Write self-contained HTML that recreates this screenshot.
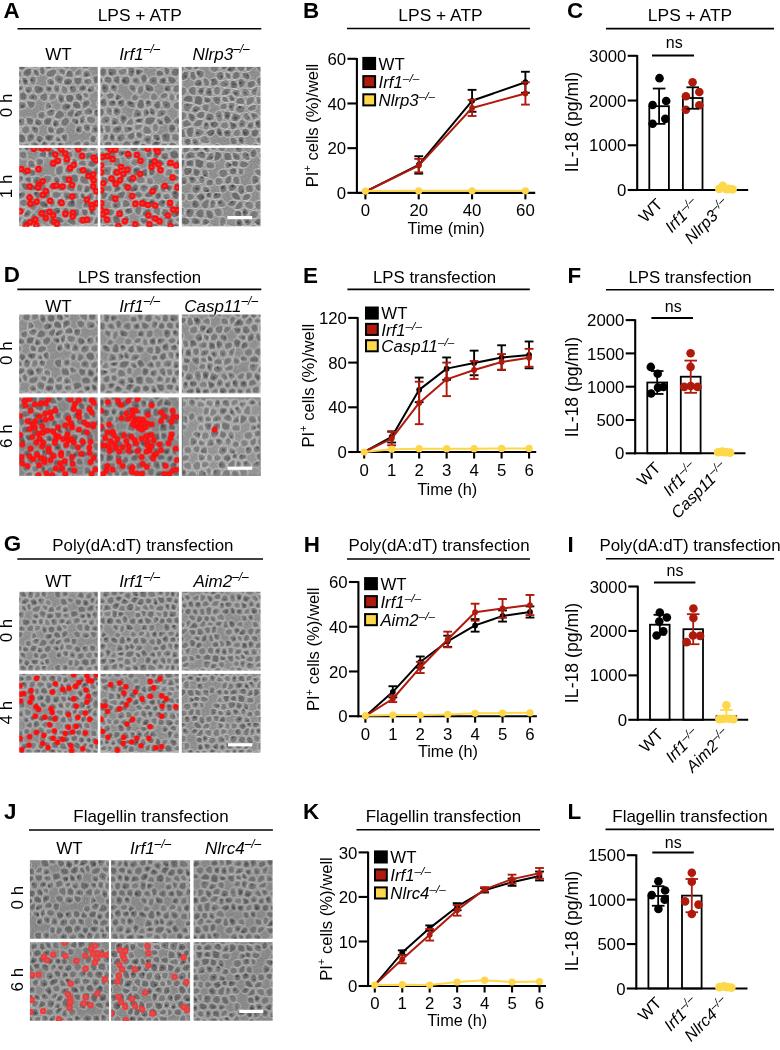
<!DOCTYPE html>
<html><head><meta charset="utf-8"><style>
html,body{margin:0;padding:0;background:#fff;width:780px;height:1050px;overflow:hidden}
svg{display:block;will-change:transform}
text{font-family:"Liberation Sans", sans-serif}
</style></head><body>
<svg width="780" height="1050" viewBox="0 0 780 1050" font-family='"Liberation Sans", sans-serif'>
<defs><pattern id="tx0" width="90" height="90" patternUnits="userSpaceOnUse"><rect width="90" height="90" fill="#929292"/><g stroke="#e4e4e4" stroke-width="0.9" stroke-linejoin="round"><path d="M-2.7 3.9Q-5.9 2.8 -5.7 -0.8Q-5.5 -4.4 -4.8 -5.2Q-4.0 -6.1 -0.2 -4.5Q3.6 -3.0 3.7 -2.8Q3.8 -2.7 3.5 0.2Q3.2 3.1 1.8 4.0Q0.5 4.9 -2.7 3.9Z" fill="rgb(104,104,104)"/><path d="M3.5 90.2Q3.2 93.1 1.8 94.0Q0.5 94.9 -2.7 93.9Q-5.9 92.8 -5.7 89.2Q-5.5 85.6 -4.8 84.8Q-4.0 83.9 -0.2 85.5Q3.6 87.0 3.7 87.2Q3.8 87.3 3.5 90.2Z" fill="rgb(104,104,104)"/><path d="M-5.9 12.1Q-3.2 13.6 -1.6 11.7Q-0.1 9.8 0.2 7.8Q0.5 5.8 -3.0 4.7Q-6.4 3.6 -6.5 3.7Q-6.6 3.7 -7.6 7.2Q-8.6 10.6 -5.9 12.1Z" fill="rgb(105,105,105)"/><path d="M-5.7 20.7Q-2.9 19.5 -0.8 20.6Q1.3 21.8 0.9 24.6Q0.6 27.4 -2.1 29.2Q-4.8 31.0 -7.1 29.2Q-9.3 27.5 -8.9 24.7Q-8.5 21.9 -5.7 20.7Z" fill="rgb(122,122,122)"/><circle cx="-3.5" cy="24.7" r="1.5" fill="#3e3e3e" stroke="none"/><path d="M-2.9 36.9Q-5.0 34.4 -7.2 36.2Q-9.4 38.0 -9.3 40.4Q-9.2 42.8 -7.1 44.0Q-5.0 45.2 -2.8 44.0Q-0.6 42.9 -0.7 41.2Q-0.8 39.4 -2.9 36.9Z" fill="rgb(107,107,107)"/><circle cx="-6.5" cy="40.1" r="1.0" fill="#3e3e3e" stroke="none"/><path d="M2.2 45.3Q4.1 46.4 4.0 49.5Q4.0 52.6 2.4 53.9Q0.9 55.2 -2.5 53.6Q-5.9 51.9 -5.1 49.3Q-4.4 46.6 -2.1 45.4Q0.2 44.3 2.2 45.3Z" fill="rgb(116,116,116)"/><path d="M-2.6 60.8Q0.5 60.2 0.6 58.0Q0.8 55.8 -2.8 54.1Q-6.3 52.4 -8.0 53.8Q-9.6 55.2 -9.4 56.9Q-9.3 58.7 -7.5 60.1Q-5.7 61.5 -2.6 60.8Z" fill="rgb(112,112,112)"/><circle cx="-4.1" cy="57.7" r="1.1" fill="#3e3e3e" stroke="none"/><path d="M2.8 69.1Q3.5 68.6 3.3 65.8Q3.1 63.1 1.8 61.9Q0.6 60.6 -2.5 61.3Q-5.6 62.0 -5.4 65.1Q-5.3 68.2 -1.6 68.9Q2.1 69.5 2.8 69.1Z" fill="rgb(108,108,108)"/><circle cx="-1.8" cy="64.1" r="0.9" fill="#3e3e3e" stroke="none"/><path d="M1.0 72.6Q1.6 70.3 -1.8 69.7Q-5.2 69.1 -7.1 70.6Q-8.9 72.1 -8.5 73.8Q-8.1 75.5 -6.4 77.2Q-4.6 78.8 -2.1 76.9Q0.3 75.0 1.0 72.6Z" fill="rgb(110,110,110)"/><circle cx="-3.4" cy="73.6" r="1.4" fill="#3e3e3e" stroke="none"/><path d="M84.3 -0.8Q84.1 2.8 87.3 3.9Q90.5 4.9 91.8 4.0Q93.2 3.1 93.5 0.2Q93.8 -2.7 93.7 -2.8Q93.6 -3.0 89.8 -4.5Q86.0 -6.1 85.2 -5.2Q84.5 -4.4 84.3 -0.8Z" fill="rgb(104,104,104)"/><path d="M31.6 -3.3Q31.1 -2.9 31.3 -0.0Q31.5 2.8 34.3 3.0Q37.0 3.2 37.2 3.0Q37.4 2.8 38.1 0.0Q38.9 -2.7 35.5 -3.2Q32.1 -3.8 31.6 -3.3Z" fill="rgb(105,105,105)"/><circle cx="32.7" cy="-0.1" r="1.0" fill="#3e3e3e" stroke="none"/><path d="M66.7 0.3Q67.8 3.5 69.7 4.2Q71.5 4.9 72.8 3.6Q74.2 2.4 74.4 -0.8Q74.7 -3.9 74.5 -4.3Q74.2 -4.6 70.4 -4.3Q66.6 -4.1 66.1 -3.5Q65.6 -2.9 66.7 0.3Z" fill="rgb(109,109,109)"/><circle cx="71.3" cy="-1.0" r="1.0" fill="#3e3e3e" stroke="none"/><path d="M75.1 -0.7Q74.8 2.5 78.9 2.8Q83.1 3.2 83.2 3.1Q83.2 3.1 83.5 -0.8Q83.7 -4.8 79.5 -4.4Q75.4 -3.9 75.1 -0.7Z" fill="rgb(109,109,109)"/><circle cx="79.1" cy="-0.7" r="1.0" fill="#3e3e3e" stroke="none"/><path d="M13.3 -7.5Q12.9 -2.9 9.0 -3.1Q5.1 -3.3 5.0 -3.5Q4.9 -3.6 6.1 -6.6Q7.3 -9.6 9.3 -10.8Q11.3 -12.1 12.4 -12.0Q13.6 -12.0 13.3 -7.5Z" fill="rgb(116,116,116)"/><circle cx="11.0" cy="-6.4" r="1.2" fill="#3e3e3e" stroke="none"/><path d="M14.0 -2.4Q13.3 -2.9 13.6 -7.4Q13.9 -12.0 15.3 -12.5Q16.7 -13.0 19.3 -11.8Q21.8 -10.5 21.8 -8.2Q21.8 -5.9 18.2 -3.9Q14.7 -1.8 14.0 -2.4Z" fill="rgb(104,104,104)"/><path d="M31.3 -3.7Q30.8 -3.3 27.6 -3.2Q24.4 -3.2 23.6 -4.5Q22.7 -5.9 22.7 -8.2Q22.7 -10.5 24.3 -11.3Q25.8 -12.1 28.3 -11.8Q30.7 -11.6 31.3 -7.9Q31.8 -4.1 31.3 -3.7Z" fill="rgb(109,109,109)"/><path d="M35.5 -3.7Q32.3 -4.2 31.8 -7.9Q31.3 -11.6 32.1 -12.0Q32.9 -12.4 36.4 -11.0Q39.9 -9.6 40.2 -7.2Q40.6 -4.8 39.7 -4.0Q38.8 -3.2 35.5 -3.7Z" fill="rgb(113,113,113)"/><circle cx="35.0" cy="-7.1" r="0.8" fill="#3e3e3e" stroke="none"/><path d="M58.1 -9.4Q57.6 -7.2 59.3 -5.7Q60.9 -4.1 62.9 -3.9Q64.9 -3.6 65.4 -4.2Q65.9 -4.8 66.1 -7.9Q66.2 -10.9 65.0 -11.8Q63.8 -12.7 61.2 -12.2Q58.6 -11.7 58.1 -9.4Z" fill="rgb(126,126,126)"/><circle cx="62.2" cy="-8.3" r="1.2" fill="#3e3e3e" stroke="none"/><path d="M72.3 -10.5Q70.8 -11.6 68.9 -11.4Q66.9 -11.1 66.7 -7.8Q66.5 -4.5 70.4 -4.8Q74.2 -5.0 74.1 -7.2Q73.9 -9.4 72.3 -10.5Z" fill="rgb(107,107,107)"/><path d="M89.8 85.5Q93.6 87.0 93.7 87.2Q93.8 87.3 93.5 90.2Q93.2 93.1 91.8 94.0Q90.5 94.9 87.3 93.9Q84.1 92.8 84.3 89.2Q84.5 85.6 85.2 84.8Q86.0 83.9 89.8 85.5Z" fill="rgb(104,104,104)"/><path d="M13.4 -1.7Q12.8 -2.2 9.0 -2.4Q5.3 -2.6 5.0 0.4Q4.7 3.3 6.7 4.4Q8.8 5.5 11.9 5.1Q15.0 4.6 14.5 1.7Q14.1 -1.2 13.4 -1.7Z" fill="rgb(119,119,119)"/><path d="M30.9 0.0Q30.7 -2.7 27.6 -2.6Q24.6 -2.6 24.4 0.5Q24.2 3.6 25.8 4.5Q27.4 5.4 29.2 4.0Q31.1 2.7 30.9 0.0Z" fill="rgb(123,123,123)"/><circle cx="29.5" cy="1.1" r="1.4" fill="#3e3e3e" stroke="none"/><path d="M37.2 93.0Q37.4 92.8 38.1 90.0Q38.9 87.3 35.5 86.8Q32.1 86.2 31.6 86.7Q31.1 87.1 31.3 90.0Q31.5 92.8 34.3 93.0Q37.0 93.2 37.2 93.0Z" fill="rgb(105,105,105)"/><circle cx="32.7" cy="89.9" r="1.0" fill="#3e3e3e" stroke="none"/><path d="M38.7 0.2Q39.4 -2.4 40.4 -3.2Q41.3 -4.0 44.9 -2.8Q48.4 -1.5 48.7 -0.1Q49.0 1.2 46.7 3.0Q44.4 4.8 41.2 3.8Q38.0 2.9 38.7 0.2Z" fill="rgb(117,117,117)"/><path d="M65.2 4.3Q66.8 3.6 65.8 0.6Q64.8 -2.4 62.8 -2.7Q60.8 -2.9 59.6 0.4Q58.3 3.7 60.9 4.4Q63.5 5.1 65.2 4.3Z" fill="rgb(127,127,127)"/><path d="M72.8 93.6Q71.5 94.9 69.7 94.2Q67.8 93.5 66.7 90.3Q65.6 87.1 66.1 86.5Q66.6 85.9 70.4 85.7Q74.2 85.4 74.5 85.7Q74.7 86.1 74.4 89.2Q74.2 92.4 72.8 93.6Z" fill="rgb(109,109,109)"/><circle cx="71.3" cy="89.0" r="1.0" fill="#3e3e3e" stroke="none"/><path d="M78.9 92.8Q83.1 93.2 83.2 93.1Q83.2 93.1 83.5 89.2Q83.7 85.2 79.5 85.6Q75.4 86.1 75.1 89.3Q74.8 92.5 78.9 92.8Z" fill="rgb(109,109,109)"/><circle cx="79.1" cy="89.3" r="1.0" fill="#3e3e3e" stroke="none"/><path d="M0.9 8.0Q1.3 6.1 2.7 5.2Q4.1 4.2 6.1 5.4Q8.2 6.5 8.2 10.1Q8.3 13.6 7.4 14.0Q6.6 14.4 3.6 12.2Q0.6 10.0 0.9 8.0Z" fill="rgb(120,120,120)"/><circle cx="4.4" cy="11.3" r="1.3" fill="#3e3e3e" stroke="none"/><path d="M20.5 13.4Q17.7 11.8 17.7 9.1Q17.6 6.4 20.6 5.4Q23.7 4.4 25.3 5.3Q26.9 6.3 27.7 8.4Q28.4 10.4 25.9 12.7Q23.3 15.0 20.5 13.4Z" fill="rgb(121,121,121)"/><path d="M34.2 3.6Q31.6 3.4 29.8 4.8Q28.0 6.1 28.6 8.0Q29.3 10.0 30.7 10.6Q32.1 11.3 34.5 10.9Q36.8 10.5 36.8 7.2Q36.7 3.8 34.2 3.6Z" fill="rgb(111,111,111)"/><circle cx="33.5" cy="6.4" r="0.8" fill="#3e3e3e" stroke="none"/><path d="M37.9 3.6Q38.1 3.4 41.1 4.3Q44.1 5.2 43.5 7.8Q42.9 10.4 41.3 11.1Q39.8 11.7 38.8 11.1Q37.9 10.5 37.8 7.2Q37.7 3.8 37.9 3.6Z" fill="rgb(115,115,115)"/><path d="M60.7 5.1Q63.5 5.8 62.7 9.2Q61.9 12.6 61.1 12.9Q60.3 13.1 57.0 11.3Q53.7 9.4 53.8 7.6Q54.0 5.8 55.9 5.1Q57.9 4.3 60.7 5.1Z" fill="rgb(120,120,120)"/><circle cx="60.8" cy="8.3" r="1.4" fill="#3e3e3e" stroke="none"/><path d="M65.7 5.4Q67.4 4.7 69.1 5.4Q70.9 6.1 71.5 8.5Q72.0 11.0 70.1 12.8Q68.1 14.6 65.3 13.5Q62.5 12.5 63.3 9.4Q64.0 6.2 65.7 5.4Z" fill="rgb(121,121,121)"/><path d="M74.9 11.5Q76.3 12.1 78.6 11.3Q80.9 10.4 82.0 7.0Q83.0 3.7 78.9 3.4Q74.8 3.0 73.5 4.3Q72.2 5.6 72.8 8.2Q73.4 10.8 74.9 11.5Z" fill="rgb(108,108,108)"/><circle cx="79.4" cy="7.4" r="0.8" fill="#3e3e3e" stroke="none"/><path d="M84.1 12.1Q81.4 10.6 82.4 7.2Q83.4 3.7 83.5 3.7Q83.6 3.6 87.0 4.7Q90.5 5.8 90.2 7.8Q89.9 9.8 88.4 11.7Q86.8 13.6 84.1 12.1Z" fill="rgb(105,105,105)"/><path d="M-2.2 16.1Q-2.3 13.9 -1.0 12.2Q0.4 10.5 3.3 12.6Q6.2 14.8 4.6 17.4Q3.1 20.0 2.5 20.2Q1.9 20.5 -0.1 19.3Q-2.1 18.2 -2.2 16.1Z" fill="rgb(126,126,126)"/><circle cx="1.7" cy="13.6" r="1.1" fill="#3e3e3e" stroke="none"/><path d="M7.9 14.9Q8.7 14.5 10.8 15.2Q13.0 15.9 13.3 18.1Q13.6 20.3 11.9 21.6Q10.2 22.9 7.1 21.7Q4.0 20.6 5.6 18.0Q7.1 15.3 7.9 14.9Z" fill="rgb(116,116,116)"/><circle cx="10.3" cy="17.8" r="0.8" fill="#3e3e3e" stroke="none"/><path d="M14.2 18.0Q14.5 20.4 16.3 21.2Q18.2 22.1 20.8 20.6Q23.5 19.1 23.3 17.3Q23.1 15.5 20.3 13.8Q17.5 12.2 15.7 13.9Q13.9 15.6 14.2 18.0Z" fill="rgb(125,125,125)"/><path d="M23.9 17.2Q24.1 19.0 25.5 20.1Q27.0 21.1 29.1 19.9Q31.3 18.7 31.6 15.5Q31.8 12.3 30.2 11.5Q28.7 10.8 26.2 13.1Q23.7 15.4 23.9 17.2Z" fill="rgb(111,111,111)"/><path d="M34.7 12.0Q37.1 11.7 38.1 12.3Q39.1 12.9 39.5 16.3Q39.9 19.7 38.7 20.6Q37.4 21.4 34.6 20.1Q31.8 18.7 32.0 15.6Q32.2 12.4 34.7 12.0Z" fill="rgb(119,119,119)"/><path d="M52.3 11.4Q51.0 12.9 51.0 16.1Q51.0 19.3 52.1 20.3Q53.2 21.2 55.9 19.8Q58.6 18.4 59.3 16.0Q59.9 13.6 56.7 11.8Q53.5 10.0 52.3 11.4Z" fill="rgb(115,115,115)"/><circle cx="55.7" cy="16.5" r="1.1" fill="#3e3e3e" stroke="none"/><path d="M67.8 17.7Q67.7 19.9 65.5 20.5Q63.3 21.2 61.3 19.8Q59.2 18.5 59.9 16.2Q60.6 13.8 61.3 13.6Q62.1 13.3 65.0 14.4Q67.9 15.5 67.8 17.7Z" fill="rgb(124,124,124)"/><circle cx="62.9" cy="17.2" r="0.8" fill="#3e3e3e" stroke="none"/><path d="M69.4 20.8Q68.7 19.9 68.8 17.8Q69.0 15.6 71.0 13.7Q73.0 11.8 74.5 12.5Q75.9 13.1 77.2 16.4Q78.4 19.7 74.3 20.7Q70.1 21.7 69.4 20.8Z" fill="rgb(121,121,121)"/><circle cx="73.7" cy="18.4" r="1.1" fill="#3e3e3e" stroke="none"/><path d="M78.1 16.1Q76.9 12.9 79.0 12.1Q81.2 11.3 83.7 12.6Q86.3 14.0 86.4 16.2Q86.5 18.4 83.8 19.5Q81.1 20.7 80.2 20.0Q79.3 19.2 78.1 16.1Z" fill="rgb(118,118,118)"/><circle cx="81.7" cy="15.1" r="1.3" fill="#3e3e3e" stroke="none"/><path d="M3.0 28.5Q4.3 29.5 7.2 28.2Q10.0 26.9 9.9 25.4Q9.8 23.9 6.7 22.8Q3.6 21.6 3.0 21.8Q2.4 22.1 2.1 24.8Q1.7 27.5 3.0 28.5Z" fill="rgb(116,116,116)"/><circle cx="7.1" cy="27.2" r="1.4" fill="#3e3e3e" stroke="none"/><path d="M21.1 21.2Q18.7 22.6 19.1 24.9Q19.5 27.3 20.7 28.6Q22.0 29.9 24.7 28.6Q27.3 27.3 26.8 24.5Q26.3 21.8 25.0 20.8Q23.6 19.8 21.1 21.2Z" fill="rgb(115,115,115)"/><circle cx="22.2" cy="23.5" r="1.4" fill="#3e3e3e" stroke="none"/><path d="M27.8 24.4Q27.2 21.5 29.4 20.4Q31.6 19.2 34.4 20.6Q37.3 22.0 36.4 24.2Q35.6 26.5 32.8 27.2Q29.9 28.0 29.1 27.6Q28.3 27.3 27.8 24.4Z" fill="rgb(112,112,112)"/><circle cx="32.3" cy="22.1" r="1.5" fill="#3e3e3e" stroke="none"/><path d="M38.6 29.6Q40.9 32.4 42.8 30.6Q44.6 28.7 44.3 25.1Q44.0 21.5 42.3 20.9Q40.5 20.3 39.2 21.2Q37.9 22.1 37.0 24.5Q36.2 26.8 38.6 29.6Z" fill="rgb(115,115,115)"/><circle cx="42.1" cy="27.1" r="1.0" fill="#3e3e3e" stroke="none"/><path d="M52.6 27.8Q53.8 26.6 53.2 24.3Q52.6 22.0 51.4 21.1Q50.3 20.2 47.4 20.9Q44.4 21.6 44.7 25.1Q45.0 28.6 48.2 28.8Q51.4 29.0 52.6 27.8Z" fill="rgb(118,118,118)"/><path d="M59.8 27.8Q59.2 28.1 57.1 27.2Q54.9 26.2 54.3 24.0Q53.7 21.8 56.4 20.4Q59.0 19.1 60.9 20.4Q62.9 21.7 61.7 24.6Q60.4 27.6 59.8 27.8Z" fill="rgb(113,113,113)"/><path d="M68.7 21.4Q68.0 20.5 65.7 21.1Q63.5 21.8 62.1 24.9Q60.8 28.0 64.6 28.5Q68.3 29.1 69.2 28.4Q70.1 27.6 69.8 24.9Q69.4 22.3 68.7 21.4Z" fill="rgb(105,105,105)"/><circle cx="64.4" cy="25.9" r="0.9" fill="#3e3e3e" stroke="none"/><path d="M84.3 20.7Q81.5 21.9 81.1 24.7Q80.7 27.5 82.9 29.2Q85.2 31.0 87.9 29.2Q90.6 27.4 90.9 24.6Q91.3 21.8 89.2 20.6Q87.1 19.5 84.3 20.7Z" fill="rgb(122,122,122)"/><circle cx="86.5" cy="24.7" r="1.5" fill="#3e3e3e" stroke="none"/><path d="M-4.3 32.7Q-4.4 31.8 -1.6 29.9Q1.1 28.1 2.4 29.2Q3.8 30.2 4.6 32.2Q5.3 34.1 2.8 36.5Q0.2 38.8 -2.0 36.2Q-4.2 33.5 -4.3 32.7Z" fill="rgb(104,104,104)"/><circle cx="2.2" cy="33.4" r="1.1" fill="#3e3e3e" stroke="none"/><path d="M5.3 31.9Q4.5 30.0 7.4 28.6Q10.3 27.3 11.0 28.4Q11.7 29.4 11.4 31.6Q11.2 33.9 10.5 34.2Q9.7 34.5 7.9 34.1Q6.0 33.7 5.3 31.9Z" fill="rgb(104,104,104)"/><circle cx="7.9" cy="30.6" r="1.1" fill="#3e3e3e" stroke="none"/><path d="M12.2 31.8Q11.9 34.1 13.9 35.1Q15.9 36.0 18.4 34.6Q20.9 33.2 21.2 31.9Q21.5 30.6 20.2 29.3Q18.8 27.9 15.6 28.7Q12.4 29.4 12.2 31.8Z" fill="rgb(108,108,108)"/><circle cx="15.3" cy="30.5" r="1.3" fill="#3e3e3e" stroke="none"/><path d="M39.1 36.3Q37.7 36.8 34.6 35.8Q31.4 34.8 30.7 31.7Q30.1 28.6 32.9 27.9Q35.8 27.1 38.1 29.9Q40.5 32.7 40.5 34.3Q40.5 35.8 39.1 36.3Z" fill="rgb(104,104,104)"/><path d="M41.6 34.2Q41.6 35.6 42.4 36.3Q43.3 37.0 46.8 36.4Q50.4 35.7 50.8 32.7Q51.2 29.6 48.2 29.4Q45.1 29.3 43.4 31.0Q41.6 32.7 41.6 34.2Z" fill="rgb(113,113,113)"/><path d="M60.2 28.8Q59.6 29.1 59.8 32.1Q60.1 35.1 61.4 36.1Q62.7 37.1 65.1 35.9Q67.5 34.7 67.8 32.2Q68.1 29.7 64.5 29.1Q60.8 28.6 60.2 28.8Z" fill="rgb(119,119,119)"/><circle cx="63.7" cy="33.4" r="0.9" fill="#3e3e3e" stroke="none"/><path d="M68.6 32.3Q68.3 34.8 70.2 36.5Q72.1 38.2 73.7 36.9Q75.3 35.7 75.5 32.7Q75.7 29.7 73.2 29.1Q70.7 28.4 69.8 29.1Q68.9 29.9 68.6 32.3Z" fill="rgb(127,127,127)"/><path d="M76.1 32.8Q75.9 35.8 78.0 36.6Q80.1 37.5 82.4 35.6Q84.7 33.7 84.6 32.8Q84.5 31.9 82.3 30.1Q80.0 28.3 78.2 29.0Q76.3 29.8 76.1 32.8Z" fill="rgb(122,122,122)"/><path d="M3.1 36.9Q0.4 39.4 0.5 41.3Q0.6 43.2 2.7 44.3Q4.8 45.5 6.4 45.1Q8.0 44.7 8.9 40.0Q9.8 35.2 7.8 34.8Q5.8 34.5 3.1 36.9Z" fill="rgb(118,118,118)"/><path d="M9.3 40.0Q8.4 44.6 10.1 44.9Q11.8 45.2 13.8 43.8Q15.9 42.4 15.7 39.6Q15.6 36.7 13.6 35.7Q11.6 34.8 10.9 35.1Q10.1 35.4 9.3 40.0Z" fill="rgb(124,124,124)"/><circle cx="12.0" cy="38.8" r="0.9" fill="#3e3e3e" stroke="none"/><path d="M25.9 40.5Q25.9 41.3 24.2 42.8Q22.5 44.4 19.6 43.4Q16.6 42.5 16.4 39.5Q16.2 36.6 18.7 35.2Q21.3 33.8 23.6 36.7Q25.9 39.7 25.9 40.5Z" fill="rgb(128,128,128)"/><circle cx="19.8" cy="38.5" r="1.3" fill="#3e3e3e" stroke="none"/><path d="M26.6 40.5Q26.7 41.3 29.7 42.8Q32.8 44.3 35.2 40.7Q37.6 37.2 34.4 36.2Q31.3 35.2 29.0 37.5Q26.6 39.7 26.6 40.5Z" fill="rgb(113,113,113)"/><circle cx="31.3" cy="38.3" r="1.1" fill="#3e3e3e" stroke="none"/><path d="M33.6 45.2Q33.2 44.5 35.6 41.0Q38.0 37.6 39.3 37.1Q40.7 36.6 41.5 37.4Q42.4 38.1 42.8 40.3Q43.2 42.5 41.9 43.9Q40.7 45.4 37.3 45.7Q34.0 46.0 33.6 45.2Z" fill="rgb(114,114,114)"/><path d="M51.8 37.6Q53.0 38.5 53.3 41.6Q53.6 44.6 51.5 45.4Q49.3 46.3 46.7 44.3Q44.1 42.3 43.7 40.2Q43.3 38.0 47.0 37.3Q50.6 36.6 51.8 37.6Z" fill="rgb(126,126,126)"/><path d="M60.9 45.3Q62.9 43.7 62.6 40.6Q62.4 37.6 61.0 36.6Q59.6 35.6 56.7 37.0Q53.7 38.4 54.0 41.5Q54.3 44.7 56.6 45.8Q58.8 46.9 60.9 45.3Z" fill="rgb(122,122,122)"/><path d="M64.8 43.8Q63.4 43.6 63.2 40.6Q62.9 37.6 65.4 36.4Q67.8 35.2 69.8 36.9Q71.8 38.7 71.7 40.1Q71.7 41.5 68.9 42.7Q66.1 44.0 64.8 43.8Z" fill="rgb(122,122,122)"/><path d="M87.2 44.0Q89.4 42.9 89.3 41.2Q89.2 39.4 87.1 36.9Q85.0 34.4 82.8 36.2Q80.6 38.0 80.7 40.4Q80.8 42.8 82.9 44.0Q85.0 45.2 87.2 44.0Z" fill="rgb(107,107,107)"/><circle cx="83.5" cy="40.1" r="1.0" fill="#3e3e3e" stroke="none"/><path d="M92.4 53.9Q90.9 55.2 87.5 53.6Q84.1 51.9 84.9 49.3Q85.6 46.6 87.9 45.4Q90.2 44.3 92.2 45.3Q94.1 46.4 94.0 49.5Q94.0 52.6 92.4 53.9Z" fill="rgb(116,116,116)"/><path d="M6.6 45.9Q5.0 46.3 5.0 49.5Q4.9 52.7 7.7 54.5Q10.4 56.3 12.5 54.6Q14.6 53.0 13.1 49.6Q11.6 46.2 9.9 45.9Q8.2 45.5 6.6 45.9Z" fill="rgb(109,109,109)"/><path d="M19.3 44.1Q22.2 45.1 22.3 48.2Q22.4 51.3 20.2 52.2Q18.0 53.1 16.6 52.9Q15.3 52.6 13.8 49.3Q12.3 46.0 14.3 44.6Q16.4 43.2 19.3 44.1Z" fill="rgb(127,127,127)"/><path d="M33.6 49.1Q33.9 46.4 37.3 46.1Q40.8 45.8 41.2 49.7Q41.7 53.7 41.7 53.7Q41.7 53.7 38.8 53.7Q36.0 53.8 34.7 52.8Q33.4 51.8 33.6 49.1Z" fill="rgb(110,110,110)"/><circle cx="39.4" cy="49.2" r="0.9" fill="#3e3e3e" stroke="none"/><path d="M44.6 52.8Q42.0 53.6 41.6 49.7Q41.1 45.7 42.4 44.3Q43.6 42.8 46.3 44.9Q49.0 46.9 48.1 49.4Q47.2 52.0 44.6 52.8Z" fill="rgb(114,114,114)"/><circle cx="44.2" cy="48.3" r="1.4" fill="#3e3e3e" stroke="none"/><path d="M50.3 54.1Q48.1 52.1 49.0 49.7Q49.8 47.4 51.9 46.6Q54.0 45.7 56.0 46.8Q58.1 47.8 58.4 50.0Q58.7 52.2 55.6 54.1Q52.5 56.1 50.3 54.1Z" fill="rgb(121,121,121)"/><path d="M65.6 53.7Q68.9 53.7 69.5 53.1Q70.2 52.5 68.1 48.7Q66.0 44.9 64.7 44.7Q63.4 44.5 61.5 46.0Q59.6 47.5 60.0 49.7Q60.3 52.0 61.3 52.8Q62.3 53.7 65.6 53.7Z" fill="rgb(122,122,122)"/><circle cx="66.5" cy="49.3" r="1.4" fill="#3e3e3e" stroke="none"/><path d="M74.0 48.1Q74.5 44.8 73.2 43.5Q71.8 42.3 69.3 43.5Q66.7 44.6 68.7 48.4Q70.8 52.1 72.1 51.7Q73.4 51.4 74.0 48.1Z" fill="rgb(126,126,126)"/><path d="M83.9 49.0Q83.1 51.8 81.5 53.2Q79.9 54.5 77.0 53.2Q74.2 51.8 74.8 48.3Q75.4 44.7 77.8 44.2Q80.3 43.7 82.5 44.9Q84.7 46.2 83.9 49.0Z" fill="rgb(117,117,117)"/><circle cx="78.1" cy="47.5" r="1.2" fill="#3e3e3e" stroke="none"/><path d="M2.5 61.2Q3.6 62.3 6.6 60.6Q9.6 59.0 9.7 57.9Q9.8 56.9 7.2 55.2Q4.6 53.5 3.1 54.7Q1.6 56.0 1.5 58.0Q1.4 60.0 2.5 61.2Z" fill="rgb(111,111,111)"/><circle cx="5.5" cy="58.7" r="0.9" fill="#3e3e3e" stroke="none"/><path d="M24.5 53.2Q22.8 52.2 20.6 53.1Q18.3 54.1 18.8 58.2Q19.3 62.3 20.3 62.9Q21.3 63.6 23.7 61.5Q26.0 59.4 26.1 56.8Q26.2 54.2 24.5 53.2Z" fill="rgb(124,124,124)"/><path d="M37.2 62.5Q34.8 61.7 35.4 58.1Q35.9 54.4 38.8 54.4Q41.7 54.4 42.4 57.7Q43.1 61.0 41.4 62.2Q39.7 63.3 37.2 62.5Z" fill="rgb(107,107,107)"/><circle cx="38.5" cy="59.2" r="1.4" fill="#3e3e3e" stroke="none"/><path d="M42.5 54.5Q42.5 54.5 43.2 57.6Q43.8 60.7 46.1 61.8Q48.3 62.9 50.0 60.7Q51.6 58.5 51.7 57.7Q51.7 57.0 49.5 55.0Q47.4 53.0 44.9 53.7Q42.5 54.5 42.5 54.5Z" fill="rgb(121,121,121)"/><circle cx="46.9" cy="57.8" r="1.3" fill="#3e3e3e" stroke="none"/><path d="M61.2 58.3Q61.4 54.8 60.4 54.0Q59.3 53.1 56.2 55.1Q53.1 57.1 53.0 57.8Q53.0 58.6 56.0 60.7Q59.0 62.7 60.0 62.2Q61.0 61.7 61.2 58.3Z" fill="rgb(104,104,104)"/><circle cx="57.3" cy="59.4" r="1.2" fill="#3e3e3e" stroke="none"/><path d="M65.6 54.7Q68.9 54.8 69.2 57.6Q69.4 60.3 68.1 62.2Q66.7 64.1 64.3 63.0Q61.8 61.9 62.0 58.3Q62.2 54.7 65.6 54.7Z" fill="rgb(122,122,122)"/><circle cx="65.5" cy="58.8" r="1.4" fill="#3e3e3e" stroke="none"/><path d="M79.5 57.0Q79.7 58.7 78.1 60.3Q76.5 61.8 73.4 61.0Q70.2 60.3 70.0 57.5Q69.7 54.7 70.4 54.1Q71.1 53.4 72.5 53.1Q73.8 52.7 76.6 54.0Q79.4 55.3 79.5 57.0Z" fill="rgb(106,106,106)"/><path d="M87.2 54.1Q90.8 55.8 90.6 58.0Q90.5 60.2 87.4 60.8Q84.3 61.5 82.5 60.1Q80.7 58.7 80.6 56.9Q80.4 55.2 82.0 53.8Q83.7 52.4 87.2 54.1Z" fill="rgb(112,112,112)"/><circle cx="85.9" cy="57.7" r="1.1" fill="#3e3e3e" stroke="none"/><path d="M91.8 61.9Q90.6 60.6 87.5 61.3Q84.4 62.0 84.6 65.1Q84.7 68.2 88.4 68.9Q92.1 69.5 92.8 69.1Q93.5 68.6 93.3 65.8Q93.1 63.1 91.8 61.9Z" fill="rgb(108,108,108)"/><circle cx="88.2" cy="64.1" r="0.9" fill="#3e3e3e" stroke="none"/><path d="M5.1 68.5Q4.4 68.3 4.1 65.7Q3.9 63.1 7.0 61.4Q10.1 59.7 11.5 61.5Q12.9 63.3 12.2 65.0Q11.5 66.8 8.7 67.7Q5.9 68.7 5.1 68.5Z" fill="rgb(121,121,121)"/><path d="M12.9 65.3Q12.2 67.1 14.4 69.7Q16.7 72.3 19.0 69.0Q21.2 65.7 21.1 65.0Q20.9 64.3 19.9 63.7Q18.8 63.0 16.2 63.3Q13.6 63.5 12.9 65.3Z" fill="rgb(126,126,126)"/><circle cx="15.4" cy="66.3" r="1.1" fill="#3e3e3e" stroke="none"/><path d="M24.2 66.9Q22.2 65.5 22.0 64.8Q21.8 64.1 24.2 62.0Q26.5 59.9 29.2 61.7Q31.9 63.5 31.6 65.1Q31.3 66.8 28.7 67.6Q26.2 68.4 24.2 66.9Z" fill="rgb(127,127,127)"/><circle cx="27.0" cy="64.5" r="1.5" fill="#3e3e3e" stroke="none"/><path d="M33.7 62.9Q32.7 63.7 32.4 65.3Q32.1 66.9 33.5 68.6Q34.8 70.3 37.2 69.8Q39.7 69.3 39.6 66.6Q39.5 63.8 37.1 63.0Q34.7 62.2 33.7 62.9Z" fill="rgb(110,110,110)"/><circle cx="36.9" cy="66.0" r="1.3" fill="#3e3e3e" stroke="none"/><path d="M40.2 66.5Q40.3 69.3 41.5 70.0Q42.7 70.7 45.8 69.1Q48.8 67.5 48.4 65.7Q48.0 63.8 45.7 62.6Q43.3 61.5 41.7 62.6Q40.1 63.7 40.2 66.5Z" fill="rgb(126,126,126)"/><circle cx="42.5" cy="66.0" r="0.9" fill="#3e3e3e" stroke="none"/><path d="M57.5 65.7Q56.4 68.0 55.1 69.0Q53.9 69.9 51.9 68.6Q49.9 67.2 49.6 65.4Q49.2 63.6 50.9 61.4Q52.5 59.2 55.6 61.2Q58.7 63.3 57.5 65.7Z" fill="rgb(119,119,119)"/><circle cx="53.5" cy="63.8" r="1.2" fill="#3e3e3e" stroke="none"/><path d="M64.0 63.6Q66.6 64.8 67.0 66.4Q67.5 68.0 66.5 69.1Q65.4 70.2 61.2 69.3Q56.9 68.5 58.2 66.0Q59.4 63.5 60.4 63.0Q61.5 62.5 64.0 63.6Z" fill="rgb(126,126,126)"/><circle cx="61.2" cy="68.2" r="0.8" fill="#3e3e3e" stroke="none"/><path d="M68.8 62.7Q70.1 60.8 73.2 61.6Q76.3 62.4 75.9 65.7Q75.4 69.0 74.3 69.2Q73.2 69.4 70.8 68.5Q68.4 67.7 67.9 66.1Q67.4 64.6 68.8 62.7Z" fill="rgb(122,122,122)"/><path d="M83.8 65.1Q83.7 62.3 82.0 61.0Q80.3 59.7 78.8 61.1Q77.3 62.6 76.8 65.8Q76.4 69.0 78.3 70.0Q80.2 71.0 82.1 69.5Q83.9 68.0 83.8 65.1Z" fill="rgb(124,124,124)"/><circle cx="80.3" cy="64.8" r="1.4" fill="#3e3e3e" stroke="none"/><path d="M4.7 69.5Q4.0 69.3 3.3 69.8Q2.6 70.3 1.9 72.8Q1.3 75.3 4.1 77.6Q7.0 79.8 8.9 78.6Q10.9 77.3 8.2 73.5Q5.5 69.7 4.7 69.5Z" fill="rgb(122,122,122)"/><circle cx="5.3" cy="74.5" r="1.5" fill="#3e3e3e" stroke="none"/><path d="M8.7 73.2Q6.1 69.5 8.9 68.5Q11.8 67.5 14.0 70.1Q16.2 72.6 16.2 74.3Q16.3 76.0 14.9 76.5Q13.5 77.0 12.4 76.9Q11.3 76.9 8.7 73.2Z" fill="rgb(127,127,127)"/><circle cx="11.0" cy="70.7" r="1.3" fill="#3e3e3e" stroke="none"/><path d="M17.2 74.3Q17.2 72.6 19.5 69.3Q21.7 66.1 23.7 67.5Q25.7 69.0 25.5 73.0Q25.3 76.9 23.8 77.7Q22.2 78.5 19.7 77.2Q17.2 76.0 17.2 74.3Z" fill="rgb(121,121,121)"/><path d="M37.4 70.6Q39.8 70.2 41.0 70.9Q42.2 71.5 42.3 74.2Q42.4 76.8 41.3 78.1Q40.1 79.5 36.7 78.2Q33.3 76.8 34.2 74.0Q35.0 71.1 37.4 70.6Z" fill="rgb(113,113,113)"/><circle cx="37.6" cy="73.8" r="1.2" fill="#3e3e3e" stroke="none"/><path d="M68.8 78.1Q66.9 78.3 65.6 77.4Q64.3 76.4 65.1 73.5Q65.9 70.6 66.9 69.5Q68.0 68.5 70.5 69.4Q73.0 70.3 71.9 74.0Q70.7 77.8 68.8 78.1Z" fill="rgb(115,115,115)"/><path d="M72.7 79.0Q71.2 77.9 72.3 74.2Q73.4 70.5 74.5 70.3Q75.6 70.1 77.7 71.2Q79.7 72.3 80.1 74.1Q80.6 75.9 77.4 78.0Q74.2 80.1 72.7 79.0Z" fill="rgb(116,116,116)"/><path d="M88.2 69.7Q91.6 70.3 91.0 72.6Q90.3 75.0 87.9 76.9Q85.4 78.8 83.6 77.2Q81.9 75.5 81.5 73.8Q81.1 72.1 82.9 70.6Q84.8 69.1 88.2 69.7Z" fill="rgb(110,110,110)"/><circle cx="86.6" cy="73.6" r="1.4" fill="#3e3e3e" stroke="none"/><path d="M3.9 77.9Q6.7 80.2 5.5 83.1Q4.3 86.1 0.2 84.5Q-3.9 82.8 -4.1 81.3Q-4.3 79.8 -1.7 77.7Q1.0 75.6 3.9 77.9Z" fill="rgb(114,114,114)"/><circle cx="1.6" cy="79.0" r="1.1" fill="#3e3e3e" stroke="none"/><path d="M9.0 86.9Q12.9 87.1 13.3 82.5Q13.6 78.0 12.4 78.0Q11.3 77.9 9.3 79.2Q7.3 80.4 6.1 83.4Q4.9 86.4 5.0 86.5Q5.1 86.7 9.0 86.9Z" fill="rgb(116,116,116)"/><circle cx="11.0" cy="83.6" r="1.2" fill="#3e3e3e" stroke="none"/><path d="M14.0 87.6Q13.3 87.1 13.6 82.6Q13.9 78.0 15.3 77.5Q16.7 77.0 19.3 78.2Q21.8 79.5 21.8 81.8Q21.8 84.1 18.2 86.1Q14.7 88.2 14.0 87.6Z" fill="rgb(104,104,104)"/><path d="M24.3 78.7Q22.7 79.5 22.7 81.8Q22.7 84.1 23.6 85.5Q24.4 86.8 27.6 86.8Q30.8 86.7 31.3 86.3Q31.8 85.9 31.3 82.1Q30.7 78.4 28.3 78.2Q25.8 77.9 24.3 78.7Z" fill="rgb(109,109,109)"/><path d="M40.2 82.8Q40.6 85.2 39.7 86.0Q38.8 86.8 35.5 86.3Q32.3 85.8 31.8 82.1Q31.3 78.4 32.1 78.0Q32.9 77.6 36.4 79.0Q39.9 80.4 40.2 82.8Z" fill="rgb(113,113,113)"/><circle cx="35.0" cy="82.9" r="0.8" fill="#3e3e3e" stroke="none"/><path d="M49.2 81.7Q50.4 85.4 49.6 86.4Q48.7 87.4 45.2 86.2Q41.8 85.0 41.4 82.6Q41.0 80.2 42.1 78.9Q43.3 77.5 45.6 77.7Q48.0 78.0 49.2 81.7Z" fill="rgb(122,122,122)"/><circle cx="47.0" cy="80.9" r="1.2" fill="#3e3e3e" stroke="none"/><path d="M53.6 83.9Q56.2 82.5 56.7 80.2Q57.3 77.9 55.6 75.8Q53.9 73.7 51.2 75.8Q48.5 77.8 49.7 81.5Q50.9 85.2 53.6 83.9Z" fill="rgb(108,108,108)"/><path d="M66.1 82.1Q66.2 79.1 65.0 78.2Q63.8 77.3 61.2 77.8Q58.6 78.3 58.1 80.6Q57.6 82.8 59.3 84.3Q60.9 85.9 62.9 86.1Q64.9 86.4 65.4 85.8Q65.9 85.2 66.1 82.1Z" fill="rgb(126,126,126)"/><circle cx="62.2" cy="81.7" r="1.2" fill="#3e3e3e" stroke="none"/><path d="M68.9 78.6Q66.9 78.9 66.7 82.2Q66.5 85.5 70.4 85.2Q74.2 85.0 74.1 82.8Q73.9 80.6 72.3 79.5Q70.8 78.4 68.9 78.6Z" fill="rgb(107,107,107)"/><path d="M84.9 81.4Q85.1 82.9 84.3 83.8Q83.5 84.7 79.5 85.1Q75.4 85.5 75.1 85.2Q74.9 84.9 74.7 82.7Q74.5 80.5 77.7 78.4Q80.9 76.3 82.8 78.1Q84.7 79.9 84.9 81.4Z" fill="rgb(117,117,117)"/><circle cx="79.1" cy="82.0" r="1.0" fill="#3e3e3e" stroke="none"/><path d="M13.4 88.3Q12.8 87.8 9.0 87.6Q5.3 87.4 5.0 90.4Q4.7 93.3 6.7 94.4Q8.8 95.5 11.9 95.1Q15.0 94.6 14.5 91.7Q14.1 88.8 13.4 88.3Z" fill="rgb(119,119,119)"/><path d="M27.6 87.4Q24.6 87.4 24.4 90.5Q24.2 93.6 25.8 94.5Q27.4 95.4 29.2 94.0Q31.1 92.7 30.9 90.0Q30.7 87.3 27.6 87.4Z" fill="rgb(123,123,123)"/><circle cx="29.5" cy="91.1" r="1.4" fill="#3e3e3e" stroke="none"/><path d="M48.7 89.9Q49.0 91.2 46.7 93.0Q44.4 94.8 41.2 93.8Q38.0 92.9 38.7 90.2Q39.4 87.6 40.4 86.8Q41.3 86.0 44.9 87.2Q48.4 88.5 48.7 89.9Z" fill="rgb(117,117,117)"/><path d="M59.6 90.4Q58.3 93.7 60.9 94.4Q63.5 95.1 65.2 94.3Q66.8 93.6 65.8 90.6Q64.8 87.6 62.8 87.3Q60.8 87.1 59.6 90.4Z" fill="rgb(127,127,127)"/><path d="M34.5 100.9Q36.8 100.5 36.8 97.2Q36.7 93.8 34.2 93.6Q31.6 93.4 29.8 94.8Q28.0 96.1 28.6 98.0Q29.3 100.0 30.7 100.6Q32.1 101.3 34.5 100.9Z" fill="rgb(111,111,111)"/><circle cx="33.5" cy="96.4" r="0.8" fill="#3e3e3e" stroke="none"/><path d="M43.5 97.8Q44.1 95.2 41.1 94.3Q38.1 93.4 37.9 93.6Q37.7 93.8 37.8 97.2Q37.9 100.5 38.8 101.1Q39.8 101.7 41.3 101.1Q42.9 100.4 43.5 97.8Z" fill="rgb(115,115,115)"/><path d="M74.9 101.5Q73.4 100.8 72.8 98.2Q72.2 95.6 73.5 94.3Q74.8 93.0 78.9 93.4Q83.0 93.7 82.0 97.0Q80.9 100.4 78.6 101.3Q76.3 102.1 74.9 101.5Z" fill="rgb(108,108,108)"/><circle cx="79.4" cy="97.4" r="0.8" fill="#3e3e3e" stroke="none"/><path d="M90.9 8.0Q91.3 6.1 92.7 5.2Q94.1 4.2 96.1 5.4Q98.2 6.5 98.2 10.1Q98.3 13.6 97.4 14.0Q96.6 14.4 93.6 12.2Q90.6 10.0 90.9 8.0Z" fill="rgb(120,120,120)"/><circle cx="94.4" cy="11.3" r="1.3" fill="#3e3e3e" stroke="none"/><path d="M87.8 16.1Q87.7 13.9 89.0 12.2Q90.4 10.5 93.3 12.6Q96.2 14.8 94.6 17.4Q93.1 20.0 92.5 20.2Q91.9 20.5 89.9 19.3Q87.9 18.2 87.8 16.1Z" fill="rgb(126,126,126)"/><circle cx="91.7" cy="13.6" r="1.1" fill="#3e3e3e" stroke="none"/><path d="M99.9 25.4Q100.0 26.9 97.2 28.2Q94.3 29.5 93.0 28.5Q91.7 27.5 92.1 24.8Q92.4 22.1 93.0 21.8Q93.6 21.6 96.7 22.8Q99.8 23.9 99.9 25.4Z" fill="rgb(116,116,116)"/><circle cx="97.1" cy="27.2" r="1.4" fill="#3e3e3e" stroke="none"/><path d="M94.6 32.2Q95.3 34.1 92.8 36.5Q90.2 38.8 88.0 36.2Q85.8 33.5 85.7 32.7Q85.6 31.8 88.4 29.9Q91.1 28.1 92.4 29.2Q93.8 30.2 94.6 32.2Z" fill="rgb(104,104,104)"/><circle cx="92.2" cy="33.4" r="1.1" fill="#3e3e3e" stroke="none"/><path d="M92.7 44.3Q90.6 43.2 90.5 41.3Q90.4 39.4 93.1 36.9Q95.8 34.5 97.8 34.8Q99.8 35.2 98.9 40.0Q98.0 44.7 96.4 45.1Q94.8 45.5 92.7 44.3Z" fill="rgb(118,118,118)"/><path d="M93.1 54.7Q91.6 56.0 91.5 58.0Q91.4 60.0 92.5 61.2Q93.6 62.3 96.6 60.6Q99.6 59.0 99.7 57.9Q99.8 56.9 97.2 55.2Q94.6 53.5 93.1 54.7Z" fill="rgb(111,111,111)"/><circle cx="95.5" cy="58.7" r="0.9" fill="#3e3e3e" stroke="none"/><path d="M93.3 69.8Q94.0 69.3 94.7 69.5Q95.5 69.7 98.2 73.5Q100.9 77.3 98.9 78.6Q97.0 79.8 94.1 77.6Q91.3 75.3 91.9 72.8Q92.6 70.3 93.3 69.8Z" fill="rgb(122,122,122)"/><circle cx="95.3" cy="74.5" r="1.5" fill="#3e3e3e" stroke="none"/><path d="M95.5 83.1Q96.7 80.2 93.9 77.9Q91.0 75.6 88.3 77.7Q85.7 79.8 85.9 81.3Q86.1 82.8 90.2 84.5Q94.3 86.1 95.5 83.1Z" fill="rgb(114,114,114)"/><circle cx="91.6" cy="79.0" r="1.1" fill="#3e3e3e" stroke="none"/></g></pattern><pattern id="tx1" width="90" height="90" patternUnits="userSpaceOnUse"><rect width="90" height="90" fill="#929292"/><g stroke="#e4e4e4" stroke-width="0.9" stroke-linejoin="round"><path d="M-8.6 11.9Q-6.8 13.5 -4.3 12.0Q-1.7 10.5 -2.3 7.8Q-2.9 5.1 -3.6 4.6Q-4.3 4.1 -6.7 4.9Q-9.0 5.7 -9.7 8.0Q-10.4 10.3 -8.6 11.9Z" fill="rgb(128,128,128)"/><circle cx="-7.9" cy="9.4" r="1.4" fill="#3e3e3e" stroke="none"/><path d="M-3.8 31.9Q-3.9 34.5 -1.9 35.9Q0.1 37.3 1.4 36.6Q2.8 35.9 3.8 32.6Q4.8 29.2 3.2 28.5Q1.5 27.8 -1.1 28.5Q-3.7 29.2 -3.8 31.9Z" fill="rgb(112,112,112)"/><circle cx="-0.8" cy="30.2" r="1.0" fill="#3e3e3e" stroke="none"/><path d="M-4.1 31.9Q-4.3 34.5 -7.8 34.5Q-11.3 34.5 -12.1 33.7Q-12.8 32.9 -13.2 31.3Q-13.7 29.6 -10.3 27.6Q-7.0 25.6 -5.5 27.4Q-4.0 29.3 -4.1 31.9Z" fill="rgb(117,117,117)"/><circle cx="-6.5" cy="30.8" r="0.9" fill="#3e3e3e" stroke="none"/><path d="M-2.5 36.5Q-4.4 35.2 -7.7 35.2Q-11.1 35.2 -10.9 38.4Q-10.8 41.5 -8.2 42.7Q-5.6 43.8 -3.7 42.7Q-1.7 41.7 -1.1 39.8Q-0.6 37.8 -2.5 36.5Z" fill="rgb(122,122,122)"/><path d="M-3.1 43.8Q-1.2 42.8 0.6 45.2Q2.5 47.6 2.4 50.0Q2.3 52.4 1.1 52.8Q-0.1 53.2 -3.1 52.9Q-6.0 52.6 -6.2 52.4Q-6.4 52.1 -5.7 48.4Q-5.0 44.8 -3.1 43.8Z" fill="rgb(127,127,127)"/><circle cx="-1.7" cy="48.6" r="1.2" fill="#3e3e3e" stroke="none"/><path d="M-3.2 54.1Q-6.2 53.8 -7.1 56.3Q-8.0 58.8 -6.8 60.7Q-5.6 62.6 -3.4 62.4Q-1.2 62.2 -0.7 58.3Q-0.2 54.5 -3.2 54.1Z" fill="rgb(113,113,113)"/><circle cx="-3.9" cy="60.0" r="0.8" fill="#3e3e3e" stroke="none"/><path d="M0.3 72.7Q-0.0 74.4 -3.3 75.4Q-6.6 76.5 -7.8 72.8Q-9.0 69.2 -8.1 68.5Q-7.1 67.8 -3.2 69.4Q0.7 71.0 0.3 72.7Z" fill="rgb(119,119,119)"/><circle cx="-5.1" cy="71.2" r="0.8" fill="#3e3e3e" stroke="none"/><path d="M-4.0 -0.3Q-3.4 2.8 -2.7 3.3Q-1.9 3.8 1.5 2.3Q5.0 0.8 5.4 -0.5Q5.8 -1.7 4.4 -4.0Q2.9 -6.4 -0.6 -5.4Q-4.1 -4.4 -4.4 -3.8Q-4.6 -3.3 -4.0 -0.3Z" fill="rgb(105,105,105)"/><path d="M22.4 0.4Q21.5 -2.7 23.4 -4.2Q25.4 -5.6 27.8 -4.3Q30.2 -2.9 29.4 0.1Q28.7 3.0 27.4 3.9Q26.1 4.8 24.7 4.1Q23.2 3.5 22.4 0.4Z" fill="rgb(122,122,122)"/><circle cx="24.6" cy="-0.7" r="1.1" fill="#3e3e3e" stroke="none"/><path d="M47.6 -0.2Q48.8 2.4 51.3 3.1Q53.8 3.9 54.3 3.6Q54.9 3.3 55.9 0.1Q56.9 -3.1 56.8 -3.2Q56.8 -3.3 53.6 -5.4Q50.4 -7.4 48.4 -5.0Q46.5 -2.7 47.6 -0.2Z" fill="rgb(121,121,121)"/><circle cx="52.0" cy="-1.4" r="0.9" fill="#3e3e3e" stroke="none"/><path d="M66.7 -3.0Q67.2 -3.7 70.8 -3.6Q74.3 -3.6 74.9 -2.9Q75.4 -2.2 75.2 0.1Q75.0 2.3 72.9 3.8Q70.7 5.4 68.8 3.8Q66.8 2.3 66.5 0.0Q66.2 -2.2 66.7 -3.0Z" fill="rgb(111,111,111)"/><path d="M14.0 -4.3Q14.7 -5.0 14.6 -6.8Q14.5 -8.6 12.0 -10.2Q9.6 -11.8 7.1 -10.7Q4.7 -9.7 4.3 -8.4Q4.0 -7.1 5.4 -4.7Q6.9 -2.3 10.1 -2.9Q13.3 -3.6 14.0 -4.3Z" fill="rgb(108,108,108)"/><path d="M18.2 -4.1Q15.6 -5.0 15.5 -6.8Q15.4 -8.7 17.7 -10.8Q20.1 -13.0 22.2 -12.7Q24.3 -12.4 24.4 -12.3Q24.4 -12.3 24.8 -9.3Q25.1 -6.4 23.0 -4.8Q20.9 -3.2 18.2 -4.1Z" fill="rgb(108,108,108)"/><circle cx="20.3" cy="-8.7" r="0.9" fill="#3e3e3e" stroke="none"/><path d="M61.5 -10.9Q62.7 -11.3 64.4 -10.2Q66.1 -9.0 66.3 -6.6Q66.5 -4.2 65.9 -3.5Q65.4 -2.7 61.4 -3.1Q57.4 -3.5 57.4 -3.5Q57.3 -3.6 58.8 -7.0Q60.2 -10.4 61.5 -10.9Z" fill="rgb(110,110,110)"/><circle cx="60.9" cy="-7.5" r="0.8" fill="#3e3e3e" stroke="none"/><path d="M67.2 -6.8Q67.4 -4.6 70.8 -4.6Q74.2 -4.5 74.8 -7.6Q75.4 -10.6 74.0 -11.9Q72.6 -13.1 69.8 -11.0Q67.0 -8.9 67.2 -6.8Z" fill="rgb(122,122,122)"/><path d="M83.3 -8.0Q81.9 -11.0 79.1 -10.8Q76.3 -10.7 75.6 -7.4Q75.0 -4.2 75.6 -3.5Q76.2 -2.7 80.2 -3.3Q84.1 -3.8 84.4 -4.4Q84.6 -5.0 83.3 -8.0Z" fill="rgb(126,126,126)"/><circle cx="79.3" cy="-5.6" r="1.3" fill="#3e3e3e" stroke="none"/><path d="M4.4 86.0Q2.9 83.6 -0.6 84.6Q-4.1 85.6 -4.4 86.2Q-4.6 86.7 -4.0 89.7Q-3.4 92.8 -2.7 93.3Q-1.9 93.8 1.5 92.3Q5.0 90.8 5.4 89.5Q5.8 88.3 4.4 86.0Z" fill="rgb(105,105,105)"/><path d="M14.2 0.4Q13.6 -2.8 10.3 -2.1Q7.0 -1.4 6.6 -0.1Q6.2 1.2 7.5 3.4Q8.8 5.5 11.8 4.6Q14.9 3.6 14.2 0.4Z" fill="rgb(109,109,109)"/><circle cx="11.4" cy="1.5" r="1.4" fill="#3e3e3e" stroke="none"/><path d="M14.9 -3.4Q15.6 -4.1 18.0 -3.2Q20.5 -2.4 21.4 0.7Q22.3 3.8 20.0 4.4Q17.8 5.0 16.6 4.2Q15.5 3.4 14.9 0.4Q14.3 -2.7 14.9 -3.4Z" fill="rgb(108,108,108)"/><circle cx="18.3" cy="0.6" r="1.3" fill="#3e3e3e" stroke="none"/><path d="M23.4 85.8Q21.5 87.3 22.4 90.4Q23.2 93.5 24.7 94.1Q26.1 94.8 27.4 93.9Q28.7 93.0 29.4 90.1Q30.2 87.1 27.8 85.7Q25.4 84.4 23.4 85.8Z" fill="rgb(122,122,122)"/><circle cx="24.6" cy="89.3" r="1.1" fill="#3e3e3e" stroke="none"/><path d="M47.0 4.0Q48.3 2.6 47.1 0.1Q46.0 -2.5 43.0 -2.6Q40.1 -2.7 39.5 0.7Q39.0 4.2 42.3 4.7Q45.6 5.3 47.0 4.0Z" fill="rgb(119,119,119)"/><circle cx="44.1" cy="2.3" r="1.0" fill="#3e3e3e" stroke="none"/><path d="M53.6 84.6Q56.8 86.7 56.8 86.8Q56.9 86.9 55.9 90.1Q54.9 93.3 54.3 93.6Q53.8 93.9 51.3 93.1Q48.8 92.4 47.6 89.8Q46.5 87.3 48.4 85.0Q50.4 82.6 53.6 84.6Z" fill="rgb(121,121,121)"/><circle cx="52.0" cy="88.6" r="0.9" fill="#3e3e3e" stroke="none"/><path d="M61.4 -2.6Q65.3 -2.2 65.6 0.1Q66.0 2.5 63.5 4.0Q61.0 5.5 58.2 4.5Q55.4 3.5 56.4 0.2Q57.4 -3.0 61.4 -2.6Z" fill="rgb(104,104,104)"/><circle cx="60.5" cy="1.5" r="0.9" fill="#3e3e3e" stroke="none"/><path d="M74.9 87.1Q74.3 86.4 70.8 86.4Q67.2 86.3 66.7 87.0Q66.2 87.8 66.5 90.0Q66.8 92.3 68.8 93.8Q70.7 95.4 72.9 93.8Q75.0 92.3 75.2 90.1Q75.4 87.8 74.9 87.1Z" fill="rgb(111,111,111)"/><path d="M83.1 4.0Q85.5 3.2 84.9 -0.0Q84.2 -3.2 80.2 -2.7Q76.3 -2.1 76.1 0.1Q75.9 2.4 78.2 3.6Q80.6 4.8 83.1 4.0Z" fill="rgb(127,127,127)"/><circle cx="79.2" cy="0.6" r="0.9" fill="#3e3e3e" stroke="none"/><path d="M8.1 7.4Q8.1 9.0 4.8 10.4Q1.6 11.7 0.5 11.0Q-0.6 10.3 -1.2 7.5Q-1.8 4.7 1.9 3.2Q5.6 1.6 6.9 3.7Q8.2 5.9 8.1 7.4Z" fill="rgb(119,119,119)"/><path d="M16.1 5.0Q17.2 5.9 16.5 7.8Q15.9 9.7 13.9 10.6Q11.9 11.5 10.4 10.2Q9.0 8.9 9.1 7.5Q9.1 6.0 12.0 5.1Q14.9 4.2 16.1 5.0Z" fill="rgb(128,128,128)"/><circle cx="13.2" cy="7.6" r="1.0" fill="#3e3e3e" stroke="none"/><path d="M20.3 5.5Q18.1 6.2 17.4 8.1Q16.7 10.0 18.9 12.0Q21.0 14.0 23.4 12.5Q25.8 11.0 25.7 8.6Q25.5 6.2 24.1 5.5Q22.6 4.9 20.3 5.5Z" fill="rgb(124,124,124)"/><circle cx="21.0" cy="10.3" r="1.0" fill="#3e3e3e" stroke="none"/><path d="M33.2 5.1Q29.4 3.9 28.0 4.9Q26.6 5.9 26.7 8.4Q26.9 11.0 29.0 12.9Q31.1 14.7 34.3 12.5Q37.5 10.2 37.2 8.2Q36.9 6.2 33.2 5.1Z" fill="rgb(110,110,110)"/><circle cx="32.9" cy="8.4" r="1.0" fill="#3e3e3e" stroke="none"/><path d="M42.3 5.1Q45.5 5.7 45.4 8.4Q45.3 11.1 43.6 11.7Q41.8 12.4 40.0 11.2Q38.2 10.0 38.0 8.1Q37.7 6.2 38.4 5.4Q39.1 4.6 42.3 5.1Z" fill="rgb(117,117,117)"/><circle cx="42.3" cy="8.1" r="1.1" fill="#3e3e3e" stroke="none"/><path d="M47.4 4.5Q48.6 3.3 51.0 4.0Q53.3 4.7 52.9 8.2Q52.4 11.7 51.5 12.2Q50.6 12.6 48.3 11.8Q46.0 11.0 46.1 8.3Q46.1 5.7 47.4 4.5Z" fill="rgb(120,120,120)"/><circle cx="49.8" cy="8.8" r="0.8" fill="#3e3e3e" stroke="none"/><path d="M58.0 5.1Q55.4 4.1 54.9 4.4Q54.4 4.7 53.9 8.3Q53.4 12.0 55.7 12.9Q58.0 13.9 59.8 13.1Q61.6 12.3 61.2 9.2Q60.7 6.1 58.0 5.1Z" fill="rgb(128,128,128)"/><path d="M70.0 8.4Q70.1 10.5 68.5 11.9Q66.9 13.3 64.6 12.7Q62.4 12.1 62.0 9.1Q61.5 6.1 63.8 4.7Q66.1 3.3 68.0 4.8Q69.9 6.3 70.0 8.4Z" fill="rgb(118,118,118)"/><circle cx="64.2" cy="7.1" r="1.2" fill="#3e3e3e" stroke="none"/><path d="M79.5 7.8Q80.2 5.5 77.9 4.3Q75.6 3.2 73.5 4.7Q71.4 6.2 71.5 8.3Q71.6 10.5 72.7 10.9Q73.9 11.3 76.4 10.7Q78.9 10.1 79.5 7.8Z" fill="rgb(112,112,112)"/><circle cx="76.0" cy="7.7" r="1.1" fill="#3e3e3e" stroke="none"/><path d="M85.7 12.0Q83.2 13.5 81.4 11.9Q79.6 10.3 80.3 8.0Q81.0 5.7 83.3 4.9Q85.7 4.1 86.4 4.6Q87.1 5.1 87.7 7.8Q88.3 10.5 85.7 12.0Z" fill="rgb(128,128,128)"/><circle cx="82.1" cy="9.4" r="1.4" fill="#3e3e3e" stroke="none"/><path d="M6.3 19.4Q9.4 21.0 10.3 20.3Q11.2 19.7 11.3 15.9Q11.4 12.2 9.8 10.9Q8.3 9.6 5.1 11.0Q1.9 12.4 2.6 15.1Q3.3 17.8 6.3 19.4Z" fill="rgb(122,122,122)"/><path d="M18.5 12.4Q20.8 14.5 20.1 16.7Q19.3 18.9 18.7 19.5Q18.2 20.0 15.0 19.9Q11.9 19.8 11.9 16.0Q12.0 12.2 14.1 11.2Q16.2 10.3 18.5 12.4Z" fill="rgb(108,108,108)"/><path d="M23.9 13.1Q26.5 11.6 28.5 13.4Q30.6 15.2 30.8 17.2Q31.1 19.1 30.3 19.8Q29.5 20.5 24.7 19.8Q19.9 19.1 20.6 16.9Q21.4 14.7 23.9 13.1Z" fill="rgb(122,122,122)"/><circle cx="25.6" cy="16.6" r="1.1" fill="#3e3e3e" stroke="none"/><path d="M34.8 13.1Q37.7 11.0 39.4 12.1Q41.1 13.3 40.9 16.4Q40.7 19.5 39.1 20.3Q37.4 21.1 34.9 19.9Q32.3 18.8 32.1 17.0Q31.9 15.2 34.8 13.1Z" fill="rgb(115,115,115)"/><path d="M42.3 20.0Q43.0 20.3 46.1 19.5Q49.2 18.7 49.8 16.1Q50.4 13.5 48.0 12.7Q45.6 11.8 43.8 12.5Q42.1 13.2 41.8 16.5Q41.6 19.8 42.3 20.0Z" fill="rgb(124,124,124)"/><path d="M55.7 22.5Q57.7 21.0 57.7 17.9Q57.7 14.8 55.3 13.7Q53.0 12.7 52.0 13.2Q51.1 13.7 50.5 16.2Q49.9 18.8 51.8 21.5Q53.8 24.1 55.7 22.5Z" fill="rgb(118,118,118)"/><circle cx="53.9" cy="18.4" r="1.2" fill="#3e3e3e" stroke="none"/><path d="M65.9 20.8Q64.4 22.6 61.3 21.8Q58.2 21.0 58.2 17.8Q58.2 14.7 60.1 13.8Q62.0 13.0 64.5 13.7Q66.9 14.4 67.1 16.6Q67.3 18.9 65.9 20.8Z" fill="rgb(104,104,104)"/><path d="M71.0 20.1Q68.2 18.8 68.0 16.6Q67.8 14.5 69.5 13.0Q71.1 11.6 72.3 12.0Q73.4 12.4 75.1 15.4Q76.8 18.4 75.3 20.0Q73.8 21.5 71.0 20.1Z" fill="rgb(108,108,108)"/><circle cx="73.5" cy="16.5" r="1.1" fill="#3e3e3e" stroke="none"/><path d="M82.1 16.0Q81.6 17.9 79.5 17.9Q77.4 18.0 75.8 15.1Q74.2 12.2 76.6 11.6Q79.1 11.0 80.8 12.6Q82.5 14.1 82.1 16.0Z" fill="rgb(124,124,124)"/><path d="M3.2 27.9Q1.7 27.3 -0.1 24.5Q-2.0 21.8 0.5 20.2Q2.9 18.6 5.9 20.2Q8.9 21.8 8.4 24.0Q8.0 26.2 6.4 27.4Q4.8 28.6 3.2 27.9Z" fill="rgb(115,115,115)"/><path d="M9.6 24.2Q9.2 26.5 10.9 28.0Q12.6 29.6 16.7 28.3Q20.9 27.0 19.5 23.9Q18.1 20.8 15.0 20.7Q11.9 20.6 10.9 21.3Q10.0 21.9 9.6 24.2Z" fill="rgb(126,126,126)"/><circle cx="15.3" cy="25.7" r="1.4" fill="#3e3e3e" stroke="none"/><path d="M25.0 28.0Q26.7 27.8 28.0 24.3Q29.4 20.9 24.6 20.2Q19.9 19.5 19.4 20.0Q18.8 20.6 20.1 23.6Q21.5 26.7 22.4 27.4Q23.2 28.2 25.0 28.0Z" fill="rgb(111,111,111)"/><path d="M42.0 21.1Q42.6 21.3 44.3 24.4Q46.0 27.4 42.1 28.5Q38.2 29.6 38.1 29.5Q38.0 29.3 38.0 25.9Q38.0 22.4 39.7 21.6Q41.4 20.8 42.0 21.1Z" fill="rgb(123,123,123)"/><circle cx="43.1" cy="25.7" r="1.0" fill="#3e3e3e" stroke="none"/><path d="M64.3 24.9Q64.1 23.1 61.1 22.4Q58.2 21.6 56.3 23.2Q54.4 24.7 54.1 26.2Q53.8 27.6 56.1 29.7Q58.5 31.7 61.5 29.2Q64.6 26.6 64.3 24.9Z" fill="rgb(114,114,114)"/><circle cx="60.7" cy="26.2" r="1.4" fill="#3e3e3e" stroke="none"/><path d="M71.8 28.6Q68.9 28.6 67.1 27.6Q65.4 26.6 65.1 24.7Q64.8 22.9 66.3 21.1Q67.7 19.3 70.7 20.7Q73.6 22.1 74.1 25.3Q74.7 28.5 71.8 28.6Z" fill="rgb(104,104,104)"/><path d="M82.8 20.3Q83.9 21.9 83.2 23.4Q82.6 25.0 79.4 27.0Q76.1 28.9 75.7 28.5Q75.3 28.2 74.8 25.1Q74.3 22.1 75.8 20.5Q77.4 19.0 79.6 18.9Q81.8 18.8 82.8 20.3Z" fill="rgb(114,114,114)"/><circle cx="78.2" cy="23.0" r="1.1" fill="#3e3e3e" stroke="none"/><path d="M93.2 28.5Q94.8 29.2 93.8 32.6Q92.8 35.9 91.4 36.6Q90.1 37.3 88.1 35.9Q86.1 34.5 86.2 31.9Q86.3 29.2 88.9 28.5Q91.5 27.8 93.2 28.5Z" fill="rgb(112,112,112)"/><circle cx="89.2" cy="30.2" r="1.0" fill="#3e3e3e" stroke="none"/><path d="M30.3 34.0Q30.5 31.3 33.7 30.9Q36.9 30.4 37.1 30.6Q37.2 30.7 38.0 33.0Q38.9 35.3 37.1 37.4Q35.3 39.4 32.7 38.1Q30.1 36.8 30.3 34.0Z" fill="rgb(115,115,115)"/><path d="M42.2 29.0Q46.4 27.8 47.9 28.5Q49.3 29.2 47.5 33.0Q45.8 36.9 42.8 36.0Q39.8 35.1 38.9 32.7Q38.0 30.2 42.2 29.0Z" fill="rgb(119,119,119)"/><circle cx="44.0" cy="30.3" r="1.1" fill="#3e3e3e" stroke="none"/><path d="M46.6 37.0Q46.6 37.0 48.3 33.4Q50.0 29.8 51.4 29.2Q52.9 28.7 55.2 30.7Q57.5 32.7 57.8 33.8Q58.1 35.0 55.3 37.2Q52.6 39.5 49.6 38.2Q46.6 37.0 46.6 37.0Z" fill="rgb(112,112,112)"/><path d="M67.1 32.7Q65.9 36.2 64.7 36.9Q63.4 37.5 61.6 36.0Q59.7 34.6 59.4 33.4Q59.1 32.3 62.1 29.8Q65.1 27.4 66.7 28.3Q68.4 29.3 67.1 32.7Z" fill="rgb(112,112,112)"/><path d="M68.8 36.5Q71.1 36.6 73.5 34.9Q76.0 33.2 75.6 31.6Q75.2 30.0 74.8 29.6Q74.4 29.3 71.7 29.4Q68.9 29.4 67.7 32.9Q66.4 36.5 68.8 36.5Z" fill="rgb(111,111,111)"/><circle cx="68.9" cy="34.2" r="1.4" fill="#3e3e3e" stroke="none"/><path d="M76.8 31.3Q77.2 32.9 77.9 33.7Q78.7 34.5 82.2 34.5Q85.7 34.5 85.9 31.9Q86.0 29.3 84.5 27.4Q83.0 25.6 79.7 27.6Q76.3 29.6 76.8 31.3Z" fill="rgb(117,117,117)"/><circle cx="83.5" cy="30.8" r="0.9" fill="#3e3e3e" stroke="none"/><path d="M1.9 37.6Q0.7 38.2 0.1 40.1Q-0.4 42.1 1.5 44.5Q3.4 47.0 6.3 45.6Q9.2 44.1 8.7 41.7Q8.3 39.2 5.8 38.1Q3.2 36.9 1.9 37.6Z" fill="rgb(108,108,108)"/><circle cx="6.2" cy="41.9" r="1.0" fill="#3e3e3e" stroke="none"/><path d="M9.7 41.5Q9.3 39.1 11.9 37.7Q14.5 36.4 16.0 36.9Q17.6 37.5 18.0 40.4Q18.5 43.3 16.1 44.8Q13.8 46.3 11.9 45.1Q10.1 43.9 9.7 41.5Z" fill="rgb(125,125,125)"/><circle cx="12.4" cy="40.3" r="1.3" fill="#3e3e3e" stroke="none"/><path d="M24.4 44.5Q26.0 43.8 26.9 40.9Q27.9 38.1 24.1 36.9Q20.4 35.7 19.5 36.4Q18.5 37.1 19.0 40.3Q19.5 43.4 21.2 44.3Q22.9 45.1 24.4 44.5Z" fill="rgb(107,107,107)"/><path d="M27.3 41.0Q26.3 43.9 29.4 45.0Q32.6 46.0 34.0 44.8Q35.4 43.6 35.3 41.9Q35.2 40.1 32.4 38.7Q29.7 37.3 29.0 37.7Q28.2 38.2 27.3 41.0Z" fill="rgb(113,113,113)"/><circle cx="30.2" cy="42.3" r="0.9" fill="#3e3e3e" stroke="none"/><path d="M36.1 41.8Q36.0 40.1 37.8 38.1Q39.7 36.0 42.5 36.8Q45.4 37.6 45.4 37.6Q45.4 37.7 44.6 41.0Q43.7 44.3 41.9 44.8Q40.0 45.3 38.1 44.4Q36.2 43.4 36.1 41.8Z" fill="rgb(105,105,105)"/><path d="M50.5 46.2Q52.8 44.7 52.5 42.5Q52.2 40.4 49.2 39.1Q46.2 37.9 45.4 41.2Q44.6 44.4 46.4 46.1Q48.1 47.7 50.5 46.2Z" fill="rgb(117,117,117)"/><circle cx="47.9" cy="43.6" r="1.3" fill="#3e3e3e" stroke="none"/><path d="M60.7 44.4Q63.0 41.7 62.8 40.1Q62.7 38.6 60.7 37.1Q58.8 35.6 55.9 37.9Q53.1 40.2 53.4 42.4Q53.7 44.6 56.0 45.8Q58.3 47.1 60.7 44.4Z" fill="rgb(114,114,114)"/><path d="M66.4 43.1Q68.5 44.6 70.4 44.2Q72.3 43.7 71.7 40.6Q71.1 37.4 68.8 37.3Q66.4 37.3 65.2 37.9Q63.9 38.6 64.1 40.0Q64.2 41.5 66.4 43.1Z" fill="rgb(116,116,116)"/><circle cx="69.7" cy="41.0" r="1.5" fill="#3e3e3e" stroke="none"/><path d="M74.0 35.5Q71.5 37.2 72.2 40.5Q72.8 43.7 73.9 44.0Q74.9 44.3 76.6 43.0Q78.3 41.6 78.2 38.4Q78.1 35.2 77.3 34.5Q76.5 33.7 74.0 35.5Z" fill="rgb(121,121,121)"/><circle cx="74.9" cy="40.1" r="0.9" fill="#3e3e3e" stroke="none"/><path d="M86.3 42.7Q88.3 41.7 88.9 39.8Q89.4 37.8 87.5 36.5Q85.6 35.2 82.3 35.2Q78.9 35.2 79.1 38.4Q79.2 41.5 81.8 42.7Q84.4 43.8 86.3 42.7Z" fill="rgb(122,122,122)"/><path d="M86.9 43.8Q88.8 42.8 90.6 45.2Q92.5 47.6 92.4 50.0Q92.3 52.4 91.1 52.8Q89.9 53.2 86.9 52.9Q84.0 52.6 83.8 52.4Q83.6 52.1 84.3 48.4Q85.0 44.8 86.9 43.8Z" fill="rgb(127,127,127)"/><circle cx="88.3" cy="48.6" r="1.2" fill="#3e3e3e" stroke="none"/><path d="M3.5 50.1Q3.3 52.6 5.6 53.9Q7.9 55.3 10.4 53.2Q13.0 51.2 13.2 49.2Q13.4 47.2 11.5 45.9Q9.5 44.7 6.6 46.2Q3.6 47.6 3.5 50.1Z" fill="rgb(119,119,119)"/><circle cx="7.5" cy="49.0" r="1.0" fill="#3e3e3e" stroke="none"/><path d="M20.9 44.9Q22.6 45.7 23.0 48.4Q23.5 51.1 21.2 52.7Q18.9 54.4 16.3 52.9Q13.7 51.4 13.9 49.3Q14.1 47.2 16.7 45.6Q19.2 44.0 20.9 44.9Z" fill="rgb(126,126,126)"/><path d="M24.9 45.2Q26.3 44.6 29.2 45.6Q32.1 46.5 31.8 49.6Q31.5 52.6 30.3 53.1Q29.1 53.6 26.7 52.2Q24.3 50.8 23.9 48.3Q23.5 45.8 24.9 45.2Z" fill="rgb(116,116,116)"/><circle cx="27.4" cy="48.0" r="1.0" fill="#3e3e3e" stroke="none"/><path d="M47.5 50.9Q47.7 48.3 45.8 46.7Q44.0 45.0 42.1 45.5Q40.2 46.0 40.2 49.3Q40.2 52.6 43.8 53.0Q47.3 53.5 47.5 50.9Z" fill="rgb(108,108,108)"/><path d="M58.4 49.5Q58.0 47.7 55.7 46.5Q53.3 45.2 50.9 46.8Q48.4 48.4 48.3 51.0Q48.1 53.6 48.2 53.8Q48.3 53.9 50.1 54.1Q52.0 54.3 55.3 52.8Q58.7 51.3 58.4 49.5Z" fill="rgb(114,114,114)"/><path d="M70.0 52.4Q72.0 53.6 74.0 52.0Q76.0 50.4 75.4 47.8Q74.7 45.1 73.7 44.9Q72.6 44.6 70.6 45.0Q68.7 45.5 68.3 48.3Q67.9 51.1 70.0 52.4Z" fill="rgb(116,116,116)"/><circle cx="70.9" cy="49.3" r="1.4" fill="#3e3e3e" stroke="none"/><path d="M83.5 48.4Q84.3 44.4 81.5 43.3Q78.8 42.1 77.0 43.5Q75.3 44.9 76.0 47.6Q76.6 50.3 79.7 51.3Q82.8 52.3 83.5 48.4Z" fill="rgb(121,121,121)"/><circle cx="80.7" cy="47.0" r="1.1" fill="#3e3e3e" stroke="none"/><path d="M1.6 54.2Q2.8 53.8 5.0 55.0Q7.2 56.3 7.6 57.9Q7.9 59.6 5.2 61.9Q2.6 64.3 1.0 63.2Q-0.6 62.2 -0.1 58.4Q0.4 54.6 1.6 54.2Z" fill="rgb(117,117,117)"/><path d="M16.6 62.0Q14.0 63.1 11.6 61.2Q9.2 59.4 8.8 57.6Q8.4 55.9 11.0 53.9Q13.5 51.9 16.0 53.4Q18.6 54.9 18.9 57.9Q19.2 61.0 16.6 62.0Z" fill="rgb(104,104,104)"/><path d="M19.6 57.8Q19.9 60.9 21.3 61.4Q22.7 61.9 24.8 60.6Q27.0 59.2 27.9 56.9Q28.7 54.6 26.2 53.1Q23.7 51.6 21.5 53.2Q19.3 54.8 19.6 57.8Z" fill="rgb(114,114,114)"/><circle cx="23.7" cy="55.8" r="0.9" fill="#3e3e3e" stroke="none"/><path d="M30.5 61.4Q32.9 63.3 34.9 61.1Q36.8 58.9 36.4 57.3Q36.0 55.7 34.0 54.9Q32.1 54.0 30.9 54.5Q29.7 55.0 28.9 57.3Q28.0 59.5 30.5 61.4Z" fill="rgb(107,107,107)"/><circle cx="32.4" cy="60.3" r="1.0" fill="#3e3e3e" stroke="none"/><path d="M44.2 60.6Q46.3 59.4 46.8 57.0Q47.4 54.5 47.3 54.3Q47.2 54.2 43.7 53.7Q40.1 53.3 38.6 54.3Q37.0 55.3 37.4 57.0Q37.9 58.7 39.9 60.2Q42.0 61.7 44.2 60.6Z" fill="rgb(107,107,107)"/><circle cx="41.6" cy="57.2" r="1.2" fill="#3e3e3e" stroke="none"/><path d="M48.5 60.7Q49.5 61.8 52.5 61.4Q55.6 61.0 53.8 58.1Q51.9 55.2 50.2 55.1Q48.5 54.9 48.0 57.3Q47.4 59.6 48.5 60.7Z" fill="rgb(126,126,126)"/><circle cx="51.5" cy="59.0" r="0.9" fill="#3e3e3e" stroke="none"/><path d="M61.0 56.9Q61.2 59.8 59.5 60.7Q57.9 61.6 57.0 61.1Q56.1 60.7 54.3 57.8Q52.4 54.9 55.6 53.4Q58.7 52.0 59.8 53.0Q60.8 53.9 61.0 56.9Z" fill="rgb(116,116,116)"/><circle cx="56.7" cy="56.8" r="1.0" fill="#3e3e3e" stroke="none"/><path d="M86.8 54.1Q83.8 53.8 82.9 56.3Q82.0 58.8 83.2 60.7Q84.4 62.6 86.6 62.4Q88.8 62.2 89.3 58.3Q89.8 54.5 86.8 54.1Z" fill="rgb(113,113,113)"/><circle cx="86.1" cy="60.0" r="0.8" fill="#3e3e3e" stroke="none"/><path d="M11.4 69.9Q10.4 70.6 6.8 69.7Q3.3 68.8 3.2 66.9Q3.2 65.0 5.9 62.6Q8.6 60.2 10.9 62.0Q13.3 63.8 12.9 66.5Q12.5 69.2 11.4 69.9Z" fill="rgb(120,120,120)"/><circle cx="8.1" cy="65.8" r="1.1" fill="#3e3e3e" stroke="none"/><path d="M15.6 70.6Q17.7 71.9 20.7 69.3Q23.6 66.7 22.9 64.8Q22.3 62.9 20.9 62.4Q19.5 61.8 16.9 62.9Q14.3 63.9 13.9 66.6Q13.5 69.4 15.6 70.6Z" fill="rgb(124,124,124)"/><circle cx="18.6" cy="67.6" r="0.8" fill="#3e3e3e" stroke="none"/><path d="M32.9 66.1Q32.6 63.9 30.0 61.9Q27.5 59.9 25.2 61.2Q23.0 62.6 23.6 64.6Q24.2 66.5 25.6 67.9Q27.1 69.2 30.1 68.8Q33.1 68.4 32.9 66.1Z" fill="rgb(117,117,117)"/><circle cx="28.5" cy="64.6" r="1.0" fill="#3e3e3e" stroke="none"/><path d="M41.2 65.5Q41.7 62.2 39.6 60.7Q37.4 59.2 35.3 61.5Q33.2 63.8 33.4 66.1Q33.6 68.3 35.0 69.4Q36.4 70.4 38.6 69.6Q40.8 68.8 41.2 65.5Z" fill="rgb(119,119,119)"/><circle cx="36.6" cy="62.8" r="1.2" fill="#3e3e3e" stroke="none"/><path d="M46.9 68.8Q44.2 70.1 42.8 69.5Q41.3 68.9 41.8 65.6Q42.3 62.3 44.5 61.2Q46.7 60.0 47.8 61.2Q48.9 62.4 49.3 65.0Q49.6 67.6 46.9 68.8Z" fill="rgb(126,126,126)"/><path d="M52.8 68.6Q50.0 67.5 49.7 64.9Q49.3 62.3 52.6 61.9Q55.9 61.5 56.9 61.9Q57.8 62.3 56.7 66.0Q55.5 69.7 52.8 68.6Z" fill="rgb(116,116,116)"/><circle cx="52.6" cy="63.2" r="1.3" fill="#3e3e3e" stroke="none"/><path d="M68.5 60.7Q72.1 59.6 73.0 60.3Q73.9 61.1 74.0 64.6Q74.1 68.0 73.0 69.1Q71.8 70.1 69.6 69.5Q67.4 68.9 66.2 65.4Q65.0 61.9 68.5 60.7Z" fill="rgb(111,111,111)"/><path d="M81.5 67.8Q82.4 67.2 83.0 65.1Q83.6 63.1 82.4 61.2Q81.2 59.3 78.1 60.1Q75.0 61.0 75.1 64.6Q75.2 68.1 77.9 68.3Q80.6 68.5 81.5 67.8Z" fill="rgb(127,127,127)"/><circle cx="79.5" cy="64.3" r="1.2" fill="#3e3e3e" stroke="none"/><path d="M6.7 78.2Q4.3 79.3 2.6 76.9Q0.9 74.5 1.3 72.9Q1.6 71.3 2.4 70.5Q3.1 69.7 6.6 70.6Q10.1 71.5 9.6 74.3Q9.1 77.2 6.7 78.2Z" fill="rgb(106,106,106)"/><path d="M12.5 79.2Q9.9 77.5 10.4 74.5Q11.0 71.4 12.0 70.7Q13.1 69.9 15.3 71.2Q17.4 72.5 18.5 74.5Q19.6 76.6 17.3 78.7Q15.0 80.9 12.5 79.2Z" fill="rgb(109,109,109)"/><circle cx="14.5" cy="75.6" r="1.4" fill="#3e3e3e" stroke="none"/><path d="M22.3 76.4Q24.3 76.6 25.4 73.2Q26.5 69.7 25.1 68.4Q23.8 67.1 20.9 69.6Q18.1 72.2 19.2 74.1Q20.3 76.1 22.3 76.4Z" fill="rgb(113,113,113)"/><circle cx="22.0" cy="70.9" r="1.3" fill="#3e3e3e" stroke="none"/><path d="M25.0 77.1Q25.0 77.2 27.8 77.2Q30.6 77.3 33.1 75.6Q35.5 73.9 35.7 72.5Q35.9 71.0 34.6 70.0Q33.2 69.0 30.2 69.4Q27.2 69.8 26.0 73.4Q24.9 77.0 25.0 77.1Z" fill="rgb(113,113,113)"/><circle cx="29.5" cy="74.6" r="1.2" fill="#3e3e3e" stroke="none"/><path d="M45.2 74.0Q46.6 77.2 43.0 78.5Q39.3 79.7 37.9 76.9Q36.4 74.0 36.6 72.7Q36.8 71.3 38.9 70.5Q41.0 69.7 42.5 70.3Q43.9 70.9 45.2 74.0Z" fill="rgb(107,107,107)"/><circle cx="42.4" cy="74.9" r="1.5" fill="#3e3e3e" stroke="none"/><path d="M48.7 77.5Q50.0 78.3 51.5 77.0Q53.0 75.8 54.0 73.1Q55.0 70.3 55.0 70.3Q55.0 70.3 52.4 69.3Q49.8 68.3 47.3 69.5Q44.7 70.7 46.0 73.7Q47.3 76.7 48.7 77.5Z" fill="rgb(126,126,126)"/><circle cx="48.6" cy="71.9" r="1.2" fill="#3e3e3e" stroke="none"/><path d="M54.9 73.4Q53.9 76.2 57.0 77.7Q60.1 79.1 61.3 78.7Q62.5 78.2 62.5 75.3Q62.5 72.3 59.2 71.4Q56.0 70.5 54.9 73.4Z" fill="rgb(124,124,124)"/><path d="M82.4 77.4Q82.9 76.5 81.7 73.0Q80.6 69.5 77.8 69.3Q75.1 69.1 73.9 70.2Q72.7 71.3 73.0 73.6Q73.3 75.9 74.8 77.2Q76.2 78.5 79.0 78.3Q81.9 78.2 82.4 77.4Z" fill="rgb(110,110,110)"/><path d="M90.3 72.7Q90.0 74.4 86.7 75.4Q83.4 76.5 82.2 72.8Q81.0 69.2 81.9 68.5Q82.9 67.8 86.8 69.4Q90.7 71.0 90.3 72.7Z" fill="rgb(119,119,119)"/><circle cx="84.9" cy="71.2" r="0.8" fill="#3e3e3e" stroke="none"/><path d="M4.3 81.6Q4.7 80.3 7.1 79.3Q9.6 78.2 12.0 79.8Q14.5 81.4 14.6 83.2Q14.7 85.0 14.0 85.7Q13.3 86.4 10.1 87.1Q6.9 87.7 5.4 85.3Q4.0 82.9 4.3 81.6Z" fill="rgb(108,108,108)"/><path d="M15.5 83.2Q15.4 81.3 17.7 79.2Q20.1 77.0 22.2 77.3Q24.3 77.6 24.4 77.7Q24.4 77.7 24.8 80.7Q25.1 83.6 23.0 85.2Q20.9 86.8 18.2 85.9Q15.6 85.0 15.5 83.2Z" fill="rgb(108,108,108)"/><circle cx="20.3" cy="81.3" r="0.9" fill="#3e3e3e" stroke="none"/><path d="M28.3 84.8Q26.0 83.4 25.7 80.7Q25.4 78.0 28.0 78.0Q30.6 78.1 31.9 81.4Q33.2 84.8 31.9 85.5Q30.7 86.1 28.3 84.8Z" fill="rgb(106,106,106)"/><path d="M32.4 81.3Q33.8 84.7 35.6 84.6Q37.5 84.5 38.0 82.3Q38.6 80.1 37.1 77.3Q35.7 74.5 33.4 76.1Q31.1 77.8 32.4 81.3Z" fill="rgb(112,112,112)"/><path d="M48.2 78.5Q49.6 79.3 49.7 80.7Q49.9 82.2 47.9 84.5Q45.9 86.9 43.1 86.8Q40.2 86.6 39.3 85.7Q38.4 84.8 38.9 82.5Q39.4 80.2 43.1 78.9Q46.8 77.6 48.2 78.5Z" fill="rgb(117,117,117)"/><path d="M52.4 78.1Q50.9 79.3 51.1 80.7Q51.2 82.0 54.1 83.9Q57.0 85.8 58.4 82.7Q59.7 79.6 56.8 78.2Q53.9 76.9 52.4 78.1Z" fill="rgb(116,116,116)"/><path d="M58.8 83.0Q60.2 79.6 61.5 79.1Q62.7 78.7 64.4 79.8Q66.1 81.0 66.3 83.4Q66.5 85.8 65.9 86.5Q65.4 87.3 61.4 86.9Q57.4 86.5 57.4 86.5Q57.3 86.4 58.8 83.0Z" fill="rgb(110,110,110)"/><circle cx="60.9" cy="82.5" r="0.8" fill="#3e3e3e" stroke="none"/><path d="M69.8 79.0Q67.0 81.1 67.2 83.2Q67.4 85.4 70.8 85.4Q74.2 85.5 74.8 82.4Q75.4 79.4 74.0 78.1Q72.6 76.9 69.8 79.0Z" fill="rgb(122,122,122)"/><path d="M83.3 82.0Q81.9 79.0 79.1 79.2Q76.3 79.3 75.6 82.6Q75.0 85.8 75.6 86.5Q76.2 87.3 80.2 86.7Q84.1 86.2 84.4 85.6Q84.6 85.0 83.3 82.0Z" fill="rgb(126,126,126)"/><circle cx="79.3" cy="84.4" r="1.3" fill="#3e3e3e" stroke="none"/><path d="M10.3 87.9Q7.0 88.6 6.6 89.9Q6.2 91.2 7.5 93.4Q8.8 95.5 11.8 94.6Q14.9 93.6 14.2 90.4Q13.6 87.2 10.3 87.9Z" fill="rgb(109,109,109)"/><circle cx="11.4" cy="91.5" r="1.4" fill="#3e3e3e" stroke="none"/><path d="M14.9 86.6Q14.3 87.3 14.9 90.4Q15.5 93.4 16.6 94.2Q17.8 95.0 20.0 94.4Q22.3 93.8 21.4 90.7Q20.5 87.6 18.0 86.8Q15.6 85.9 14.9 86.6Z" fill="rgb(108,108,108)"/><circle cx="18.3" cy="90.6" r="1.3" fill="#3e3e3e" stroke="none"/><path d="M47.0 94.0Q45.6 95.3 42.3 94.7Q39.0 94.2 39.5 90.7Q40.1 87.3 43.0 87.4Q46.0 87.5 47.1 90.1Q48.3 92.6 47.0 94.0Z" fill="rgb(119,119,119)"/><circle cx="44.1" cy="92.3" r="1.0" fill="#3e3e3e" stroke="none"/><path d="M56.4 90.2Q57.4 87.0 61.4 87.4Q65.3 87.8 65.6 90.1Q66.0 92.5 63.5 94.0Q61.0 95.5 58.2 94.5Q55.4 93.5 56.4 90.2Z" fill="rgb(104,104,104)"/><circle cx="60.5" cy="91.5" r="0.9" fill="#3e3e3e" stroke="none"/><path d="M80.2 87.3Q84.2 86.8 84.9 90.0Q85.5 93.2 83.1 94.0Q80.6 94.8 78.2 93.6Q75.9 92.4 76.1 90.1Q76.3 87.9 80.2 87.3Z" fill="rgb(127,127,127)"/><circle cx="79.2" cy="90.6" r="0.9" fill="#3e3e3e" stroke="none"/><path d="M6.9 93.7Q8.2 95.9 8.1 97.4Q8.1 99.0 4.8 100.4Q1.6 101.7 0.5 101.0Q-0.6 100.3 -1.2 97.5Q-1.8 94.7 1.9 93.2Q5.6 91.6 6.9 93.7Z" fill="rgb(119,119,119)"/><path d="M12.0 95.1Q9.1 96.0 9.1 97.5Q9.0 98.9 10.4 100.2Q11.9 101.5 13.9 100.6Q15.9 99.7 16.5 97.8Q17.2 95.9 16.1 95.0Q14.9 94.2 12.0 95.1Z" fill="rgb(128,128,128)"/><circle cx="13.2" cy="97.6" r="1.0" fill="#3e3e3e" stroke="none"/><path d="M40.0 101.2Q38.2 100.0 38.0 98.1Q37.7 96.2 38.4 95.4Q39.1 94.6 42.3 95.1Q45.5 95.7 45.4 98.4Q45.3 101.1 43.6 101.7Q41.8 102.4 40.0 101.2Z" fill="rgb(117,117,117)"/><circle cx="42.3" cy="98.1" r="1.1" fill="#3e3e3e" stroke="none"/><path d="M47.4 94.5Q46.1 95.7 46.1 98.3Q46.0 101.0 48.3 101.8Q50.6 102.6 51.5 102.2Q52.4 101.7 52.9 98.2Q53.3 94.7 51.0 94.0Q48.6 93.3 47.4 94.5Z" fill="rgb(120,120,120)"/><circle cx="49.8" cy="98.8" r="0.8" fill="#3e3e3e" stroke="none"/><path d="M77.9 94.3Q80.2 95.5 79.5 97.8Q78.9 100.1 76.4 100.7Q73.9 101.3 72.7 100.9Q71.6 100.5 71.5 98.3Q71.4 96.2 73.5 94.7Q75.6 93.2 77.9 94.3Z" fill="rgb(112,112,112)"/><circle cx="76.0" cy="97.7" r="1.1" fill="#3e3e3e" stroke="none"/><path d="M95.4 -0.5Q95.0 0.8 91.5 2.3Q88.1 3.8 87.3 3.3Q86.6 2.8 86.0 -0.3Q85.4 -3.3 85.6 -3.8Q85.9 -4.4 89.4 -5.4Q92.9 -6.4 94.4 -4.0Q95.8 -1.7 95.4 -0.5Z" fill="rgb(105,105,105)"/><path d="M94.4 86.0Q95.8 88.3 95.4 89.5Q95.0 90.8 91.5 92.3Q88.1 93.8 87.3 93.3Q86.6 92.8 86.0 89.7Q85.4 86.7 85.6 86.2Q85.9 85.6 89.4 84.6Q92.9 83.6 94.4 86.0Z" fill="rgb(105,105,105)"/><path d="M94.8 10.4Q98.1 9.0 98.1 7.4Q98.2 5.9 96.9 3.7Q95.6 1.6 91.9 3.2Q88.2 4.7 88.8 7.5Q89.4 10.3 90.5 11.0Q91.6 11.7 94.8 10.4Z" fill="rgb(119,119,119)"/><path d="M100.3 20.3Q99.4 21.0 96.3 19.4Q93.3 17.8 92.6 15.1Q91.9 12.4 95.1 11.0Q98.3 9.6 99.8 10.9Q101.4 12.2 101.3 15.9Q101.2 19.7 100.3 20.3Z" fill="rgb(122,122,122)"/><path d="M95.9 20.2Q98.9 21.8 98.4 24.0Q98.0 26.2 96.4 27.4Q94.8 28.6 93.2 27.9Q91.7 27.3 89.9 24.5Q88.0 21.8 90.5 20.2Q92.9 18.6 95.9 20.2Z" fill="rgb(115,115,115)"/><path d="M91.5 44.5Q89.6 42.1 90.1 40.1Q90.7 38.2 91.9 37.6Q93.2 36.9 95.8 38.1Q98.3 39.2 98.7 41.7Q99.2 44.1 96.3 45.6Q93.4 47.0 91.5 44.5Z" fill="rgb(108,108,108)"/><circle cx="96.2" cy="41.9" r="1.0" fill="#3e3e3e" stroke="none"/><path d="M91.6 54.2Q92.8 53.8 95.0 55.0Q97.2 56.3 97.6 57.9Q97.9 59.6 95.2 61.9Q92.6 64.3 91.0 63.2Q89.4 62.2 89.9 58.4Q90.4 54.6 91.6 54.2Z" fill="rgb(117,117,117)"/><path d="M96.8 69.7Q100.4 70.6 101.4 69.9Q102.5 69.2 102.9 66.5Q103.3 63.8 100.9 62.0Q98.6 60.2 95.9 62.6Q93.2 65.0 93.2 66.9Q93.3 68.8 96.8 69.7Z" fill="rgb(120,120,120)"/><circle cx="98.1" cy="65.8" r="1.1" fill="#3e3e3e" stroke="none"/><path d="M96.7 78.2Q99.1 77.2 99.6 74.3Q100.1 71.5 96.6 70.6Q93.1 69.7 92.4 70.5Q91.6 71.3 91.3 72.9Q90.9 74.5 92.6 76.9Q94.3 79.3 96.7 78.2Z" fill="rgb(106,106,106)"/><path d="M90.5 101.0Q91.6 101.7 94.8 100.4Q98.1 99.0 98.1 97.4Q98.2 95.9 96.9 93.7Q95.6 91.6 91.9 93.2Q88.2 94.7 88.8 97.5Q89.4 100.3 90.5 101.0Z" fill="rgb(119,119,119)"/></g></pattern><pattern id="tx2" width="90" height="90" patternUnits="userSpaceOnUse"><rect width="90" height="90" fill="#929292"/><g stroke="#e4e4e4" stroke-width="0.9" stroke-linejoin="round"><path d="M-3.8 -4.0Q-5.1 -3.0 -9.4 -3.6Q-13.6 -4.1 -13.7 -4.2Q-13.7 -4.2 -13.2 -5.9Q-12.7 -7.5 -10.6 -9.2Q-8.5 -11.0 -6.2 -10.9Q-3.9 -10.9 -3.2 -7.9Q-2.4 -5.0 -3.8 -4.0Z" fill="rgb(114,114,114)"/><path d="M2.4 0.2Q2.6 -2.7 0.3 -3.6Q-1.9 -4.5 -3.3 -3.5Q-4.7 -2.4 -4.8 0.7Q-4.8 3.9 -2.9 4.8Q-1.1 5.8 0.6 4.4Q2.3 3.1 2.4 0.2Z" fill="rgb(111,111,111)"/><path d="M-9.4 -2.8Q-5.3 -2.2 -5.3 0.7Q-5.3 3.6 -6.5 3.9Q-7.6 4.2 -10.4 2.6Q-13.2 1.1 -13.4 -1.1Q-13.6 -3.3 -9.4 -2.8Z" fill="rgb(126,126,126)"/><path d="M-3.3 5.4Q-5.1 4.5 -6.2 4.8Q-7.4 5.0 -8.7 8.2Q-9.9 11.4 -7.0 12.2Q-4.2 13.1 -2.7 11.8Q-1.3 10.5 -1.4 8.4Q-1.5 6.3 -3.3 5.4Z" fill="rgb(104,104,104)"/><path d="M-2.2 21.6Q-3.9 20.1 -7.0 20.9Q-10.1 21.6 -10.3 24.9Q-10.4 28.1 -8.5 28.6Q-6.7 29.2 -3.5 26.7Q-0.4 24.2 -0.4 23.7Q-0.4 23.1 -2.2 21.6Z" fill="rgb(125,125,125)"/><circle cx="-7.3" cy="24.0" r="1.3" fill="#3e3e3e" stroke="none"/><path d="M-3.0 27.3Q0.1 24.8 1.6 26.9Q3.0 28.9 2.9 31.3Q2.9 33.7 1.5 34.7Q0.1 35.8 -1.8 35.3Q-3.7 34.9 -4.9 32.4Q-6.1 29.8 -3.0 27.3Z" fill="rgb(112,112,112)"/><circle cx="-1.9" cy="30.4" r="1.2" fill="#3e3e3e" stroke="none"/><path d="M-5.7 44.7Q-7.3 43.2 -7.8 41.4Q-8.2 39.7 -6.1 37.8Q-3.9 36.0 -2.0 36.4Q-0.2 36.8 0.2 39.7Q0.6 42.6 -1.8 44.4Q-4.2 46.3 -5.7 44.7Z" fill="rgb(109,109,109)"/><circle cx="-4.4" cy="41.7" r="0.8" fill="#3e3e3e" stroke="none"/><path d="M-2.7 52.6Q-4.3 51.9 -6.4 53.4Q-8.4 54.9 -8.3 56.6Q-8.1 58.4 -4.9 60.6Q-1.8 62.7 -0.9 62.1Q0.0 61.6 -0.6 57.4Q-1.1 53.3 -2.7 52.6Z" fill="rgb(118,118,118)"/><circle cx="-2.8" cy="58.2" r="0.9" fill="#3e3e3e" stroke="none"/><path d="M-5.3 61.1Q-8.4 59.0 -10.0 61.8Q-11.7 64.5 -11.6 66.3Q-11.5 68.1 -7.3 68.3Q-3.1 68.5 -2.7 65.9Q-2.2 63.2 -5.3 61.1Z" fill="rgb(128,128,128)"/><circle cx="-7.1" cy="64.3" r="1.0" fill="#3e3e3e" stroke="none"/><path d="M-6.2 77.9Q-8.5 77.9 -10.1 73.7Q-11.7 69.5 -11.6 69.3Q-11.5 69.2 -7.3 69.4Q-3.2 69.6 -2.7 70.2Q-2.2 70.8 -1.9 73.1Q-1.7 75.3 -2.8 76.6Q-4.0 78.0 -6.2 77.9Z" fill="rgb(104,104,104)"/><path d="M-13.7 85.8Q-13.7 85.8 -13.2 84.1Q-12.7 82.5 -10.6 80.8Q-8.5 79.0 -6.2 79.1Q-3.9 79.1 -3.2 82.1Q-2.4 85.0 -3.8 86.0Q-5.1 87.0 -9.4 86.4Q-13.6 85.9 -13.7 85.8Z" fill="rgb(114,114,114)"/><path d="M-2.9 94.8Q-4.8 93.9 -4.8 90.7Q-4.7 87.6 -3.3 86.5Q-1.9 85.5 0.3 86.4Q2.6 87.3 2.4 90.2Q2.3 93.1 0.6 94.4Q-1.1 95.8 -2.9 94.8Z" fill="rgb(111,111,111)"/><path d="M-6.5 93.9Q-7.6 94.2 -10.4 92.6Q-13.2 91.1 -13.4 88.9Q-13.6 86.7 -9.4 87.2Q-5.3 87.8 -5.3 90.7Q-5.3 93.6 -6.5 93.9Z" fill="rgb(126,126,126)"/><path d="M22.8 -0.7Q23.1 -4.4 18.1 -3.4Q13.0 -2.3 13.3 -0.1Q13.7 2.1 15.2 3.2Q16.7 4.3 19.5 3.7Q22.4 3.1 22.8 -0.7Z" fill="rgb(128,128,128)"/><path d="M63.4 3.2Q64.7 2.4 65.7 -0.1Q66.7 -2.7 63.5 -4.0Q60.3 -5.3 59.5 -4.0Q58.6 -2.7 59.8 0.4Q61.1 3.5 61.6 3.7Q62.1 3.9 63.4 3.2Z" fill="rgb(109,109,109)"/><path d="M18.0 -4.0Q22.9 -5.0 23.1 -5.3Q23.3 -5.6 22.8 -7.6Q22.4 -9.6 19.6 -10.8Q16.9 -12.0 15.5 -11.1Q14.1 -10.1 13.4 -6.8Q12.7 -3.5 12.9 -3.2Q13.1 -3.0 18.0 -4.0Z" fill="rgb(112,112,112)"/><circle cx="17.1" cy="-7.6" r="1.0" fill="#3e3e3e" stroke="none"/><path d="M35.0 -3.4Q30.8 -4.3 30.8 -4.4Q30.7 -4.5 32.5 -7.9Q34.3 -11.4 37.3 -10.4Q40.2 -9.4 40.2 -6.7Q40.2 -4.0 39.7 -3.3Q39.2 -2.5 35.0 -3.4Z" fill="rgb(122,122,122)"/><path d="M50.5 -7.3Q50.7 -11.6 48.3 -12.8Q45.8 -14.0 43.4 -11.7Q41.0 -9.5 41.0 -6.7Q41.0 -3.9 45.6 -3.5Q50.2 -3.0 50.5 -7.3Z" fill="rgb(106,106,106)"/><circle cx="46.6" cy="-5.7" r="1.1" fill="#3e3e3e" stroke="none"/><path d="M55.6 -9.9Q59.0 -8.4 59.2 -7.2Q59.4 -5.9 58.5 -4.6Q57.7 -3.3 54.6 -2.9Q51.6 -2.4 51.3 -2.8Q51.0 -3.3 51.3 -7.2Q51.5 -11.1 51.9 -11.2Q52.2 -11.3 55.6 -9.9Z" fill="rgb(125,125,125)"/><path d="M62.0 -10.6Q63.9 -12.6 65.3 -11.6Q66.8 -10.6 68.1 -7.6Q69.5 -4.6 68.3 -4.0Q67.1 -3.3 63.8 -4.6Q60.4 -6.0 60.2 -7.3Q60.0 -8.7 62.0 -10.6Z" fill="rgb(118,118,118)"/><path d="M79.4 -9.2Q81.5 -11.0 83.8 -10.9Q86.1 -10.9 86.8 -7.9Q87.6 -5.0 86.2 -4.0Q84.9 -3.0 80.6 -3.6Q76.4 -4.1 76.3 -4.2Q76.3 -4.2 76.8 -5.9Q77.3 -7.5 79.4 -9.2Z" fill="rgb(114,114,114)"/><path d="M86.7 -3.5Q85.3 -2.4 85.2 0.7Q85.2 3.9 87.1 4.8Q88.9 5.8 90.6 4.4Q92.3 3.1 92.4 0.2Q92.6 -2.7 90.3 -3.6Q88.1 -4.5 86.7 -3.5Z" fill="rgb(111,111,111)"/><path d="M12.5 -0.0Q12.9 2.3 10.5 3.8Q8.1 5.4 5.4 4.3Q2.8 3.1 3.0 0.2Q3.1 -2.7 4.2 -3.3Q5.2 -3.8 8.5 -3.3Q11.8 -2.8 12.0 -2.6Q12.2 -2.3 12.5 -0.0Z" fill="rgb(115,115,115)"/><circle cx="6.3" cy="1.9" r="1.3" fill="#3e3e3e" stroke="none"/><path d="M13.3 89.9Q13.0 87.7 18.1 86.6Q23.1 85.6 22.8 89.3Q22.4 93.1 19.5 93.7Q16.7 94.3 15.2 93.2Q13.7 92.1 13.3 89.9Z" fill="rgb(128,128,128)"/><path d="M23.4 -0.6Q23.8 -4.5 24.0 -4.8Q24.2 -5.2 27.2 -4.6Q30.2 -4.0 30.3 -4.0Q30.3 -3.9 30.4 0.1Q30.5 4.1 28.5 5.1Q26.5 6.2 24.8 4.7Q23.0 3.3 23.4 -0.6Z" fill="rgb(116,116,116)"/><circle cx="28.1" cy="-0.2" r="1.1" fill="#3e3e3e" stroke="none"/><path d="M32.7 4.3Q34.5 4.5 36.8 2.3Q39.2 0.1 39.2 -0.9Q39.2 -2.0 34.9 -2.9Q30.6 -3.9 30.8 0.1Q30.9 4.0 32.7 4.3Z" fill="rgb(111,111,111)"/><circle cx="33.6" cy="0.4" r="1.3" fill="#3e3e3e" stroke="none"/><path d="M54.8 -1.9Q51.7 -1.5 51.5 0.9Q51.3 3.2 52.6 4.4Q54.0 5.7 57.1 4.7Q60.3 3.8 59.0 0.7Q57.8 -2.3 54.8 -1.9Z" fill="rgb(108,108,108)"/><path d="M59.5 86.0Q60.3 84.7 63.5 86.0Q66.7 87.3 65.7 89.9Q64.7 92.4 63.4 93.2Q62.1 93.9 61.6 93.7Q61.1 93.5 59.8 90.4Q58.6 87.3 59.5 86.0Z" fill="rgb(109,109,109)"/><path d="M69.1 4.5Q65.5 2.9 66.5 0.2Q67.5 -2.6 68.7 -3.2Q69.9 -3.9 72.5 -3.7Q75.1 -3.5 75.1 -3.5Q75.2 -3.4 75.3 -1.1Q75.5 1.2 74.1 3.7Q72.6 6.2 69.1 4.5Z" fill="rgb(111,111,111)"/><path d="M79.6 2.6Q82.4 4.2 83.5 3.9Q84.7 3.6 84.7 0.7Q84.7 -2.2 80.6 -2.8Q76.4 -3.3 76.6 -1.1Q76.8 1.1 79.6 2.6Z" fill="rgb(126,126,126)"/><path d="M5.3 4.7Q2.6 3.6 1.0 4.9Q-0.7 6.3 -0.6 8.4Q-0.5 10.5 2.2 11.7Q5.0 12.9 6.4 12.0Q7.8 11.1 7.8 8.5Q7.9 5.8 5.3 4.7Z" fill="rgb(112,112,112)"/><path d="M14.6 4.0Q16.0 5.1 15.9 8.8Q15.7 12.4 15.1 12.8Q14.6 13.1 11.5 12.1Q8.4 11.0 8.5 8.5Q8.5 5.9 10.8 4.4Q13.1 2.9 14.6 4.0Z" fill="rgb(113,113,113)"/><circle cx="12.2" cy="9.0" r="0.8" fill="#3e3e3e" stroke="none"/><path d="M19.7 4.4Q22.6 3.8 24.3 5.2Q26.1 6.6 26.0 8.9Q26.0 11.1 24.6 12.5Q23.2 13.8 19.8 13.2Q16.4 12.6 16.6 8.8Q16.8 5.0 19.7 4.4Z" fill="rgb(109,109,109)"/><circle cx="19.7" cy="9.2" r="1.5" fill="#3e3e3e" stroke="none"/><path d="M32.6 5.1Q34.2 5.4 35.6 8.7Q37.0 12.0 35.0 12.7Q33.0 13.5 30.0 12.2Q27.1 11.0 27.1 8.9Q27.2 6.8 29.0 5.8Q30.9 4.9 32.6 5.1Z" fill="rgb(124,124,124)"/><circle cx="31.5" cy="8.8" r="0.9" fill="#3e3e3e" stroke="none"/><path d="M37.3 3.0Q35.1 5.0 36.5 8.3Q37.8 11.6 38.6 11.8Q39.4 12.0 40.8 11.2Q42.3 10.5 43.1 8.0Q43.8 5.5 41.7 3.2Q39.5 0.9 37.3 3.0Z" fill="rgb(110,110,110)"/><path d="M51.7 13.2Q50.3 14.5 46.7 12.8Q43.1 11.0 44.0 8.3Q44.8 5.7 47.6 4.7Q50.4 3.8 51.9 5.2Q53.3 6.6 53.3 9.2Q53.2 11.9 51.7 13.2Z" fill="rgb(122,122,122)"/><circle cx="48.7" cy="9.0" r="1.0" fill="#3e3e3e" stroke="none"/><path d="M62.3 8.4Q61.7 5.1 61.2 4.9Q60.6 4.7 57.4 5.7Q54.2 6.7 54.1 9.3Q54.0 11.8 56.7 12.7Q59.3 13.5 61.1 12.6Q63.0 11.8 62.3 8.4Z" fill="rgb(118,118,118)"/><circle cx="58.8" cy="8.9" r="1.4" fill="#3e3e3e" stroke="none"/><path d="M64.0 4.3Q65.3 3.6 68.7 5.2Q72.1 6.7 72.3 8.8Q72.5 10.8 70.1 12.0Q67.7 13.3 65.9 12.4Q64.0 11.5 63.3 8.2Q62.7 5.0 64.0 4.3Z" fill="rgb(108,108,108)"/><path d="M73.7 8.7Q73.9 10.7 75.2 11.4Q76.4 12.0 78.0 11.6Q79.6 11.1 80.8 8.0Q82.0 4.9 79.2 3.3Q76.3 1.7 74.9 4.2Q73.5 6.6 73.7 8.7Z" fill="rgb(124,124,124)"/><circle cx="78.6" cy="6.5" r="1.1" fill="#3e3e3e" stroke="none"/><path d="M87.3 11.8Q85.8 13.1 83.0 12.2Q80.1 11.4 81.3 8.2Q82.6 5.0 83.8 4.8Q84.9 4.5 86.7 5.4Q88.5 6.3 88.6 8.4Q88.7 10.5 87.3 11.8Z" fill="rgb(104,104,104)"/><path d="M4.8 16.4Q4.8 13.4 2.0 12.2Q-0.8 11.0 -2.2 12.3Q-3.7 13.6 -3.5 16.5Q-3.4 19.4 -1.5 21.0Q0.4 22.6 2.6 20.9Q4.7 19.3 4.8 16.4Z" fill="rgb(115,115,115)"/><circle cx="0.0" cy="16.2" r="1.2" fill="#3e3e3e" stroke="none"/><path d="M6.9 12.8Q5.6 13.6 5.6 16.4Q5.6 19.1 8.4 19.8Q11.2 20.6 12.0 20.3Q12.8 20.0 13.5 17.0Q14.2 14.0 11.2 13.0Q8.2 11.9 6.9 12.8Z" fill="rgb(126,126,126)"/><circle cx="9.1" cy="15.2" r="1.5" fill="#3e3e3e" stroke="none"/><path d="M26.8 19.6Q24.3 18.0 24.1 16.2Q23.9 14.4 25.2 13.1Q26.5 11.7 29.6 13.1Q32.7 14.4 32.0 17.8Q31.3 21.2 30.3 21.2Q29.3 21.3 26.8 19.6Z" fill="rgb(120,120,120)"/><circle cx="28.3" cy="16.7" r="0.8" fill="#3e3e3e" stroke="none"/><path d="M37.9 21.9Q35.9 24.5 34.0 22.8Q32.1 21.2 32.7 17.9Q33.4 14.7 35.4 14.0Q37.4 13.2 38.2 13.4Q38.9 13.6 39.5 16.5Q40.0 19.4 37.9 21.9Z" fill="rgb(123,123,123)"/><path d="M49.9 17.2Q50.0 15.0 46.5 13.3Q42.9 11.6 41.4 12.4Q39.8 13.2 40.4 16.3Q40.9 19.4 43.5 20.2Q46.2 21.0 48.0 20.2Q49.9 19.4 49.9 17.2Z" fill="rgb(108,108,108)"/><circle cx="43.7" cy="17.4" r="1.2" fill="#3e3e3e" stroke="none"/><path d="M65.3 13.6Q63.4 12.7 61.6 13.6Q59.7 14.4 59.6 16.9Q59.5 19.4 62.1 20.1Q64.8 20.8 65.7 20.2Q66.7 19.6 66.9 17.1Q67.2 14.5 65.3 13.6Z" fill="rgb(108,108,108)"/><circle cx="61.8" cy="17.7" r="1.4" fill="#3e3e3e" stroke="none"/><path d="M70.8 13.4Q68.4 14.6 68.2 17.2Q68.0 19.7 69.5 20.9Q71.0 22.0 74.0 20.8Q76.9 19.5 76.3 16.5Q75.7 13.5 74.5 12.8Q73.2 12.2 70.8 13.4Z" fill="rgb(120,120,120)"/><path d="M8.1 20.9Q5.3 20.2 3.2 21.7Q1.2 23.2 1.2 23.7Q1.2 24.2 2.6 26.2Q4.0 28.2 6.5 27.7Q9.1 27.1 10.0 24.4Q11.0 21.7 8.1 20.9Z" fill="rgb(119,119,119)"/><path d="M12.5 21.6Q13.3 21.4 15.7 23.1Q18.1 24.8 18.3 25.3Q18.4 25.7 15.3 27.8Q12.3 30.0 11.0 28.7Q9.8 27.4 10.8 24.7Q11.7 21.9 12.5 21.6Z" fill="rgb(111,111,111)"/><circle cx="12.8" cy="26.5" r="1.1" fill="#3e3e3e" stroke="none"/><path d="M27.3 24.8Q29.3 22.2 30.3 22.2Q31.2 22.1 33.2 23.8Q35.1 25.5 35.1 25.6Q35.2 25.7 33.4 28.1Q31.6 30.5 28.4 28.9Q25.3 27.4 27.3 24.8Z" fill="rgb(121,121,121)"/><path d="M51.9 22.0Q53.8 23.8 54.1 25.4Q54.4 27.0 51.6 28.6Q48.8 30.1 46.9 28.6Q45.0 27.2 45.7 24.4Q46.5 21.7 48.3 21.0Q50.1 20.2 51.9 22.0Z" fill="rgb(128,128,128)"/><path d="M61.9 20.8Q64.5 21.5 63.6 24.3Q62.6 27.2 59.7 27.3Q56.9 27.5 56.4 27.1Q55.8 26.6 55.5 25.1Q55.2 23.5 57.3 21.8Q59.3 20.1 61.9 20.8Z" fill="rgb(116,116,116)"/><path d="M70.7 25.7Q71.1 28.4 69.4 29.6Q67.7 30.9 65.6 29.1Q63.4 27.4 64.4 24.6Q65.4 21.9 66.3 21.3Q67.3 20.7 68.8 21.8Q70.3 22.9 70.7 25.7Z" fill="rgb(127,127,127)"/><path d="M78.0 28.8Q78.9 28.3 79.0 24.9Q79.1 21.4 78.3 20.7Q77.4 19.9 74.2 21.3Q71.0 22.6 71.5 25.6Q71.9 28.6 74.5 29.0Q77.1 29.3 78.0 28.8Z" fill="rgb(108,108,108)"/><circle cx="75.7" cy="24.7" r="1.2" fill="#3e3e3e" stroke="none"/><path d="M87.8 21.6Q89.6 23.1 89.6 23.7Q89.6 24.2 86.5 26.7Q83.3 29.2 81.5 28.6Q79.6 28.1 79.7 24.9Q79.9 21.6 83.0 20.9Q86.1 20.1 87.8 21.6Z" fill="rgb(125,125,125)"/><circle cx="82.7" cy="24.0" r="1.3" fill="#3e3e3e" stroke="none"/><path d="M91.5 34.7Q90.1 35.8 88.2 35.3Q86.3 34.9 85.1 32.4Q83.9 29.8 87.0 27.3Q90.1 24.8 91.6 26.9Q93.0 28.9 92.9 31.3Q92.9 33.7 91.5 34.7Z" fill="rgb(112,112,112)"/><circle cx="88.1" cy="30.4" r="1.2" fill="#3e3e3e" stroke="none"/><path d="M10.6 29.1Q11.9 30.5 11.9 32.3Q11.9 34.1 10.0 34.7Q8.1 35.4 5.9 34.6Q3.8 33.8 3.8 31.3Q3.9 28.9 6.6 28.3Q9.3 27.8 10.6 29.1Z" fill="rgb(109,109,109)"/><circle cx="8.9" cy="30.2" r="1.3" fill="#3e3e3e" stroke="none"/><path d="M15.7 28.4Q18.8 26.3 19.8 27.4Q20.8 28.5 20.6 31.4Q20.4 34.4 19.0 35.5Q17.6 36.7 15.1 35.3Q12.6 33.9 12.6 32.2Q12.6 30.5 15.7 28.4Z" fill="rgb(117,117,117)"/><circle cx="15.6" cy="30.4" r="1.5" fill="#3e3e3e" stroke="none"/><path d="M23.5 28.3Q22.0 28.6 21.8 31.5Q21.6 34.5 25.6 35.7Q29.6 36.9 30.4 36.4Q31.1 36.0 31.2 33.5Q31.4 31.1 28.1 29.6Q24.9 28.0 23.5 28.3Z" fill="rgb(109,109,109)"/><circle cx="26.1" cy="31.2" r="1.3" fill="#3e3e3e" stroke="none"/><path d="M37.8 27.2Q36.0 26.1 34.2 28.6Q32.3 31.1 32.2 33.6Q32.1 36.2 34.6 37.1Q37.1 38.0 39.0 36.8Q40.9 35.6 40.2 32.0Q39.6 28.3 37.8 27.2Z" fill="rgb(108,108,108)"/><path d="M42.3 27.9Q40.0 28.2 40.6 31.9Q41.3 35.6 42.5 35.7Q43.8 35.8 45.6 35.1Q47.5 34.4 48.0 32.5Q48.6 30.7 46.6 29.1Q44.6 27.6 42.3 27.9Z" fill="rgb(125,125,125)"/><circle cx="43.8" cy="30.8" r="1.5" fill="#3e3e3e" stroke="none"/><path d="M56.4 32.5Q57.0 36.0 54.6 37.3Q52.3 38.5 50.3 36.5Q48.4 34.5 48.9 32.8Q49.4 31.1 52.1 29.6Q54.8 28.1 55.3 28.5Q55.9 28.9 56.4 32.5Z" fill="rgb(107,107,107)"/><path d="M64.7 37.1Q63.0 38.3 60.5 37.1Q58.1 35.9 57.5 32.3Q56.9 28.6 59.8 28.4Q62.7 28.3 64.9 30.1Q67.1 31.8 66.8 33.9Q66.5 35.9 64.7 37.1Z" fill="rgb(119,119,119)"/><circle cx="62.0" cy="33.3" r="1.0" fill="#3e3e3e" stroke="none"/><path d="M70.6 37.6Q68.0 36.0 68.3 34.1Q68.5 32.1 70.3 30.9Q72.0 29.6 74.4 29.9Q76.8 30.2 76.8 33.9Q76.7 37.6 75.0 38.4Q73.2 39.1 70.6 37.6Z" fill="rgb(120,120,120)"/><path d="M84.4 32.7Q85.7 35.4 83.5 37.3Q81.2 39.2 79.3 38.5Q77.4 37.8 77.5 33.9Q77.5 29.9 78.4 29.4Q79.2 29.0 81.2 29.5Q83.2 30.1 84.4 32.7Z" fill="rgb(106,106,106)"/><path d="M5.7 35.4Q3.6 34.6 2.2 35.7Q0.8 36.7 1.2 39.6Q1.6 42.4 4.3 43.5Q6.9 44.6 7.6 44.3Q8.2 44.0 8.0 40.1Q7.8 36.2 5.7 35.4Z" fill="rgb(126,126,126)"/><circle cx="6.2" cy="38.9" r="0.8" fill="#3e3e3e" stroke="none"/><path d="M15.5 42.7Q13.8 44.5 11.3 44.4Q8.7 44.2 8.5 40.1Q8.4 36.0 10.2 35.4Q12.1 34.7 14.7 36.2Q17.4 37.7 17.2 39.2Q17.1 40.8 15.5 42.7Z" fill="rgb(125,125,125)"/><circle cx="12.1" cy="39.2" r="1.5" fill="#3e3e3e" stroke="none"/><path d="M28.4 45.9Q27.9 45.4 29.0 41.6Q30.2 37.8 31.0 37.3Q31.8 36.8 34.4 37.7Q36.9 38.7 37.8 41.9Q38.6 45.2 33.8 45.9Q29.0 46.5 28.4 45.9Z" fill="rgb(123,123,123)"/><circle cx="33.7" cy="42.5" r="1.2" fill="#3e3e3e" stroke="none"/><path d="M44.6 40.2Q43.7 36.5 42.5 36.4Q41.3 36.3 39.5 37.5Q37.7 38.7 38.5 41.8Q39.3 44.9 39.7 45.3Q40.1 45.8 42.8 44.9Q45.4 44.0 44.6 40.2Z" fill="rgb(127,127,127)"/><circle cx="43.3" cy="40.8" r="1.5" fill="#3e3e3e" stroke="none"/><path d="M45.8 35.7Q47.6 35.0 49.7 37.1Q51.8 39.3 51.3 42.0Q50.8 44.7 48.3 44.3Q45.8 44.0 44.9 40.2Q44.1 36.3 45.8 35.7Z" fill="rgb(115,115,115)"/><circle cx="47.3" cy="40.6" r="1.2" fill="#3e3e3e" stroke="none"/><path d="M62.4 40.4Q62.5 39.3 60.1 38.1Q57.6 36.9 55.1 38.2Q52.7 39.5 52.2 42.1Q51.7 44.8 52.0 45.2Q52.2 45.6 54.7 45.8Q57.2 46.1 59.8 43.8Q62.3 41.5 62.4 40.4Z" fill="rgb(125,125,125)"/><circle cx="57.6" cy="42.1" r="1.1" fill="#3e3e3e" stroke="none"/><path d="M75.1 45.1Q76.6 46.0 79.2 44.7Q81.8 43.4 81.3 41.7Q80.8 40.0 79.0 39.3Q77.2 38.6 75.5 39.4Q73.7 40.2 73.6 42.2Q73.6 44.2 75.1 45.1Z" fill="rgb(108,108,108)"/><path d="M84.3 44.7Q82.7 43.2 82.2 41.4Q81.8 39.7 83.9 37.8Q86.1 36.0 88.0 36.4Q89.8 36.8 90.2 39.7Q90.6 42.6 88.2 44.4Q85.8 46.3 84.3 44.7Z" fill="rgb(109,109,109)"/><circle cx="85.6" cy="41.7" r="0.8" fill="#3e3e3e" stroke="none"/><path d="M-2.5 51.9Q-4.1 51.2 -4.0 49.1Q-3.9 47.0 -1.4 45.0Q1.1 43.1 4.0 44.2Q6.8 45.4 5.9 49.0Q5.0 52.5 2.1 52.5Q-0.8 52.6 -2.5 51.9Z" fill="rgb(128,128,128)"/><circle cx="2.0" cy="48.9" r="1.1" fill="#3e3e3e" stroke="none"/><path d="M14.7 49.0Q15.9 52.3 11.7 53.3Q7.5 54.4 6.7 53.4Q5.9 52.5 6.7 49.2Q7.6 45.9 8.2 45.6Q8.8 45.3 11.2 45.5Q13.6 45.6 14.7 49.0Z" fill="rgb(125,125,125)"/><circle cx="10.1" cy="51.1" r="1.4" fill="#3e3e3e" stroke="none"/><path d="M21.9 49.4Q24.8 45.9 21.3 43.7Q17.8 41.5 16.2 43.3Q14.6 45.2 15.8 48.6Q17.0 52.0 17.8 52.6Q18.6 53.2 18.8 53.1Q19.0 53.0 21.9 49.4Z" fill="rgb(116,116,116)"/><circle cx="19.1" cy="46.7" r="1.2" fill="#3e3e3e" stroke="none"/><path d="M26.4 46.0Q25.4 46.1 22.4 49.8Q19.4 53.5 24.1 53.9Q28.8 54.4 29.3 53.1Q29.9 51.9 29.2 49.4Q28.5 47.0 27.9 46.5Q27.4 45.9 26.4 46.0Z" fill="rgb(127,127,127)"/><path d="M30.1 49.2Q29.4 47.0 33.9 46.4Q38.3 45.8 38.7 46.2Q39.1 46.7 39.0 49.2Q39.0 51.7 34.9 51.6Q30.7 51.5 30.1 49.2Z" fill="rgb(108,108,108)"/><circle cx="34.5" cy="48.6" r="1.4" fill="#3e3e3e" stroke="none"/><path d="M40.1 52.0Q40.2 52.1 43.2 53.3Q46.2 54.4 48.4 52.0Q50.6 49.6 51.0 47.9Q51.4 46.2 51.1 45.7Q50.8 45.3 48.3 45.0Q45.7 44.6 42.9 45.5Q40.1 46.5 40.1 49.2Q40.1 51.9 40.1 52.0Z" fill="rgb(109,109,109)"/><path d="M59.1 49.8Q61.0 52.7 58.4 53.7Q55.7 54.8 53.5 52.3Q51.3 49.8 51.6 48.1Q52.0 46.4 54.6 46.6Q57.2 46.9 59.1 49.8Z" fill="rgb(120,120,120)"/><circle cx="56.0" cy="51.0" r="1.1" fill="#3e3e3e" stroke="none"/><path d="M67.7 49.7Q67.7 49.1 65.3 45.4Q62.8 41.7 60.2 44.2Q57.5 46.6 59.5 49.6Q61.4 52.5 62.2 52.8Q63.1 53.1 65.3 51.7Q67.6 50.4 67.7 49.7Z" fill="rgb(107,107,107)"/><circle cx="62.1" cy="47.7" r="0.9" fill="#3e3e3e" stroke="none"/><path d="M74.7 45.5Q76.3 46.5 77.3 49.9Q78.3 53.4 75.6 53.6Q72.9 53.9 70.6 52.2Q68.3 50.4 68.4 49.8Q68.4 49.1 70.8 46.9Q73.1 44.6 74.7 45.5Z" fill="rgb(122,122,122)"/><circle cx="74.2" cy="49.5" r="1.2" fill="#3e3e3e" stroke="none"/><path d="M77.8 49.6Q76.9 46.5 79.4 45.2Q82.0 44.0 83.4 45.5Q84.9 47.0 84.8 48.9Q84.7 50.8 82.8 52.2Q80.9 53.6 79.8 53.2Q78.7 52.8 77.8 49.6Z" fill="rgb(122,122,122)"/><path d="M-0.2 57.4Q-0.8 53.1 2.1 53.1Q5.0 53.1 5.9 54.1Q6.7 55.1 6.8 57.7Q6.8 60.3 6.0 60.7Q5.1 61.2 2.7 61.4Q0.3 61.6 -0.2 57.4Z" fill="rgb(122,122,122)"/><path d="M16.9 53.8Q17.7 54.3 17.8 57.2Q17.9 60.0 14.7 61.3Q11.5 62.5 9.6 61.3Q7.7 60.1 7.7 57.7Q7.7 55.3 11.9 54.2Q16.1 53.2 16.9 53.8Z" fill="rgb(113,113,113)"/><circle cx="13.2" cy="57.4" r="1.1" fill="#3e3e3e" stroke="none"/><path d="M24.0 54.4Q28.6 54.8 29.1 56.8Q29.5 58.8 25.6 60.6Q21.6 62.3 20.4 61.2Q19.2 60.1 19.1 57.1Q19.1 54.2 19.3 54.1Q19.5 54.0 24.0 54.4Z" fill="rgb(125,125,125)"/><circle cx="25.1" cy="57.0" r="1.5" fill="#3e3e3e" stroke="none"/><path d="M30.1 53.5Q29.6 54.7 30.0 56.6Q30.4 58.5 30.7 58.7Q30.9 58.8 33.7 58.8Q36.6 58.7 37.9 55.7Q39.2 52.6 39.1 52.5Q39.1 52.5 34.9 52.4Q30.6 52.3 30.1 53.5Z" fill="rgb(128,128,128)"/><path d="M38.7 56.0Q40.0 52.9 42.9 54.0Q45.8 55.1 46.9 58.1Q47.9 61.1 47.5 61.6Q47.1 62.1 43.5 62.6Q39.9 63.1 38.6 61.1Q37.4 59.1 38.7 56.0Z" fill="rgb(119,119,119)"/><path d="M48.9 52.5Q51.0 50.2 53.2 52.6Q55.3 55.1 54.3 57.8Q53.2 60.5 51.1 60.6Q48.9 60.6 47.9 57.7Q46.8 54.7 48.9 52.5Z" fill="rgb(127,127,127)"/><path d="M70.1 53.0Q67.9 51.3 65.8 52.6Q63.7 53.8 63.8 56.7Q63.9 59.5 65.3 60.8Q66.6 62.0 68.6 61.0Q70.7 60.0 71.5 57.3Q72.2 54.6 70.1 53.0Z" fill="rgb(105,105,105)"/><circle cx="68.0" cy="56.6" r="0.9" fill="#3e3e3e" stroke="none"/><path d="M75.6 54.4Q78.2 54.2 79.4 54.6Q80.6 55.0 80.7 56.7Q80.8 58.5 79.2 61.3Q77.5 64.1 74.4 62.2Q71.4 60.3 72.2 57.5Q73.0 54.7 75.6 54.4Z" fill="rgb(124,124,124)"/><circle cx="75.4" cy="58.8" r="1.2" fill="#3e3e3e" stroke="none"/><path d="M83.6 53.4Q85.7 51.9 87.3 52.6Q88.9 53.3 89.4 57.4Q90.0 61.6 89.1 62.1Q88.2 62.7 85.1 60.6Q81.9 58.4 81.7 56.6Q81.6 54.9 83.6 53.4Z" fill="rgb(118,118,118)"/><circle cx="87.2" cy="58.2" r="0.9" fill="#3e3e3e" stroke="none"/><path d="M-0.4 62.8Q0.4 62.2 2.8 62.0Q5.1 61.8 4.6 65.1Q4.0 68.5 1.4 69.2Q-1.2 70.0 -1.7 69.4Q-2.2 68.7 -1.8 66.0Q-1.3 63.4 -0.4 62.8Z" fill="rgb(118,118,118)"/><path d="M4.9 65.2Q4.4 68.5 6.5 69.4Q8.7 70.3 9.8 69.6Q10.8 69.0 10.9 66.2Q11.0 63.4 9.0 62.2Q7.1 61.0 6.3 61.4Q5.5 61.9 4.9 65.2Z" fill="rgb(106,106,106)"/><circle cx="7.4" cy="65.7" r="1.1" fill="#3e3e3e" stroke="none"/><path d="M19.4 62.3Q18.3 61.2 15.1 62.4Q12.0 63.6 11.9 66.3Q11.8 68.9 14.0 70.2Q16.3 71.4 18.8 69.3Q21.4 67.1 21.0 65.2Q20.5 63.3 19.4 62.3Z" fill="rgb(120,120,120)"/><circle cx="15.4" cy="66.6" r="1.1" fill="#3e3e3e" stroke="none"/><path d="M30.0 59.6Q29.8 59.5 25.9 61.2Q21.9 62.9 22.4 64.9Q22.8 66.9 24.8 68.1Q26.7 69.4 28.9 68.1Q31.0 66.8 30.6 63.3Q30.2 59.8 30.0 59.6Z" fill="rgb(111,111,111)"/><path d="M33.8 59.8Q31.0 59.9 31.4 63.2Q31.7 66.6 34.3 67.1Q36.9 67.6 37.9 65.6Q38.9 63.6 37.7 61.7Q36.5 59.8 33.8 59.8Z" fill="rgb(108,108,108)"/><path d="M41.7 71.6Q37.9 68.7 37.9 68.5Q37.8 68.2 38.8 66.0Q39.9 63.9 43.6 63.3Q47.4 62.8 47.5 65.8Q47.7 68.8 46.6 71.7Q45.5 74.5 41.7 71.6Z" fill="rgb(128,128,128)"/><circle cx="43.2" cy="67.8" r="1.3" fill="#3e3e3e" stroke="none"/><path d="M52.9 69.1Q57.2 69.5 56.2 66.3Q55.3 63.2 54.2 62.6Q53.2 62.0 51.2 62.1Q49.1 62.2 48.7 62.6Q48.3 63.1 48.5 65.9Q48.6 68.7 52.9 69.1Z" fill="rgb(110,110,110)"/><circle cx="53.2" cy="67.4" r="1.4" fill="#3e3e3e" stroke="none"/><path d="M66.1 66.0Q66.2 62.8 64.7 61.4Q63.3 60.1 59.6 61.4Q56.0 62.7 57.1 66.1Q58.1 69.6 58.2 69.6Q58.3 69.7 60.9 70.4Q63.6 71.0 64.9 70.1Q66.1 69.2 66.1 66.0Z" fill="rgb(112,112,112)"/><circle cx="61.1" cy="64.3" r="1.0" fill="#3e3e3e" stroke="none"/><path d="M68.9 61.8Q71.1 60.7 74.2 62.6Q77.3 64.6 77.4 66.5Q77.5 68.3 77.4 68.5Q77.3 68.6 75.1 69.6Q72.8 70.5 69.8 69.8Q66.8 69.1 66.8 66.0Q66.8 62.8 68.9 61.8Z" fill="rgb(124,124,124)"/><path d="M78.4 66.3Q78.5 68.1 82.7 68.3Q86.9 68.5 87.3 65.9Q87.8 63.2 84.7 61.1Q81.6 59.0 80.0 61.8Q78.3 64.5 78.4 66.3Z" fill="rgb(128,128,128)"/><circle cx="82.9" cy="64.3" r="1.0" fill="#3e3e3e" stroke="none"/><path d="M1.6 69.8Q-1.0 70.6 -0.7 72.9Q-0.5 75.3 2.4 76.1Q5.4 76.9 5.9 76.7Q6.5 76.4 7.5 73.6Q8.5 70.7 6.3 69.9Q4.2 69.0 1.6 69.8Z" fill="rgb(105,105,105)"/><path d="M10.3 77.7Q7.3 76.5 8.2 73.8Q9.1 71.1 10.2 70.4Q11.2 69.8 13.5 71.1Q15.8 72.4 16.0 74.7Q16.2 77.0 14.8 78.0Q13.4 78.9 10.3 77.7Z" fill="rgb(128,128,128)"/><circle cx="11.8" cy="75.2" r="1.2" fill="#3e3e3e" stroke="none"/><path d="M24.9 77.1Q26.9 74.7 26.5 72.6Q26.1 70.4 24.2 69.1Q22.2 67.8 19.5 70.1Q16.8 72.3 17.1 74.6Q17.3 76.9 20.1 78.2Q22.9 79.4 24.9 77.1Z" fill="rgb(116,116,116)"/><path d="M35.1 72.7Q33.2 76.1 30.7 75.3Q28.2 74.4 27.8 72.3Q27.4 70.2 29.5 69.0Q31.5 67.7 34.1 68.2Q36.7 68.7 36.8 69.0Q36.9 69.2 35.1 72.7Z" fill="rgb(109,109,109)"/><circle cx="31.8" cy="70.8" r="1.3" fill="#3e3e3e" stroke="none"/><path d="M34.4 77.1Q34.7 77.7 37.5 78.6Q40.4 79.6 42.6 77.6Q44.8 75.5 44.7 75.2Q44.6 74.9 41.1 72.2Q37.6 69.6 35.8 73.0Q34.0 76.5 34.4 77.1Z" fill="rgb(113,113,113)"/><circle cx="39.0" cy="73.9" r="1.3" fill="#3e3e3e" stroke="none"/><path d="M46.3 74.9Q46.4 75.2 48.7 76.4Q51.1 77.5 51.5 77.4Q51.9 77.3 54.7 73.7Q57.5 70.1 57.5 70.0Q57.4 70.0 52.9 69.5Q48.4 69.1 47.3 71.9Q46.2 74.6 46.3 74.9Z" fill="rgb(107,107,107)"/><circle cx="51.7" cy="71.1" r="1.3" fill="#3e3e3e" stroke="none"/><path d="M55.2 74.1Q52.2 77.8 55.9 79.4Q59.6 80.9 61.5 78.9Q63.4 76.9 63.4 74.3Q63.4 71.6 60.8 71.0Q58.1 70.3 55.2 74.1Z" fill="rgb(111,111,111)"/><circle cx="57.5" cy="77.0" r="0.9" fill="#3e3e3e" stroke="none"/><path d="M69.6 70.9Q66.7 70.2 65.6 71.1Q64.4 71.9 64.4 74.4Q64.4 76.9 65.8 77.8Q67.2 78.8 69.9 77.7Q72.5 76.6 72.5 74.1Q72.5 71.5 69.6 70.9Z" fill="rgb(104,104,104)"/><path d="M75.4 70.4Q73.2 71.3 73.2 74.0Q73.3 76.7 75.0 79.2Q76.7 81.8 78.8 80.1Q81.0 78.3 79.3 73.9Q77.6 69.4 75.4 70.4Z" fill="rgb(122,122,122)"/><circle cx="77.2" cy="76.6" r="1.5" fill="#3e3e3e" stroke="none"/><path d="M87.2 76.6Q88.3 75.3 88.1 73.1Q87.8 70.8 87.3 70.2Q86.8 69.6 82.7 69.4Q78.5 69.2 78.4 69.3Q78.3 69.5 79.9 73.7Q81.5 77.9 83.8 77.9Q86.0 78.0 87.2 76.6Z" fill="rgb(104,104,104)"/><path d="M-2.1 81.8Q-1.4 84.6 0.7 85.5Q2.7 86.3 3.7 85.8Q4.6 85.2 4.8 81.6Q5.0 77.9 2.2 77.2Q-0.5 76.4 -1.7 77.7Q-2.8 79.0 -2.1 81.8Z" fill="rgb(128,128,128)"/><circle cx="1.4" cy="80.7" r="1.4" fill="#3e3e3e" stroke="none"/><path d="M8.6 86.0Q5.4 85.5 5.5 81.6Q5.7 77.7 6.3 77.4Q6.9 77.2 10.1 78.4Q13.3 79.6 12.5 83.1Q11.8 86.5 8.6 86.0Z" fill="rgb(105,105,105)"/><circle cx="8.2" cy="82.6" r="1.4" fill="#3e3e3e" stroke="none"/><path d="M12.9 86.8Q13.1 87.0 18.0 86.0Q22.9 85.0 23.1 84.7Q23.3 84.4 22.8 82.4Q22.4 80.4 19.6 79.2Q16.9 78.0 15.5 78.9Q14.1 79.9 13.4 83.2Q12.7 86.5 12.9 86.8Z" fill="rgb(112,112,112)"/><circle cx="17.1" cy="82.4" r="1.0" fill="#3e3e3e" stroke="none"/><path d="M33.5 77.7Q34.0 78.3 32.1 81.9Q30.3 85.4 27.3 84.9Q24.4 84.3 23.9 82.2Q23.4 80.0 25.5 77.6Q27.6 75.2 30.4 76.1Q33.1 77.0 33.5 77.7Z" fill="rgb(108,108,108)"/><circle cx="29.5" cy="79.9" r="1.3" fill="#3e3e3e" stroke="none"/><path d="M37.3 79.6Q34.3 78.6 32.5 82.1Q30.7 85.5 30.8 85.6Q30.8 85.7 35.0 86.6Q39.2 87.5 39.7 86.7Q40.2 86.0 40.2 83.3Q40.2 80.6 37.3 79.6Z" fill="rgb(122,122,122)"/><path d="M43.4 78.3Q45.8 76.0 48.3 77.2Q50.7 78.4 50.5 82.7Q50.2 87.0 45.6 86.5Q41.0 86.1 41.0 83.3Q41.0 80.5 43.4 78.3Z" fill="rgb(106,106,106)"/><circle cx="46.6" cy="84.3" r="1.1" fill="#3e3e3e" stroke="none"/><path d="M51.9 78.8Q51.5 78.9 51.3 82.8Q51.0 86.7 51.3 87.2Q51.6 87.6 54.6 87.1Q57.7 86.7 58.5 85.4Q59.4 84.1 59.2 82.8Q59.0 81.6 55.6 80.1Q52.2 78.7 51.9 78.8Z" fill="rgb(125,125,125)"/><path d="M60.2 82.7Q60.4 84.0 63.8 85.4Q67.1 86.7 68.3 86.0Q69.5 85.4 68.1 82.4Q66.8 79.4 65.3 78.4Q63.9 77.4 62.0 79.4Q60.0 81.3 60.2 82.7Z" fill="rgb(118,118,118)"/><path d="M74.6 79.5Q76.4 82.2 75.8 83.9Q75.3 85.7 72.6 85.5Q69.9 85.3 68.5 82.3Q67.2 79.2 70.0 78.0Q72.9 76.9 74.6 79.5Z" fill="rgb(125,125,125)"/><path d="M86.8 82.1Q86.1 79.1 83.8 79.1Q81.5 79.0 79.4 80.8Q77.3 82.5 76.8 84.1Q76.3 85.8 76.3 85.8Q76.4 85.9 80.6 86.4Q84.9 87.0 86.2 86.0Q87.6 85.0 86.8 82.1Z" fill="rgb(114,114,114)"/><path d="M90.3 86.4Q92.6 87.3 92.4 90.2Q92.3 93.1 90.6 94.4Q88.9 95.8 87.1 94.8Q85.2 93.9 85.2 90.7Q85.3 87.6 86.7 86.5Q88.1 85.5 90.3 86.4Z" fill="rgb(111,111,111)"/><path d="M4.2 86.7Q5.2 86.2 8.5 86.7Q11.8 87.2 12.0 87.4Q12.2 87.7 12.5 90.0Q12.9 92.3 10.5 93.8Q8.1 95.4 5.4 94.3Q2.8 93.1 3.0 90.2Q3.1 87.3 4.2 86.7Z" fill="rgb(115,115,115)"/><circle cx="6.3" cy="91.9" r="1.3" fill="#3e3e3e" stroke="none"/><path d="M30.3 86.0Q30.2 86.0 27.2 85.4Q24.2 84.8 24.0 85.2Q23.8 85.5 23.4 89.4Q23.0 93.3 24.8 94.7Q26.5 96.2 28.5 95.1Q30.5 94.1 30.4 90.1Q30.3 86.1 30.3 86.0Z" fill="rgb(116,116,116)"/><circle cx="28.1" cy="89.8" r="1.1" fill="#3e3e3e" stroke="none"/><path d="M34.9 87.1Q39.2 88.0 39.2 89.1Q39.2 90.1 36.8 92.3Q34.5 94.5 32.7 94.3Q30.9 94.0 30.8 90.1Q30.6 86.1 34.9 87.1Z" fill="rgb(111,111,111)"/><circle cx="33.6" cy="90.4" r="1.3" fill="#3e3e3e" stroke="none"/><path d="M54.8 88.1Q51.7 88.5 51.5 90.9Q51.3 93.2 52.6 94.4Q54.0 95.7 57.1 94.7Q60.3 93.8 59.0 90.7Q57.8 87.7 54.8 88.1Z" fill="rgb(108,108,108)"/><path d="M66.5 90.2Q65.5 92.9 69.1 94.5Q72.6 96.2 74.1 93.7Q75.5 91.2 75.3 88.9Q75.2 86.6 75.1 86.5Q75.1 86.5 72.5 86.3Q69.9 86.1 68.7 86.8Q67.5 87.4 66.5 90.2Z" fill="rgb(111,111,111)"/><path d="M84.7 90.7Q84.7 87.8 80.6 87.2Q76.4 86.7 76.6 88.9Q76.8 91.1 79.6 92.6Q82.4 94.2 83.5 93.9Q84.7 93.6 84.7 90.7Z" fill="rgb(126,126,126)"/><path d="M41.7 93.2Q43.8 95.5 43.1 98.0Q42.3 100.5 40.8 101.2Q39.4 102.0 38.6 101.8Q37.8 101.6 36.5 98.3Q35.1 95.0 37.3 93.0Q39.5 90.9 41.7 93.2Z" fill="rgb(110,110,110)"/><path d="M65.9 102.4Q67.7 103.3 70.1 102.0Q72.5 100.8 72.3 98.8Q72.1 96.7 68.7 95.2Q65.3 93.6 64.0 94.3Q62.7 95.0 63.3 98.2Q64.0 101.5 65.9 102.4Z" fill="rgb(108,108,108)"/><path d="M78.0 101.6Q79.6 101.1 80.8 98.0Q82.0 94.9 79.2 93.3Q76.3 91.7 74.9 94.2Q73.5 96.6 73.7 98.7Q73.9 100.7 75.2 101.4Q76.4 102.0 78.0 101.6Z" fill="rgb(124,124,124)"/><circle cx="78.6" cy="96.5" r="1.1" fill="#3e3e3e" stroke="none"/><path d="M98.5 -3.3Q101.8 -2.8 102.0 -2.6Q102.2 -2.3 102.5 -0.0Q102.9 2.3 100.5 3.8Q98.1 5.4 95.4 4.3Q92.8 3.1 93.0 0.2Q93.1 -2.7 94.2 -3.3Q95.2 -3.8 98.5 -3.3Z" fill="rgb(115,115,115)"/><circle cx="96.3" cy="1.9" r="1.3" fill="#3e3e3e" stroke="none"/><path d="M92.2 11.7Q89.5 10.5 89.4 8.4Q89.3 6.3 91.0 4.9Q92.6 3.6 95.3 4.7Q97.9 5.8 97.8 8.5Q97.8 11.1 96.4 12.0Q95.0 12.9 92.2 11.7Z" fill="rgb(112,112,112)"/><path d="M87.8 12.3Q86.3 13.6 86.5 16.5Q86.6 19.4 88.5 21.0Q90.4 22.6 92.6 20.9Q94.7 19.3 94.8 16.4Q94.8 13.4 92.0 12.2Q89.2 11.0 87.8 12.3Z" fill="rgb(115,115,115)"/><circle cx="90.0" cy="16.2" r="1.2" fill="#3e3e3e" stroke="none"/><path d="M93.2 21.7Q95.3 20.2 98.1 20.9Q101.0 21.7 100.0 24.4Q99.1 27.1 96.5 27.7Q94.0 28.2 92.6 26.2Q91.2 24.2 91.2 23.7Q91.2 23.2 93.2 21.7Z" fill="rgb(119,119,119)"/><path d="M92.2 35.7Q90.8 36.7 91.2 39.6Q91.6 42.4 94.3 43.5Q96.9 44.6 97.6 44.3Q98.2 44.0 98.0 40.1Q97.8 36.2 95.7 35.4Q93.6 34.6 92.2 35.7Z" fill="rgb(126,126,126)"/><circle cx="96.2" cy="38.9" r="0.8" fill="#3e3e3e" stroke="none"/><path d="M86.0 49.1Q86.1 47.0 88.6 45.0Q91.1 43.1 94.0 44.2Q96.8 45.4 95.9 49.0Q95.0 52.5 92.1 52.5Q89.2 52.6 87.5 51.9Q85.9 51.2 86.0 49.1Z" fill="rgb(128,128,128)"/><circle cx="92.0" cy="48.9" r="1.1" fill="#3e3e3e" stroke="none"/><path d="M96.0 60.7Q96.8 60.3 96.8 57.7Q96.7 55.1 95.9 54.1Q95.0 53.1 92.1 53.1Q89.2 53.1 89.8 57.4Q90.3 61.6 92.7 61.4Q95.1 61.2 96.0 60.7Z" fill="rgb(122,122,122)"/><path d="M91.4 69.2Q88.8 70.0 88.3 69.4Q87.8 68.7 88.2 66.0Q88.7 63.4 89.6 62.8Q90.4 62.2 92.8 62.0Q95.1 61.8 94.6 65.1Q94.0 68.5 91.4 69.2Z" fill="rgb(118,118,118)"/><path d="M96.5 69.4Q98.7 70.3 99.8 69.6Q100.8 69.0 100.9 66.2Q101.0 63.4 99.0 62.2Q97.1 61.0 96.3 61.4Q95.5 61.9 94.9 65.2Q94.4 68.5 96.5 69.4Z" fill="rgb(106,106,106)"/><circle cx="97.4" cy="65.7" r="1.1" fill="#3e3e3e" stroke="none"/><path d="M92.4 76.1Q89.5 75.3 89.3 72.9Q89.0 70.6 91.6 69.8Q94.2 69.0 96.3 69.9Q98.5 70.7 97.5 73.6Q96.5 76.4 95.9 76.7Q95.4 76.9 92.4 76.1Z" fill="rgb(105,105,105)"/><path d="M93.7 85.8Q94.6 85.2 94.8 81.6Q95.0 77.9 92.2 77.2Q89.5 76.4 88.3 77.7Q87.2 79.0 87.9 81.8Q88.6 84.6 90.7 85.5Q92.7 86.3 93.7 85.8Z" fill="rgb(128,128,128)"/><circle cx="91.4" cy="80.7" r="1.4" fill="#3e3e3e" stroke="none"/><path d="M94.2 86.7Q95.2 86.2 98.5 86.7Q101.8 87.2 102.0 87.4Q102.2 87.7 102.5 90.0Q102.9 92.3 100.5 93.8Q98.1 95.4 95.4 94.3Q92.8 93.1 93.0 90.2Q93.1 87.3 94.2 86.7Z" fill="rgb(115,115,115)"/><circle cx="96.3" cy="91.9" r="1.3" fill="#3e3e3e" stroke="none"/></g></pattern><pattern id="tx3" width="90" height="90" patternUnits="userSpaceOnUse"><rect width="90" height="90" fill="#929292"/><g stroke="#e4e4e4" stroke-width="0.9" stroke-linejoin="round"><path d="M-0.4 8.5Q1.4 12.4 -1.0 13.2Q-3.3 14.0 -5.6 11.5Q-8.0 9.1 -8.0 8.2Q-8.0 7.4 -6.0 5.6Q-3.9 3.8 -3.0 4.3Q-2.2 4.7 -0.4 8.5Z" fill="rgb(123,123,123)"/><circle cx="-1.6" cy="9.8" r="0.9" fill="#3e3e3e" stroke="none"/><path d="M-10.7 12.3Q-8.7 9.3 -6.2 11.9Q-3.6 14.6 -4.2 16.8Q-4.8 19.1 -7.1 19.8Q-9.4 20.5 -10.6 19.9Q-11.8 19.2 -12.3 17.3Q-12.8 15.3 -10.7 12.3Z" fill="rgb(127,127,127)"/><circle cx="-8.6" cy="16.3" r="1.1" fill="#3e3e3e" stroke="none"/><path d="M-2.5 21.2Q-0.4 22.8 -0.5 25.0Q-0.6 27.2 -2.8 28.3Q-5.0 29.4 -6.8 28.3Q-8.6 27.1 -8.9 24.1Q-9.3 21.0 -7.0 20.3Q-4.6 19.6 -2.5 21.2Z" fill="rgb(104,104,104)"/><circle cx="-5.5" cy="25.3" r="1.5" fill="#3e3e3e" stroke="none"/><path d="M-2.6 37.1Q0.2 37.8 0.9 41.1Q1.6 44.4 -1.1 44.7Q-3.7 44.9 -5.6 44.0Q-7.4 43.0 -7.3 40.4Q-7.2 37.8 -6.3 37.1Q-5.4 36.4 -2.6 37.1Z" fill="rgb(116,116,116)"/><path d="M4.0 46.6Q4.0 46.5 3.0 45.9Q2.1 45.3 -0.8 45.6Q-3.8 45.9 -4.5 49.5Q-5.2 53.1 -3.3 53.6Q-1.4 54.1 1.4 51.4Q4.2 48.8 4.2 47.8Q4.1 46.7 4.0 46.6Z" fill="rgb(116,116,116)"/><path d="M-13.6 49.4Q-13.9 47.5 -11.0 45.7Q-8.0 44.0 -6.1 45.0Q-4.2 46.0 -4.9 49.4Q-5.6 52.9 -7.5 53.8Q-9.4 54.7 -11.3 53.0Q-13.3 51.3 -13.6 49.4Z" fill="rgb(116,116,116)"/><path d="M-8.7 57.1Q-8.8 55.5 -7.0 54.6Q-5.2 53.8 -3.4 54.2Q-1.6 54.6 -0.5 57.8Q0.7 60.9 -1.5 61.9Q-3.7 62.9 -6.1 60.8Q-8.6 58.7 -8.7 57.1Z" fill="rgb(113,113,113)"/><circle cx="-2.7" cy="57.6" r="1.1" fill="#3e3e3e" stroke="none"/><path d="M-9.0 74.6Q-8.5 77.5 -6.8 78.6Q-5.1 79.6 -2.6 78.3Q-0.0 77.0 -0.6 74.6Q-1.3 72.3 -3.1 70.7Q-4.9 69.1 -7.1 70.4Q-9.4 71.6 -9.0 74.6Z" fill="rgb(127,127,127)"/><circle cx="-5.3" cy="75.0" r="1.0" fill="#3e3e3e" stroke="none"/><path d="M1.9 3.2Q-1.5 3.3 -2.4 2.9Q-3.2 2.5 -3.3 0.7Q-3.3 -1.1 0.8 -2.7Q4.9 -4.3 5.7 -3.5Q6.4 -2.7 5.9 0.2Q5.4 3.2 1.9 3.2Z" fill="rgb(115,115,115)"/><path d="M28.3 4.2Q27.1 4.6 24.6 3.4Q22.2 2.3 22.3 -1.7Q22.4 -5.7 27.6 -5.1Q32.8 -4.5 33.0 -4.2Q33.1 -3.9 31.3 -0.1Q29.4 3.7 28.3 4.2Z" fill="rgb(125,125,125)"/><circle cx="26.9" cy="-2.7" r="1.0" fill="#3e3e3e" stroke="none"/><path d="M43.9 3.0Q45.7 4.5 47.2 4.1Q48.6 3.8 49.1 -0.3Q49.5 -4.4 46.1 -4.2Q42.8 -4.0 42.0 -2.8Q41.1 -1.6 41.6 -0.1Q42.1 1.5 43.9 3.0Z" fill="rgb(119,119,119)"/><path d="M60.4 -3.3Q61.7 -5.4 64.6 -5.1Q67.5 -4.8 67.2 -1.6Q67.0 1.6 64.7 1.9Q62.4 2.2 60.8 1.4Q59.3 0.6 59.2 -0.3Q59.1 -1.2 60.4 -3.3Z" fill="rgb(121,121,121)"/><path d="M68.6 -5.4Q68.0 -5.0 67.8 -1.6Q67.5 1.9 69.9 3.0Q72.2 4.1 72.8 3.9Q73.4 3.7 74.2 0.1Q75.1 -3.4 74.5 -4.5Q74.0 -5.7 71.5 -5.7Q69.1 -5.8 68.6 -5.4Z" fill="rgb(123,123,123)"/><circle cx="70.3" cy="-1.2" r="1.2" fill="#3e3e3e" stroke="none"/><path d="M0.5 -3.5Q4.8 -5.1 4.5 -8.0Q4.3 -10.8 2.5 -11.4Q0.7 -12.0 -2.0 -10.6Q-4.7 -9.2 -4.6 -6.1Q-4.4 -2.9 -4.1 -2.3Q-3.8 -1.8 0.5 -3.5Z" fill="rgb(121,121,121)"/><path d="M6.4 -4.3Q5.6 -5.1 5.4 -8.1Q5.1 -11.1 5.8 -11.5Q6.6 -11.9 9.0 -11.6Q11.4 -11.2 12.6 -8.5Q13.8 -5.9 12.8 -4.7Q11.8 -3.5 9.5 -3.5Q7.2 -3.4 6.4 -4.3Z" fill="rgb(125,125,125)"/><circle cx="9.6" cy="-7.3" r="0.8" fill="#3e3e3e" stroke="none"/><path d="M35.2 -11.9Q34.1 -11.2 33.7 -8.0Q33.4 -4.8 33.5 -4.5Q33.7 -4.2 37.1 -3.0Q40.6 -1.9 41.4 -3.1Q42.2 -4.4 42.5 -8.0Q42.7 -11.5 39.6 -12.1Q36.4 -12.6 35.2 -11.9Z" fill="rgb(104,104,104)"/><path d="M51.0 -8.2Q51.0 -10.1 47.4 -10.8Q43.9 -11.6 43.6 -11.4Q43.4 -11.2 43.2 -7.9Q42.9 -4.5 46.2 -4.7Q49.4 -4.8 50.2 -5.6Q51.1 -6.4 51.0 -8.2Z" fill="rgb(107,107,107)"/><circle cx="47.4" cy="-7.2" r="0.9" fill="#3e3e3e" stroke="none"/><path d="M52.6 -11.0Q53.4 -11.7 56.7 -11.8Q60.0 -11.8 60.1 -11.8Q60.1 -11.7 60.5 -8.8Q60.9 -5.9 59.5 -3.7Q58.2 -1.6 55.1 -4.0Q52.0 -6.4 51.9 -8.3Q51.9 -10.2 52.6 -11.0Z" fill="rgb(116,116,116)"/><circle cx="56.3" cy="-8.0" r="0.8" fill="#3e3e3e" stroke="none"/><path d="M78.4 -10.1Q80.7 -11.4 82.5 -10.3Q84.3 -9.2 84.4 -6.0Q84.5 -2.8 80.2 -3.3Q75.8 -3.7 75.3 -4.8Q74.7 -5.9 75.4 -7.4Q76.0 -8.8 78.4 -10.1Z" fill="rgb(116,116,116)"/><path d="M0.8 87.3Q4.9 85.7 5.7 86.5Q6.4 87.3 5.9 90.2Q5.4 93.2 1.9 93.2Q-1.5 93.3 -2.4 92.9Q-3.2 92.5 -3.3 90.7Q-3.3 88.9 0.8 87.3Z" fill="rgb(115,115,115)"/><path d="M22.3 88.3Q22.2 92.3 24.6 93.4Q27.1 94.6 28.3 94.2Q29.4 93.7 31.3 89.9Q33.1 86.1 33.0 85.8Q32.8 85.5 27.6 84.9Q22.4 84.3 22.3 88.3Z" fill="rgb(125,125,125)"/><circle cx="26.9" cy="87.3" r="1.0" fill="#3e3e3e" stroke="none"/><path d="M32.5 4.9Q30.1 3.8 31.8 0.2Q33.6 -3.5 36.9 -2.3Q40.2 -1.2 40.7 0.3Q41.1 1.7 38.0 3.8Q34.9 6.0 32.5 4.9Z" fill="rgb(118,118,118)"/><circle cx="35.1" cy="2.3" r="1.1" fill="#3e3e3e" stroke="none"/><path d="M47.2 94.1Q45.7 94.5 43.9 93.0Q42.1 91.5 41.6 89.9Q41.1 88.4 42.0 87.2Q42.8 86.0 46.1 85.8Q49.5 85.6 49.1 89.7Q48.6 93.8 47.2 94.1Z" fill="rgb(119,119,119)"/><path d="M64.7 91.9Q67.0 91.6 67.2 88.4Q67.5 85.2 64.6 84.9Q61.7 84.6 60.4 86.7Q59.1 88.8 59.2 89.7Q59.3 90.6 60.8 91.4Q62.4 92.2 64.7 91.9Z" fill="rgb(121,121,121)"/><path d="M72.8 93.9Q72.2 94.1 69.9 93.0Q67.5 91.9 67.8 88.4Q68.0 85.0 68.6 84.6Q69.1 84.2 71.5 84.3Q74.0 84.3 74.5 85.5Q75.1 86.6 74.2 90.1Q73.4 93.7 72.8 93.9Z" fill="rgb(123,123,123)"/><circle cx="70.3" cy="88.8" r="1.2" fill="#3e3e3e" stroke="none"/><path d="M85.1 0.8Q85.2 2.6 83.0 4.4Q80.9 6.3 77.5 4.9Q74.1 3.6 74.9 0.3Q75.7 -3.1 80.1 -2.7Q84.4 -2.2 84.7 -1.7Q85.1 -1.1 85.1 0.8Z" fill="rgb(122,122,122)"/><circle cx="79.4" cy="-0.8" r="1.3" fill="#3e3e3e" stroke="none"/><path d="M2.7 12.4Q3.4 12.6 5.7 11.2Q8.0 9.9 8.2 8.6Q8.4 7.3 7.0 5.7Q5.5 4.1 1.9 4.1Q-1.7 4.2 0.2 8.2Q2.0 12.2 2.7 12.4Z" fill="rgb(125,125,125)"/><circle cx="3.4" cy="7.5" r="1.0" fill="#3e3e3e" stroke="none"/><path d="M9.5 8.7Q9.3 10.0 10.8 11.4Q12.2 12.8 15.0 12.3Q17.9 11.7 18.0 8.2Q18.2 4.7 16.7 4.5Q15.3 4.3 12.5 5.9Q9.6 7.5 9.5 8.7Z" fill="rgb(120,120,120)"/><path d="M26.6 7.5Q26.6 5.4 24.3 4.2Q21.9 3.1 20.4 3.8Q18.9 4.5 18.8 8.2Q18.6 11.8 19.7 12.9Q20.8 13.9 23.7 11.8Q26.5 9.6 26.6 7.5Z" fill="rgb(120,120,120)"/><path d="M33.9 13.2Q35.8 10.6 35.2 8.6Q34.6 6.7 32.1 5.6Q29.7 4.5 28.6 4.9Q27.5 5.4 27.4 7.5Q27.4 9.7 29.7 12.7Q32.0 15.8 33.9 13.2Z" fill="rgb(108,108,108)"/><circle cx="31.5" cy="9.6" r="0.9" fill="#3e3e3e" stroke="none"/><path d="M35.7 8.5Q36.3 10.5 39.9 10.9Q43.6 11.4 44.4 8.2Q45.3 5.1 43.4 3.5Q41.6 2.0 38.3 4.2Q35.0 6.4 35.7 8.5Z" fill="rgb(114,114,114)"/><path d="M45.2 8.5Q46.0 5.5 47.4 5.1Q48.9 4.8 51.0 5.1Q53.1 5.4 53.9 8.6Q54.7 11.8 51.8 12.7Q48.8 13.7 46.6 12.7Q44.5 11.7 44.5 11.6Q44.4 11.5 45.2 8.5Z" fill="rgb(115,115,115)"/><circle cx="48.9" cy="10.6" r="1.2" fill="#3e3e3e" stroke="none"/><path d="M62.4 7.9Q61.8 3.3 60.1 2.5Q58.5 1.6 56.2 3.4Q54.0 5.2 54.8 8.4Q55.6 11.6 57.3 13.2Q59.1 14.8 61.0 13.6Q63.0 12.4 62.4 7.9Z" fill="rgb(128,128,128)"/><circle cx="58.8" cy="7.9" r="0.9" fill="#3e3e3e" stroke="none"/><path d="M64.9 3.0Q67.2 2.7 69.4 3.7Q71.5 4.8 70.2 8.3Q68.8 11.8 68.4 12.1Q67.9 12.3 65.8 12.2Q63.7 12.2 63.1 7.8Q62.5 3.4 64.9 3.0Z" fill="rgb(110,110,110)"/><circle cx="67.1" cy="8.0" r="1.5" fill="#3e3e3e" stroke="none"/><path d="M71.0 8.6Q72.5 4.9 73.1 4.7Q73.7 4.5 77.2 5.8Q80.7 7.2 80.8 8.1Q80.8 9.0 78.8 12.0Q76.8 15.0 73.2 13.7Q69.5 12.3 71.0 8.6Z" fill="rgb(115,115,115)"/><circle cx="75.1" cy="10.2" r="1.4" fill="#3e3e3e" stroke="none"/><path d="M87.0 4.3Q86.1 3.8 84.0 5.6Q82.0 7.4 82.0 8.2Q82.0 9.1 84.4 11.5Q86.7 14.0 89.0 13.2Q91.4 12.4 89.6 8.5Q87.8 4.7 87.0 4.3Z" fill="rgb(123,123,123)"/><circle cx="88.4" cy="9.8" r="0.9" fill="#3e3e3e" stroke="none"/><path d="M2.5 13.3Q3.2 13.5 3.6 16.6Q4.1 19.7 2.0 21.0Q-0.0 22.2 -2.1 20.7Q-4.2 19.1 -3.6 17.0Q-3.1 14.8 -0.7 14.0Q1.7 13.1 2.5 13.3Z" fill="rgb(121,121,121)"/><circle cx="-0.5" cy="17.8" r="1.0" fill="#3e3e3e" stroke="none"/><path d="M6.2 12.1Q4.0 13.5 4.4 16.5Q4.8 19.6 7.0 20.4Q9.2 21.1 10.5 20.5Q11.7 19.9 11.6 16.8Q11.5 13.6 10.0 12.2Q8.5 10.7 6.2 12.1Z" fill="rgb(113,113,113)"/><circle cx="7.0" cy="15.3" r="1.4" fill="#3e3e3e" stroke="none"/><path d="M12.3 16.8Q12.4 20.0 14.9 20.8Q17.3 21.6 19.3 20.4Q21.2 19.2 20.8 16.8Q20.4 14.4 19.3 13.4Q18.2 12.3 15.2 12.9Q12.2 13.5 12.3 16.8Z" fill="rgb(111,111,111)"/><circle cx="16.7" cy="16.0" r="1.4" fill="#3e3e3e" stroke="none"/><path d="M29.2 13.1Q31.5 16.2 31.5 16.9Q31.5 17.5 28.1 18.7Q24.7 19.9 23.3 19.4Q21.9 19.0 21.5 16.7Q21.1 14.3 24.0 12.2Q26.9 10.0 29.2 13.1Z" fill="rgb(117,117,117)"/><path d="M34.5 13.6Q36.3 11.0 39.8 11.5Q43.3 11.9 43.3 12.0Q43.3 12.1 42.0 15.7Q40.8 19.3 37.7 19.2Q34.6 19.2 33.6 18.3Q32.6 17.4 32.6 16.8Q32.6 16.2 34.5 13.6Z" fill="rgb(118,118,118)"/><path d="M46.3 13.3Q48.5 14.3 49.1 17.3Q49.7 20.2 47.3 21.8Q44.9 23.3 43.2 21.5Q41.5 19.7 42.8 16.0Q44.1 12.3 46.3 13.3Z" fill="rgb(127,127,127)"/><circle cx="45.9" cy="16.6" r="1.4" fill="#3e3e3e" stroke="none"/><path d="M49.5 17.2Q48.9 14.2 51.9 13.2Q55.0 12.3 56.8 13.9Q58.6 15.5 58.4 16.7Q58.2 18.0 56.7 19.2Q55.2 20.4 52.6 20.3Q50.1 20.2 49.5 17.2Z" fill="rgb(106,106,106)"/><circle cx="51.8" cy="16.0" r="1.1" fill="#3e3e3e" stroke="none"/><path d="M65.8 13.6Q63.6 13.5 61.7 14.7Q59.9 15.8 59.7 17.0Q59.4 18.2 60.9 19.7Q62.4 21.3 65.7 21.1Q69.0 20.9 68.5 17.3Q67.9 13.7 65.8 13.6Z" fill="rgb(127,127,127)"/><path d="M69.0 13.2Q68.5 13.4 69.1 17.1Q69.7 20.8 70.7 21.8Q71.7 22.8 74.6 21.1Q77.5 19.3 77.0 17.4Q76.6 15.5 73.0 14.2Q69.4 12.9 69.0 13.2Z" fill="rgb(106,106,106)"/><circle cx="73.3" cy="17.4" r="1.1" fill="#3e3e3e" stroke="none"/><path d="M83.8 11.9Q86.4 14.6 85.8 16.8Q85.2 19.1 82.9 19.8Q80.6 20.5 79.4 19.9Q78.2 19.2 77.7 17.3Q77.2 15.3 79.3 12.3Q81.3 9.3 83.8 11.9Z" fill="rgb(127,127,127)"/><circle cx="81.4" cy="16.3" r="1.1" fill="#3e3e3e" stroke="none"/><path d="M2.4 21.7Q4.5 20.5 6.7 21.3Q8.9 22.0 8.6 24.7Q8.2 27.3 6.3 28.7Q4.4 30.2 2.3 28.7Q0.1 27.2 0.3 25.1Q0.4 23.0 2.4 21.7Z" fill="rgb(104,104,104)"/><path d="M11.0 21.7Q12.2 21.1 14.5 21.8Q16.8 22.5 16.9 25.6Q17.1 28.6 15.9 29.5Q14.8 30.3 12.0 28.8Q9.2 27.3 9.5 24.8Q9.8 22.3 11.0 21.7Z" fill="rgb(112,112,112)"/><circle cx="13.3" cy="25.1" r="1.0" fill="#3e3e3e" stroke="none"/><path d="M20.8 29.5Q23.2 30.4 24.6 29.7Q26.0 28.9 25.2 25.0Q24.3 21.0 23.0 20.6Q21.6 20.2 19.9 21.3Q18.1 22.5 18.2 25.5Q18.3 28.6 20.8 29.5Z" fill="rgb(114,114,114)"/><path d="M28.8 29.5Q26.8 29.1 25.8 24.8Q24.9 20.5 28.4 19.3Q31.8 18.1 32.8 19.1Q33.9 20.0 33.4 24.3Q32.9 28.7 31.8 29.2Q30.8 29.8 28.8 29.5Z" fill="rgb(113,113,113)"/><path d="M42.4 22.3Q40.7 20.5 37.7 20.4Q34.6 20.3 34.1 24.4Q33.7 28.5 35.9 29.3Q38.2 30.0 41.1 27.7Q44.1 25.4 44.0 24.7Q44.0 24.0 42.4 22.3Z" fill="rgb(127,127,127)"/><circle cx="37.1" cy="25.3" r="1.2" fill="#3e3e3e" stroke="none"/><path d="M52.2 28.2Q54.7 26.3 54.9 23.7Q55.0 21.1 52.6 21.0Q50.1 20.9 47.8 22.4Q45.4 24.0 45.4 24.7Q45.5 25.4 47.5 27.8Q49.6 30.1 52.2 28.2Z" fill="rgb(106,106,106)"/><circle cx="52.0" cy="25.4" r="1.1" fill="#3e3e3e" stroke="none"/><path d="M61.7 29.0Q60.7 29.5 58.1 27.9Q55.5 26.4 55.6 23.7Q55.8 21.1 57.2 20.0Q58.7 18.8 60.2 20.4Q61.6 22.0 62.2 25.2Q62.7 28.5 61.7 29.0Z" fill="rgb(106,106,106)"/><circle cx="59.2" cy="25.0" r="1.4" fill="#3e3e3e" stroke="none"/><path d="M65.9 29.1Q63.4 28.5 62.8 25.2Q62.3 21.8 65.7 21.6Q69.2 21.3 70.2 22.3Q71.2 23.3 71.0 25.5Q70.7 27.7 69.6 28.7Q68.5 29.7 65.9 29.1Z" fill="rgb(112,112,112)"/><circle cx="66.5" cy="24.9" r="1.3" fill="#3e3e3e" stroke="none"/><path d="M78.5 28.0Q80.6 27.0 80.3 24.2Q80.0 21.4 78.9 20.8Q77.8 20.3 75.1 21.9Q72.4 23.6 72.1 25.6Q71.9 27.7 74.2 28.4Q76.4 29.1 78.5 28.0Z" fill="rgb(124,124,124)"/><path d="M87.2 28.3Q85.0 29.4 83.2 28.3Q81.4 27.1 81.1 24.1Q80.7 21.0 83.0 20.3Q85.4 19.6 87.5 21.2Q89.6 22.8 89.5 25.0Q89.4 27.2 87.2 28.3Z" fill="rgb(104,104,104)"/><circle cx="84.5" cy="25.3" r="1.5" fill="#3e3e3e" stroke="none"/><path d="M5.0 32.0Q5.1 33.2 7.8 35.0Q10.4 36.8 11.8 36.7Q13.1 36.6 13.9 33.8Q14.7 31.0 11.7 29.4Q8.7 27.9 6.8 29.4Q4.8 30.8 5.0 32.0Z" fill="rgb(115,115,115)"/><path d="M22.9 33.2Q23.0 31.4 20.4 30.4Q17.8 29.5 16.6 30.3Q15.4 31.2 14.6 34.0Q13.8 36.8 15.5 38.4Q17.1 40.0 19.9 37.5Q22.7 35.1 22.9 33.2Z" fill="rgb(109,109,109)"/><circle cx="19.5" cy="35.3" r="0.8" fill="#3e3e3e" stroke="none"/><path d="M23.5 33.3Q23.6 31.4 25.1 30.6Q26.7 29.8 28.7 30.1Q30.7 30.5 30.8 33.2Q30.9 35.8 29.0 37.3Q27.2 38.8 25.3 37.0Q23.3 35.1 23.5 33.3Z" fill="rgb(107,107,107)"/><path d="M31.4 33.2Q31.3 30.6 32.3 30.0Q33.3 29.5 35.6 30.2Q37.9 31.0 38.6 33.3Q39.4 35.6 38.0 37.6Q36.6 39.7 34.1 37.7Q31.5 35.8 31.4 33.2Z" fill="rgb(123,123,123)"/><circle cx="34.6" cy="34.5" r="1.1" fill="#3e3e3e" stroke="none"/><path d="M48.6 35.5Q49.6 34.7 49.3 32.7Q49.1 30.8 46.9 28.3Q44.7 25.9 41.6 28.3Q38.5 30.7 39.3 33.0Q40.1 35.4 43.8 35.8Q47.6 36.2 48.6 35.5Z" fill="rgb(128,128,128)"/><path d="M71.1 36.4Q69.7 35.0 69.5 32.7Q69.3 30.5 70.4 29.6Q71.4 28.6 73.8 29.4Q76.1 30.1 77.0 32.8Q77.8 35.6 75.1 36.7Q72.5 37.8 71.1 36.4Z" fill="rgb(113,113,113)"/><path d="M84.2 32.7Q83.9 35.4 83.0 36.2Q82.0 36.9 80.2 36.2Q78.4 35.5 77.5 32.7Q76.7 29.8 78.9 28.8Q81.1 27.7 82.8 28.8Q84.6 29.9 84.2 32.7Z" fill="rgb(113,113,113)"/><circle cx="80.7" cy="32.2" r="1.2" fill="#3e3e3e" stroke="none"/><path d="M2.9 35.8Q4.7 33.9 7.3 35.7Q9.9 37.5 7.1 41.4Q4.4 45.4 3.5 44.8Q2.6 44.3 1.9 40.9Q1.2 37.6 2.9 35.8Z" fill="rgb(118,118,118)"/><path d="M14.8 39.1Q16.4 40.7 16.9 42.2Q17.4 43.8 16.1 44.9Q14.9 46.0 9.9 46.1Q5.0 46.3 4.9 46.1Q4.8 46.0 7.7 41.9Q10.5 37.8 11.9 37.6Q13.2 37.5 14.8 39.1Z" fill="rgb(104,104,104)"/><circle cx="11.0" cy="42.1" r="1.2" fill="#3e3e3e" stroke="none"/><path d="M20.2 37.9Q23.1 35.4 25.0 37.3Q26.9 39.1 26.8 40.6Q26.7 42.2 24.7 43.8Q22.7 45.4 20.5 44.5Q18.3 43.6 17.8 42.0Q17.4 40.4 20.2 37.9Z" fill="rgb(128,128,128)"/><circle cx="23.7" cy="38.3" r="1.2" fill="#3e3e3e" stroke="none"/><path d="M29.4 37.7Q27.6 39.2 27.5 40.7Q27.3 42.2 29.9 42.8Q32.5 43.5 34.4 42.2Q36.2 40.9 36.2 40.5Q36.2 40.2 33.7 38.2Q31.1 36.3 29.4 37.7Z" fill="rgb(120,120,120)"/><path d="M46.4 39.9Q45.6 42.9 43.1 43.4Q40.6 44.0 39.0 42.4Q37.4 40.9 37.4 40.5Q37.4 40.1 38.8 38.1Q40.1 36.1 43.7 36.4Q47.3 36.8 46.4 39.9Z" fill="rgb(107,107,107)"/><path d="M53.6 40.5Q55.1 44.5 52.3 45.6Q49.4 46.7 47.9 45.0Q46.4 43.2 47.2 40.1Q48.1 36.9 49.1 36.2Q50.0 35.5 51.1 36.0Q52.2 36.4 53.6 40.5Z" fill="rgb(116,116,116)"/><path d="M57.2 45.0Q55.6 44.4 54.1 40.3Q52.7 36.1 55.6 35.6Q58.5 35.0 60.4 37.3Q62.3 39.5 62.2 41.1Q62.1 42.6 60.4 44.1Q58.7 45.6 57.2 45.0Z" fill="rgb(107,107,107)"/><circle cx="57.6" cy="39.7" r="1.4" fill="#3e3e3e" stroke="none"/><path d="M63.2 41.1Q63.3 39.6 66.1 37.7Q68.9 35.8 70.3 37.2Q71.6 38.5 71.8 41.6Q71.9 44.7 71.0 44.8Q70.1 45.0 66.6 43.7Q63.1 42.5 63.2 41.1Z" fill="rgb(124,124,124)"/><path d="M87.4 37.1Q84.6 36.4 83.7 37.1Q82.8 37.8 82.7 40.4Q82.6 43.0 84.4 44.0Q86.3 44.9 88.9 44.7Q91.6 44.4 90.9 41.1Q90.2 37.8 87.4 37.1Z" fill="rgb(116,116,116)"/><path d="M93.0 45.9Q92.1 45.3 89.2 45.6Q86.2 45.9 85.5 49.5Q84.8 53.1 86.7 53.6Q88.6 54.1 91.4 51.4Q94.2 48.8 94.2 47.8Q94.1 46.7 94.0 46.6Q94.0 46.5 93.0 45.9Z" fill="rgb(116,116,116)"/><path d="M10.0 46.7Q14.9 46.6 14.4 49.7Q14.0 52.9 11.7 54.4Q9.3 55.9 7.2 52.3Q5.2 48.8 5.1 47.8Q5.1 46.9 10.0 46.7Z" fill="rgb(113,113,113)"/><circle cx="11.5" cy="50.1" r="0.9" fill="#3e3e3e" stroke="none"/><path d="M16.7 45.5Q17.9 44.4 20.1 45.4Q22.4 46.3 23.4 49.1Q24.5 51.8 22.4 53.5Q20.3 55.1 17.5 54.0Q14.6 53.0 15.1 49.8Q15.5 46.6 16.7 45.5Z" fill="rgb(113,113,113)"/><circle cx="18.7" cy="51.8" r="0.9" fill="#3e3e3e" stroke="none"/><path d="M25.3 44.4Q27.2 42.8 29.7 43.5Q32.3 44.2 32.3 48.0Q32.3 51.7 30.5 52.3Q28.8 52.8 27.1 52.1Q25.4 51.4 24.4 48.7Q23.3 46.0 25.3 44.4Z" fill="rgb(115,115,115)"/><path d="M39.7 47.5Q40.1 44.6 38.4 42.9Q36.8 41.3 34.8 42.7Q32.8 44.1 32.8 48.0Q32.8 52.0 33.4 52.1Q34.1 52.3 36.7 51.4Q39.4 50.5 39.7 47.5Z" fill="rgb(107,107,107)"/><path d="M57.0 53.6Q54.5 55.4 51.6 53.8Q48.7 52.3 49.2 49.8Q49.7 47.4 52.5 46.3Q55.3 45.2 56.9 45.8Q58.4 46.3 58.9 49.1Q59.4 51.9 57.0 53.6Z" fill="rgb(124,124,124)"/><path d="M62.1 52.1Q60.6 51.5 60.1 48.9Q59.7 46.2 61.2 44.9Q62.7 43.5 66.2 44.7Q69.7 46.0 67.1 49.2Q64.4 52.5 63.9 52.6Q63.5 52.8 62.1 52.1Z" fill="rgb(111,111,111)"/><circle cx="64.9" cy="48.7" r="1.1" fill="#3e3e3e" stroke="none"/><path d="M71.3 45.9Q72.3 45.8 73.6 46.7Q75.0 47.6 75.3 49.5Q75.6 51.5 73.6 53.2Q71.6 54.9 68.1 54.0Q64.6 53.1 67.5 49.6Q70.4 46.1 71.3 45.9Z" fill="rgb(106,106,106)"/><circle cx="69.2" cy="51.5" r="1.3" fill="#3e3e3e" stroke="none"/><path d="M79.0 45.7Q76.1 47.5 76.4 49.4Q76.7 51.3 78.7 53.0Q80.6 54.7 82.5 53.8Q84.4 52.9 85.1 49.4Q85.8 46.0 83.9 45.0Q82.0 44.0 79.0 45.7Z" fill="rgb(116,116,116)"/><path d="M9.6 56.8Q9.6 56.6 12.0 55.0Q14.5 53.5 17.3 54.6Q20.1 55.6 19.8 58.3Q19.4 61.0 17.4 61.2Q15.5 61.5 12.5 59.3Q9.5 57.1 9.6 56.8Z" fill="rgb(128,128,128)"/><circle cx="16.5" cy="58.1" r="1.2" fill="#3e3e3e" stroke="none"/><path d="M20.5 58.4Q20.1 61.1 21.3 62.3Q22.5 63.6 25.4 61.7Q28.3 59.9 28.3 56.9Q28.4 53.9 26.6 53.2Q24.9 52.5 22.9 54.1Q20.9 55.7 20.5 58.4Z" fill="rgb(107,107,107)"/><circle cx="25.1" cy="58.6" r="1.1" fill="#3e3e3e" stroke="none"/><path d="M29.1 56.9Q29.1 59.9 31.1 61.7Q33.2 63.5 35.1 61.9Q36.9 60.3 35.4 56.8Q33.8 53.3 33.2 53.1Q32.6 52.9 30.9 53.4Q29.1 54.0 29.1 56.9Z" fill="rgb(112,112,112)"/><path d="M44.0 56.3Q44.6 54.1 42.1 52.6Q39.5 51.1 36.9 52.0Q34.3 52.9 35.9 56.5Q37.5 60.2 39.4 60.4Q41.4 60.6 42.4 59.5Q43.5 58.4 44.0 56.3Z" fill="rgb(119,119,119)"/><circle cx="38.2" cy="55.5" r="1.2" fill="#3e3e3e" stroke="none"/><path d="M55.1 57.1Q55.1 58.0 56.9 60.9Q58.8 63.9 61.5 62.2Q64.1 60.5 63.6 57.2Q63.0 54.0 61.5 53.3Q60.0 52.6 57.5 54.4Q55.1 56.2 55.1 57.1Z" fill="rgb(118,118,118)"/><circle cx="61.1" cy="58.8" r="1.3" fill="#3e3e3e" stroke="none"/><path d="M64.4 57.1Q63.8 54.0 64.3 53.9Q64.7 53.7 68.0 54.5Q71.3 55.4 70.9 58.3Q70.5 61.3 70.0 61.7Q69.4 62.0 67.2 61.1Q64.9 60.2 64.4 57.1Z" fill="rgb(120,120,120)"/><circle cx="68.3" cy="58.0" r="0.8" fill="#3e3e3e" stroke="none"/><path d="M71.6 58.5Q71.2 61.5 73.8 61.6Q76.4 61.8 78.3 60.3Q80.1 58.8 80.0 57.2Q79.9 55.5 78.0 53.8Q76.0 52.1 74.0 53.7Q72.0 55.4 71.6 58.5Z" fill="rgb(115,115,115)"/><path d="M81.3 57.1Q81.4 58.7 83.9 60.8Q86.3 62.9 88.5 61.9Q90.7 60.9 89.5 57.8Q88.4 54.6 86.6 54.2Q84.8 53.8 83.0 54.6Q81.2 55.5 81.3 57.1Z" fill="rgb(113,113,113)"/><circle cx="87.3" cy="57.6" r="1.1" fill="#3e3e3e" stroke="none"/><path d="M-0.9 63.1Q1.3 62.1 2.8 62.2Q4.3 62.4 5.3 64.9Q6.4 67.4 2.9 69.4Q-0.5 71.5 -2.4 69.9Q-4.2 68.2 -3.7 66.2Q-3.1 64.2 -0.9 63.1Z" fill="rgb(114,114,114)"/><path d="M7.1 59.6Q9.1 57.5 12.2 59.7Q15.2 61.9 13.7 65.3Q12.2 68.6 10.6 68.6Q9.0 68.6 8.1 67.9Q7.2 67.1 6.1 64.4Q5.0 61.8 7.1 59.6Z" fill="rgb(109,109,109)"/><circle cx="10.6" cy="64.2" r="0.9" fill="#3e3e3e" stroke="none"/><path d="M17.5 62.0Q19.4 61.8 20.6 63.0Q21.7 64.2 22.0 65.8Q22.2 67.3 19.2 69.2Q16.3 71.0 14.5 69.8Q12.7 68.7 14.1 65.4Q15.6 62.2 17.5 62.0Z" fill="rgb(104,104,104)"/><circle cx="16.9" cy="66.3" r="0.9" fill="#3e3e3e" stroke="none"/><path d="M33.6 65.5Q33.4 66.8 35.0 68.1Q36.6 69.3 39.8 68.6Q42.9 67.8 42.1 64.5Q41.3 61.3 39.4 61.1Q37.4 60.9 35.6 62.5Q33.7 64.1 33.6 65.5Z" fill="rgb(108,108,108)"/><circle cx="39.2" cy="65.6" r="1.0" fill="#3e3e3e" stroke="none"/><path d="M49.5 65.1Q49.6 68.1 47.4 68.5Q45.3 68.9 44.4 68.3Q43.5 67.7 42.7 64.4Q41.8 61.0 42.9 60.0Q44.0 58.9 46.7 60.5Q49.4 62.0 49.5 65.1Z" fill="rgb(120,120,120)"/><path d="M56.4 61.3Q54.5 58.3 52.2 60.2Q49.8 62.1 49.9 65.0Q50.0 68.0 50.9 68.4Q51.7 68.7 54.8 67.6Q57.8 66.6 58.0 65.4Q58.2 64.3 56.4 61.3Z" fill="rgb(105,105,105)"/><circle cx="52.1" cy="62.2" r="1.1" fill="#3e3e3e" stroke="none"/><path d="M61.9 62.8Q59.2 64.5 59.0 65.6Q58.8 66.7 60.2 68.3Q61.7 69.9 65.3 69.6Q68.9 69.2 69.0 66.1Q69.2 63.0 66.8 62.0Q64.5 61.1 61.9 62.8Z" fill="rgb(128,128,128)"/><circle cx="65.1" cy="66.3" r="0.9" fill="#3e3e3e" stroke="none"/><path d="M69.8 66.2Q69.7 69.4 70.5 70.2Q71.2 70.9 74.7 70.6Q78.1 70.3 77.3 66.3Q76.4 62.4 73.7 62.3Q71.1 62.1 70.5 62.5Q70.0 62.9 69.8 66.2Z" fill="rgb(105,105,105)"/><circle cx="73.5" cy="66.0" r="1.1" fill="#3e3e3e" stroke="none"/><path d="M77.7 66.2Q76.8 62.4 78.7 60.9Q80.6 59.4 83.2 61.6Q85.8 63.8 85.2 65.9Q84.7 68.0 82.3 69.3Q79.8 70.7 79.2 70.4Q78.5 70.1 77.7 66.2Z" fill="rgb(113,113,113)"/><circle cx="80.0" cy="65.0" r="1.2" fill="#3e3e3e" stroke="none"/><path d="M2.8 77.6Q4.7 78.2 5.4 77.7Q6.1 77.3 7.3 73.2Q8.5 69.2 7.6 68.4Q6.8 67.7 3.2 69.8Q-0.4 72.0 0.3 74.5Q1.0 77.0 2.8 77.6Z" fill="rgb(124,124,124)"/><circle cx="4.1" cy="73.0" r="0.8" fill="#3e3e3e" stroke="none"/><path d="M19.4 77.1Q16.9 74.9 16.8 73.3Q16.6 71.7 19.6 69.8Q22.7 67.9 24.6 69.3Q26.4 70.7 26.6 72.9Q26.8 75.2 24.4 77.3Q22.0 79.4 19.4 77.1Z" fill="rgb(123,123,123)"/><path d="M30.2 69.0Q27.4 70.6 27.6 72.9Q27.7 75.1 30.7 76.6Q33.7 78.0 34.8 77.4Q35.9 76.7 36.0 73.3Q36.2 69.9 34.6 68.7Q33.0 67.4 30.2 69.0Z" fill="rgb(117,117,117)"/><path d="M42.8 77.3Q43.0 77.2 43.8 73.5Q44.5 69.8 43.7 69.2Q42.9 68.7 39.9 69.4Q37.0 70.1 36.9 73.3Q36.8 76.5 39.7 77.0Q42.6 77.5 42.8 77.3Z" fill="rgb(112,112,112)"/><circle cx="41.0" cy="73.1" r="1.2" fill="#3e3e3e" stroke="none"/><path d="M50.5 69.4Q51.3 69.7 52.0 73.6Q52.6 77.5 51.9 78.3Q51.2 79.0 47.6 78.2Q44.1 77.5 44.8 73.7Q45.6 69.9 47.6 69.5Q49.6 69.1 50.5 69.4Z" fill="rgb(116,116,116)"/><circle cx="48.9" cy="74.1" r="1.3" fill="#3e3e3e" stroke="none"/><path d="M59.4 69.2Q57.9 67.6 55.1 68.6Q52.2 69.6 52.9 73.5Q53.5 77.4 56.7 77.3Q59.8 77.2 60.3 74.0Q60.8 70.7 59.4 69.2Z" fill="rgb(120,120,120)"/><path d="M65.4 70.2Q61.6 70.6 61.1 74.1Q60.5 77.6 60.6 77.7Q60.7 77.8 63.9 77.8Q67.2 77.8 68.7 76.3Q70.2 74.8 70.4 73.2Q70.7 71.5 69.9 70.7Q69.1 69.9 65.4 70.2Z" fill="rgb(121,121,121)"/><circle cx="65.8" cy="74.3" r="1.0" fill="#3e3e3e" stroke="none"/><path d="M71.3 73.5Q71.1 75.0 73.3 77.6Q75.6 80.2 77.9 79.0Q80.1 77.8 79.7 74.8Q79.2 71.8 78.6 71.6Q78.0 71.3 74.8 71.6Q71.5 71.9 71.3 73.5Z" fill="rgb(127,127,127)"/><circle cx="75.3" cy="75.3" r="1.3" fill="#3e3e3e" stroke="none"/><path d="M81.0 74.6Q80.6 71.6 82.9 70.4Q85.1 69.1 86.9 70.7Q88.7 72.3 89.4 74.6Q90.0 77.0 87.4 78.3Q84.9 79.6 83.2 78.6Q81.5 77.5 81.0 74.6Z" fill="rgb(127,127,127)"/><circle cx="84.7" cy="75.0" r="1.0" fill="#3e3e3e" stroke="none"/><path d="M2.5 78.6Q4.3 79.2 4.5 82.0Q4.8 84.9 0.5 86.5Q-3.8 88.2 -4.1 87.7Q-4.4 87.1 -4.6 83.9Q-4.7 80.8 -2.0 79.4Q0.7 78.0 2.5 78.6Z" fill="rgb(121,121,121)"/><path d="M12.6 81.5Q11.4 78.8 9.0 78.4Q6.6 78.1 5.8 78.5Q5.1 78.9 5.4 81.9Q5.6 84.9 6.4 85.7Q7.2 86.6 9.5 86.5Q11.8 86.5 12.8 85.3Q13.8 84.1 12.6 81.5Z" fill="rgb(125,125,125)"/><circle cx="9.6" cy="82.7" r="0.8" fill="#3e3e3e" stroke="none"/><path d="M14.2 77.2Q12.1 78.8 13.2 81.2Q14.3 83.7 17.6 83.3Q20.8 82.9 21.0 81.4Q21.1 79.9 18.8 77.8Q16.4 75.7 14.2 77.2Z" fill="rgb(110,110,110)"/><path d="M27.7 84.4Q22.7 83.8 22.5 83.5Q22.3 83.1 22.5 81.6Q22.6 80.1 25.0 78.0Q27.4 76.0 30.3 77.4Q33.3 78.8 33.0 81.9Q32.6 85.0 27.7 84.4Z" fill="rgb(105,105,105)"/><path d="M33.5 85.5Q33.4 85.2 33.7 82.0Q34.1 78.8 35.2 78.1Q36.4 77.4 39.6 77.9Q42.7 78.5 42.5 82.0Q42.2 85.6 41.4 86.9Q40.6 88.1 37.1 87.0Q33.7 85.8 33.5 85.5Z" fill="rgb(104,104,104)"/><path d="M50.2 84.4Q49.4 85.2 46.2 85.3Q42.9 85.5 43.2 82.1Q43.4 78.8 43.6 78.6Q43.9 78.4 47.4 79.2Q51.0 79.9 51.0 81.8Q51.1 83.6 50.2 84.4Z" fill="rgb(107,107,107)"/><circle cx="47.4" cy="82.8" r="0.9" fill="#3e3e3e" stroke="none"/><path d="M60.1 78.2Q60.0 78.2 56.7 78.2Q53.4 78.3 52.6 79.0Q51.9 79.8 51.9 81.7Q52.0 83.6 55.1 86.0Q58.2 88.4 59.5 86.3Q60.9 84.1 60.5 81.2Q60.1 78.3 60.1 78.2Z" fill="rgb(116,116,116)"/><circle cx="56.3" cy="82.0" r="0.8" fill="#3e3e3e" stroke="none"/><path d="M63.9 78.2Q60.8 78.2 61.1 81.1Q61.5 84.0 64.6 84.3Q67.7 84.6 68.2 84.2Q68.7 83.8 67.9 81.0Q67.1 78.2 63.9 78.2Z" fill="rgb(113,113,113)"/><path d="M69.0 76.7Q67.5 78.1 68.3 80.9Q69.1 83.6 71.5 83.7Q74.0 83.8 74.6 82.3Q75.2 80.8 72.9 78.0Q70.5 75.2 69.0 76.7Z" fill="rgb(109,109,109)"/><circle cx="71.6" cy="80.7" r="0.8" fill="#3e3e3e" stroke="none"/><path d="M80.2 86.7Q84.5 87.2 84.4 84.0Q84.3 80.8 82.5 79.7Q80.7 78.6 78.4 79.9Q76.0 81.2 75.4 82.6Q74.7 84.1 75.3 85.2Q75.8 86.3 80.2 86.7Z" fill="rgb(116,116,116)"/><path d="M31.8 90.2Q33.6 86.5 36.9 87.7Q40.2 88.8 40.7 90.3Q41.1 91.7 38.0 93.8Q34.9 96.0 32.5 94.9Q30.1 93.8 31.8 90.2Z" fill="rgb(118,118,118)"/><circle cx="35.1" cy="92.3" r="1.1" fill="#3e3e3e" stroke="none"/><path d="M77.5 94.9Q74.1 93.6 74.9 90.3Q75.7 86.9 80.1 87.3Q84.4 87.8 84.7 88.3Q85.1 88.9 85.1 90.8Q85.2 92.6 83.0 94.4Q80.9 96.3 77.5 94.9Z" fill="rgb(122,122,122)"/><circle cx="79.4" cy="89.2" r="1.3" fill="#3e3e3e" stroke="none"/><path d="M8.2 98.6Q8.4 97.3 7.0 95.7Q5.5 94.1 1.9 94.1Q-1.7 94.2 0.2 98.2Q2.0 102.2 2.7 102.4Q3.4 102.6 5.7 101.2Q8.0 99.9 8.2 98.6Z" fill="rgb(125,125,125)"/><circle cx="3.4" cy="97.5" r="1.0" fill="#3e3e3e" stroke="none"/><path d="M35.7 98.5Q35.0 96.4 38.3 94.2Q41.6 92.0 43.4 93.5Q45.3 95.1 44.4 98.2Q43.6 101.4 39.9 100.9Q36.3 100.5 35.7 98.5Z" fill="rgb(114,114,114)"/><path d="M68.4 102.1Q68.8 101.8 70.2 98.3Q71.5 94.8 69.4 93.7Q67.2 92.7 64.9 93.0Q62.5 93.4 63.1 97.8Q63.7 102.2 65.8 102.2Q67.9 102.3 68.4 102.1Z" fill="rgb(110,110,110)"/><circle cx="67.1" cy="98.0" r="1.5" fill="#3e3e3e" stroke="none"/><path d="M87.6 2.9Q86.8 2.5 86.7 0.7Q86.7 -1.1 90.8 -2.7Q94.9 -4.3 95.7 -3.5Q96.4 -2.7 95.9 0.2Q95.4 3.2 91.9 3.2Q88.5 3.3 87.6 2.9Z" fill="rgb(115,115,115)"/><path d="M90.5 -3.5Q94.8 -5.1 94.5 -8.0Q94.3 -10.8 92.5 -11.4Q90.7 -12.0 88.0 -10.6Q85.3 -9.2 85.4 -6.1Q85.6 -2.9 85.9 -2.3Q86.2 -1.8 90.5 -3.5Z" fill="rgb(121,121,121)"/><path d="M91.9 93.2Q88.5 93.3 87.6 92.9Q86.8 92.5 86.7 90.7Q86.7 88.9 90.8 87.3Q94.9 85.7 95.7 86.5Q96.4 87.3 95.9 90.2Q95.4 93.2 91.9 93.2Z" fill="rgb(115,115,115)"/><path d="M91.9 4.1Q88.3 4.2 90.2 8.2Q92.0 12.2 92.7 12.4Q93.4 12.6 95.7 11.2Q98.0 9.9 98.2 8.6Q98.4 7.3 97.0 5.7Q95.5 4.1 91.9 4.1Z" fill="rgb(125,125,125)"/><circle cx="93.4" cy="7.5" r="1.0" fill="#3e3e3e" stroke="none"/><path d="M86.4 17.0Q86.9 14.8 89.3 14.0Q91.7 13.1 92.5 13.3Q93.2 13.5 93.6 16.6Q94.1 19.7 92.0 21.0Q90.0 22.2 87.9 20.7Q85.8 19.1 86.4 17.0Z" fill="rgb(121,121,121)"/><circle cx="89.5" cy="17.8" r="1.0" fill="#3e3e3e" stroke="none"/><path d="M100.0 12.2Q98.5 10.7 96.2 12.1Q94.0 13.5 94.4 16.5Q94.8 19.6 97.0 20.4Q99.2 21.1 100.5 20.5Q101.7 19.9 101.6 16.8Q101.5 13.6 100.0 12.2Z" fill="rgb(113,113,113)"/><circle cx="97.0" cy="15.3" r="1.4" fill="#3e3e3e" stroke="none"/><path d="M96.3 28.7Q94.4 30.2 92.3 28.7Q90.1 27.2 90.3 25.1Q90.4 23.0 92.4 21.7Q94.5 20.5 96.7 21.3Q98.9 22.0 98.6 24.7Q98.2 27.3 96.3 28.7Z" fill="rgb(104,104,104)"/><path d="M97.3 35.7Q99.9 37.5 97.1 41.4Q94.4 45.4 93.5 44.8Q92.6 44.3 91.9 40.9Q91.2 37.6 92.9 35.8Q94.7 33.9 97.3 35.7Z" fill="rgb(118,118,118)"/><path d="M89.1 63.1Q86.9 64.2 86.3 66.2Q85.8 68.2 87.6 69.9Q89.5 71.5 92.9 69.4Q96.4 67.4 95.3 64.9Q94.3 62.4 92.8 62.2Q91.3 62.1 89.1 63.1Z" fill="rgb(114,114,114)"/><path d="M97.3 73.2Q98.5 69.2 97.6 68.4Q96.8 67.7 93.2 69.8Q89.6 72.0 90.3 74.5Q91.0 77.0 92.8 77.6Q94.7 78.2 95.4 77.7Q96.1 77.3 97.3 73.2Z" fill="rgb(124,124,124)"/><circle cx="94.1" cy="73.0" r="0.8" fill="#3e3e3e" stroke="none"/><path d="M85.9 87.7Q86.2 88.2 90.5 86.5Q94.8 84.9 94.5 82.0Q94.3 79.2 92.5 78.6Q90.7 78.0 88.0 79.4Q85.3 80.8 85.4 83.9Q85.6 87.1 85.9 87.7Z" fill="rgb(121,121,121)"/><path d="M95.7 101.2Q98.0 99.9 98.2 98.6Q98.4 97.3 97.0 95.7Q95.5 94.1 91.9 94.1Q88.3 94.2 90.2 98.2Q92.0 102.2 92.7 102.4Q93.4 102.6 95.7 101.2Z" fill="rgb(125,125,125)"/><circle cx="93.4" cy="97.5" r="1.0" fill="#3e3e3e" stroke="none"/></g></pattern><pattern id="tx4" width="90" height="90" patternUnits="userSpaceOnUse"><rect width="90" height="90" fill="#929292"/><g stroke="#e4e4e4" stroke-width="0.9" stroke-linejoin="round"><path d="M-7.6 8.5Q-6.3 5.8 -4.8 5.0Q-3.2 4.2 -2.0 5.2Q-0.7 6.1 -0.1 9.0Q0.5 11.8 -1.6 13.0Q-3.8 14.1 -6.3 12.6Q-8.8 11.2 -7.6 8.5Z" fill="rgb(113,113,113)"/><path d="M-6.8 21.2Q-9.6 21.6 -9.9 24.4Q-10.1 27.2 -6.1 27.7Q-2.0 28.2 -1.7 28.0Q-1.3 27.7 -1.4 25.4Q-1.4 23.1 -2.7 21.9Q-4.0 20.8 -6.8 21.2Z" fill="rgb(123,123,123)"/><path d="M-11.5 29.1Q-12.8 30.4 -12.7 32.0Q-12.6 33.6 -10.6 35.2Q-8.6 36.8 -6.9 36.1Q-5.3 35.5 -3.8 32.1Q-2.2 28.7 -6.2 28.2Q-10.1 27.7 -11.5 29.1Z" fill="rgb(125,125,125)"/><circle cx="-7.3" cy="31.2" r="1.3" fill="#3e3e3e" stroke="none"/><path d="M-1.3 45.8Q-3.9 46.3 -6.4 44.9Q-8.9 43.4 -8.7 40.5Q-8.4 37.7 -6.7 37.0Q-4.9 36.3 -3.1 37.2Q-1.2 38.2 0.3 41.4Q1.8 44.6 1.6 45.0Q1.3 45.3 -1.3 45.8Z" fill="rgb(117,117,117)"/><path d="M0.7 53.6Q-2.1 55.1 -3.5 54.1Q-4.9 53.1 -4.3 50.0Q-3.8 46.8 -1.2 46.3Q1.4 45.8 2.4 49.0Q3.5 52.2 0.7 53.6Z" fill="rgb(106,106,106)"/><circle cx="-1.4" cy="51.9" r="0.9" fill="#3e3e3e" stroke="none"/><path d="M-2.4 58.0Q-2.6 55.6 -3.9 54.7Q-5.2 53.8 -6.7 54.2Q-8.3 54.6 -8.2 57.1Q-8.1 59.5 -5.9 60.3Q-3.7 61.1 -3.0 60.7Q-2.2 60.3 -2.4 58.0Z" fill="rgb(108,108,108)"/><circle cx="-5.5" cy="58.4" r="0.8" fill="#3e3e3e" stroke="none"/><path d="M0.5 62.2Q-1.8 61.3 -2.5 61.7Q-3.3 62.0 -5.0 65.6Q-6.7 69.2 -3.0 69.3Q0.6 69.4 1.2 69.1Q1.7 68.7 2.2 66.0Q2.7 63.2 0.5 62.2Z" fill="rgb(116,116,116)"/><circle cx="-2.1" cy="65.2" r="1.0" fill="#3e3e3e" stroke="none"/><path d="M-1.2 77.4Q0.1 76.4 0.4 73.4Q0.6 70.3 -3.1 70.2Q-6.7 70.1 -7.0 70.3Q-7.3 70.4 -6.9 73.0Q-6.6 75.5 -4.6 77.0Q-2.6 78.4 -1.2 77.4Z" fill="rgb(107,107,107)"/><path d="M-6.7 85.4Q-3.1 85.7 -2.8 85.5Q-2.5 85.2 -2.9 82.3Q-3.3 79.3 -5.3 77.9Q-7.2 76.5 -9.4 78.4Q-11.5 80.3 -11.0 82.7Q-10.4 85.1 -6.7 85.4Z" fill="rgb(119,119,119)"/><circle cx="-6.8" cy="82.2" r="1.3" fill="#3e3e3e" stroke="none"/><path d="M10.6 2.7Q12.4 2.0 13.5 -1.2Q14.6 -4.3 14.4 -4.6Q14.3 -4.8 10.0 -4.0Q5.6 -3.1 6.9 -0.0Q8.2 3.1 8.5 3.3Q8.8 3.5 10.6 2.7Z" fill="rgb(109,109,109)"/><path d="M23.9 -0.0Q23.4 -1.8 27.5 -3.9Q31.6 -6.0 32.7 -5.0Q33.8 -4.0 31.3 -0.8Q28.8 2.4 27.2 2.5Q25.6 2.6 25.0 2.2Q24.5 1.7 23.9 -0.0Z" fill="rgb(109,109,109)"/><circle cx="28.3" cy="-2.6" r="1.2" fill="#3e3e3e" stroke="none"/><path d="M5.0 -4.2Q4.6 -4.5 6.1 -8.1Q7.6 -11.7 8.2 -12.1Q8.8 -12.5 11.2 -11.9Q13.6 -11.3 13.9 -8.5Q14.1 -5.6 9.8 -4.8Q5.5 -3.9 5.0 -4.2Z" fill="rgb(104,104,104)"/><path d="M27.2 -4.4Q23.1 -2.3 22.8 -2.7Q22.6 -3.0 23.8 -6.9Q25.1 -10.8 27.5 -10.2Q29.9 -9.7 30.6 -8.1Q31.3 -6.5 27.2 -4.4Z" fill="rgb(119,119,119)"/><circle cx="27.6" cy="-5.7" r="1.3" fill="#3e3e3e" stroke="none"/><path d="M50.3 -7.7Q49.5 -4.5 54.0 -3.4Q58.5 -2.3 58.9 -2.8Q59.3 -3.4 57.4 -7.7Q55.6 -12.0 54.5 -12.4Q53.5 -12.8 52.3 -11.9Q51.2 -11.0 50.3 -7.7Z" fill="rgb(106,106,106)"/><circle cx="54.8" cy="-5.7" r="1.0" fill="#3e3e3e" stroke="none"/><path d="M77.6 -3.5Q78.7 -4.6 78.0 -7.1Q77.4 -9.6 74.9 -10.6Q72.3 -11.6 70.2 -9.8Q68.1 -8.1 68.0 -7.3Q67.8 -6.5 72.2 -4.4Q76.5 -2.4 77.6 -3.5Z" fill="rgb(108,108,108)"/><path d="M-1.8 -3.4Q-1.4 -3.7 1.2 -3.7Q3.8 -3.7 4.3 -3.4Q4.7 -3.0 6.1 0.3Q7.4 3.7 3.6 4.6Q-0.2 5.5 -1.5 4.6Q-2.8 3.6 -2.4 0.2Q-2.1 -3.2 -1.8 -3.4Z" fill="rgb(115,115,115)"/><circle cx="2.0" cy="1.4" r="1.5" fill="#3e3e3e" stroke="none"/><path d="M14.4 85.4Q14.3 85.2 10.0 86.0Q5.6 86.9 6.9 90.0Q8.2 93.1 8.5 93.3Q8.8 93.5 10.6 92.7Q12.4 92.0 13.5 88.8Q14.6 85.7 14.4 85.4Z" fill="rgb(109,109,109)"/><path d="M22.9 0.4Q22.3 -1.6 22.0 -1.9Q21.7 -2.3 18.5 -3.4Q15.4 -4.5 14.2 -1.0Q13.0 2.4 15.3 3.8Q17.7 5.1 20.6 3.7Q23.4 2.3 22.9 0.4Z" fill="rgb(123,123,123)"/><path d="M27.5 86.1Q23.4 88.2 23.9 90.0Q24.5 91.7 25.0 92.2Q25.6 92.6 27.2 92.5Q28.8 92.4 31.3 89.2Q33.8 86.0 32.7 85.0Q31.6 84.0 27.5 86.1Z" fill="rgb(109,109,109)"/><circle cx="28.3" cy="87.4" r="1.2" fill="#3e3e3e" stroke="none"/><path d="M31.9 -0.3Q29.3 3.0 32.5 5.3Q35.7 7.6 37.1 6.1Q38.6 4.7 38.0 0.7Q37.5 -3.2 36.0 -3.4Q34.5 -3.6 31.9 -0.3Z" fill="rgb(126,126,126)"/><circle cx="34.4" cy="2.3" r="1.0" fill="#3e3e3e" stroke="none"/><path d="M43.8 -3.9Q40.0 -4.6 39.1 -4.0Q38.3 -3.5 38.8 0.6Q39.4 4.6 41.6 4.8Q43.9 5.0 45.8 3.7Q47.6 2.3 47.6 -0.5Q47.6 -3.2 43.8 -3.9Z" fill="rgb(123,123,123)"/><path d="M78.2 -2.8Q79.3 -4.0 83.3 -3.6Q87.2 -3.3 86.8 0.1Q86.4 3.5 84.9 4.3Q83.3 5.1 80.0 3.1Q76.7 1.0 76.9 -0.4Q77.1 -1.7 78.2 -2.8Z" fill="rgb(126,126,126)"/><path d="M8.3 8.2Q8.7 11.7 7.4 12.6Q6.1 13.5 3.7 12.5Q1.3 11.5 0.7 8.8Q0.1 6.1 3.7 5.2Q7.4 4.3 7.7 4.5Q8.0 4.7 8.3 8.2Z" fill="rgb(123,123,123)"/><path d="M10.8 11.8Q9.9 11.6 9.5 8.1Q9.1 4.6 11.0 3.8Q12.9 3.0 15.1 4.3Q17.3 5.6 16.7 8.2Q16.1 10.8 13.9 11.4Q11.7 12.0 10.8 11.8Z" fill="rgb(119,119,119)"/><circle cx="13.6" cy="6.3" r="0.8" fill="#3e3e3e" stroke="none"/><path d="M24.2 3.3Q23.6 2.8 20.8 4.2Q17.9 5.6 17.3 8.4Q16.7 11.2 18.5 12.1Q20.2 13.1 22.5 11.9Q24.7 10.8 24.8 7.2Q24.9 3.7 24.2 3.3Z" fill="rgb(122,122,122)"/><circle cx="20.1" cy="8.9" r="1.3" fill="#3e3e3e" stroke="none"/><path d="M27.2 3.7Q25.5 3.8 25.5 7.3Q25.4 10.7 27.3 12.0Q29.1 13.3 32.2 10.9Q35.2 8.5 35.2 8.4Q35.3 8.3 32.1 6.0Q28.9 3.6 27.2 3.7Z" fill="rgb(111,111,111)"/><circle cx="28.7" cy="9.2" r="1.2" fill="#3e3e3e" stroke="none"/><path d="M36.6 8.5Q36.6 8.4 38.0 7.0Q39.5 5.6 41.6 5.8Q43.8 6.0 44.5 8.2Q45.3 10.5 42.7 12.5Q40.2 14.5 38.4 11.6Q36.6 8.6 36.6 8.5Z" fill="rgb(115,115,115)"/><circle cx="41.7" cy="10.3" r="1.0" fill="#3e3e3e" stroke="none"/><path d="M51.0 4.9Q53.9 7.0 53.9 7.5Q53.9 8.1 51.3 9.7Q48.7 11.4 47.3 10.9Q46.0 10.4 45.2 8.0Q44.4 5.6 46.2 4.3Q48.0 2.9 51.0 4.9Z" fill="rgb(119,119,119)"/><circle cx="48.6" cy="7.0" r="1.2" fill="#3e3e3e" stroke="none"/><path d="M57.1 4.5Q59.2 2.1 62.1 3.8Q65.0 5.5 65.1 7.6Q65.3 9.6 62.0 11.3Q58.7 13.0 56.8 10.5Q55.0 8.0 55.0 7.5Q54.9 7.0 57.1 4.5Z" fill="rgb(114,114,114)"/><circle cx="60.0" cy="8.2" r="1.1" fill="#3e3e3e" stroke="none"/><path d="M71.2 3.3Q68.9 3.0 67.3 4.2Q65.8 5.5 65.9 7.5Q66.1 9.5 67.5 10.4Q68.9 11.3 71.6 11.4Q74.4 11.6 74.0 7.7Q73.6 3.7 71.2 3.3Z" fill="rgb(110,110,110)"/><circle cx="71.1" cy="7.7" r="1.0" fill="#3e3e3e" stroke="none"/><path d="M74.7 7.6Q74.3 3.6 75.4 2.5Q76.5 1.4 79.8 3.4Q83.1 5.5 81.8 8.2Q80.6 10.9 78.3 11.7Q76.1 12.4 75.6 12.0Q75.1 11.6 74.7 7.6Z" fill="rgb(119,119,119)"/><circle cx="77.4" cy="5.7" r="1.1" fill="#3e3e3e" stroke="none"/><path d="M89.9 9.0Q90.5 11.8 88.4 13.0Q86.2 14.1 83.7 12.6Q81.2 11.2 82.4 8.5Q83.7 5.8 85.2 5.0Q86.8 4.2 88.0 5.2Q89.3 6.1 89.9 9.0Z" fill="rgb(113,113,113)"/><path d="M-3.3 17.4Q-3.3 14.8 -1.2 13.7Q0.8 12.6 3.2 13.6Q5.6 14.6 5.2 16.7Q4.9 18.8 2.0 20.5Q-0.8 22.2 -2.1 21.1Q-3.3 20.0 -3.3 17.4Z" fill="rgb(120,120,120)"/><circle cx="0.2" cy="17.6" r="0.8" fill="#3e3e3e" stroke="none"/><path d="M10.5 13.2Q9.6 13.0 8.2 13.9Q6.9 14.8 6.6 16.9Q6.2 19.1 8.0 21.0Q9.8 23.0 12.1 21.4Q14.4 19.8 12.9 16.6Q11.4 13.4 10.5 13.2Z" fill="rgb(104,104,104)"/><path d="M14.2 12.5Q12.0 13.1 13.5 16.3Q14.9 19.5 17.4 20.1Q19.8 20.6 20.0 20.4Q20.3 20.1 20.0 16.9Q19.8 13.7 18.1 12.8Q16.4 11.9 14.2 12.5Z" fill="rgb(107,107,107)"/><path d="M26.8 12.6Q25.0 11.4 22.8 12.5Q20.6 13.7 20.9 16.9Q21.1 20.1 25.1 20.2Q29.0 20.2 29.2 20.1Q29.4 19.9 29.0 16.9Q28.7 13.9 26.8 12.6Z" fill="rgb(119,119,119)"/><path d="M47.1 11.5Q48.5 12.0 48.7 15.5Q48.9 19.0 47.7 19.4Q46.6 19.7 43.6 18.8Q40.6 17.8 40.5 16.5Q40.5 15.1 43.1 13.0Q45.8 11.0 47.1 11.5Z" fill="rgb(108,108,108)"/><path d="M49.2 15.5Q49.0 11.9 51.7 10.2Q54.3 8.4 56.2 11.0Q58.1 13.5 58.0 14.6Q57.9 15.7 55.4 17.8Q52.8 19.9 51.1 19.5Q49.4 19.1 49.2 15.5Z" fill="rgb(113,113,113)"/><circle cx="52.4" cy="14.8" r="1.1" fill="#3e3e3e" stroke="none"/><path d="M66.9 11.3Q65.6 10.4 62.4 12.0Q59.2 13.6 59.1 14.7Q59.0 15.7 61.8 18.0Q64.5 20.2 65.0 19.8Q65.6 19.5 66.9 15.8Q68.3 12.2 66.9 11.3Z" fill="rgb(121,121,121)"/><path d="M71.5 12.6Q74.1 12.7 74.6 13.1Q75.1 13.5 75.1 15.7Q75.1 17.9 74.2 18.7Q73.2 19.6 69.7 19.6Q66.2 19.6 67.6 16.1Q68.9 12.5 71.5 12.6Z" fill="rgb(119,119,119)"/><path d="M2.5 21.4Q5.5 19.6 7.3 21.7Q9.2 23.7 9.3 24.9Q9.5 26.2 6.9 27.9Q4.3 29.7 2.0 28.7Q-0.4 27.6 -0.4 25.3Q-0.5 23.1 2.5 21.4Z" fill="rgb(105,105,105)"/><path d="M16.8 28.6Q18.3 28.1 19.0 24.7Q19.7 21.3 17.2 20.8Q14.8 20.3 12.5 21.9Q10.1 23.6 10.3 24.8Q10.4 26.1 12.8 27.6Q15.3 29.1 16.8 28.6Z" fill="rgb(114,114,114)"/><circle cx="14.3" cy="24.4" r="1.1" fill="#3e3e3e" stroke="none"/><path d="M33.9 29.6Q30.4 29.6 29.8 29.2Q29.1 28.7 29.5 25.0Q29.9 21.4 30.1 21.2Q30.3 21.1 33.4 21.2Q36.5 21.4 37.2 24.9Q37.9 28.4 37.6 29.0Q37.3 29.7 33.9 29.6Z" fill="rgb(121,121,121)"/><circle cx="34.0" cy="26.2" r="0.8" fill="#3e3e3e" stroke="none"/><path d="M43.2 19.8Q40.2 18.8 38.8 19.9Q37.4 21.1 38.1 24.7Q38.9 28.2 42.1 27.7Q45.3 27.1 45.8 23.9Q46.3 20.7 43.2 19.8Z" fill="rgb(116,116,116)"/><path d="M60.4 26.2Q63.6 25.5 63.8 23.3Q63.9 21.0 61.1 18.7Q58.4 16.5 55.9 18.5Q53.5 20.5 54.5 23.1Q55.4 25.7 56.3 26.3Q57.2 26.8 60.4 26.2Z" fill="rgb(121,121,121)"/><path d="M65.3 26.5Q66.0 27.4 69.1 27.1Q72.3 26.8 72.9 23.5Q73.5 20.2 69.7 20.2Q66.0 20.3 65.4 20.6Q64.9 21.0 64.7 23.3Q64.5 25.7 65.3 26.5Z" fill="rgb(128,128,128)"/><path d="M78.0 19.9Q79.9 21.5 79.7 24.4Q79.4 27.2 78.0 28.6Q76.5 30.1 74.6 28.5Q72.7 26.9 73.3 23.6Q73.9 20.2 74.9 19.3Q76.0 18.4 78.0 19.9Z" fill="rgb(122,122,122)"/><circle cx="76.9" cy="23.7" r="1.1" fill="#3e3e3e" stroke="none"/><path d="M88.6 25.4Q88.7 27.7 88.3 28.0Q88.0 28.2 83.9 27.7Q79.9 27.2 80.1 24.4Q80.4 21.6 83.2 21.2Q86.0 20.8 87.3 21.9Q88.6 23.1 88.6 25.4Z" fill="rgb(123,123,123)"/><path d="M-3.1 32.4Q-4.7 35.9 -2.8 36.8Q-1.0 37.7 2.1 36.1Q5.1 34.5 4.6 32.5Q4.0 30.5 1.6 29.4Q-0.8 28.3 -1.1 28.6Q-1.5 28.9 -3.1 32.4Z" fill="rgb(109,109,109)"/><circle cx="-0.4" cy="33.6" r="1.4" fill="#3e3e3e" stroke="none"/><path d="M14.0 32.2Q14.8 29.9 12.4 28.3Q9.9 26.8 7.3 28.6Q4.8 30.4 5.3 32.3Q5.8 34.2 7.1 35.5Q8.5 36.8 10.8 35.6Q13.1 34.4 14.0 32.2Z" fill="rgb(108,108,108)"/><path d="M22.6 33.2Q22.7 34.9 20.4 37.1Q18.1 39.2 16.0 37.0Q13.8 34.7 14.7 32.4Q15.5 30.0 17.1 29.5Q18.7 29.0 20.6 30.2Q22.5 31.4 22.6 33.2Z" fill="rgb(113,113,113)"/><circle cx="19.1" cy="34.3" r="1.1" fill="#3e3e3e" stroke="none"/><path d="M23.5 33.2Q23.6 34.9 25.2 36.4Q26.7 37.9 28.6 37.3Q30.6 36.6 30.1 33.6Q29.7 30.6 29.1 30.1Q28.5 29.6 25.9 30.6Q23.4 31.6 23.5 33.2Z" fill="rgb(106,106,106)"/><circle cx="28.5" cy="33.9" r="1.4" fill="#3e3e3e" stroke="none"/><path d="M32.9 37.4Q34.6 38.2 36.7 37.1Q38.8 36.0 38.0 33.3Q37.3 30.5 33.9 30.5Q30.4 30.4 30.8 33.5Q31.2 36.6 32.9 37.4Z" fill="rgb(108,108,108)"/><path d="M63.5 35.9Q61.7 37.2 59.4 36.8Q57.0 36.4 57.1 32.0Q57.2 27.6 60.6 26.9Q63.9 26.2 64.7 27.1Q65.4 27.9 65.4 31.2Q65.3 34.6 63.5 35.9Z" fill="rgb(119,119,119)"/><path d="M68.7 35.2Q71.1 36.0 73.5 34.8Q75.9 33.6 75.8 32.1Q75.7 30.5 74.0 29.1Q72.2 27.7 69.3 27.9Q66.4 28.2 66.3 31.3Q66.2 34.3 68.7 35.2Z" fill="rgb(125,125,125)"/><circle cx="70.7" cy="32.2" r="0.9" fill="#3e3e3e" stroke="none"/><path d="M86.2 32.1Q87.8 28.7 83.8 28.2Q79.9 27.7 78.5 29.1Q77.2 30.4 77.3 32.0Q77.4 33.6 79.4 35.2Q81.4 36.8 83.1 36.1Q84.7 35.5 86.2 32.1Z" fill="rgb(125,125,125)"/><circle cx="82.7" cy="31.2" r="1.3" fill="#3e3e3e" stroke="none"/><path d="M4.8 43.0Q7.4 41.9 7.5 39.7Q7.7 37.5 6.4 36.2Q5.1 35.0 2.3 36.5Q-0.6 38.1 0.8 41.1Q2.2 44.1 4.8 43.0Z" fill="rgb(106,106,106)"/><circle cx="2.1" cy="38.6" r="1.4" fill="#3e3e3e" stroke="none"/><path d="M15.8 45.1Q13.9 46.0 11.2 44.0Q8.5 42.0 8.6 39.8Q8.8 37.5 11.2 36.3Q13.5 35.2 15.6 37.3Q17.7 39.5 17.7 41.8Q17.7 44.1 15.8 45.1Z" fill="rgb(113,113,113)"/><circle cx="14.0" cy="39.4" r="0.8" fill="#3e3e3e" stroke="none"/><path d="M19.9 44.3Q18.6 44.0 18.6 41.8Q18.6 39.6 20.8 37.5Q23.0 35.5 24.6 37.0Q26.1 38.5 25.8 40.3Q25.5 42.2 23.3 43.4Q21.2 44.7 19.9 44.3Z" fill="rgb(128,128,128)"/><circle cx="23.2" cy="39.3" r="0.9" fill="#3e3e3e" stroke="none"/><path d="M32.3 44.5Q32.9 44.0 33.5 41.6Q34.1 39.1 32.4 38.3Q30.8 37.5 28.9 38.1Q27.0 38.7 26.7 40.5Q26.4 42.3 29.1 43.6Q31.7 45.0 32.3 44.5Z" fill="rgb(106,106,106)"/><path d="M36.5 45.3Q33.8 44.4 34.4 41.8Q35.0 39.1 37.2 38.0Q39.3 36.8 41.1 37.6Q42.9 38.4 43.3 40.5Q43.7 42.6 41.5 44.3Q39.2 46.1 36.5 45.3Z" fill="rgb(113,113,113)"/><circle cx="38.5" cy="42.3" r="1.0" fill="#3e3e3e" stroke="none"/><path d="M47.1 44.3Q49.3 46.3 51.4 44.3Q53.5 42.2 54.2 40.0Q54.9 37.7 51.7 36.5Q48.4 35.4 46.3 36.9Q44.1 38.3 44.5 40.3Q44.9 42.3 47.1 44.3Z" fill="rgb(126,126,126)"/><path d="M62.2 40.7Q63.0 43.2 60.9 44.4Q58.8 45.6 56.7 44.1Q54.6 42.6 55.3 40.3Q56.0 38.0 56.5 37.7Q57.0 37.5 59.2 37.9Q61.4 38.2 62.2 40.7Z" fill="rgb(110,110,110)"/><circle cx="59.5" cy="43.1" r="1.1" fill="#3e3e3e" stroke="none"/><path d="M69.1 44.6Q67.5 45.9 65.8 44.4Q64.0 42.9 63.3 40.4Q62.5 37.9 64.2 36.7Q65.8 35.4 68.3 36.3Q70.7 37.1 70.8 40.2Q70.8 43.3 69.1 44.6Z" fill="rgb(110,110,110)"/><path d="M71.4 40.2Q71.5 43.5 75.0 44.1Q78.5 44.7 79.4 44.0Q80.4 43.3 80.7 40.5Q81.0 37.6 78.8 35.9Q76.7 34.2 74.0 35.6Q71.4 36.9 71.4 40.2Z" fill="rgb(113,113,113)"/><path d="M90.3 41.4Q88.8 38.2 86.9 37.2Q85.1 36.3 83.3 37.0Q81.6 37.7 81.3 40.5Q81.1 43.4 83.6 44.9Q86.1 46.3 88.7 45.8Q91.3 45.3 91.6 45.0Q91.8 44.6 90.3 41.4Z" fill="rgb(117,117,117)"/><path d="M86.5 54.1Q85.1 53.1 85.7 50.0Q86.2 46.8 88.8 46.3Q91.4 45.8 92.4 49.0Q93.5 52.2 90.7 53.6Q87.9 55.1 86.5 54.1Z" fill="rgb(106,106,106)"/><circle cx="88.6" cy="51.9" r="0.9" fill="#3e3e3e" stroke="none"/><path d="M15.1 53.9Q16.9 55.8 20.7 53.7Q24.4 51.7 22.6 48.8Q20.8 45.8 19.5 45.5Q18.2 45.1 16.3 46.1Q14.4 47.1 13.9 49.5Q13.3 52.0 15.1 53.9Z" fill="rgb(128,128,128)"/><circle cx="18.9" cy="51.1" r="1.3" fill="#3e3e3e" stroke="none"/><path d="M23.5 48.3Q21.8 45.5 23.9 44.3Q26.0 43.1 28.6 44.5Q31.3 45.8 30.6 48.8Q30.0 51.7 29.2 52.1Q28.4 52.5 26.8 51.8Q25.1 51.1 23.5 48.3Z" fill="rgb(105,105,105)"/><path d="M32.3 52.4Q33.3 52.7 36.3 51.9Q39.2 51.1 39.1 48.9Q38.9 46.7 36.3 45.9Q33.7 45.0 33.1 45.5Q32.5 46.1 31.8 49.1Q31.2 52.0 32.3 52.4Z" fill="rgb(104,104,104)"/><circle cx="36.7" cy="49.4" r="1.0" fill="#3e3e3e" stroke="none"/><path d="M39.7 48.8Q39.8 51.1 41.6 52.2Q43.5 53.4 46.2 51.3Q48.9 49.3 48.8 48.3Q48.6 47.3 46.4 45.2Q44.1 43.1 41.8 44.8Q39.5 46.6 39.7 48.8Z" fill="rgb(119,119,119)"/><path d="M49.8 48.2Q49.9 49.2 51.8 50.7Q53.8 52.2 55.9 51.8Q58.0 51.3 58.3 48.7Q58.6 46.0 56.4 44.4Q54.2 42.8 51.9 45.0Q49.7 47.2 49.8 48.2Z" fill="rgb(127,127,127)"/><circle cx="56.7" cy="47.3" r="1.3" fill="#3e3e3e" stroke="none"/><path d="M61.3 52.3Q58.4 51.3 58.7 48.7Q59.0 46.1 61.2 44.8Q63.4 43.6 65.2 45.2Q67.0 46.7 66.9 48.9Q66.7 51.2 65.5 52.2Q64.2 53.2 61.3 52.3Z" fill="rgb(116,116,116)"/><path d="M69.7 45.4Q68.0 46.8 67.9 49.0Q67.7 51.2 71.0 52.4Q74.3 53.6 75.6 52.9Q76.8 52.2 77.5 48.7Q78.3 45.3 74.9 44.7Q71.4 44.1 69.7 45.4Z" fill="rgb(113,113,113)"/><circle cx="73.3" cy="47.3" r="1.2" fill="#3e3e3e" stroke="none"/><path d="M83.0 53.3Q81.4 53.7 79.5 53.0Q77.6 52.3 78.3 48.9Q79.1 45.6 80.0 44.9Q80.9 44.3 83.2 45.6Q85.5 47.0 85.1 49.9Q84.6 52.9 83.0 53.3Z" fill="rgb(121,121,121)"/><path d="M-1.7 57.9Q-1.9 55.5 0.9 54.1Q3.6 52.6 5.2 53.6Q6.8 54.6 6.2 57.9Q5.6 61.1 4.4 61.7Q3.2 62.3 0.9 61.3Q-1.5 60.4 -1.7 57.9Z" fill="rgb(125,125,125)"/><circle cx="2.1" cy="57.5" r="0.9" fill="#3e3e3e" stroke="none"/><path d="M6.9 58.0Q7.5 54.6 10.1 53.5Q12.7 52.4 14.5 54.4Q16.4 56.3 16.8 58.6Q17.2 60.8 14.6 62.5Q11.9 64.2 9.1 62.8Q6.3 61.4 6.9 58.0Z" fill="rgb(128,128,128)"/><circle cx="12.3" cy="59.2" r="1.4" fill="#3e3e3e" stroke="none"/><path d="M20.9 54.1Q17.0 56.2 17.4 58.4Q17.8 60.7 18.9 61.2Q19.9 61.7 23.6 60.2Q27.3 58.7 27.8 56.2Q28.3 53.6 26.5 52.8Q24.7 52.1 20.9 54.1Z" fill="rgb(111,111,111)"/><circle cx="21.9" cy="56.0" r="1.5" fill="#3e3e3e" stroke="none"/><path d="M31.9 53.6Q33.0 53.9 35.7 57.8Q38.5 61.6 34.7 62.3Q31.0 62.9 29.7 60.9Q28.3 58.8 28.8 56.5Q29.3 54.1 30.1 53.7Q30.9 53.3 31.9 53.6Z" fill="rgb(118,118,118)"/><path d="M36.5 52.6Q33.5 53.5 36.3 57.4Q39.1 61.3 39.7 61.4Q40.3 61.6 41.3 60.8Q42.3 60.1 42.6 57.0Q43.0 54.0 41.2 52.9Q39.4 51.8 36.5 52.6Z" fill="rgb(113,113,113)"/><circle cx="37.7" cy="55.0" r="1.4" fill="#3e3e3e" stroke="none"/><path d="M46.8 52.2Q49.3 50.3 51.1 51.7Q52.9 53.1 52.8 55.7Q52.6 58.3 50.9 59.7Q49.2 61.1 46.4 60.6Q43.6 60.1 43.9 57.1Q44.2 54.2 46.8 52.2Z" fill="rgb(125,125,125)"/><circle cx="48.1" cy="57.0" r="0.9" fill="#3e3e3e" stroke="none"/><path d="M53.8 55.7Q53.7 58.5 55.8 59.6Q57.9 60.8 60.7 59.2Q63.6 57.7 63.8 55.8Q63.9 54.0 61.0 53.1Q58.1 52.1 56.1 52.6Q54.0 53.0 53.8 55.7Z" fill="rgb(120,120,120)"/><path d="M64.9 56.0Q65.1 54.2 66.3 53.2Q67.5 52.2 70.7 53.4Q73.9 54.5 74.0 56.7Q74.1 58.9 71.1 61.2Q68.2 63.5 66.5 60.6Q64.7 57.8 64.9 56.0Z" fill="rgb(124,124,124)"/><circle cx="69.2" cy="58.1" r="1.2" fill="#3e3e3e" stroke="none"/><path d="M81.3 57.1Q81.4 59.6 79.8 60.6Q78.2 61.6 76.5 60.3Q74.9 59.0 74.8 56.6Q74.7 54.3 76.0 53.6Q77.2 53.0 79.2 53.7Q81.2 54.5 81.3 57.1Z" fill="rgb(120,120,120)"/><path d="M87.0 60.7Q87.8 60.3 87.6 58.0Q87.4 55.6 86.1 54.7Q84.8 53.8 83.3 54.2Q81.7 54.6 81.8 57.1Q81.9 59.5 84.1 60.3Q86.3 61.1 87.0 60.7Z" fill="rgb(108,108,108)"/><circle cx="84.5" cy="58.4" r="0.8" fill="#3e3e3e" stroke="none"/><path d="M87.5 61.7Q88.2 61.3 90.5 62.2Q92.7 63.2 92.2 66.0Q91.7 68.7 91.2 69.1Q90.6 69.4 87.0 69.3Q83.3 69.2 85.0 65.6Q86.7 62.0 87.5 61.7Z" fill="rgb(116,116,116)"/><circle cx="87.9" cy="65.2" r="1.0" fill="#3e3e3e" stroke="none"/><path d="M19.8 70.7Q17.9 73.4 15.2 70.0Q12.4 66.6 12.4 65.7Q12.4 64.8 15.0 63.1Q17.5 61.5 18.5 62.0Q19.5 62.6 20.6 65.3Q21.6 68.0 19.8 70.7Z" fill="rgb(113,113,113)"/><circle cx="17.8" cy="67.4" r="1.3" fill="#3e3e3e" stroke="none"/><path d="M25.6 68.1Q22.3 67.8 21.2 65.0Q20.1 62.2 23.8 60.6Q27.5 59.1 29.0 61.3Q30.4 63.5 29.6 66.0Q28.8 68.4 25.6 68.1Z" fill="rgb(120,120,120)"/><path d="M29.8 68.5Q29.8 68.6 32.4 70.6Q35.0 72.5 35.7 72.5Q36.4 72.4 38.2 70.2Q40.0 68.0 39.9 65.5Q39.8 63.0 39.2 62.8Q38.6 62.7 34.9 63.3Q31.2 64.0 30.5 66.2Q29.7 68.5 29.8 68.5Z" fill="rgb(122,122,122)"/><circle cx="34.7" cy="66.3" r="1.1" fill="#3e3e3e" stroke="none"/><path d="M41.5 65.5Q41.4 63.0 42.4 62.3Q43.4 61.5 46.2 62.0Q48.9 62.5 50.3 65.9Q51.6 69.3 48.2 69.4Q44.8 69.6 43.2 68.7Q41.6 67.9 41.5 65.5Z" fill="rgb(105,105,105)"/><circle cx="47.3" cy="65.7" r="1.3" fill="#3e3e3e" stroke="none"/><path d="M51.2 65.5Q49.9 62.0 51.6 60.6Q53.4 59.2 55.4 60.3Q57.4 61.5 57.6 64.1Q57.8 66.8 55.4 68.1Q53.0 69.4 52.8 69.2Q52.6 69.1 51.2 65.5Z" fill="rgb(116,116,116)"/><path d="M65.9 67.8Q64.3 68.6 61.4 67.8Q58.5 67.0 58.3 64.1Q58.0 61.3 61.0 59.7Q63.9 58.1 65.8 61.1Q67.6 64.1 67.5 65.6Q67.5 67.1 65.9 67.8Z" fill="rgb(107,107,107)"/><circle cx="60.7" cy="64.1" r="0.9" fill="#3e3e3e" stroke="none"/><path d="M70.6 68.3Q68.6 66.9 68.6 65.5Q68.7 64.1 71.6 61.8Q74.5 59.6 76.1 60.8Q77.7 62.1 77.9 65.1Q78.2 68.1 75.4 68.8Q72.6 69.6 70.6 68.3Z" fill="rgb(104,104,104)"/><circle cx="74.2" cy="63.4" r="1.5" fill="#3e3e3e" stroke="none"/><path d="M7.8 77.0Q7.2 77.4 3.9 77.0Q0.6 76.6 0.8 73.3Q1.1 70.1 1.6 69.8Q2.2 69.4 4.7 70.8Q7.1 72.2 7.8 74.4Q8.5 76.6 7.8 77.0Z" fill="rgb(117,117,117)"/><circle cx="3.6" cy="73.5" r="1.4" fill="#3e3e3e" stroke="none"/><path d="M15.6 75.9Q17.2 74.5 17.2 74.1Q17.2 73.7 14.6 70.4Q12.0 67.1 9.9 69.6Q7.9 72.0 8.5 74.0Q9.1 76.0 11.6 76.6Q14.0 77.2 15.6 75.9Z" fill="rgb(118,118,118)"/><circle cx="11.9" cy="72.3" r="1.0" fill="#3e3e3e" stroke="none"/><path d="M21.7 76.0Q24.6 77.3 26.5 73.3Q28.5 69.3 28.4 69.3Q28.4 69.2 25.4 68.9Q22.5 68.6 20.7 71.2Q19.0 73.8 18.9 74.3Q18.9 74.7 21.7 76.0Z" fill="rgb(126,126,126)"/><circle cx="24.0" cy="72.3" r="0.9" fill="#3e3e3e" stroke="none"/><path d="M24.9 78.1Q25.1 78.3 27.7 78.9Q30.3 79.6 32.5 76.5Q34.7 73.4 31.9 71.3Q29.1 69.1 26.9 73.5Q24.8 77.9 24.9 78.1Z" fill="rgb(111,111,111)"/><circle cx="28.2" cy="75.1" r="1.0" fill="#3e3e3e" stroke="none"/><path d="M48.1 77.3Q50.5 78.0 51.6 77.1Q52.8 76.2 52.6 73.3Q52.4 70.4 52.2 70.2Q51.9 70.0 48.3 70.1Q44.7 70.3 45.2 73.4Q45.7 76.6 48.1 77.3Z" fill="rgb(107,107,107)"/><circle cx="46.4" cy="72.2" r="0.9" fill="#3e3e3e" stroke="none"/><path d="M55.1 76.3Q56.1 76.7 59.0 76.2Q61.9 75.7 62.8 72.5Q63.8 69.3 61.1 68.6Q58.4 67.9 56.0 69.2Q53.6 70.4 53.8 73.2Q54.0 75.9 55.1 76.3Z" fill="rgb(111,111,111)"/><circle cx="60.0" cy="72.7" r="1.5" fill="#3e3e3e" stroke="none"/><path d="M66.3 68.8Q64.8 69.5 63.8 72.8Q62.7 76.1 65.1 78.6Q67.4 81.0 69.5 79.3Q71.6 77.5 71.7 74.2Q71.9 70.8 69.8 69.4Q67.7 68.1 66.3 68.8Z" fill="rgb(107,107,107)"/><path d="M72.8 74.2Q73.0 70.9 75.7 70.2Q78.5 69.5 80.0 70.0Q81.5 70.6 81.8 73.2Q82.2 75.7 80.0 77.6Q77.8 79.5 75.2 78.5Q72.7 77.5 72.8 74.2Z" fill="rgb(106,106,106)"/><circle cx="77.1" cy="75.5" r="1.3" fill="#3e3e3e" stroke="none"/><path d="M83.1 73.0Q82.7 70.4 83.0 70.3Q83.3 70.1 86.9 70.2Q90.6 70.3 90.4 73.4Q90.1 76.4 88.8 77.4Q87.4 78.4 85.4 77.0Q83.4 75.5 83.1 73.0Z" fill="rgb(107,107,107)"/><path d="M5.5 81.6Q7.1 77.7 3.8 77.3Q0.5 76.9 -0.9 78.0Q-2.3 79.1 -1.9 82.3Q-1.5 85.5 1.2 85.5Q3.8 85.5 5.5 81.6Z" fill="rgb(124,124,124)"/><path d="M13.9 81.5Q14.1 84.4 9.8 85.2Q5.5 86.1 5.0 85.8Q4.6 85.5 6.1 81.9Q7.6 78.3 8.2 77.9Q8.8 77.5 11.2 78.1Q13.6 78.7 13.9 81.5Z" fill="rgb(104,104,104)"/><path d="M15.7 84.6Q15.5 84.3 15.2 81.4Q15.0 78.4 16.6 77.1Q18.2 75.7 21.2 77.1Q24.1 78.5 24.2 78.7Q24.4 78.8 23.1 82.8Q21.8 86.8 18.8 85.8Q15.8 84.8 15.7 84.6Z" fill="rgb(118,118,118)"/><circle cx="20.9" cy="81.4" r="1.1" fill="#3e3e3e" stroke="none"/><path d="M23.8 83.1Q25.1 79.2 27.5 79.8Q29.9 80.3 30.6 81.9Q31.3 83.5 27.2 85.6Q23.1 87.7 22.8 87.3Q22.6 87.0 23.8 83.1Z" fill="rgb(119,119,119)"/><circle cx="27.6" cy="84.3" r="1.3" fill="#3e3e3e" stroke="none"/><path d="M31.7 81.4Q31.0 79.8 33.0 76.9Q35.1 74.0 35.9 73.9Q36.6 73.9 38.3 76.1Q40.1 78.2 39.7 81.3Q39.3 84.4 38.5 85.0Q37.7 85.5 36.2 85.3Q34.7 85.1 33.6 84.1Q32.4 83.0 31.7 81.4Z" fill="rgb(112,112,112)"/><path d="M50.3 82.3Q49.5 85.5 54.0 86.6Q58.5 87.7 58.9 87.2Q59.3 86.6 57.4 82.3Q55.6 78.0 54.5 77.6Q53.5 77.2 52.3 78.1Q51.2 79.0 50.3 82.3Z" fill="rgb(106,106,106)"/><circle cx="54.8" cy="84.3" r="1.0" fill="#3e3e3e" stroke="none"/><path d="M58.1 82.0Q56.3 77.8 59.2 77.4Q62.0 76.9 64.3 79.2Q66.5 81.6 66.4 82.4Q66.2 83.2 66.2 83.3Q66.1 83.3 63.0 84.8Q59.9 86.2 58.1 82.0Z" fill="rgb(106,106,106)"/><circle cx="60.8" cy="81.4" r="0.9" fill="#3e3e3e" stroke="none"/><path d="M70.2 80.2Q72.3 78.4 74.9 79.4Q77.4 80.4 78.0 82.9Q78.7 85.4 77.6 86.5Q76.5 87.6 72.2 85.6Q67.8 83.5 68.0 82.7Q68.1 81.9 70.2 80.2Z" fill="rgb(108,108,108)"/><path d="M83.3 85.4Q86.9 85.7 87.2 85.5Q87.5 85.2 87.1 82.3Q86.7 79.3 84.7 77.9Q82.8 76.5 80.6 78.4Q78.5 80.3 79.0 82.7Q79.6 85.1 83.3 85.4Z" fill="rgb(119,119,119)"/><circle cx="83.2" cy="82.2" r="1.3" fill="#3e3e3e" stroke="none"/><path d="M4.3 86.6Q3.8 86.3 1.2 86.3Q-1.4 86.3 -1.8 86.6Q-2.1 86.8 -2.4 90.2Q-2.8 93.6 -1.5 94.6Q-0.2 95.5 3.6 94.6Q7.4 93.7 6.1 90.3Q4.7 87.0 4.3 86.6Z" fill="rgb(115,115,115)"/><circle cx="2.0" cy="91.4" r="1.5" fill="#3e3e3e" stroke="none"/><path d="M18.5 86.6Q15.4 85.5 14.2 89.0Q13.0 92.4 15.3 93.8Q17.7 95.1 20.6 93.7Q23.4 92.3 22.9 90.4Q22.3 88.4 22.0 88.1Q21.7 87.7 18.5 86.6Z" fill="rgb(123,123,123)"/><path d="M37.1 96.1Q38.6 94.7 38.0 90.7Q37.5 86.8 36.0 86.6Q34.5 86.4 31.9 89.7Q29.3 93.0 32.5 95.3Q35.7 97.6 37.1 96.1Z" fill="rgb(126,126,126)"/><circle cx="34.4" cy="92.3" r="1.0" fill="#3e3e3e" stroke="none"/><path d="M38.8 90.6Q39.4 94.6 41.6 94.8Q43.9 95.0 45.8 93.7Q47.6 92.3 47.6 89.5Q47.6 86.8 43.8 86.1Q40.0 85.4 39.1 86.0Q38.3 86.5 38.8 90.6Z" fill="rgb(123,123,123)"/><path d="M84.9 94.3Q83.3 95.1 80.0 93.1Q76.7 91.0 76.9 89.6Q77.1 88.3 78.2 87.2Q79.3 86.0 83.3 86.4Q87.2 86.7 86.8 90.1Q86.4 93.5 84.9 94.3Z" fill="rgb(126,126,126)"/><path d="M10.8 101.8Q11.7 102.0 13.9 101.4Q16.1 100.8 16.7 98.2Q17.3 95.6 15.1 94.3Q12.9 93.0 11.0 93.8Q9.1 94.6 9.5 98.1Q9.9 101.6 10.8 101.8Z" fill="rgb(119,119,119)"/><circle cx="13.6" cy="96.3" r="0.8" fill="#3e3e3e" stroke="none"/><path d="M51.3 99.7Q48.7 101.4 47.3 100.9Q46.0 100.4 45.2 98.0Q44.4 95.6 46.2 94.3Q48.0 92.9 51.0 94.9Q53.9 97.0 53.9 97.5Q53.9 98.1 51.3 99.7Z" fill="rgb(119,119,119)"/><circle cx="48.6" cy="97.0" r="1.2" fill="#3e3e3e" stroke="none"/><path d="M56.8 100.5Q58.7 103.0 62.0 101.3Q65.3 99.6 65.1 97.6Q65.0 95.5 62.1 93.8Q59.2 92.1 57.1 94.5Q54.9 97.0 55.0 97.5Q55.0 98.0 56.8 100.5Z" fill="rgb(114,114,114)"/><circle cx="60.0" cy="98.2" r="1.1" fill="#3e3e3e" stroke="none"/><path d="M71.6 101.4Q74.4 101.6 74.0 97.7Q73.6 93.7 71.2 93.3Q68.9 93.0 67.3 94.2Q65.8 95.5 65.9 97.5Q66.1 99.5 67.5 100.4Q68.9 101.3 71.6 101.4Z" fill="rgb(110,110,110)"/><circle cx="71.1" cy="97.7" r="1.0" fill="#3e3e3e" stroke="none"/><path d="M74.7 97.6Q75.1 101.6 75.6 102.0Q76.1 102.4 78.3 101.7Q80.6 100.9 81.8 98.2Q83.1 95.5 79.8 93.4Q76.5 91.4 75.4 92.5Q74.3 93.6 74.7 97.6Z" fill="rgb(119,119,119)"/><circle cx="77.4" cy="95.7" r="1.1" fill="#3e3e3e" stroke="none"/><path d="M93.6 4.6Q97.4 3.7 96.1 0.3Q94.7 -3.0 94.3 -3.4Q93.8 -3.7 91.2 -3.7Q88.6 -3.7 88.2 -3.4Q87.9 -3.2 87.6 0.2Q87.2 3.6 88.5 4.6Q89.8 5.5 93.6 4.6Z" fill="rgb(115,115,115)"/><circle cx="92.0" cy="1.4" r="1.5" fill="#3e3e3e" stroke="none"/><path d="M98.3 8.2Q98.0 4.7 97.7 4.5Q97.4 4.3 93.7 5.2Q90.1 6.1 90.7 8.8Q91.3 11.5 93.7 12.5Q96.1 13.5 97.4 12.6Q98.7 11.7 98.3 8.2Z" fill="rgb(123,123,123)"/><path d="M95.2 16.7Q94.9 18.8 92.0 20.5Q89.2 22.2 87.9 21.1Q86.7 20.0 86.7 17.4Q86.7 14.8 88.8 13.7Q90.8 12.6 93.2 13.6Q95.6 14.6 95.2 16.7Z" fill="rgb(120,120,120)"/><circle cx="90.2" cy="17.6" r="0.8" fill="#3e3e3e" stroke="none"/><path d="M97.3 21.7Q99.2 23.7 99.3 24.9Q99.5 26.2 96.9 27.9Q94.3 29.7 92.0 28.7Q89.6 27.6 89.6 25.3Q89.5 23.1 92.5 21.4Q95.5 19.6 97.3 21.7Z" fill="rgb(105,105,105)"/><path d="M92.1 36.1Q95.1 34.5 94.6 32.5Q94.0 30.5 91.6 29.4Q89.2 28.3 88.9 28.6Q88.5 28.9 86.9 32.4Q85.3 35.9 87.2 36.8Q89.0 37.7 92.1 36.1Z" fill="rgb(109,109,109)"/><circle cx="89.6" cy="33.6" r="1.4" fill="#3e3e3e" stroke="none"/><path d="M97.5 39.7Q97.4 41.9 94.8 43.0Q92.2 44.1 90.8 41.1Q89.4 38.1 92.3 36.5Q95.1 35.0 96.4 36.2Q97.7 37.5 97.5 39.7Z" fill="rgb(106,106,106)"/><circle cx="92.1" cy="38.6" r="1.4" fill="#3e3e3e" stroke="none"/><path d="M88.3 57.9Q88.5 60.4 90.9 61.3Q93.2 62.3 94.4 61.7Q95.6 61.1 96.2 57.9Q96.8 54.6 95.2 53.6Q93.6 52.6 90.9 54.1Q88.1 55.5 88.3 57.9Z" fill="rgb(125,125,125)"/><circle cx="92.1" cy="57.5" r="0.9" fill="#3e3e3e" stroke="none"/><path d="M94.7 70.8Q92.2 69.4 91.6 69.8Q91.1 70.1 90.8 73.3Q90.6 76.6 93.9 77.0Q97.2 77.4 97.8 77.0Q98.5 76.6 97.8 74.4Q97.1 72.2 94.7 70.8Z" fill="rgb(117,117,117)"/><circle cx="93.6" cy="73.5" r="1.4" fill="#3e3e3e" stroke="none"/><path d="M89.1 78.0Q87.7 79.1 88.1 82.3Q88.5 85.5 91.2 85.5Q93.8 85.5 95.5 81.6Q97.1 77.7 93.8 77.3Q90.5 76.9 89.1 78.0Z" fill="rgb(124,124,124)"/><path d="M87.6 90.2Q87.2 93.6 88.5 94.6Q89.8 95.5 93.6 94.6Q97.4 93.7 96.1 90.3Q94.7 87.0 94.3 86.6Q93.8 86.3 91.2 86.3Q88.6 86.3 88.2 86.6Q87.9 86.8 87.6 90.2Z" fill="rgb(115,115,115)"/><circle cx="92.0" cy="91.4" r="1.5" fill="#3e3e3e" stroke="none"/></g></pattern><pattern id="tx5" width="90" height="90" patternUnits="userSpaceOnUse"><rect width="90" height="90" fill="#929292"/><g stroke="#e4e4e4" stroke-width="0.9" stroke-linejoin="round"><path d="M-8.7 7.2Q-8.4 5.1 -5.6 4.5Q-2.8 4.0 -1.1 5.1Q0.6 6.2 0.8 8.8Q1.0 11.5 -1.2 12.8Q-3.4 14.2 -6.2 11.7Q-8.9 9.2 -8.7 7.2Z" fill="rgb(112,112,112)"/><circle cx="-4.3" cy="9.0" r="1.2" fill="#3e3e3e" stroke="none"/><path d="M-1.0 28.9Q-3.5 30.5 -3.0 32.8Q-2.4 35.1 -1.7 35.6Q-1.0 36.0 1.9 34.4Q4.7 32.7 4.9 30.6Q5.0 28.5 3.3 27.9Q1.5 27.3 -1.0 28.9Z" fill="rgb(127,127,127)"/><path d="M-11.5 36.4Q-11.0 36.8 -7.1 36.1Q-3.1 35.4 -3.7 33.0Q-4.3 30.7 -6.7 29.1Q-9.1 27.4 -10.7 28.5Q-12.4 29.6 -12.1 32.8Q-11.9 36.1 -11.5 36.4Z" fill="rgb(114,114,114)"/><path d="M-9.9 40.3Q-10.8 37.5 -6.9 36.8Q-3.0 36.1 -2.3 36.6Q-1.6 37.0 -1.3 39.5Q-1.0 42.0 -3.0 42.8Q-5.0 43.7 -7.0 43.4Q-9.0 43.1 -9.9 40.3Z" fill="rgb(109,109,109)"/><circle cx="-6.3" cy="39.3" r="1.2" fill="#3e3e3e" stroke="none"/><path d="M-10.8 52.5Q-8.8 53.2 -6.9 52.4Q-4.9 51.6 -5.0 48.1Q-5.1 44.6 -7.1 44.2Q-9.2 43.9 -10.7 45.8Q-12.2 47.7 -12.5 49.8Q-12.8 51.9 -10.8 52.5Z" fill="rgb(119,119,119)"/><circle cx="-6.5" cy="48.3" r="1.0" fill="#3e3e3e" stroke="none"/><path d="M-5.3 62.0Q-5.6 61.8 -7.0 57.9Q-8.4 54.0 -6.5 53.3Q-4.6 52.5 -2.6 52.9Q-0.6 53.3 -0.3 56.5Q0.1 59.7 -2.5 60.9Q-5.1 62.2 -5.3 62.0Z" fill="rgb(120,120,120)"/><circle cx="-3.2" cy="56.2" r="1.1" fill="#3e3e3e" stroke="none"/><path d="M-5.7 69.3Q-5.5 69.2 -3.4 70.9Q-1.3 72.5 -1.2 74.0Q-1.2 75.6 -3.0 77.9Q-4.9 80.3 -8.1 78.2Q-11.3 76.1 -8.6 72.7Q-5.9 69.4 -5.7 69.3Z" fill="rgb(111,111,111)"/><path d="M5.9 -3.6Q7.1 -2.5 6.1 0.4Q5.1 3.3 3.1 4.3Q1.2 5.3 -0.5 4.2Q-2.3 3.1 -2.0 -0.4Q-1.8 -4.0 1.5 -4.3Q4.7 -4.7 5.9 -3.6Z" fill="rgb(111,111,111)"/><circle cx="1.8" cy="-0.8" r="1.5" fill="#3e3e3e" stroke="none"/><path d="M30.5 -3.6Q30.9 -3.0 29.8 0.4Q28.7 3.7 25.7 2.5Q22.7 1.3 21.9 -1.1Q21.2 -3.4 21.5 -3.9Q21.8 -4.4 26.0 -4.3Q30.1 -4.2 30.5 -3.6Z" fill="rgb(127,127,127)"/><path d="M48.6 0.1Q49.3 3.0 52.8 3.6Q56.3 4.2 56.6 4.0Q57.0 3.8 57.5 -0.6Q58.0 -4.9 57.5 -5.5Q57.0 -6.0 52.6 -4.8Q48.3 -3.6 48.1 -3.2Q47.9 -2.8 48.6 0.1Z" fill="rgb(125,125,125)"/><circle cx="52.4" cy="-0.9" r="1.0" fill="#3e3e3e" stroke="none"/><path d="M67.1 -0.0Q66.0 4.2 65.3 4.7Q64.7 5.2 61.1 4.6Q57.6 3.9 58.1 -0.5Q58.6 -4.9 63.1 -5.0Q67.7 -5.2 68.0 -4.7Q68.3 -4.3 67.1 -0.0Z" fill="rgb(127,127,127)"/><circle cx="62.1" cy="-0.7" r="1.0" fill="#3e3e3e" stroke="none"/><path d="M30.3 -7.1Q30.3 -9.4 27.8 -11.1Q25.2 -12.8 23.6 -12.0Q22.0 -11.1 21.8 -8.0Q21.6 -5.0 26.0 -4.9Q30.4 -4.8 30.3 -7.1Z" fill="rgb(104,104,104)"/><path d="M38.4 -7.2Q39.3 -10.5 37.3 -11.3Q35.4 -12.1 33.3 -10.7Q31.3 -9.3 31.3 -7.2Q31.3 -5.0 31.7 -4.4Q32.1 -3.8 34.8 -3.9Q37.5 -3.9 38.4 -7.2Z" fill="rgb(123,123,123)"/><path d="M43.2 -2.8Q47.2 -3.1 47.3 -3.5Q47.5 -3.9 46.3 -8.0Q45.1 -12.2 42.6 -11.3Q40.1 -10.5 39.2 -7.0Q38.2 -3.5 38.7 -3.0Q39.2 -2.4 43.2 -2.8Z" fill="rgb(111,111,111)"/><circle cx="42.2" cy="-5.1" r="1.0" fill="#3e3e3e" stroke="none"/><path d="M3.1 94.3Q1.2 95.3 -0.5 94.2Q-2.3 93.1 -2.0 89.6Q-1.8 86.0 1.5 85.7Q4.7 85.3 5.9 86.4Q7.1 87.5 6.1 90.4Q5.1 93.3 3.1 94.3Z" fill="rgb(111,111,111)"/><circle cx="1.8" cy="89.2" r="1.5" fill="#3e3e3e" stroke="none"/><path d="M13.4 1.0Q14.0 5.0 12.8 5.8Q11.7 6.7 8.7 5.1Q5.7 3.5 6.7 0.6Q7.7 -2.3 10.2 -2.7Q12.7 -3.1 12.8 -3.1Q12.9 -3.0 13.4 1.0Z" fill="rgb(107,107,107)"/><circle cx="11.0" cy="2.7" r="0.8" fill="#3e3e3e" stroke="none"/><path d="M16.3 5.1Q14.5 4.9 14.0 0.9Q13.4 -3.1 16.7 -3.2Q20.1 -3.3 20.9 -0.8Q21.7 1.7 19.9 3.5Q18.1 5.3 16.3 5.1Z" fill="rgb(104,104,104)"/><path d="M21.9 88.9Q22.7 91.3 25.7 92.5Q28.7 93.7 29.8 90.4Q30.9 87.0 30.5 86.4Q30.1 85.8 26.0 85.7Q21.8 85.6 21.5 86.1Q21.2 86.6 21.9 88.9Z" fill="rgb(127,127,127)"/><path d="M38.6 0.3Q38.5 -1.8 38.0 -2.2Q37.6 -2.7 34.8 -2.7Q32.0 -2.7 30.9 0.7Q29.9 4.2 30.0 4.4Q30.1 4.7 33.1 5.2Q36.0 5.6 37.4 4.0Q38.7 2.4 38.6 0.3Z" fill="rgb(128,128,128)"/><path d="M47.7 4.0Q46.7 4.9 43.1 3.6Q39.5 2.4 39.4 0.2Q39.3 -1.9 43.2 -2.3Q47.2 -2.6 47.9 0.3Q48.6 3.2 47.7 4.0Z" fill="rgb(122,122,122)"/><path d="M48.6 90.1Q49.3 93.0 52.8 93.6Q56.3 94.2 56.6 94.0Q57.0 93.8 57.5 89.4Q58.0 85.1 57.5 84.5Q57.0 84.0 52.6 85.2Q48.3 86.4 48.1 86.8Q47.9 87.2 48.6 90.1Z" fill="rgb(125,125,125)"/><circle cx="52.4" cy="89.1" r="1.0" fill="#3e3e3e" stroke="none"/><path d="M68.0 85.3Q67.7 84.8 63.1 85.0Q58.6 85.1 58.1 89.5Q57.6 93.9 61.1 94.6Q64.7 95.2 65.3 94.7Q66.0 94.2 67.1 90.0Q68.3 85.7 68.0 85.3Z" fill="rgb(127,127,127)"/><circle cx="62.1" cy="89.3" r="1.0" fill="#3e3e3e" stroke="none"/><path d="M69.5 5.0Q72.4 5.6 75.0 4.0Q77.6 2.3 77.0 0.2Q76.4 -2.0 72.6 -3.0Q68.8 -4.0 67.7 0.2Q66.6 4.3 69.5 5.0Z" fill="rgb(109,109,109)"/><circle cx="71.3" cy="1.1" r="1.1" fill="#3e3e3e" stroke="none"/><path d="M8.5 5.5Q11.6 7.1 11.3 9.5Q11.0 11.8 7.8 12.6Q4.5 13.4 3.2 12.5Q1.8 11.5 1.6 8.8Q1.4 6.0 3.4 4.9Q5.4 3.9 8.5 5.5Z" fill="rgb(127,127,127)"/><path d="M16.2 5.9Q14.4 5.7 13.3 6.5Q12.2 7.3 11.9 9.5Q11.7 11.8 13.4 13.4Q15.0 15.1 17.8 13.5Q20.5 12.0 19.2 9.1Q18.0 6.1 16.2 5.9Z" fill="rgb(128,128,128)"/><path d="M42.9 4.2Q46.3 5.4 45.7 7.4Q45.0 9.4 42.3 10.2Q39.6 11.0 38.2 8.6Q36.8 6.2 38.1 4.6Q39.5 3.0 42.9 4.2Z" fill="rgb(113,113,113)"/><path d="M56.5 8.2Q56.2 11.3 57.0 13.2Q57.9 15.0 61.6 13.8Q65.2 12.7 64.8 9.3Q64.4 6.0 61.0 5.4Q57.6 4.7 57.2 5.0Q56.8 5.2 56.5 8.2Z" fill="rgb(114,114,114)"/><path d="M71.1 13.8Q73.3 12.8 72.8 9.6Q72.2 6.3 69.4 5.7Q66.6 5.1 66.0 5.5Q65.4 6.0 65.8 9.2Q66.2 12.5 67.5 13.6Q68.8 14.7 71.1 13.8Z" fill="rgb(116,116,116)"/><circle cx="69.6" cy="9.4" r="1.4" fill="#3e3e3e" stroke="none"/><path d="M75.0 13.0Q76.1 13.2 78.1 11.1Q80.2 9.1 80.4 7.1Q80.7 5.1 79.3 4.0Q77.9 3.0 75.4 4.6Q72.9 6.2 73.4 9.5Q74.0 12.8 75.0 13.0Z" fill="rgb(104,104,104)"/><path d="M88.9 5.1Q87.2 4.0 84.4 4.5Q81.6 5.1 81.3 7.2Q81.1 9.2 83.8 11.7Q86.6 14.2 88.8 12.8Q91.0 11.5 90.8 8.8Q90.6 6.2 88.9 5.1Z" fill="rgb(112,112,112)"/><circle cx="85.7" cy="9.0" r="1.2" fill="#3e3e3e" stroke="none"/><path d="M-0.8 13.4Q1.4 12.1 2.8 13.0Q4.1 14.0 4.4 16.2Q4.8 18.5 1.5 20.1Q-1.7 21.7 -3.6 20.9Q-5.4 20.2 -4.2 17.5Q-3.1 14.8 -0.8 13.4Z" fill="rgb(106,106,106)"/><circle cx="1.2" cy="18.4" r="1.3" fill="#3e3e3e" stroke="none"/><path d="M11.8 20.3Q9.1 22.8 7.2 20.6Q5.3 18.5 5.0 16.2Q4.7 13.9 7.9 13.1Q11.1 12.3 12.8 14.0Q14.6 15.7 14.5 16.8Q14.4 17.9 11.8 20.3Z" fill="rgb(126,126,126)"/><circle cx="9.6" cy="16.0" r="1.0" fill="#3e3e3e" stroke="none"/><path d="M24.6 16.4Q24.4 13.3 22.7 13.0Q20.9 12.6 18.1 14.2Q15.3 15.8 15.2 16.8Q15.1 17.9 17.4 19.9Q19.8 21.9 22.3 20.7Q24.7 19.5 24.6 16.4Z" fill="rgb(112,112,112)"/><circle cx="20.5" cy="17.4" r="1.5" fill="#3e3e3e" stroke="none"/><path d="M29.1 12.9Q30.5 13.9 31.5 17.3Q32.5 20.7 30.6 21.2Q28.6 21.8 27.1 20.6Q25.5 19.3 25.4 16.4Q25.2 13.5 26.5 12.7Q27.7 12.0 29.1 12.9Z" fill="rgb(115,115,115)"/><path d="M34.6 13.5Q31.0 13.6 32.0 17.1Q33.1 20.7 34.2 20.9Q35.4 21.1 37.0 19.3Q38.6 17.5 38.5 15.4Q38.3 13.4 34.6 13.5Z" fill="rgb(110,110,110)"/><circle cx="33.4" cy="16.8" r="1.5" fill="#3e3e3e" stroke="none"/><path d="M39.7 12.8Q39.4 13.4 39.5 15.4Q39.7 17.3 42.8 18.4Q46.0 19.5 46.8 18.8Q47.7 18.2 47.5 15.5Q47.2 12.9 46.3 11.7Q45.4 10.5 42.7 11.3Q40.0 12.1 39.7 12.8Z" fill="rgb(117,117,117)"/><path d="M51.7 12.1Q47.9 12.6 48.2 15.5Q48.5 18.4 51.9 19.0Q55.3 19.7 55.8 19.1Q56.4 18.6 56.9 17.0Q57.3 15.4 56.4 13.5Q55.6 11.5 51.7 12.1Z" fill="rgb(110,110,110)"/><path d="M68.1 18.1Q68.3 15.5 66.9 14.3Q65.5 13.1 61.7 14.4Q57.9 15.6 57.4 17.2Q57.0 18.8 61.2 20.2Q65.5 21.5 66.7 21.1Q67.9 20.7 68.1 18.1Z" fill="rgb(125,125,125)"/><path d="M77.1 16.4Q75.8 14.4 74.8 14.2Q73.8 14.0 71.6 14.9Q69.4 15.8 69.2 18.2Q69.0 20.5 70.0 21.5Q70.9 22.4 74.6 20.4Q78.4 18.5 77.1 16.4Z" fill="rgb(113,113,113)"/><circle cx="73.6" cy="17.7" r="1.1" fill="#3e3e3e" stroke="none"/><path d="M78.0 15.8Q76.7 13.7 78.7 11.8Q80.8 9.8 83.4 12.1Q86.0 14.5 84.9 17.0Q83.9 19.6 83.3 19.8Q82.7 20.1 81.0 19.0Q79.3 17.9 78.0 15.8Z" fill="rgb(106,106,106)"/><path d="M0.2 24.2Q1.8 26.4 3.6 27.0Q5.4 27.6 6.9 26.4Q8.3 25.1 8.4 24.1Q8.5 23.1 6.7 21.0Q4.8 19.0 1.7 20.5Q-1.4 22.0 0.2 24.2Z" fill="rgb(112,112,112)"/><path d="M9.9 24.2Q9.8 25.2 11.5 26.1Q13.2 27.1 16.0 26.6Q18.9 26.1 19.0 24.3Q19.2 22.4 17.0 20.6Q14.8 18.7 12.4 21.0Q10.0 23.2 9.9 24.2Z" fill="rgb(105,105,105)"/><path d="M26.4 21.5Q27.9 22.7 27.4 24.7Q26.9 26.7 24.9 28.2Q23.0 29.7 21.5 27.9Q20.0 26.2 20.1 24.4Q20.3 22.5 22.6 21.4Q24.8 20.3 26.4 21.5Z" fill="rgb(108,108,108)"/><circle cx="24.6" cy="24.4" r="1.1" fill="#3e3e3e" stroke="none"/><path d="M34.0 21.9Q32.9 21.7 30.9 22.3Q28.9 22.9 28.4 24.9Q27.9 27.0 29.9 28.1Q31.8 29.2 34.5 28.3Q37.2 27.3 36.2 24.7Q35.1 22.1 34.0 21.9Z" fill="rgb(127,127,127)"/><circle cx="31.9" cy="27.0" r="0.8" fill="#3e3e3e" stroke="none"/><path d="M37.7 19.9Q39.3 18.1 42.5 19.2Q45.7 20.3 45.2 24.0Q44.6 27.7 42.8 28.4Q41.0 29.1 39.6 28.0Q38.3 26.9 37.2 24.3Q36.1 21.7 37.7 19.9Z" fill="rgb(106,106,106)"/><circle cx="40.9" cy="21.7" r="1.2" fill="#3e3e3e" stroke="none"/><path d="M51.6 27.9Q48.1 28.7 46.9 28.2Q45.6 27.8 46.2 24.2Q46.8 20.6 47.6 19.9Q48.5 19.3 51.7 19.9Q54.9 20.4 55.0 23.8Q55.1 27.1 51.6 27.9Z" fill="rgb(106,106,106)"/><circle cx="50.0" cy="23.6" r="1.2" fill="#3e3e3e" stroke="none"/><path d="M59.5 28.6Q61.1 28.5 63.2 25.2Q65.3 21.9 61.1 20.6Q57.0 19.2 56.5 19.7Q56.0 20.3 56.1 23.7Q56.2 27.2 57.1 27.9Q58.0 28.7 59.5 28.6Z" fill="rgb(108,108,108)"/><path d="M64.1 30.0Q66.6 31.4 69.0 29.4Q71.5 27.3 70.7 25.4Q69.9 23.5 68.9 22.5Q68.0 21.6 66.8 22.0Q65.7 22.4 63.7 25.5Q61.7 28.7 64.1 30.0Z" fill="rgb(112,112,112)"/><path d="M74.9 20.9Q78.8 18.8 80.5 19.9Q82.3 21.0 81.3 23.8Q80.3 26.5 78.6 27.5Q77.0 28.6 74.8 27.8Q72.6 27.0 71.8 25.0Q70.9 23.0 74.9 20.9Z" fill="rgb(113,113,113)"/><circle cx="76.9" cy="23.4" r="0.8" fill="#3e3e3e" stroke="none"/><path d="M88.3 35.6Q89.0 36.0 91.9 34.4Q94.7 32.7 94.9 30.6Q95.0 28.5 93.3 27.9Q91.5 27.3 89.0 28.9Q86.5 30.5 87.0 32.8Q87.6 35.1 88.3 35.6Z" fill="rgb(127,127,127)"/><path d="M12.3 36.6Q15.0 36.4 13.9 32.1Q12.8 27.8 10.9 26.8Q9.0 25.8 7.5 27.1Q6.0 28.4 5.8 30.6Q5.7 32.8 7.6 34.8Q9.5 36.8 12.3 36.6Z" fill="rgb(117,117,117)"/><circle cx="10.8" cy="31.5" r="1.0" fill="#3e3e3e" stroke="none"/><path d="M16.4 36.4Q15.4 35.9 14.3 31.9Q13.3 27.9 16.2 27.5Q19.1 27.0 20.6 28.7Q22.1 30.5 22.0 32.2Q21.9 33.9 19.7 35.4Q17.5 36.8 16.4 36.4Z" fill="rgb(119,119,119)"/><circle cx="17.6" cy="30.9" r="1.5" fill="#3e3e3e" stroke="none"/><path d="M29.6 28.5Q27.5 27.4 25.4 29.0Q23.3 30.6 23.1 32.4Q23.0 34.1 25.2 35.3Q27.4 36.5 29.1 36.5Q30.7 36.4 31.2 33.1Q31.6 29.7 29.6 28.5Z" fill="rgb(116,116,116)"/><circle cx="29.2" cy="30.9" r="1.4" fill="#3e3e3e" stroke="none"/><path d="M38.9 29.0Q37.5 28.0 34.7 28.9Q32.0 29.8 31.6 33.1Q31.2 36.3 33.4 37.3Q35.6 38.4 37.2 37.2Q38.7 36.0 39.5 33.0Q40.2 30.1 38.9 29.0Z" fill="rgb(121,121,121)"/><path d="M48.8 33.4Q49.8 37.1 48.1 38.4Q46.4 39.6 43.1 38.0Q39.8 36.4 40.6 33.3Q41.3 30.2 43.2 29.5Q45.1 28.8 46.4 29.3Q47.7 29.8 48.8 33.4Z" fill="rgb(122,122,122)"/><circle cx="46.9" cy="34.6" r="1.1" fill="#3e3e3e" stroke="none"/><path d="M56.7 32.4Q56.3 35.1 54.9 36.2Q53.5 37.3 51.9 37.0Q50.4 36.7 49.4 33.3Q48.4 29.9 51.9 29.1Q55.4 28.3 56.2 29.0Q57.0 29.7 56.7 32.4Z" fill="rgb(127,127,127)"/><path d="M67.1 34.1Q67.0 32.2 69.6 30.0Q72.2 27.8 74.5 28.6Q76.8 29.4 77.1 32.9Q77.3 36.3 74.2 37.6Q71.0 38.9 69.2 37.5Q67.3 36.1 67.1 34.1Z" fill="rgb(128,128,128)"/><circle cx="71.5" cy="34.6" r="1.3" fill="#3e3e3e" stroke="none"/><path d="M78.5 36.4Q79.0 36.8 82.9 36.1Q86.9 35.4 86.3 33.0Q85.7 30.7 83.3 29.1Q80.9 27.4 79.3 28.5Q77.6 29.6 77.9 32.8Q78.1 36.1 78.5 36.4Z" fill="rgb(114,114,114)"/><path d="M7.2 41.0Q8.9 37.2 7.1 35.3Q5.3 33.5 2.4 35.2Q-0.5 36.9 -0.2 39.4Q0.1 41.8 2.4 43.5Q4.8 45.1 5.1 44.9Q5.4 44.8 7.2 41.0Z" fill="rgb(120,120,120)"/><path d="M15.8 37.7Q14.8 37.2 12.2 37.4Q9.7 37.6 8.0 41.3Q6.3 45.1 10.3 45.6Q14.2 46.2 15.6 43.7Q17.1 41.3 17.0 39.7Q16.9 38.2 15.8 37.7Z" fill="rgb(105,105,105)"/><circle cx="12.1" cy="42.8" r="1.5" fill="#3e3e3e" stroke="none"/><path d="M25.3 45.3Q24.8 45.5 21.5 43.4Q18.3 41.2 18.2 39.6Q18.1 38.0 20.4 36.4Q22.7 34.9 24.9 36.0Q27.0 37.1 26.4 41.1Q25.7 45.1 25.3 45.3Z" fill="rgb(121,121,121)"/><path d="M29.2 45.6Q26.1 45.1 26.8 41.1Q27.4 37.2 29.1 37.2Q30.7 37.2 33.0 38.3Q35.4 39.4 35.3 41.8Q35.2 44.2 33.8 45.1Q32.4 46.1 29.2 45.6Z" fill="rgb(112,112,112)"/><path d="M38.1 46.0Q40.2 47.8 43.4 45.7Q46.6 43.7 46.4 41.9Q46.2 40.1 42.8 38.5Q39.4 36.8 37.8 38.1Q36.2 39.4 36.1 41.8Q36.0 44.2 38.1 46.0Z" fill="rgb(113,113,113)"/><circle cx="42.4" cy="43.1" r="1.4" fill="#3e3e3e" stroke="none"/><path d="M51.8 38.0Q50.2 37.7 48.5 38.9Q46.9 40.2 47.0 41.8Q47.2 43.5 49.1 44.9Q51.0 46.3 52.7 45.1Q54.5 43.9 53.9 41.1Q53.3 38.3 51.8 38.0Z" fill="rgb(125,125,125)"/><path d="M60.1 44.2Q59.3 44.7 57.2 44.2Q55.2 43.8 54.6 40.9Q53.9 38.1 55.5 36.9Q57.0 35.8 59.3 37.5Q61.7 39.1 61.3 41.4Q60.9 43.7 60.1 44.2Z" fill="rgb(125,125,125)"/><path d="M64.2 45.0Q61.5 43.9 61.9 41.5Q62.3 39.2 64.6 37.9Q67.0 36.5 68.8 38.0Q70.6 39.4 70.5 40.7Q70.4 42.0 68.7 44.0Q66.9 46.1 64.2 45.0Z" fill="rgb(118,118,118)"/><path d="M74.1 44.7Q77.2 47.4 78.8 45.4Q80.3 43.4 79.4 40.5Q78.4 37.5 78.0 37.1Q77.5 36.8 74.4 38.1Q71.2 39.4 71.1 40.7Q71.0 42.0 74.1 44.7Z" fill="rgb(119,119,119)"/><path d="M80.1 40.3Q81.0 43.1 83.0 43.4Q85.0 43.7 87.0 42.8Q89.0 42.0 88.7 39.5Q88.4 37.0 87.7 36.6Q87.0 36.1 83.1 36.8Q79.2 37.5 80.1 40.3Z" fill="rgb(109,109,109)"/><circle cx="83.7" cy="39.3" r="1.2" fill="#3e3e3e" stroke="none"/><path d="M10.1 46.8Q14.0 47.3 14.6 48.7Q15.2 50.2 12.2 52.4Q9.2 54.7 7.1 52.0Q5.0 49.4 5.3 48.0Q5.6 46.6 6.0 46.4Q6.3 46.2 10.1 46.8Z" fill="rgb(108,108,108)"/><path d="M23.5 48.5Q24.3 46.0 21.2 43.9Q18.1 41.8 16.6 44.3Q15.2 46.7 15.8 48.2Q16.4 49.7 17.1 50.2Q17.7 50.7 20.2 50.8Q22.7 50.9 23.5 48.5Z" fill="rgb(125,125,125)"/><path d="M31.9 50.2Q31.0 53.7 34.0 54.4Q37.0 55.1 38.6 52.5Q40.2 49.9 40.0 49.1Q39.8 48.3 37.7 46.5Q35.6 44.8 34.2 45.7Q32.8 46.7 31.9 50.2Z" fill="rgb(122,122,122)"/><circle cx="36.0" cy="50.4" r="1.2" fill="#3e3e3e" stroke="none"/><path d="M40.9 48.8Q40.7 48.1 43.7 46.1Q46.7 44.2 48.6 45.6Q50.5 47.0 50.3 49.5Q50.2 51.9 48.5 52.4Q46.8 53.0 44.0 51.3Q41.2 49.6 40.9 48.8Z" fill="rgb(117,117,117)"/><circle cx="45.5" cy="47.5" r="1.2" fill="#3e3e3e" stroke="none"/><path d="M59.1 48.7Q59.0 52.0 56.6 53.1Q54.2 54.3 52.6 53.2Q51.0 52.1 51.2 49.6Q51.3 47.0 53.2 45.7Q55.0 44.5 57.1 44.9Q59.1 45.4 59.1 48.7Z" fill="rgb(112,112,112)"/><circle cx="56.6" cy="49.7" r="1.0" fill="#3e3e3e" stroke="none"/><path d="M74.5 52.9Q76.4 51.9 76.7 49.7Q76.9 47.6 73.9 44.9Q70.8 42.3 69.1 44.3Q67.3 46.4 67.9 48.8Q68.5 51.2 70.6 52.6Q72.6 54.0 74.5 52.9Z" fill="rgb(109,109,109)"/><circle cx="71.8" cy="46.9" r="0.9" fill="#3e3e3e" stroke="none"/><path d="M79.2 52.5Q81.2 53.2 83.1 52.4Q85.1 51.6 85.0 48.1Q84.9 44.6 82.9 44.2Q80.8 43.9 79.3 45.8Q77.8 47.7 77.5 49.8Q77.2 51.9 79.2 52.5Z" fill="rgb(119,119,119)"/><circle cx="83.5" cy="48.3" r="1.0" fill="#3e3e3e" stroke="none"/><path d="M7.1 60.6Q8.9 59.9 8.7 57.6Q8.6 55.3 6.4 52.5Q4.2 49.7 2.2 51.4Q0.2 53.1 0.6 56.4Q0.9 59.7 3.1 60.5Q5.3 61.3 7.1 60.6Z" fill="rgb(125,125,125)"/><circle cx="5.0" cy="56.4" r="1.5" fill="#3e3e3e" stroke="none"/><path d="M16.8 55.2Q17.2 51.5 16.5 50.9Q15.8 50.4 12.6 52.8Q9.3 55.3 9.4 57.7Q9.6 60.0 10.9 60.6Q12.2 61.2 14.3 60.0Q16.4 58.9 16.8 55.2Z" fill="rgb(116,116,116)"/><circle cx="14.8" cy="54.5" r="0.8" fill="#3e3e3e" stroke="none"/><path d="M24.4 54.0Q26.2 56.2 25.9 57.6Q25.7 59.0 24.9 59.7Q24.1 60.3 20.5 59.5Q16.9 58.8 17.3 55.2Q17.7 51.7 20.2 51.8Q22.7 51.9 24.4 54.0Z" fill="rgb(113,113,113)"/><circle cx="19.2" cy="56.8" r="1.4" fill="#3e3e3e" stroke="none"/><path d="M38.7 58.1Q37.8 55.4 39.3 52.9Q40.8 50.5 43.5 52.1Q46.2 53.8 44.8 57.1Q43.4 60.5 42.2 61.1Q41.0 61.7 40.3 61.3Q39.7 60.8 38.7 58.1Z" fill="rgb(106,106,106)"/><circle cx="41.6" cy="55.2" r="1.2" fill="#3e3e3e" stroke="none"/><path d="M52.4 60.9Q54.0 59.5 53.7 57.4Q53.5 55.2 52.0 54.2Q50.4 53.2 48.8 53.7Q47.2 54.2 45.8 57.5Q44.4 60.9 47.5 61.6Q50.7 62.2 52.4 60.9Z" fill="rgb(125,125,125)"/><path d="M60.7 53.3Q62.0 53.8 62.2 57.6Q62.5 61.4 61.2 61.7Q60.0 62.1 57.7 60.7Q55.4 59.4 55.1 57.2Q54.8 55.0 57.0 53.9Q59.3 52.8 60.7 53.3Z" fill="rgb(117,117,117)"/><circle cx="60.1" cy="57.3" r="1.3" fill="#3e3e3e" stroke="none"/><path d="M71.6 56.5Q71.9 54.7 69.9 53.4Q67.9 52.1 65.3 52.9Q62.6 53.7 62.8 57.6Q63.1 61.5 64.3 61.7Q65.5 62.0 68.4 60.1Q71.3 58.2 71.6 56.5Z" fill="rgb(108,108,108)"/><path d="M78.8 53.3Q80.9 54.0 82.4 58.1Q83.9 62.3 79.5 62.2Q75.1 62.1 73.7 60.3Q72.4 58.4 72.7 56.6Q73.0 54.8 74.9 53.7Q76.8 52.6 78.8 53.3Z" fill="rgb(120,120,120)"/><circle cx="78.3" cy="59.3" r="1.4" fill="#3e3e3e" stroke="none"/><path d="M83.0 57.9Q81.6 54.0 83.5 53.3Q85.4 52.5 87.4 52.9Q89.4 53.3 89.7 56.5Q90.1 59.7 87.5 60.9Q84.9 62.2 84.7 62.0Q84.4 61.8 83.0 57.9Z" fill="rgb(120,120,120)"/><circle cx="86.8" cy="56.2" r="1.1" fill="#3e3e3e" stroke="none"/><path d="M-4.9 65.8Q-4.9 63.1 -2.1 61.8Q0.6 60.5 2.9 61.3Q5.1 62.1 4.5 65.7Q3.9 69.3 1.6 70.6Q-0.8 71.9 -2.9 70.2Q-5.0 68.5 -4.9 65.8Z" fill="rgb(109,109,109)"/><circle cx="1.2" cy="65.7" r="1.5" fill="#3e3e3e" stroke="none"/><path d="M12.1 69.6Q13.8 67.2 12.8 64.6Q11.8 62.0 10.5 61.5Q9.3 61.0 7.5 61.7Q5.8 62.4 5.2 65.8Q4.6 69.3 7.5 70.6Q10.4 72.0 12.1 69.6Z" fill="rgb(118,118,118)"/><path d="M16.8 67.4Q18.9 67.9 20.5 67.5Q22.1 67.0 23.0 64.0Q23.9 61.1 20.3 60.3Q16.7 59.5 14.7 60.6Q12.7 61.7 13.7 64.3Q14.7 66.9 16.8 67.4Z" fill="rgb(108,108,108)"/><path d="M24.7 69.4Q26.6 71.5 29.1 70.9Q31.6 70.3 30.9 66.2Q30.3 62.2 28.4 61.0Q26.4 59.7 25.6 60.4Q24.7 61.1 23.8 64.2Q22.9 67.4 24.7 69.4Z" fill="rgb(110,110,110)"/><circle cx="28.6" cy="65.7" r="0.8" fill="#3e3e3e" stroke="none"/><path d="M31.3 66.2Q31.9 70.1 32.9 70.4Q33.9 70.7 37.0 68.7Q40.2 66.7 40.2 64.8Q40.3 63.0 39.6 62.5Q39.0 61.9 34.8 62.1Q30.7 62.3 31.3 66.2Z" fill="rgb(128,128,128)"/><path d="M50.9 65.7Q50.6 63.1 47.3 62.4Q43.9 61.7 42.7 62.4Q41.4 63.1 41.3 64.9Q41.3 66.7 43.5 69.4Q45.7 72.0 48.5 70.2Q51.2 68.4 50.9 65.7Z" fill="rgb(108,108,108)"/><circle cx="46.7" cy="65.5" r="1.0" fill="#3e3e3e" stroke="none"/><path d="M56.5 68.9Q55.2 69.4 53.6 68.8Q51.9 68.3 51.6 65.7Q51.3 63.1 53.1 61.6Q54.8 60.2 57.2 61.6Q59.5 63.0 58.7 65.7Q57.8 68.3 56.5 68.9Z" fill="rgb(128,128,128)"/><circle cx="54.6" cy="66.1" r="1.4" fill="#3e3e3e" stroke="none"/><path d="M65.8 65.7Q65.1 63.3 64.0 63.1Q62.8 62.8 61.6 63.1Q60.4 63.4 59.5 66.0Q58.7 68.6 60.5 70.0Q62.4 71.5 64.5 69.8Q66.6 68.1 65.8 65.7Z" fill="rgb(124,124,124)"/><circle cx="62.8" cy="67.5" r="1.3" fill="#3e3e3e" stroke="none"/><path d="M73.3 60.7Q74.6 62.5 74.5 65.2Q74.4 67.9 73.3 69.3Q72.2 70.7 69.8 69.3Q67.5 68.0 66.7 65.4Q65.9 62.8 68.9 60.9Q71.9 58.9 73.3 60.7Z" fill="rgb(110,110,110)"/><path d="M79.5 62.8Q83.5 62.9 83.7 63.1Q83.9 63.3 83.9 65.8Q83.8 68.3 83.6 68.3Q83.5 68.4 79.4 68.1Q75.3 67.7 75.4 65.2Q75.4 62.7 79.5 62.8Z" fill="rgb(107,107,107)"/><path d="M12.3 76.3Q11.6 75.8 11.3 74.1Q11.0 72.5 12.7 70.1Q14.5 67.7 16.6 68.2Q18.7 68.7 18.3 72.6Q17.9 76.5 15.4 76.7Q13.0 76.8 12.3 76.3Z" fill="rgb(110,110,110)"/><path d="M18.6 72.7Q18.3 76.6 20.0 77.5Q21.7 78.3 23.3 77.4Q24.8 76.5 25.5 74.2Q26.2 71.9 24.3 69.8Q22.5 67.7 20.8 68.2Q19.0 68.7 18.6 72.7Z" fill="rgb(108,108,108)"/><path d="M26.1 74.4Q25.5 76.7 28.1 78.4Q30.7 80.1 32.9 78.6Q35.1 77.1 34.4 74.3Q33.6 71.5 32.6 71.2Q31.7 70.8 29.2 71.5Q26.8 72.1 26.1 74.4Z" fill="rgb(116,116,116)"/><circle cx="30.0" cy="76.3" r="1.0" fill="#3e3e3e" stroke="none"/><path d="M35.1 74.1Q35.8 76.8 37.8 77.7Q39.8 78.6 42.2 77.7Q44.7 76.9 44.8 76.7Q44.9 76.5 44.9 74.6Q44.9 72.6 42.7 70.1Q40.5 67.5 37.4 69.4Q34.4 71.4 35.1 74.1Z" fill="rgb(104,104,104)"/><path d="M54.8 73.7Q54.8 77.1 50.7 76.7Q46.6 76.3 46.5 74.5Q46.5 72.6 49.1 70.9Q51.7 69.2 53.3 69.8Q54.8 70.3 54.8 73.7Z" fill="rgb(119,119,119)"/><path d="M56.2 77.7Q55.6 77.2 55.6 73.7Q55.6 70.3 56.9 69.8Q58.1 69.2 60.0 70.7Q61.8 72.2 61.9 73.6Q62.0 75.0 59.4 76.6Q56.8 78.2 56.2 77.7Z" fill="rgb(123,123,123)"/><path d="M70.4 76.6Q68.5 78.3 65.7 76.7Q62.9 75.1 62.8 73.6Q62.7 72.1 64.9 70.4Q67.2 68.6 69.5 69.9Q71.8 71.2 72.0 73.1Q72.3 74.9 70.4 76.6Z" fill="rgb(115,115,115)"/><path d="M75.0 75.2Q76.5 75.8 77.5 75.7Q78.4 75.6 80.9 72.4Q83.5 69.2 79.3 68.8Q75.1 68.4 74.1 69.8Q73.0 71.1 73.2 72.9Q73.5 74.6 75.0 75.2Z" fill="rgb(123,123,123)"/><circle cx="78.0" cy="72.1" r="1.3" fill="#3e3e3e" stroke="none"/><path d="M86.6 70.9Q88.7 72.5 88.8 74.0Q88.8 75.6 87.0 77.9Q85.1 80.3 81.9 78.2Q78.7 76.1 81.4 72.7Q84.1 69.4 84.3 69.3Q84.5 69.2 86.6 70.9Z" fill="rgb(111,111,111)"/><path d="M2.1 77.7Q4.8 79.3 4.7 82.0Q4.6 84.7 1.4 85.0Q-1.8 85.4 -3.0 84.0Q-4.2 82.7 -4.2 81.7Q-4.2 80.8 -2.3 78.5Q-0.5 76.1 2.1 77.7Z" fill="rgb(128,128,128)"/><path d="M15.5 77.3Q13.0 77.5 13.1 81.8Q13.2 86.1 13.2 86.1Q13.3 86.2 16.7 86.1Q20.1 86.0 20.5 85.5Q20.9 85.0 21.1 81.9Q21.4 78.9 19.7 78.0Q18.0 77.2 15.5 77.3Z" fill="rgb(104,104,104)"/><circle cx="16.0" cy="80.6" r="1.4" fill="#3e3e3e" stroke="none"/><path d="M23.6 78.0Q25.2 77.2 27.8 78.9Q30.3 80.6 30.3 82.9Q30.4 85.2 26.0 85.1Q21.6 85.0 21.8 82.0Q22.0 78.9 23.6 78.0Z" fill="rgb(104,104,104)"/><path d="M33.3 79.3Q31.3 80.7 31.3 82.8Q31.3 85.0 31.7 85.6Q32.1 86.2 34.8 86.1Q37.5 86.1 38.4 82.8Q39.3 79.5 37.3 78.7Q35.4 77.9 33.3 79.3Z" fill="rgb(123,123,123)"/><path d="M43.2 87.2Q47.2 86.9 47.3 86.5Q47.5 86.1 46.3 82.0Q45.1 77.8 42.6 78.7Q40.1 79.5 39.2 83.0Q38.2 86.5 38.7 87.0Q39.2 87.6 43.2 87.2Z" fill="rgb(111,111,111)"/><circle cx="42.2" cy="84.9" r="1.0" fill="#3e3e3e" stroke="none"/><path d="M52.5 84.6Q48.2 85.8 47.1 81.8Q45.9 77.7 46.1 77.5Q46.2 77.3 50.5 77.7Q54.8 78.1 55.4 78.6Q56.0 79.1 56.4 81.3Q56.7 83.5 52.5 84.6Z" fill="rgb(115,115,115)"/><path d="M77.0 86.7Q77.3 86.2 76.7 81.5Q76.1 76.9 74.6 76.3Q73.0 75.7 71.1 77.4Q69.3 79.1 68.9 81.7Q68.6 84.3 68.9 84.7Q69.1 85.1 72.9 86.1Q76.6 87.1 77.0 86.7Z" fill="rgb(122,122,122)"/><path d="M8.7 95.1Q5.7 93.5 6.7 90.6Q7.7 87.7 10.2 87.3Q12.7 86.9 12.8 86.9Q12.9 87.0 13.4 91.0Q14.0 95.0 12.8 95.8Q11.7 96.7 8.7 95.1Z" fill="rgb(107,107,107)"/><circle cx="11.0" cy="92.7" r="0.8" fill="#3e3e3e" stroke="none"/><path d="M16.3 95.1Q18.1 95.3 19.9 93.5Q21.7 91.7 20.9 89.2Q20.1 86.7 16.7 86.8Q13.4 86.9 14.0 90.9Q14.5 94.9 16.3 95.1Z" fill="rgb(104,104,104)"/><path d="M38.6 90.3Q38.5 88.2 38.0 87.8Q37.6 87.3 34.8 87.3Q32.0 87.3 30.9 90.7Q29.9 94.2 30.0 94.4Q30.1 94.7 33.1 95.2Q36.0 95.6 37.4 94.0Q38.7 92.4 38.6 90.3Z" fill="rgb(128,128,128)"/><path d="M47.7 94.0Q48.6 93.2 47.9 90.3Q47.2 87.4 43.2 87.7Q39.3 88.1 39.4 90.2Q39.5 92.4 43.1 93.6Q46.7 94.9 47.7 94.0Z" fill="rgb(122,122,122)"/><path d="M72.6 87.0Q76.4 88.0 77.0 90.2Q77.6 92.3 75.0 94.0Q72.4 95.6 69.5 95.0Q66.6 94.3 67.7 90.2Q68.8 86.0 72.6 87.0Z" fill="rgb(109,109,109)"/><circle cx="71.3" cy="91.1" r="1.1" fill="#3e3e3e" stroke="none"/><path d="M42.9 94.2Q46.3 95.4 45.7 97.4Q45.0 99.4 42.3 100.2Q39.6 101.0 38.2 98.6Q36.8 96.2 38.1 94.6Q39.5 93.0 42.9 94.2Z" fill="rgb(113,113,113)"/><path d="M96.1 0.4Q95.1 3.3 93.1 4.3Q91.2 5.3 89.5 4.2Q87.7 3.1 88.0 -0.4Q88.2 -4.0 91.5 -4.3Q94.7 -4.7 95.9 -3.6Q97.1 -2.5 96.1 0.4Z" fill="rgb(111,111,111)"/><circle cx="91.8" cy="-0.8" r="1.5" fill="#3e3e3e" stroke="none"/><path d="M95.9 86.4Q94.7 85.3 91.5 85.7Q88.2 86.0 88.0 89.6Q87.7 93.1 89.5 94.2Q91.2 95.3 93.1 94.3Q95.1 93.3 96.1 90.4Q97.1 87.5 95.9 86.4Z" fill="rgb(111,111,111)"/><circle cx="91.8" cy="89.2" r="1.5" fill="#3e3e3e" stroke="none"/><path d="M98.5 5.5Q101.6 7.1 101.3 9.5Q101.0 11.8 97.8 12.6Q94.5 13.4 93.2 12.5Q91.8 11.5 91.6 8.8Q91.4 6.0 93.4 4.9Q95.4 3.9 98.5 5.5Z" fill="rgb(127,127,127)"/><path d="M86.4 20.9Q84.6 20.2 85.8 17.5Q86.9 14.8 89.2 13.4Q91.4 12.1 92.8 13.0Q94.1 14.0 94.4 16.2Q94.8 18.5 91.5 20.1Q88.3 21.7 86.4 20.9Z" fill="rgb(106,106,106)"/><circle cx="91.2" cy="18.4" r="1.3" fill="#3e3e3e" stroke="none"/><path d="M93.6 27.0Q95.4 27.6 96.9 26.4Q98.3 25.1 98.4 24.1Q98.5 23.1 96.7 21.0Q94.8 19.0 91.7 20.5Q88.6 22.0 90.2 24.2Q91.8 26.4 93.6 27.0Z" fill="rgb(112,112,112)"/><path d="M95.1 44.9Q94.8 45.1 92.4 43.5Q90.1 41.8 89.8 39.4Q89.5 36.9 92.4 35.2Q95.3 33.5 97.1 35.3Q98.9 37.2 97.2 41.0Q95.4 44.8 95.1 44.9Z" fill="rgb(120,120,120)"/><path d="M93.1 60.5Q95.3 61.3 97.1 60.6Q98.9 59.9 98.7 57.6Q98.6 55.3 96.4 52.5Q94.2 49.7 92.2 51.4Q90.2 53.1 90.6 56.4Q90.9 59.7 93.1 60.5Z" fill="rgb(125,125,125)"/><circle cx="95.0" cy="56.4" r="1.5" fill="#3e3e3e" stroke="none"/><path d="M92.9 61.3Q95.1 62.1 94.5 65.7Q93.9 69.3 91.6 70.6Q89.2 71.9 87.1 70.2Q85.0 68.5 85.1 65.8Q85.1 63.1 87.9 61.8Q90.6 60.5 92.9 61.3Z" fill="rgb(109,109,109)"/><circle cx="91.2" cy="65.7" r="1.5" fill="#3e3e3e" stroke="none"/><path d="M85.8 81.7Q85.8 80.8 87.7 78.5Q89.5 76.1 92.1 77.7Q94.8 79.3 94.7 82.0Q94.6 84.7 91.4 85.0Q88.2 85.4 87.0 84.0Q85.8 82.7 85.8 81.7Z" fill="rgb(128,128,128)"/></g></pattern><filter id="nz" x="0" y="0" width="100%" height="100%" color-interpolation-filters="sRGB"><feTurbulence type="fractalNoise" baseFrequency="1.1" numOctaves="2" seed="7"/><feColorMatrix type="matrix" values="1.6 0 0 0 -0.3  1.6 0 0 0 -0.3  1.6 0 0 0 -0.3  0 0 0 0 1"/></filter></defs>
<text x="3.40" y="17.90" font-size="22.4" font-weight="bold" fill="#000">A</text>
<text x="139.80" y="20.50" font-size="17.4" text-anchor="middle" fill="#000">LPS + ATP</text>
<line x1="17.50" y1="28.70" x2="261.30" y2="28.70" stroke="#000" stroke-width="1.6" stroke-linecap="butt"/>
<text x="58.50" y="59.60" font-size="17" text-anchor="middle">WT</text>
<text x="139.70" y="59.60" font-size="17" text-anchor="middle"><tspan font-style="italic">Irf1</tspan><tspan font-style="italic" font-size="11.9" dy="-6.12">–/–</tspan></text>
<text x="221.10" y="59.60" font-size="17" text-anchor="middle"><tspan font-style="italic">Nlrp3</tspan><tspan font-style="italic" font-size="11.9" dy="-6.12">–/–</tspan></text>
<svg x="19.20" y="66.90" width="78.60" height="78.20"><g transform="scale(1.0)"><rect width="78.60" height="78.20" fill="url(#tx1)" transform="translate(-12.1,-76.3)" x="12.1" y="76.3"/></g><rect width="78.60" height="78.20" filter="url(#nz)" opacity="0.14"/></svg>
<svg x="100.40" y="66.90" width="78.60" height="78.20"><g transform="scale(1.0)"><rect width="78.60" height="78.20" fill="url(#tx2)" transform="translate(-86.0,-85.3)" x="86.0" y="85.3"/></g><rect width="78.60" height="78.20" filter="url(#nz)" opacity="0.14"/></svg>
<svg x="181.80" y="66.90" width="78.60" height="78.20"><g transform="scale(1.0)"><rect width="78.60" height="78.20" fill="url(#tx3)" transform="translate(-21.4,-49.0)" x="21.4" y="49.0"/></g><rect width="78.60" height="78.20" filter="url(#nz)" opacity="0.14"/></svg>
<svg x="19.20" y="147.90" width="78.60" height="78.20"><g transform="scale(1.0)"><rect width="78.60" height="78.20" fill="url(#tx4)" transform="translate(-21.2,-9.3)" x="21.2" y="9.3"/></g><rect width="78.60" height="78.20" filter="url(#nz)" opacity="0.14"/><circle cx="14.6" cy="0.7" r="3.35" fill="#ff0d0d"/><circle cx="14.6" cy="0.7" r="0.95" fill="#b07070"/><circle cx="23.0" cy="0.4" r="3.35" fill="#ff0d0d"/><circle cx="23.0" cy="0.4" r="0.95" fill="#b07070"/><circle cx="28.8" cy="0.2" r="3.35" fill="#ff0d0d"/><circle cx="28.8" cy="0.2" r="0.95" fill="#b07070"/><circle cx="41.9" cy="1.3" r="3.35" fill="#ff0d0d"/><circle cx="41.9" cy="1.3" r="0.95" fill="#b07070"/><circle cx="59.2" cy="1.3" r="3.35" fill="#ff0d0d"/><circle cx="59.2" cy="1.3" r="0.95" fill="#b07070"/><circle cx="36.1" cy="6.5" r="3.35" fill="#ff0d0d"/><circle cx="36.1" cy="6.5" r="0.95" fill="#b07070"/><circle cx="46.1" cy="5.5" r="3.35" fill="#ff0d0d"/><circle cx="46.1" cy="5.5" r="0.95" fill="#b07070"/><circle cx="47.7" cy="11.2" r="3.35" fill="#ff0d0d"/><circle cx="47.7" cy="11.2" r="0.95" fill="#b07070"/><circle cx="62.9" cy="8.1" r="3.35" fill="#ff0d0d"/><circle cx="62.9" cy="8.1" r="0.95" fill="#b07070"/><circle cx="74.5" cy="9.7" r="3.35" fill="#ff0d0d"/><circle cx="74.5" cy="9.7" r="0.95" fill="#b07070"/><circle cx="77.1" cy="12.3" r="3.35" fill="#ff0d0d"/><circle cx="77.1" cy="12.3" r="0.95" fill="#b07070"/><circle cx="38.7" cy="12.8" r="3.35" fill="#ff0d0d"/><circle cx="38.7" cy="12.8" r="0.95" fill="#b07070"/><circle cx="34.0" cy="15.4" r="3.35" fill="#ff0d0d"/><circle cx="34.0" cy="15.4" r="0.95" fill="#b07070"/><circle cx="54.5" cy="17.0" r="3.35" fill="#ff0d0d"/><circle cx="54.5" cy="17.0" r="0.95" fill="#b07070"/><circle cx="50.8" cy="20.2" r="3.35" fill="#ff0d0d"/><circle cx="50.8" cy="20.2" r="0.95" fill="#b07070"/><circle cx="64.0" cy="22.3" r="3.35" fill="#ff0d0d"/><circle cx="64.0" cy="22.3" r="0.95" fill="#b07070"/><circle cx="2.0" cy="21.2" r="3.35" fill="#ff0d0d"/><circle cx="2.0" cy="21.2" r="0.95" fill="#b07070"/><circle cx="8.3" cy="22.8" r="3.35" fill="#ff0d0d"/><circle cx="8.3" cy="22.8" r="0.95" fill="#b07070"/><circle cx="19.3" cy="21.2" r="3.35" fill="#ff0d0d"/><circle cx="19.3" cy="21.2" r="0.95" fill="#b07070"/><circle cx="69.2" cy="28.1" r="3.35" fill="#ff0d0d"/><circle cx="69.2" cy="28.1" r="0.95" fill="#b07070"/><circle cx="74.0" cy="26.5" r="3.35" fill="#ff0d0d"/><circle cx="74.0" cy="26.5" r="0.95" fill="#b07070"/><circle cx="74.5" cy="32.3" r="3.35" fill="#ff0d0d"/><circle cx="74.5" cy="32.3" r="0.95" fill="#b07070"/><circle cx="49.8" cy="31.7" r="3.35" fill="#ff0d0d"/><circle cx="49.8" cy="31.7" r="0.95" fill="#b07070"/><circle cx="52.9" cy="37.0" r="3.35" fill="#ff0d0d"/><circle cx="52.9" cy="37.0" r="0.95" fill="#b07070"/><circle cx="23.5" cy="33.3" r="3.35" fill="#ff0d0d"/><circle cx="23.5" cy="33.3" r="0.95" fill="#b07070"/><circle cx="19.3" cy="37.0" r="3.35" fill="#ff0d0d"/><circle cx="19.3" cy="37.0" r="0.95" fill="#b07070"/><circle cx="18.8" cy="39.6" r="3.35" fill="#ff0d0d"/><circle cx="18.8" cy="39.6" r="0.95" fill="#b07070"/><circle cx="10.4" cy="38.6" r="3.35" fill="#ff0d0d"/><circle cx="10.4" cy="38.6" r="0.95" fill="#b07070"/><circle cx="34.5" cy="38.0" r="3.35" fill="#ff0d0d"/><circle cx="34.5" cy="38.0" r="0.95" fill="#b07070"/><circle cx="37.2" cy="37.5" r="3.35" fill="#ff0d0d"/><circle cx="37.2" cy="37.5" r="0.95" fill="#b07070"/><circle cx="43.5" cy="38.6" r="3.35" fill="#ff0d0d"/><circle cx="43.5" cy="38.6" r="0.95" fill="#b07070"/><circle cx="74.0" cy="38.6" r="3.35" fill="#ff0d0d"/><circle cx="74.0" cy="38.6" r="0.95" fill="#b07070"/><circle cx="77.1" cy="43.3" r="3.35" fill="#ff0d0d"/><circle cx="77.1" cy="43.3" r="0.95" fill="#b07070"/><circle cx="26.7" cy="43.3" r="3.35" fill="#ff0d0d"/><circle cx="26.7" cy="43.3" r="0.95" fill="#b07070"/><circle cx="23.5" cy="47.0" r="3.35" fill="#ff0d0d"/><circle cx="23.5" cy="47.0" r="0.95" fill="#b07070"/><circle cx="10.4" cy="49.6" r="3.35" fill="#ff0d0d"/><circle cx="10.4" cy="49.6" r="0.95" fill="#b07070"/><circle cx="11.2" cy="55.7" r="3.35" fill="#ff0d0d"/><circle cx="11.2" cy="55.7" r="0.95" fill="#b07070"/><circle cx="17.5" cy="53.8" r="3.35" fill="#ff0d0d"/><circle cx="17.5" cy="53.8" r="0.95" fill="#b07070"/><circle cx="30.9" cy="52.8" r="3.35" fill="#ff0d0d"/><circle cx="30.9" cy="52.8" r="0.95" fill="#b07070"/><circle cx="42.4" cy="54.9" r="3.35" fill="#ff0d0d"/><circle cx="42.4" cy="54.9" r="0.95" fill="#b07070"/><circle cx="52.9" cy="48.6" r="3.35" fill="#ff0d0d"/><circle cx="52.9" cy="48.6" r="0.95" fill="#b07070"/><circle cx="67.7" cy="51.7" r="3.35" fill="#ff0d0d"/><circle cx="67.7" cy="51.7" r="0.95" fill="#b07070"/><circle cx="72.4" cy="57.0" r="3.35" fill="#ff0d0d"/><circle cx="72.4" cy="57.0" r="0.95" fill="#b07070"/><circle cx="72.9" cy="60.1" r="3.35" fill="#ff0d0d"/><circle cx="72.9" cy="60.1" r="0.95" fill="#b07070"/><circle cx="77.6" cy="55.4" r="3.35" fill="#ff0d0d"/><circle cx="77.6" cy="55.4" r="0.95" fill="#b07070"/><circle cx="0.9" cy="63.3" r="3.35" fill="#ff0d0d"/><circle cx="0.9" cy="63.3" r="0.95" fill="#b07070"/><circle cx="22.5" cy="65.4" r="3.35" fill="#ff0d0d"/><circle cx="22.5" cy="65.4" r="0.95" fill="#b07070"/><circle cx="26.7" cy="70.1" r="3.35" fill="#ff0d0d"/><circle cx="26.7" cy="70.1" r="0.95" fill="#b07070"/><circle cx="30.3" cy="63.8" r="3.35" fill="#ff0d0d"/><circle cx="30.3" cy="63.8" r="0.95" fill="#b07070"/><circle cx="34.0" cy="67.5" r="3.35" fill="#ff0d0d"/><circle cx="34.0" cy="67.5" r="0.95" fill="#b07070"/><circle cx="46.1" cy="65.9" r="3.35" fill="#ff0d0d"/><circle cx="46.1" cy="65.9" r="0.95" fill="#b07070"/><circle cx="53.5" cy="64.9" r="3.35" fill="#ff0d0d"/><circle cx="53.5" cy="64.9" r="0.95" fill="#b07070"/><circle cx="53.5" cy="68.5" r="3.35" fill="#ff0d0d"/><circle cx="53.5" cy="68.5" r="0.95" fill="#b07070"/><circle cx="16.1" cy="71.7" r="3.35" fill="#ff0d0d"/><circle cx="16.1" cy="71.7" r="0.95" fill="#b07070"/><circle cx="10.9" cy="74.3" r="3.35" fill="#ff0d0d"/><circle cx="10.9" cy="74.3" r="0.95" fill="#b07070"/><circle cx="35.1" cy="73.8" r="3.35" fill="#ff0d0d"/><circle cx="35.1" cy="73.8" r="0.95" fill="#b07070"/><circle cx="37.7" cy="75.9" r="3.35" fill="#ff0d0d"/><circle cx="37.7" cy="75.9" r="0.95" fill="#b07070"/><circle cx="64.0" cy="72.2" r="3.35" fill="#ff0d0d"/><circle cx="64.0" cy="72.2" r="0.95" fill="#b07070"/><circle cx="67.7" cy="71.7" r="3.35" fill="#ff0d0d"/><circle cx="67.7" cy="71.7" r="0.95" fill="#b07070"/><circle cx="6.7" cy="78.0" r="3.35" fill="#ff0d0d"/><circle cx="6.7" cy="78.0" r="0.95" fill="#b07070"/><circle cx="17.2" cy="77.5" r="3.35" fill="#ff0d0d"/><circle cx="17.2" cy="77.5" r="0.95" fill="#b07070"/></svg>
<svg x="100.40" y="147.90" width="78.60" height="78.20"><g transform="scale(1.0)"><rect width="78.60" height="78.20" fill="url(#tx5)" transform="translate(-56.1,-66.8)" x="56.1" y="66.8"/></g><rect width="78.60" height="78.20" filter="url(#nz)" opacity="0.14"/><circle cx="10.2" cy="1.8" r="3.35" fill="#ff0d0d"/><circle cx="10.2" cy="1.8" r="0.95" fill="#b07070"/><circle cx="14.9" cy="1.8" r="3.35" fill="#ff0d0d"/><circle cx="14.9" cy="1.8" r="0.95" fill="#b07070"/><circle cx="47.5" cy="0.7" r="3.35" fill="#ff0d0d"/><circle cx="47.5" cy="0.7" r="0.95" fill="#b07070"/><circle cx="55.9" cy="1.3" r="3.35" fill="#ff0d0d"/><circle cx="55.9" cy="1.3" r="0.95" fill="#b07070"/><circle cx="57.5" cy="3.9" r="3.35" fill="#ff0d0d"/><circle cx="57.5" cy="3.9" r="0.95" fill="#b07070"/><circle cx="1.8" cy="9.1" r="3.35" fill="#ff0d0d"/><circle cx="1.8" cy="9.1" r="0.95" fill="#b07070"/><circle cx="7.0" cy="8.1" r="3.35" fill="#ff0d0d"/><circle cx="7.0" cy="8.1" r="0.95" fill="#b07070"/><circle cx="12.3" cy="11.2" r="3.35" fill="#ff0d0d"/><circle cx="12.3" cy="11.2" r="0.95" fill="#b07070"/><circle cx="27.5" cy="6.0" r="3.35" fill="#ff0d0d"/><circle cx="27.5" cy="6.0" r="0.95" fill="#b07070"/><circle cx="36.4" cy="7.0" r="3.35" fill="#ff0d0d"/><circle cx="36.4" cy="7.0" r="0.95" fill="#b07070"/><circle cx="40.1" cy="12.8" r="3.35" fill="#ff0d0d"/><circle cx="40.1" cy="12.8" r="0.95" fill="#b07070"/><circle cx="0.7" cy="17.5" r="3.35" fill="#ff0d0d"/><circle cx="0.7" cy="17.5" r="0.95" fill="#b07070"/><circle cx="20.7" cy="19.1" r="3.35" fill="#ff0d0d"/><circle cx="20.7" cy="19.1" r="0.95" fill="#b07070"/><circle cx="27.0" cy="21.8" r="3.35" fill="#ff0d0d"/><circle cx="27.0" cy="21.8" r="0.95" fill="#b07070"/><circle cx="16.5" cy="24.4" r="3.35" fill="#ff0d0d"/><circle cx="16.5" cy="24.4" r="0.95" fill="#b07070"/><circle cx="22.8" cy="26.0" r="3.35" fill="#ff0d0d"/><circle cx="22.8" cy="26.0" r="0.95" fill="#b07070"/><circle cx="0.7" cy="24.4" r="3.35" fill="#ff0d0d"/><circle cx="0.7" cy="24.4" r="0.95" fill="#b07070"/><circle cx="51.2" cy="19.1" r="3.35" fill="#ff0d0d"/><circle cx="51.2" cy="19.1" r="0.95" fill="#b07070"/><circle cx="54.3" cy="13.3" r="3.35" fill="#ff0d0d"/><circle cx="54.3" cy="13.3" r="0.95" fill="#b07070"/><circle cx="58.0" cy="16.5" r="3.35" fill="#ff0d0d"/><circle cx="58.0" cy="16.5" r="0.95" fill="#b07070"/><circle cx="60.1" cy="22.3" r="3.35" fill="#ff0d0d"/><circle cx="60.1" cy="22.3" r="0.95" fill="#b07070"/><circle cx="39.6" cy="26.0" r="3.35" fill="#ff0d0d"/><circle cx="39.6" cy="26.0" r="0.95" fill="#b07070"/><circle cx="32.8" cy="30.2" r="3.35" fill="#ff0d0d"/><circle cx="32.8" cy="30.2" r="0.95" fill="#b07070"/><circle cx="11.2" cy="30.7" r="3.35" fill="#ff0d0d"/><circle cx="11.2" cy="30.7" r="0.95" fill="#b07070"/><circle cx="19.6" cy="32.3" r="3.35" fill="#ff0d0d"/><circle cx="19.6" cy="32.3" r="0.95" fill="#b07070"/><circle cx="15.4" cy="35.9" r="3.35" fill="#ff0d0d"/><circle cx="15.4" cy="35.9" r="0.95" fill="#b07070"/><circle cx="2.8" cy="35.4" r="3.35" fill="#ff0d0d"/><circle cx="2.8" cy="35.4" r="0.95" fill="#b07070"/><circle cx="70.1" cy="14.9" r="3.35" fill="#ff0d0d"/><circle cx="70.1" cy="14.9" r="0.95" fill="#b07070"/><circle cx="75.9" cy="17.5" r="3.35" fill="#ff0d0d"/><circle cx="75.9" cy="17.5" r="0.95" fill="#b07070"/><circle cx="72.2" cy="29.6" r="3.35" fill="#ff0d0d"/><circle cx="72.2" cy="29.6" r="0.95" fill="#b07070"/><circle cx="64.3" cy="38.0" r="3.35" fill="#ff0d0d"/><circle cx="64.3" cy="38.0" r="0.95" fill="#b07070"/><circle cx="76.9" cy="39.6" r="3.35" fill="#ff0d0d"/><circle cx="76.9" cy="39.6" r="0.95" fill="#b07070"/><circle cx="27.5" cy="39.6" r="3.35" fill="#ff0d0d"/><circle cx="27.5" cy="39.6" r="0.95" fill="#b07070"/><circle cx="52.2" cy="43.3" r="3.35" fill="#ff0d0d"/><circle cx="52.2" cy="43.3" r="0.95" fill="#b07070"/><circle cx="0.7" cy="42.3" r="3.35" fill="#ff0d0d"/><circle cx="0.7" cy="42.3" r="0.95" fill="#b07070"/><circle cx="31.7" cy="48.0" r="3.35" fill="#ff0d0d"/><circle cx="31.7" cy="48.0" r="0.95" fill="#b07070"/><circle cx="14.9" cy="50.7" r="3.35" fill="#ff0d0d"/><circle cx="14.9" cy="50.7" r="0.95" fill="#b07070"/><circle cx="34.9" cy="55.9" r="3.35" fill="#ff0d0d"/><circle cx="34.9" cy="55.9" r="0.95" fill="#b07070"/><circle cx="41.7" cy="55.4" r="3.35" fill="#ff0d0d"/><circle cx="41.7" cy="55.4" r="0.95" fill="#b07070"/><circle cx="47.5" cy="57.0" r="3.35" fill="#ff0d0d"/><circle cx="47.5" cy="57.0" r="0.95" fill="#b07070"/><circle cx="54.8" cy="57.5" r="3.35" fill="#ff0d0d"/><circle cx="54.8" cy="57.5" r="0.95" fill="#b07070"/><circle cx="69.6" cy="54.9" r="3.35" fill="#ff0d0d"/><circle cx="69.6" cy="54.9" r="0.95" fill="#b07070"/><circle cx="72.7" cy="61.7" r="3.35" fill="#ff0d0d"/><circle cx="72.7" cy="61.7" r="0.95" fill="#b07070"/><circle cx="77.4" cy="62.2" r="3.35" fill="#ff0d0d"/><circle cx="77.4" cy="62.2" r="0.95" fill="#b07070"/><circle cx="0.7" cy="55.4" r="3.35" fill="#ff0d0d"/><circle cx="0.7" cy="55.4" r="0.95" fill="#b07070"/><circle cx="0.7" cy="62.2" r="3.35" fill="#ff0d0d"/><circle cx="0.7" cy="62.2" r="0.95" fill="#b07070"/><circle cx="6.0" cy="63.8" r="3.35" fill="#ff0d0d"/><circle cx="6.0" cy="63.8" r="0.95" fill="#b07070"/><circle cx="2.3" cy="66.4" r="3.35" fill="#ff0d0d"/><circle cx="2.3" cy="66.4" r="0.95" fill="#b07070"/><circle cx="19.1" cy="65.9" r="3.35" fill="#ff0d0d"/><circle cx="19.1" cy="65.9" r="0.95" fill="#b07070"/><circle cx="48.0" cy="67.5" r="3.35" fill="#ff0d0d"/><circle cx="48.0" cy="67.5" r="0.95" fill="#b07070"/><circle cx="67.5" cy="67.5" r="3.35" fill="#ff0d0d"/><circle cx="67.5" cy="67.5" r="0.95" fill="#b07070"/><circle cx="6.5" cy="71.7" r="3.35" fill="#ff0d0d"/><circle cx="6.5" cy="71.7" r="0.95" fill="#b07070"/><circle cx="24.4" cy="73.3" r="3.35" fill="#ff0d0d"/><circle cx="24.4" cy="73.3" r="0.95" fill="#b07070"/><circle cx="54.8" cy="70.6" r="3.35" fill="#ff0d0d"/><circle cx="54.8" cy="70.6" r="0.95" fill="#b07070"/><circle cx="59.0" cy="73.3" r="3.35" fill="#ff0d0d"/><circle cx="59.0" cy="73.3" r="0.95" fill="#b07070"/><circle cx="34.9" cy="76.4" r="3.35" fill="#ff0d0d"/><circle cx="34.9" cy="76.4" r="0.95" fill="#b07070"/><circle cx="49.1" cy="76.4" r="3.35" fill="#ff0d0d"/><circle cx="49.1" cy="76.4" r="0.95" fill="#b07070"/><circle cx="18.0" cy="78.0" r="3.35" fill="#ff0d0d"/><circle cx="18.0" cy="78.0" r="0.95" fill="#b07070"/><circle cx="70.1" cy="78.0" r="3.35" fill="#ff0d0d"/><circle cx="70.1" cy="78.0" r="0.95" fill="#b07070"/></svg>
<svg x="181.80" y="147.90" width="78.60" height="78.20"><g transform="scale(1.0)"><rect width="78.60" height="78.20" fill="url(#tx0)" transform="translate(-71.4,-74.0)" x="71.4" y="74.0"/></g><rect width="78.60" height="78.20" filter="url(#nz)" opacity="0.14"/></svg>
<text x="0" y="0" font-size="17" text-anchor="middle" transform="translate(6.50,105.40) rotate(-90)" dominant-baseline="central">0 h</text>
<text x="0" y="0" font-size="17" text-anchor="middle" transform="translate(6.50,186.40) rotate(-90)" dominant-baseline="central">1 h</text>
<rect x="227.40" y="216.00" width="24.80" height="3.20" fill="#fff"/>
<text x="3.70" y="281.90" font-size="22.4" font-weight="bold" fill="#000">D</text>
<text x="139.60" y="282.50" font-size="16.8" text-anchor="middle" fill="#000">LPS transfection</text>
<line x1="17.30" y1="289.40" x2="261.30" y2="289.40" stroke="#000" stroke-width="1.6" stroke-linecap="butt"/>
<text x="58.50" y="311.50" font-size="17" text-anchor="middle">WT</text>
<text x="139.70" y="311.50" font-size="17" text-anchor="middle"><tspan font-style="italic">Irf1</tspan><tspan font-style="italic" font-size="11.9" dy="-6.12">–/–</tspan></text>
<text x="221.10" y="311.50" font-size="17" text-anchor="middle"><tspan font-style="italic">Casp11</tspan><tspan font-style="italic" font-size="11.9" dy="-6.12">–/–</tspan></text>
<svg x="19.20" y="314.50" width="78.60" height="78.60"><g transform="scale(0.95)"><rect width="82.74" height="82.74" fill="url(#tx1)" transform="translate(-29.1,-13.6)" x="29.1" y="13.6"/></g><rect width="78.60" height="78.60" filter="url(#nz)" opacity="0.14"/></svg>
<svg x="100.40" y="314.50" width="78.60" height="78.60"><g transform="scale(0.95)"><rect width="82.74" height="82.74" fill="url(#tx2)" transform="translate(-20.4,-86.6)" x="20.4" y="86.6"/></g><rect width="78.60" height="78.60" filter="url(#nz)" opacity="0.14"/></svg>
<svg x="181.80" y="314.50" width="78.60" height="78.60"><g transform="scale(0.95)"><rect width="82.74" height="82.74" fill="url(#tx3)" transform="translate(-41.7,-33.6)" x="41.7" y="33.6"/></g><rect width="78.60" height="78.60" filter="url(#nz)" opacity="0.14"/></svg>
<svg x="19.20" y="397.40" width="78.60" height="78.60"><g transform="scale(0.95)"><rect width="82.74" height="82.74" fill="url(#tx4)" transform="translate(-51.4,-38.6)" x="51.4" y="38.6"/></g><rect width="78.60" height="78.60" filter="url(#nz)" opacity="0.14"/><rect width="78.60" height="78.60" fill="#000" opacity="0.06"/><circle cx="5.1" cy="3.3" r="3.0" fill="#ff0d0d"/><circle cx="5.1" cy="3.3" r="0.6" fill="#c05858"/><circle cx="10.4" cy="1.8" r="3.0" fill="#ff0d0d"/><circle cx="10.4" cy="1.8" r="0.6" fill="#c05858"/><circle cx="29.3" cy="1.8" r="3.0" fill="#ff0d0d"/><circle cx="29.3" cy="1.8" r="0.6" fill="#c05858"/><circle cx="51.4" cy="1.8" r="3.0" fill="#ff0d0d"/><circle cx="51.4" cy="1.8" r="0.6" fill="#c05858"/><circle cx="59.8" cy="2.8" r="3.0" fill="#ff0d0d"/><circle cx="59.8" cy="2.8" r="0.6" fill="#c05858"/><circle cx="72.4" cy="2.8" r="3.0" fill="#ff0d0d"/><circle cx="72.4" cy="2.8" r="0.6" fill="#c05858"/><circle cx="74.5" cy="5.4" r="3.0" fill="#ff0d0d"/><circle cx="74.5" cy="5.4" r="0.6" fill="#c05858"/><circle cx="6.2" cy="8.1" r="3.0" fill="#ff0d0d"/><circle cx="6.2" cy="8.1" r="0.6" fill="#c05858"/><circle cx="15.6" cy="7.0" r="3.0" fill="#ff0d0d"/><circle cx="15.6" cy="7.0" r="0.6" fill="#c05858"/><circle cx="21.4" cy="6.0" r="3.0" fill="#ff0d0d"/><circle cx="21.4" cy="6.0" r="0.6" fill="#c05858"/><circle cx="26.7" cy="6.0" r="3.0" fill="#ff0d0d"/><circle cx="26.7" cy="6.0" r="0.6" fill="#c05858"/><circle cx="55.6" cy="6.5" r="3.0" fill="#ff0d0d"/><circle cx="55.6" cy="6.5" r="0.6" fill="#c05858"/><circle cx="54.5" cy="11.7" r="3.0" fill="#ff0d0d"/><circle cx="54.5" cy="11.7" r="0.6" fill="#c05858"/><circle cx="59.8" cy="14.4" r="3.0" fill="#ff0d0d"/><circle cx="59.8" cy="14.4" r="0.6" fill="#c05858"/><circle cx="70.3" cy="11.7" r="3.0" fill="#ff0d0d"/><circle cx="70.3" cy="11.7" r="0.6" fill="#c05858"/><circle cx="72.4" cy="14.9" r="3.0" fill="#ff0d0d"/><circle cx="72.4" cy="14.9" r="0.6" fill="#c05858"/><circle cx="11.4" cy="13.3" r="3.0" fill="#ff0d0d"/><circle cx="11.4" cy="13.3" r="0.6" fill="#c05858"/><circle cx="0.9" cy="18.6" r="3.0" fill="#ff0d0d"/><circle cx="0.9" cy="18.6" r="0.6" fill="#c05858"/><circle cx="20.4" cy="19.1" r="3.0" fill="#ff0d0d"/><circle cx="20.4" cy="19.1" r="0.6" fill="#c05858"/><circle cx="26.1" cy="15.9" r="3.0" fill="#ff0d0d"/><circle cx="26.1" cy="15.9" r="0.6" fill="#c05858"/><circle cx="31.4" cy="14.9" r="3.0" fill="#ff0d0d"/><circle cx="31.4" cy="14.9" r="0.6" fill="#c05858"/><circle cx="36.1" cy="13.3" r="3.0" fill="#ff0d0d"/><circle cx="36.1" cy="13.3" r="0.6" fill="#c05858"/><circle cx="31.9" cy="20.7" r="3.0" fill="#ff0d0d"/><circle cx="31.9" cy="20.7" r="0.6" fill="#c05858"/><circle cx="26.1" cy="22.3" r="3.0" fill="#ff0d0d"/><circle cx="26.1" cy="22.3" r="0.6" fill="#c05858"/><circle cx="59.8" cy="19.6" r="3.0" fill="#ff0d0d"/><circle cx="59.8" cy="19.6" r="0.6" fill="#c05858"/><circle cx="8.3" cy="23.8" r="3.0" fill="#ff0d0d"/><circle cx="8.3" cy="23.8" r="0.6" fill="#c05858"/><circle cx="16.1" cy="23.8" r="3.0" fill="#ff0d0d"/><circle cx="16.1" cy="23.8" r="0.6" fill="#c05858"/><circle cx="13.5" cy="27.0" r="3.0" fill="#ff0d0d"/><circle cx="13.5" cy="27.0" r="0.6" fill="#c05858"/><circle cx="15.6" cy="30.1" r="3.0" fill="#ff0d0d"/><circle cx="15.6" cy="30.1" r="0.6" fill="#c05858"/><circle cx="10.4" cy="31.7" r="3.0" fill="#ff0d0d"/><circle cx="10.4" cy="31.7" r="0.6" fill="#c05858"/><circle cx="23.0" cy="29.1" r="3.0" fill="#ff0d0d"/><circle cx="23.0" cy="29.1" r="0.6" fill="#c05858"/><circle cx="28.2" cy="33.3" r="3.0" fill="#ff0d0d"/><circle cx="28.2" cy="33.3" r="0.6" fill="#c05858"/><circle cx="38.7" cy="30.1" r="3.0" fill="#ff0d0d"/><circle cx="38.7" cy="30.1" r="0.6" fill="#c05858"/><circle cx="49.3" cy="21.2" r="3.0" fill="#ff0d0d"/><circle cx="49.3" cy="21.2" r="0.6" fill="#c05858"/><circle cx="51.4" cy="25.9" r="3.0" fill="#ff0d0d"/><circle cx="51.4" cy="25.9" r="0.6" fill="#c05858"/><circle cx="46.1" cy="28.0" r="3.0" fill="#ff0d0d"/><circle cx="46.1" cy="28.0" r="0.6" fill="#c05858"/><circle cx="52.9" cy="30.1" r="3.0" fill="#ff0d0d"/><circle cx="52.9" cy="30.1" r="0.6" fill="#c05858"/><circle cx="59.8" cy="32.2" r="3.0" fill="#ff0d0d"/><circle cx="59.8" cy="32.2" r="0.6" fill="#c05858"/><circle cx="65.0" cy="24.9" r="3.0" fill="#ff0d0d"/><circle cx="65.0" cy="24.9" r="0.6" fill="#c05858"/><circle cx="68.2" cy="27.5" r="3.0" fill="#ff0d0d"/><circle cx="68.2" cy="27.5" r="0.6" fill="#c05858"/><circle cx="74.0" cy="29.1" r="3.0" fill="#ff0d0d"/><circle cx="74.0" cy="29.1" r="0.6" fill="#c05858"/><circle cx="74.5" cy="27.0" r="3.0" fill="#ff0d0d"/><circle cx="74.5" cy="27.0" r="0.6" fill="#c05858"/><circle cx="67.7" cy="34.9" r="3.0" fill="#ff0d0d"/><circle cx="67.7" cy="34.9" r="0.6" fill="#c05858"/><circle cx="18.8" cy="35.9" r="3.0" fill="#ff0d0d"/><circle cx="18.8" cy="35.9" r="0.6" fill="#c05858"/><circle cx="23.5" cy="35.4" r="3.0" fill="#ff0d0d"/><circle cx="23.5" cy="35.4" r="0.6" fill="#c05858"/><circle cx="13.0" cy="39.6" r="3.0" fill="#ff0d0d"/><circle cx="13.0" cy="39.6" r="0.6" fill="#c05858"/><circle cx="34.0" cy="34.3" r="3.0" fill="#ff0d0d"/><circle cx="34.0" cy="34.3" r="0.6" fill="#c05858"/><circle cx="36.6" cy="38.0" r="3.0" fill="#ff0d0d"/><circle cx="36.6" cy="38.0" r="0.6" fill="#c05858"/><circle cx="39.3" cy="39.1" r="3.0" fill="#ff0d0d"/><circle cx="39.3" cy="39.1" r="0.6" fill="#c05858"/><circle cx="36.1" cy="42.8" r="3.0" fill="#ff0d0d"/><circle cx="36.1" cy="42.8" r="0.6" fill="#c05858"/><circle cx="35.6" cy="45.4" r="3.0" fill="#ff0d0d"/><circle cx="35.6" cy="45.4" r="0.6" fill="#c05858"/><circle cx="48.2" cy="37.0" r="3.0" fill="#ff0d0d"/><circle cx="48.2" cy="37.0" r="0.6" fill="#c05858"/><circle cx="44.0" cy="41.7" r="3.0" fill="#ff0d0d"/><circle cx="44.0" cy="41.7" r="0.6" fill="#c05858"/><circle cx="49.3" cy="42.8" r="3.0" fill="#ff0d0d"/><circle cx="49.3" cy="42.8" r="0.6" fill="#c05858"/><circle cx="52.4" cy="41.7" r="3.0" fill="#ff0d0d"/><circle cx="52.4" cy="41.7" r="0.6" fill="#c05858"/><circle cx="54.5" cy="44.9" r="3.0" fill="#ff0d0d"/><circle cx="54.5" cy="44.9" r="0.6" fill="#c05858"/><circle cx="47.2" cy="47.5" r="3.0" fill="#ff0d0d"/><circle cx="47.2" cy="47.5" r="0.6" fill="#c05858"/><circle cx="0.9" cy="37.5" r="3.0" fill="#ff0d0d"/><circle cx="0.9" cy="37.5" r="0.6" fill="#c05858"/><circle cx="17.2" cy="44.9" r="3.0" fill="#ff0d0d"/><circle cx="17.2" cy="44.9" r="0.6" fill="#c05858"/><circle cx="20.4" cy="41.2" r="3.0" fill="#ff0d0d"/><circle cx="20.4" cy="41.2" r="0.6" fill="#c05858"/><circle cx="24.0" cy="44.9" r="3.0" fill="#ff0d0d"/><circle cx="24.0" cy="44.9" r="0.6" fill="#c05858"/><circle cx="23.0" cy="49.1" r="3.0" fill="#ff0d0d"/><circle cx="23.0" cy="49.1" r="0.6" fill="#c05858"/><circle cx="63.5" cy="44.3" r="3.0" fill="#ff0d0d"/><circle cx="63.5" cy="44.3" r="0.6" fill="#c05858"/><circle cx="71.3" cy="44.3" r="3.0" fill="#ff0d0d"/><circle cx="71.3" cy="44.3" r="0.6" fill="#c05858"/><circle cx="58.7" cy="50.1" r="3.0" fill="#ff0d0d"/><circle cx="58.7" cy="50.1" r="0.6" fill="#c05858"/><circle cx="61.9" cy="56.4" r="3.0" fill="#ff0d0d"/><circle cx="61.9" cy="56.4" r="0.6" fill="#c05858"/><circle cx="70.3" cy="50.1" r="3.0" fill="#ff0d0d"/><circle cx="70.3" cy="50.1" r="0.6" fill="#c05858"/><circle cx="70.3" cy="55.4" r="3.0" fill="#ff0d0d"/><circle cx="70.3" cy="55.4" r="0.6" fill="#c05858"/><circle cx="3.0" cy="47.0" r="3.0" fill="#ff0d0d"/><circle cx="3.0" cy="47.0" r="0.6" fill="#c05858"/><circle cx="11.4" cy="51.2" r="3.0" fill="#ff0d0d"/><circle cx="11.4" cy="51.2" r="0.6" fill="#c05858"/><circle cx="29.3" cy="51.2" r="3.0" fill="#ff0d0d"/><circle cx="29.3" cy="51.2" r="0.6" fill="#c05858"/><circle cx="29.8" cy="54.3" r="3.0" fill="#ff0d0d"/><circle cx="29.8" cy="54.3" r="0.6" fill="#c05858"/><circle cx="41.9" cy="55.4" r="3.0" fill="#ff0d0d"/><circle cx="41.9" cy="55.4" r="0.6" fill="#c05858"/><circle cx="41.9" cy="58.0" r="3.0" fill="#ff0d0d"/><circle cx="41.9" cy="58.0" r="0.6" fill="#c05858"/><circle cx="52.9" cy="59.6" r="3.0" fill="#ff0d0d"/><circle cx="52.9" cy="59.6" r="0.6" fill="#c05858"/><circle cx="34.5" cy="58.5" r="3.0" fill="#ff0d0d"/><circle cx="34.5" cy="58.5" r="0.6" fill="#c05858"/><circle cx="2.5" cy="59.6" r="3.0" fill="#ff0d0d"/><circle cx="2.5" cy="59.6" r="0.6" fill="#c05858"/><circle cx="10.4" cy="59.0" r="3.0" fill="#ff0d0d"/><circle cx="10.4" cy="59.0" r="0.6" fill="#c05858"/><circle cx="17.7" cy="57.5" r="3.0" fill="#ff0d0d"/><circle cx="17.7" cy="57.5" r="0.6" fill="#c05858"/><circle cx="21.4" cy="60.6" r="3.0" fill="#ff0d0d"/><circle cx="21.4" cy="60.6" r="0.6" fill="#c05858"/><circle cx="25.1" cy="61.7" r="3.0" fill="#ff0d0d"/><circle cx="25.1" cy="61.7" r="0.6" fill="#c05858"/><circle cx="31.4" cy="62.7" r="3.0" fill="#ff0d0d"/><circle cx="31.4" cy="62.7" r="0.6" fill="#c05858"/><circle cx="14.0" cy="61.7" r="3.0" fill="#ff0d0d"/><circle cx="14.0" cy="61.7" r="0.6" fill="#c05858"/><circle cx="25.1" cy="64.8" r="3.0" fill="#ff0d0d"/><circle cx="25.1" cy="64.8" r="0.6" fill="#c05858"/><circle cx="74.5" cy="60.6" r="3.0" fill="#ff0d0d"/><circle cx="74.5" cy="60.6" r="0.6" fill="#c05858"/><circle cx="71.3" cy="64.8" r="3.0" fill="#ff0d0d"/><circle cx="71.3" cy="64.8" r="0.6" fill="#c05858"/><circle cx="3.0" cy="65.9" r="3.0" fill="#ff0d0d"/><circle cx="3.0" cy="65.9" r="0.6" fill="#c05858"/><circle cx="8.3" cy="68.5" r="3.0" fill="#ff0d0d"/><circle cx="8.3" cy="68.5" r="0.6" fill="#c05858"/><circle cx="19.8" cy="68.0" r="3.0" fill="#ff0d0d"/><circle cx="19.8" cy="68.0" r="0.6" fill="#c05858"/><circle cx="40.9" cy="65.9" r="3.0" fill="#ff0d0d"/><circle cx="40.9" cy="65.9" r="0.6" fill="#c05858"/><circle cx="45.6" cy="63.8" r="3.0" fill="#ff0d0d"/><circle cx="45.6" cy="63.8" r="0.6" fill="#c05858"/><circle cx="53.5" cy="66.4" r="3.0" fill="#ff0d0d"/><circle cx="53.5" cy="66.4" r="0.6" fill="#c05858"/><circle cx="36.6" cy="71.1" r="3.0" fill="#ff0d0d"/><circle cx="36.6" cy="71.1" r="0.6" fill="#c05858"/><circle cx="43.0" cy="71.1" r="3.0" fill="#ff0d0d"/><circle cx="43.0" cy="71.1" r="0.6" fill="#c05858"/><circle cx="55.0" cy="73.2" r="3.0" fill="#ff0d0d"/><circle cx="55.0" cy="73.2" r="0.6" fill="#c05858"/><circle cx="76.1" cy="72.2" r="3.0" fill="#ff0d0d"/><circle cx="76.1" cy="72.2" r="0.6" fill="#c05858"/><circle cx="19.3" cy="77.4" r="3.0" fill="#ff0d0d"/><circle cx="19.3" cy="77.4" r="0.6" fill="#c05858"/><circle cx="27.2" cy="75.9" r="3.0" fill="#ff0d0d"/><circle cx="27.2" cy="75.9" r="0.6" fill="#c05858"/><circle cx="33.0" cy="77.4" r="3.0" fill="#ff0d0d"/><circle cx="33.0" cy="77.4" r="0.6" fill="#c05858"/><circle cx="46.1" cy="76.4" r="3.0" fill="#ff0d0d"/><circle cx="46.1" cy="76.4" r="0.6" fill="#c05858"/><circle cx="72.4" cy="76.4" r="3.0" fill="#ff0d0d"/><circle cx="72.4" cy="76.4" r="0.6" fill="#c05858"/></svg>
<svg x="100.40" y="397.40" width="78.60" height="78.60"><g transform="scale(0.95)"><rect width="82.74" height="82.74" fill="url(#tx5)" transform="translate(-40.7,-50.4)" x="40.7" y="50.4"/></g><rect width="78.60" height="78.60" filter="url(#nz)" opacity="0.14"/><rect width="78.60" height="78.60" fill="#000" opacity="0.06"/><circle cx="7.5" cy="4.4" r="3.0" fill="#ff0d0d"/><circle cx="7.5" cy="4.4" r="0.6" fill="#c05858"/><circle cx="17.5" cy="3.3" r="3.0" fill="#ff0d0d"/><circle cx="17.5" cy="3.3" r="0.6" fill="#c05858"/><circle cx="20.7" cy="7.5" r="3.0" fill="#ff0d0d"/><circle cx="20.7" cy="7.5" r="0.6" fill="#c05858"/><circle cx="28.0" cy="3.3" r="3.0" fill="#ff0d0d"/><circle cx="28.0" cy="3.3" r="0.6" fill="#c05858"/><circle cx="37.0" cy="1.8" r="3.0" fill="#ff0d0d"/><circle cx="37.0" cy="1.8" r="0.6" fill="#c05858"/><circle cx="51.2" cy="8.1" r="3.0" fill="#ff0d0d"/><circle cx="51.2" cy="8.1" r="0.6" fill="#c05858"/><circle cx="0.7" cy="13.3" r="3.0" fill="#ff0d0d"/><circle cx="0.7" cy="13.3" r="0.6" fill="#c05858"/><circle cx="25.9" cy="15.9" r="3.0" fill="#ff0d0d"/><circle cx="25.9" cy="15.9" r="0.6" fill="#c05858"/><circle cx="32.2" cy="12.8" r="3.0" fill="#ff0d0d"/><circle cx="32.2" cy="12.8" r="0.6" fill="#c05858"/><circle cx="35.4" cy="13.3" r="3.0" fill="#ff0d0d"/><circle cx="35.4" cy="13.3" r="0.6" fill="#c05858"/><circle cx="47.5" cy="17.5" r="3.0" fill="#ff0d0d"/><circle cx="47.5" cy="17.5" r="0.6" fill="#c05858"/><circle cx="60.6" cy="14.9" r="3.0" fill="#ff0d0d"/><circle cx="60.6" cy="14.9" r="0.6" fill="#c05858"/><circle cx="64.3" cy="19.1" r="3.0" fill="#ff0d0d"/><circle cx="64.3" cy="19.1" r="0.6" fill="#c05858"/><circle cx="72.2" cy="13.3" r="3.0" fill="#ff0d0d"/><circle cx="72.2" cy="13.3" r="0.6" fill="#c05858"/><circle cx="72.7" cy="19.6" r="3.0" fill="#ff0d0d"/><circle cx="72.7" cy="19.6" r="0.6" fill="#c05858"/><circle cx="76.4" cy="19.6" r="3.0" fill="#ff0d0d"/><circle cx="76.4" cy="19.6" r="0.6" fill="#c05858"/><circle cx="71.1" cy="24.4" r="3.0" fill="#ff0d0d"/><circle cx="71.1" cy="24.4" r="0.6" fill="#c05858"/><circle cx="60.6" cy="23.8" r="3.0" fill="#ff0d0d"/><circle cx="60.6" cy="23.8" r="0.6" fill="#c05858"/><circle cx="21.2" cy="20.7" r="3.0" fill="#ff0d0d"/><circle cx="21.2" cy="20.7" r="0.6" fill="#c05858"/><circle cx="28.0" cy="21.2" r="3.0" fill="#ff0d0d"/><circle cx="28.0" cy="21.2" r="0.6" fill="#c05858"/><circle cx="32.2" cy="18.0" r="3.0" fill="#ff0d0d"/><circle cx="32.2" cy="18.0" r="0.6" fill="#c05858"/><circle cx="33.8" cy="23.8" r="3.0" fill="#ff0d0d"/><circle cx="33.8" cy="23.8" r="0.6" fill="#c05858"/><circle cx="38.5" cy="21.7" r="3.0" fill="#ff0d0d"/><circle cx="38.5" cy="21.7" r="0.6" fill="#c05858"/><circle cx="42.8" cy="22.3" r="3.0" fill="#ff0d0d"/><circle cx="42.8" cy="22.3" r="0.6" fill="#c05858"/><circle cx="46.4" cy="25.9" r="3.0" fill="#ff0d0d"/><circle cx="46.4" cy="25.9" r="0.6" fill="#c05858"/><circle cx="51.2" cy="27.0" r="3.0" fill="#ff0d0d"/><circle cx="51.2" cy="27.0" r="0.6" fill="#c05858"/><circle cx="34.9" cy="28.6" r="3.0" fill="#ff0d0d"/><circle cx="34.9" cy="28.6" r="0.6" fill="#c05858"/><circle cx="38.5" cy="30.7" r="3.0" fill="#ff0d0d"/><circle cx="38.5" cy="30.7" r="0.6" fill="#c05858"/><circle cx="41.7" cy="32.2" r="3.0" fill="#ff0d0d"/><circle cx="41.7" cy="32.2" r="0.6" fill="#c05858"/><circle cx="44.9" cy="30.1" r="3.0" fill="#ff0d0d"/><circle cx="44.9" cy="30.1" r="0.6" fill="#c05858"/><circle cx="40.7" cy="27.0" r="3.0" fill="#ff0d0d"/><circle cx="40.7" cy="27.0" r="0.6" fill="#c05858"/><circle cx="36.4" cy="25.9" r="3.0" fill="#ff0d0d"/><circle cx="36.4" cy="25.9" r="0.6" fill="#c05858"/><circle cx="32.2" cy="27.0" r="3.0" fill="#ff0d0d"/><circle cx="32.2" cy="27.0" r="0.6" fill="#c05858"/><circle cx="8.6" cy="27.0" r="3.0" fill="#ff0d0d"/><circle cx="8.6" cy="27.0" r="0.6" fill="#c05858"/><circle cx="0.7" cy="29.1" r="3.0" fill="#ff0d0d"/><circle cx="0.7" cy="29.1" r="0.6" fill="#c05858"/><circle cx="7.0" cy="34.9" r="3.0" fill="#ff0d0d"/><circle cx="7.0" cy="34.9" r="0.6" fill="#c05858"/><circle cx="12.3" cy="34.3" r="3.0" fill="#ff0d0d"/><circle cx="12.3" cy="34.3" r="0.6" fill="#c05858"/><circle cx="13.8" cy="38.0" r="3.0" fill="#ff0d0d"/><circle cx="13.8" cy="38.0" r="0.6" fill="#c05858"/><circle cx="4.9" cy="40.7" r="3.0" fill="#ff0d0d"/><circle cx="4.9" cy="40.7" r="0.6" fill="#c05858"/><circle cx="10.2" cy="43.8" r="3.0" fill="#ff0d0d"/><circle cx="10.2" cy="43.8" r="0.6" fill="#c05858"/><circle cx="17.0" cy="41.7" r="3.0" fill="#ff0d0d"/><circle cx="17.0" cy="41.7" r="0.6" fill="#c05858"/><circle cx="23.8" cy="38.0" r="3.0" fill="#ff0d0d"/><circle cx="23.8" cy="38.0" r="0.6" fill="#c05858"/><circle cx="25.9" cy="43.8" r="3.0" fill="#ff0d0d"/><circle cx="25.9" cy="43.8" r="0.6" fill="#c05858"/><circle cx="31.2" cy="39.6" r="3.0" fill="#ff0d0d"/><circle cx="31.2" cy="39.6" r="0.6" fill="#c05858"/><circle cx="34.3" cy="42.8" r="3.0" fill="#ff0d0d"/><circle cx="34.3" cy="42.8" r="0.6" fill="#c05858"/><circle cx="35.9" cy="45.9" r="3.0" fill="#ff0d0d"/><circle cx="35.9" cy="45.9" r="0.6" fill="#c05858"/><circle cx="41.2" cy="41.2" r="3.0" fill="#ff0d0d"/><circle cx="41.2" cy="41.2" r="0.6" fill="#c05858"/><circle cx="45.9" cy="38.5" r="3.0" fill="#ff0d0d"/><circle cx="45.9" cy="38.5" r="0.6" fill="#c05858"/><circle cx="51.2" cy="37.5" r="3.0" fill="#ff0d0d"/><circle cx="51.2" cy="37.5" r="0.6" fill="#c05858"/><circle cx="47.0" cy="43.8" r="3.0" fill="#ff0d0d"/><circle cx="47.0" cy="43.8" r="0.6" fill="#c05858"/><circle cx="53.3" cy="42.8" r="3.0" fill="#ff0d0d"/><circle cx="53.3" cy="42.8" r="0.6" fill="#c05858"/><circle cx="47.0" cy="48.0" r="3.0" fill="#ff0d0d"/><circle cx="47.0" cy="48.0" r="0.6" fill="#c05858"/><circle cx="51.2" cy="49.1" r="3.0" fill="#ff0d0d"/><circle cx="51.2" cy="49.1" r="0.6" fill="#c05858"/><circle cx="49.1" cy="53.3" r="3.0" fill="#ff0d0d"/><circle cx="49.1" cy="53.3" r="0.6" fill="#c05858"/><circle cx="45.9" cy="54.3" r="3.0" fill="#ff0d0d"/><circle cx="45.9" cy="54.3" r="0.6" fill="#c05858"/><circle cx="59.0" cy="47.0" r="3.0" fill="#ff0d0d"/><circle cx="59.0" cy="47.0" r="0.6" fill="#c05858"/><circle cx="60.6" cy="52.7" r="3.0" fill="#ff0d0d"/><circle cx="60.6" cy="52.7" r="0.6" fill="#c05858"/><circle cx="53.8" cy="57.5" r="3.0" fill="#ff0d0d"/><circle cx="53.8" cy="57.5" r="0.6" fill="#c05858"/><circle cx="52.7" cy="61.2" r="3.0" fill="#ff0d0d"/><circle cx="52.7" cy="61.2" r="0.6" fill="#c05858"/><circle cx="55.9" cy="56.4" r="3.0" fill="#ff0d0d"/><circle cx="55.9" cy="56.4" r="0.6" fill="#c05858"/><circle cx="0.7" cy="48.0" r="3.0" fill="#ff0d0d"/><circle cx="0.7" cy="48.0" r="0.6" fill="#c05858"/><circle cx="4.9" cy="48.0" r="3.0" fill="#ff0d0d"/><circle cx="4.9" cy="48.0" r="0.6" fill="#c05858"/><circle cx="8.6" cy="49.6" r="3.0" fill="#ff0d0d"/><circle cx="8.6" cy="49.6" r="0.6" fill="#c05858"/><circle cx="14.4" cy="47.0" r="3.0" fill="#ff0d0d"/><circle cx="14.4" cy="47.0" r="0.6" fill="#c05858"/><circle cx="15.4" cy="50.6" r="3.0" fill="#ff0d0d"/><circle cx="15.4" cy="50.6" r="0.6" fill="#c05858"/><circle cx="9.1" cy="53.8" r="3.0" fill="#ff0d0d"/><circle cx="9.1" cy="53.8" r="0.6" fill="#c05858"/><circle cx="18.6" cy="54.3" r="3.0" fill="#ff0d0d"/><circle cx="18.6" cy="54.3" r="0.6" fill="#c05858"/><circle cx="22.3" cy="49.6" r="3.0" fill="#ff0d0d"/><circle cx="22.3" cy="49.6" r="0.6" fill="#c05858"/><circle cx="28.6" cy="49.1" r="3.0" fill="#ff0d0d"/><circle cx="28.6" cy="49.1" r="0.6" fill="#c05858"/><circle cx="28.0" cy="53.3" r="3.0" fill="#ff0d0d"/><circle cx="28.0" cy="53.3" r="0.6" fill="#c05858"/><circle cx="37.0" cy="53.8" r="3.0" fill="#ff0d0d"/><circle cx="37.0" cy="53.8" r="0.6" fill="#c05858"/><circle cx="71.1" cy="37.0" r="3.0" fill="#ff0d0d"/><circle cx="71.1" cy="37.0" r="0.6" fill="#c05858"/><circle cx="70.1" cy="40.7" r="3.0" fill="#ff0d0d"/><circle cx="70.1" cy="40.7" r="0.6" fill="#c05858"/><circle cx="68.0" cy="45.9" r="3.0" fill="#ff0d0d"/><circle cx="68.0" cy="45.9" r="0.6" fill="#c05858"/><circle cx="75.3" cy="51.2" r="3.0" fill="#ff0d0d"/><circle cx="75.3" cy="51.2" r="0.6" fill="#c05858"/><circle cx="41.2" cy="59.6" r="3.0" fill="#ff0d0d"/><circle cx="41.2" cy="59.6" r="0.6" fill="#c05858"/><circle cx="18.6" cy="63.8" r="3.0" fill="#ff0d0d"/><circle cx="18.6" cy="63.8" r="0.6" fill="#c05858"/><circle cx="22.3" cy="68.5" r="3.0" fill="#ff0d0d"/><circle cx="22.3" cy="68.5" r="0.6" fill="#c05858"/><circle cx="42.2" cy="66.4" r="3.0" fill="#ff0d0d"/><circle cx="42.2" cy="66.4" r="0.6" fill="#c05858"/><circle cx="46.4" cy="69.6" r="3.0" fill="#ff0d0d"/><circle cx="46.4" cy="69.6" r="0.6" fill="#c05858"/><circle cx="76.4" cy="62.7" r="3.0" fill="#ff0d0d"/><circle cx="76.4" cy="62.7" r="0.6" fill="#c05858"/><circle cx="65.4" cy="68.5" r="3.0" fill="#ff0d0d"/><circle cx="65.4" cy="68.5" r="0.6" fill="#c05858"/><circle cx="7.0" cy="68.5" r="3.0" fill="#ff0d0d"/><circle cx="7.0" cy="68.5" r="0.6" fill="#c05858"/><circle cx="12.3" cy="72.2" r="3.0" fill="#ff0d0d"/><circle cx="12.3" cy="72.2" r="0.6" fill="#c05858"/><circle cx="6.0" cy="73.2" r="3.0" fill="#ff0d0d"/><circle cx="6.0" cy="73.2" r="0.6" fill="#c05858"/><circle cx="2.8" cy="76.4" r="3.0" fill="#ff0d0d"/><circle cx="2.8" cy="76.4" r="0.6" fill="#c05858"/><circle cx="32.2" cy="70.1" r="3.0" fill="#ff0d0d"/><circle cx="32.2" cy="70.1" r="0.6" fill="#c05858"/><circle cx="31.2" cy="74.3" r="3.0" fill="#ff0d0d"/><circle cx="31.2" cy="74.3" r="0.6" fill="#c05858"/><circle cx="36.4" cy="75.9" r="3.0" fill="#ff0d0d"/><circle cx="36.4" cy="75.9" r="0.6" fill="#c05858"/><circle cx="41.7" cy="76.4" r="3.0" fill="#ff0d0d"/><circle cx="41.7" cy="76.4" r="0.6" fill="#c05858"/><circle cx="63.8" cy="76.4" r="3.0" fill="#ff0d0d"/><circle cx="63.8" cy="76.4" r="0.6" fill="#c05858"/><circle cx="72.2" cy="73.2" r="3.0" fill="#ff0d0d"/><circle cx="72.2" cy="73.2" r="0.6" fill="#c05858"/><circle cx="75.9" cy="72.2" r="3.0" fill="#ff0d0d"/><circle cx="75.9" cy="72.2" r="0.6" fill="#c05858"/><circle cx="69.0" cy="76.9" r="3.0" fill="#ff0d0d"/><circle cx="69.0" cy="76.9" r="0.6" fill="#c05858"/></svg>
<svg x="181.80" y="397.40" width="78.60" height="78.60"><g transform="scale(0.95)"><rect width="82.74" height="82.74" fill="url(#tx0)" transform="translate(-42.7,-59.2)" x="42.7" y="59.2"/></g><rect width="78.60" height="78.60" filter="url(#nz)" opacity="0.14"/><rect width="78.60" height="78.60" fill="#fff" opacity="0.06"/><circle cx="32.8" cy="32.3" r="3.0" fill="#ff0d0d"/><circle cx="32.8" cy="32.3" r="0.6" fill="#c05858"/><rect x="0.5" y="0.5" width="77.60" height="77.60" fill="none" stroke="#7a7a7a" stroke-width="1"/></svg>
<text x="0" y="0" font-size="17" text-anchor="middle" transform="translate(6.50,353.20) rotate(-90)" dominant-baseline="central">0 h</text>
<text x="0" y="0" font-size="17" text-anchor="middle" transform="translate(6.50,436.10) rotate(-90)" dominant-baseline="central">6 h</text>
<rect x="227.50" y="466.60" width="24.80" height="3.20" fill="#fff"/>
<text x="3.70" y="551.40" font-size="22.4" font-weight="bold" fill="#000">G</text>
<text x="142.90" y="550.50" font-size="16.9" text-anchor="middle" fill="#000">Poly(dA:dT) transfection</text>
<line x1="17.30" y1="559.00" x2="263.00" y2="559.00" stroke="#000" stroke-width="1.6" stroke-linecap="butt"/>
<text x="58.50" y="587.30" font-size="17" text-anchor="middle">WT</text>
<text x="139.70" y="587.30" font-size="17" text-anchor="middle"><tspan font-style="italic">Irf1</tspan><tspan font-style="italic" font-size="11.9" dy="-6.12">–/–</tspan></text>
<text x="221.10" y="587.30" font-size="17" text-anchor="middle"><tspan font-style="italic">Aim2</tspan><tspan font-style="italic" font-size="11.9" dy="-6.12">–/–</tspan></text>
<svg x="19.20" y="591.80" width="78.60" height="78.60"><g transform="scale(0.82)"><rect width="95.85" height="95.85" fill="url(#tx1)" transform="translate(-23.3,-61.7)" x="23.3" y="61.7"/></g><rect width="78.60" height="78.60" filter="url(#nz)" opacity="0.14"/></svg>
<svg x="100.40" y="591.80" width="78.60" height="78.60"><g transform="scale(0.82)"><rect width="95.85" height="95.85" fill="url(#tx2)" transform="translate(-9.6,-63.2)" x="9.6" y="63.2"/></g><rect width="78.60" height="78.60" filter="url(#nz)" opacity="0.14"/></svg>
<svg x="181.80" y="591.80" width="78.60" height="78.60"><g transform="scale(0.82)"><rect width="95.85" height="95.85" fill="url(#tx3)" transform="translate(-86.9,-1.0)" x="86.9" y="1.0"/></g><rect width="78.60" height="78.60" filter="url(#nz)" opacity="0.14"/></svg>
<svg x="19.20" y="673.90" width="78.60" height="78.60"><g transform="scale(0.82)"><rect width="95.85" height="95.85" fill="url(#tx4)" transform="translate(-32.5,-43.2)" x="32.5" y="43.2"/></g><rect width="78.60" height="78.60" filter="url(#nz)" opacity="0.14"/><circle cx="17.2" cy="4.4" r="2.8" fill="#ff0d0d"/><circle cx="54.5" cy="0.7" r="2.8" fill="#ff0d0d"/><circle cx="67.7" cy="1.8" r="2.8" fill="#ff0d0d"/><circle cx="69.2" cy="6.5" r="2.8" fill="#ff0d0d"/><circle cx="72.4" cy="7.0" r="2.8" fill="#ff0d0d"/><circle cx="77.1" cy="0.7" r="2.8" fill="#ff0d0d"/><circle cx="36.1" cy="9.7" r="2.8" fill="#ff0d0d"/><circle cx="59.8" cy="8.6" r="2.8" fill="#ff0d0d"/><circle cx="56.1" cy="12.3" r="2.8" fill="#ff0d0d"/><circle cx="0.9" cy="11.8" r="2.8" fill="#ff0d0d"/><circle cx="43.5" cy="15.4" r="2.8" fill="#ff0d0d"/><circle cx="49.8" cy="14.4" r="2.8" fill="#ff0d0d"/><circle cx="11.9" cy="16.5" r="2.8" fill="#ff0d0d"/><circle cx="4.6" cy="19.7" r="2.8" fill="#ff0d0d"/><circle cx="33.0" cy="18.1" r="2.8" fill="#ff0d0d"/><circle cx="66.6" cy="16.0" r="2.8" fill="#ff0d0d"/><circle cx="0.9" cy="20.2" r="2.8" fill="#ff0d0d"/><circle cx="12.5" cy="23.3" r="2.8" fill="#ff0d0d"/><circle cx="54.5" cy="24.9" r="2.8" fill="#ff0d0d"/><circle cx="69.2" cy="22.3" r="2.8" fill="#ff0d0d"/><circle cx="1.4" cy="27.0" r="2.8" fill="#ff0d0d"/><circle cx="10.9" cy="28.1" r="2.8" fill="#ff0d0d"/><circle cx="67.7" cy="28.1" r="2.8" fill="#ff0d0d"/><circle cx="16.7" cy="32.8" r="2.8" fill="#ff0d0d"/><circle cx="19.3" cy="35.4" r="2.8" fill="#ff0d0d"/><circle cx="31.9" cy="34.9" r="2.8" fill="#ff0d0d"/><circle cx="33.0" cy="38.6" r="2.8" fill="#ff0d0d"/><circle cx="57.1" cy="32.3" r="2.8" fill="#ff0d0d"/><circle cx="49.3" cy="40.7" r="2.8" fill="#ff0d0d"/><circle cx="66.1" cy="39.1" r="2.8" fill="#ff0d0d"/><circle cx="16.1" cy="42.3" r="2.8" fill="#ff0d0d"/><circle cx="25.6" cy="43.3" r="2.8" fill="#ff0d0d"/><circle cx="35.6" cy="44.9" r="2.8" fill="#ff0d0d"/><circle cx="58.7" cy="43.3" r="2.8" fill="#ff0d0d"/><circle cx="70.3" cy="45.4" r="2.8" fill="#ff0d0d"/><circle cx="30.3" cy="50.7" r="2.8" fill="#ff0d0d"/><circle cx="49.3" cy="53.3" r="2.8" fill="#ff0d0d"/><circle cx="57.1" cy="52.2" r="2.8" fill="#ff0d0d"/><circle cx="17.2" cy="58.5" r="2.8" fill="#ff0d0d"/><circle cx="35.1" cy="57.0" r="2.8" fill="#ff0d0d"/><circle cx="24.6" cy="61.2" r="2.8" fill="#ff0d0d"/><circle cx="46.1" cy="59.6" r="2.8" fill="#ff0d0d"/><circle cx="53.5" cy="58.0" r="2.8" fill="#ff0d0d"/><circle cx="66.1" cy="59.1" r="2.8" fill="#ff0d0d"/><circle cx="10.4" cy="62.8" r="2.8" fill="#ff0d0d"/><circle cx="34.0" cy="64.3" r="2.8" fill="#ff0d0d"/><circle cx="43.5" cy="65.4" r="2.8" fill="#ff0d0d"/><circle cx="0.9" cy="64.3" r="2.8" fill="#ff0d0d"/><circle cx="38.2" cy="68.5" r="2.8" fill="#ff0d0d"/><circle cx="23.5" cy="69.6" r="2.8" fill="#ff0d0d"/><circle cx="9.8" cy="71.2" r="2.8" fill="#ff0d0d"/><circle cx="28.8" cy="73.8" r="2.8" fill="#ff0d0d"/><circle cx="51.9" cy="71.7" r="2.8" fill="#ff0d0d"/><circle cx="63.5" cy="74.8" r="2.8" fill="#ff0d0d"/><circle cx="77.1" cy="68.0" r="2.8" fill="#ff0d0d"/><circle cx="2.5" cy="75.9" r="2.8" fill="#ff0d0d"/><circle cx="52.4" cy="76.9" r="2.8" fill="#ff0d0d"/></svg>
<svg x="100.40" y="673.90" width="78.60" height="78.60"><g transform="scale(0.82)"><rect width="95.85" height="95.85" fill="url(#tx5)" transform="translate(-47.0,-72.6)" x="47.0" y="72.6"/></g><rect width="78.60" height="78.60" filter="url(#nz)" opacity="0.14"/><circle cx="10.2" cy="10.7" r="2.8" fill="#ff0d0d"/><circle cx="19.1" cy="9.1" r="2.8" fill="#ff0d0d"/><circle cx="25.4" cy="12.8" r="2.8" fill="#ff0d0d"/><circle cx="50.1" cy="7.6" r="2.8" fill="#ff0d0d"/><circle cx="59.6" cy="4.9" r="2.8" fill="#ff0d0d"/><circle cx="53.3" cy="13.9" r="2.8" fill="#ff0d0d"/><circle cx="23.3" cy="19.1" r="2.8" fill="#ff0d0d"/><circle cx="34.9" cy="18.1" r="2.8" fill="#ff0d0d"/><circle cx="29.1" cy="26.0" r="2.8" fill="#ff0d0d"/><circle cx="25.9" cy="30.7" r="2.8" fill="#ff0d0d"/><circle cx="41.7" cy="24.9" r="2.8" fill="#ff0d0d"/><circle cx="50.1" cy="22.3" r="2.8" fill="#ff0d0d"/><circle cx="61.2" cy="21.8" r="2.8" fill="#ff0d0d"/><circle cx="65.9" cy="24.9" r="2.8" fill="#ff0d0d"/><circle cx="0.7" cy="31.7" r="2.8" fill="#ff0d0d"/><circle cx="4.9" cy="31.7" r="2.8" fill="#ff0d0d"/><circle cx="7.0" cy="37.5" r="2.8" fill="#ff0d0d"/><circle cx="19.1" cy="34.9" r="2.8" fill="#ff0d0d"/><circle cx="61.7" cy="32.3" r="2.8" fill="#ff0d0d"/><circle cx="75.3" cy="32.8" r="2.8" fill="#ff0d0d"/><circle cx="0.7" cy="45.4" r="2.8" fill="#ff0d0d"/><circle cx="32.2" cy="45.4" r="2.8" fill="#ff0d0d"/><circle cx="26.5" cy="50.1" r="2.8" fill="#ff0d0d"/><circle cx="61.2" cy="42.3" r="2.8" fill="#ff0d0d"/><circle cx="49.6" cy="52.8" r="2.8" fill="#ff0d0d"/><circle cx="2.3" cy="57.5" r="2.8" fill="#ff0d0d"/><circle cx="7.5" cy="63.3" r="2.8" fill="#ff0d0d"/><circle cx="23.3" cy="63.3" r="2.8" fill="#ff0d0d"/><circle cx="22.8" cy="69.6" r="2.8" fill="#ff0d0d"/><circle cx="31.2" cy="68.0" r="2.8" fill="#ff0d0d"/><circle cx="36.4" cy="64.3" r="2.8" fill="#ff0d0d"/><circle cx="48.5" cy="64.3" r="2.8" fill="#ff0d0d"/><circle cx="40.7" cy="71.7" r="2.8" fill="#ff0d0d"/><circle cx="55.4" cy="73.8" r="2.8" fill="#ff0d0d"/><circle cx="61.2" cy="72.7" r="2.8" fill="#ff0d0d"/><circle cx="17.0" cy="76.4" r="2.8" fill="#ff0d0d"/></svg>
<svg x="181.80" y="673.90" width="78.60" height="78.60"><g transform="scale(0.82)"><rect width="95.85" height="95.85" fill="url(#tx0)" transform="translate(-16.3,-59.5)" x="16.3" y="59.5"/></g><rect width="78.60" height="78.60" filter="url(#nz)" opacity="0.14"/></svg>
<text x="0" y="0" font-size="17" text-anchor="middle" transform="translate(6.50,630.50) rotate(-90)" dominant-baseline="central">0 h</text>
<text x="0" y="0" font-size="17" text-anchor="middle" transform="translate(6.50,712.60) rotate(-90)" dominant-baseline="central">4 h</text>
<rect x="228.00" y="743.20" width="24.30" height="3.20" fill="#fff"/>
<text x="3.90" y="819.00" font-size="22.4" font-weight="bold" fill="#000">J</text>
<text x="151.00" y="822.40" font-size="16.95" text-anchor="middle" fill="#000">Flagellin transfection</text>
<line x1="29.00" y1="830.00" x2="272.90" y2="830.00" stroke="#000" stroke-width="1.6" stroke-linecap="butt"/>
<text x="69.40" y="853.80" font-size="17" text-anchor="middle">WT</text>
<text x="150.60" y="853.80" font-size="17" text-anchor="middle"><tspan font-style="italic">Irf1</tspan><tspan font-style="italic" font-size="11.9" dy="-6.12">–/–</tspan></text>
<text x="233.10" y="853.80" font-size="17" text-anchor="middle"><tspan font-style="italic">Nlrc4</tspan><tspan font-style="italic" font-size="11.9" dy="-6.12">–/–</tspan></text>
<svg x="29.90" y="860.20" width="79.00" height="78.60"><g transform="scale(0.9)"><rect width="87.78" height="87.33" fill="url(#tx1)" transform="translate(-60.9,-70.6)" x="60.9" y="70.6"/></g><rect width="79.00" height="78.60" filter="url(#nz)" opacity="0.14"/><rect width="79.00" height="78.60" fill="#000" opacity="0.04"/></svg>
<svg x="111.10" y="860.20" width="79.00" height="78.60"><g transform="scale(0.9)"><rect width="87.78" height="87.33" fill="url(#tx2)" transform="translate(-81.5,-61.8)" x="81.5" y="61.8"/></g><rect width="79.00" height="78.60" filter="url(#nz)" opacity="0.14"/><rect width="79.00" height="78.60" fill="#000" opacity="0.04"/></svg>
<svg x="193.60" y="860.20" width="79.00" height="78.60"><g transform="scale(0.9)"><rect width="87.78" height="87.33" fill="url(#tx3)" transform="translate(-14.8,-62.1)" x="14.8" y="62.1"/></g><rect width="79.00" height="78.60" filter="url(#nz)" opacity="0.14"/><rect width="79.00" height="78.60" fill="#000" opacity="0.04"/></svg>
<svg x="29.90" y="942.10" width="79.00" height="78.60"><g transform="scale(0.9)"><rect width="87.78" height="87.33" fill="url(#tx4)" transform="translate(-86.2,-12.6)" x="86.2" y="12.6"/></g><rect width="79.00" height="78.60" filter="url(#nz)" opacity="0.14"/><rect width="79.00" height="78.60" fill="#000" opacity="0.04"/><circle cx="34.9" cy="0.5" r="2.20" fill="#c86060" stroke="#f23a3a" stroke-width="2"/><circle cx="64.9" cy="3.7" r="2.20" fill="#c86060" stroke="#f23a3a" stroke-width="2"/><circle cx="61.2" cy="6.3" r="2.20" fill="#c86060" stroke="#f23a3a" stroke-width="2"/><circle cx="62.8" cy="11.6" r="2.20" fill="#c86060" stroke="#f23a3a" stroke-width="2"/><circle cx="67.5" cy="11.0" r="2.20" fill="#c86060" stroke="#f23a3a" stroke-width="2"/><circle cx="71.7" cy="12.6" r="2.20" fill="#c86060" stroke="#f23a3a" stroke-width="2"/><circle cx="76.4" cy="13.1" r="2.20" fill="#c86060" stroke="#f23a3a" stroke-width="2"/><circle cx="66.4" cy="16.3" r="2.20" fill="#c86060" stroke="#f23a3a" stroke-width="2"/><circle cx="64.9" cy="20.5" r="2.20" fill="#c86060" stroke="#f23a3a" stroke-width="2"/><circle cx="55.4" cy="13.7" r="2.20" fill="#c86060" stroke="#f23a3a" stroke-width="2"/><circle cx="13.9" cy="14.7" r="2.20" fill="#c86060" stroke="#f23a3a" stroke-width="2"/><circle cx="17.0" cy="17.9" r="2.20" fill="#c86060" stroke="#f23a3a" stroke-width="2"/><circle cx="23.3" cy="12.6" r="2.20" fill="#c86060" stroke="#f23a3a" stroke-width="2"/><circle cx="35.4" cy="13.7" r="2.20" fill="#c86060" stroke="#f23a3a" stroke-width="2"/><circle cx="46.5" cy="18.9" r="2.20" fill="#c86060" stroke="#f23a3a" stroke-width="2"/><circle cx="55.4" cy="26.8" r="2.20" fill="#c86060" stroke="#f23a3a" stroke-width="2"/><circle cx="1.8" cy="32.6" r="2.20" fill="#c86060" stroke="#f23a3a" stroke-width="2"/><circle cx="8.6" cy="32.6" r="2.20" fill="#c86060" stroke="#f23a3a" stroke-width="2"/><circle cx="74.8" cy="37.3" r="2.20" fill="#c86060" stroke="#f23a3a" stroke-width="2"/><circle cx="40.7" cy="41.5" r="2.20" fill="#c86060" stroke="#f23a3a" stroke-width="2"/><circle cx="38.0" cy="52.0" r="2.20" fill="#c86060" stroke="#f23a3a" stroke-width="2"/><circle cx="40.2" cy="56.2" r="2.20" fill="#c86060" stroke="#f23a3a" stroke-width="2"/><circle cx="40.2" cy="59.9" r="2.20" fill="#c86060" stroke="#f23a3a" stroke-width="2"/><circle cx="55.9" cy="55.2" r="2.20" fill="#c86060" stroke="#f23a3a" stroke-width="2"/><circle cx="67.5" cy="51.5" r="2.20" fill="#c86060" stroke="#f23a3a" stroke-width="2"/><circle cx="53.8" cy="61.5" r="2.20" fill="#c86060" stroke="#f23a3a" stroke-width="2"/><circle cx="60.7" cy="63.1" r="2.20" fill="#c86060" stroke="#f23a3a" stroke-width="2"/><circle cx="39.6" cy="65.7" r="2.20" fill="#c86060" stroke="#f23a3a" stroke-width="2"/><circle cx="1.8" cy="57.8" r="2.20" fill="#c86060" stroke="#f23a3a" stroke-width="2"/><circle cx="13.3" cy="68.9" r="2.20" fill="#c86060" stroke="#f23a3a" stroke-width="2"/><circle cx="0.2" cy="69.9" r="2.20" fill="#c86060" stroke="#f23a3a" stroke-width="2"/><circle cx="29.1" cy="77.3" r="2.20" fill="#c86060" stroke="#f23a3a" stroke-width="2"/></svg>
<svg x="111.10" y="942.10" width="79.00" height="78.60"><g transform="scale(0.9)"><rect width="87.78" height="87.33" fill="url(#tx5)" transform="translate(-83.2,-85.4)" x="83.2" y="85.4"/></g><rect width="79.00" height="78.60" filter="url(#nz)" opacity="0.14"/><rect width="79.00" height="78.60" fill="#000" opacity="0.04"/><circle cx="8.9" cy="7.9" r="2.20" fill="#c86060" stroke="#f23a3a" stroke-width="2"/><circle cx="14.2" cy="8.9" r="2.20" fill="#c86060" stroke="#f23a3a" stroke-width="2"/><circle cx="36.3" cy="3.7" r="2.20" fill="#c86060" stroke="#f23a3a" stroke-width="2"/><circle cx="37.3" cy="11.0" r="2.20" fill="#c86060" stroke="#f23a3a" stroke-width="2"/><circle cx="12.1" cy="14.2" r="2.20" fill="#c86060" stroke="#f23a3a" stroke-width="2"/><circle cx="13.1" cy="16.8" r="2.20" fill="#c86060" stroke="#f23a3a" stroke-width="2"/><circle cx="8.4" cy="22.6" r="2.20" fill="#c86060" stroke="#f23a3a" stroke-width="2"/><circle cx="11.0" cy="27.3" r="2.20" fill="#c86060" stroke="#f23a3a" stroke-width="2"/><circle cx="23.7" cy="27.3" r="2.20" fill="#c86060" stroke="#f23a3a" stroke-width="2"/><circle cx="37.3" cy="23.1" r="2.20" fill="#c86060" stroke="#f23a3a" stroke-width="2"/><circle cx="72.5" cy="15.2" r="2.20" fill="#c86060" stroke="#f23a3a" stroke-width="2"/><circle cx="7.9" cy="33.6" r="2.20" fill="#c86060" stroke="#f23a3a" stroke-width="2"/><circle cx="6.3" cy="39.4" r="2.20" fill="#c86060" stroke="#f23a3a" stroke-width="2"/><circle cx="63.6" cy="34.7" r="2.20" fill="#c86060" stroke="#f23a3a" stroke-width="2"/><circle cx="75.2" cy="40.0" r="2.20" fill="#c86060" stroke="#f23a3a" stroke-width="2"/><circle cx="34.2" cy="50.5" r="2.20" fill="#c86060" stroke="#f23a3a" stroke-width="2"/><circle cx="7.4" cy="54.7" r="2.20" fill="#c86060" stroke="#f23a3a" stroke-width="2"/><circle cx="21.0" cy="56.8" r="2.20" fill="#c86060" stroke="#f23a3a" stroke-width="2"/><circle cx="10.0" cy="59.9" r="2.20" fill="#c86060" stroke="#f23a3a" stroke-width="2"/><circle cx="14.2" cy="64.7" r="2.20" fill="#c86060" stroke="#f23a3a" stroke-width="2"/><circle cx="24.2" cy="64.1" r="2.20" fill="#c86060" stroke="#f23a3a" stroke-width="2"/><circle cx="31.0" cy="67.3" r="2.20" fill="#c86060" stroke="#f23a3a" stroke-width="2"/><circle cx="41.5" cy="71.5" r="2.20" fill="#c86060" stroke="#f23a3a" stroke-width="2"/><circle cx="72.5" cy="64.7" r="2.20" fill="#c86060" stroke="#f23a3a" stroke-width="2"/><circle cx="76.2" cy="67.8" r="2.20" fill="#c86060" stroke="#f23a3a" stroke-width="2"/><circle cx="0.0" cy="71.5" r="2.20" fill="#c86060" stroke="#f23a3a" stroke-width="2"/><circle cx="14.7" cy="78.3" r="2.20" fill="#c86060" stroke="#f23a3a" stroke-width="2"/></svg>
<svg x="193.60" y="942.10" width="79.00" height="78.60"><g transform="scale(0.9)"><rect width="87.78" height="87.33" fill="url(#tx0)" transform="translate(-64.1,-75.6)" x="64.1" y="75.6"/></g><rect width="79.00" height="78.60" filter="url(#nz)" opacity="0.14"/><rect width="79.00" height="78.60" fill="#000" opacity="0.04"/></svg>
<text x="0" y="0" font-size="17" text-anchor="middle" transform="translate(17.60,897.70) rotate(-90)" dominant-baseline="central">0 h</text>
<text x="0" y="0" font-size="17" text-anchor="middle" transform="translate(17.60,979.60) rotate(-90)" dominant-baseline="central">6 h</text>
<rect x="239.30" y="1009.80" width="23.90" height="3.20" fill="#fff"/>
<text x="303.00" y="17.60" font-size="22.4" font-weight="bold" fill="#000">B</text>
<text x="440.50" y="20.60" font-size="17.4" text-anchor="middle" fill="#000">LPS + ATP</text>
<line x1="347.00" y1="28.50" x2="530.00" y2="28.50" stroke="#000" stroke-width="1.6" stroke-linecap="butt"/>
<line x1="356.90" y1="58.00" x2="356.90" y2="193.85" stroke="#000" stroke-width="2.1" stroke-linecap="butt"/>
<line x1="355.90" y1="192.85" x2="535.20" y2="192.85" stroke="#000" stroke-width="2.1" stroke-linecap="butt"/>
<line x1="347.40" y1="192.85" x2="356.90" y2="192.85" stroke="#000" stroke-width="2.1" stroke-linecap="butt"/>
<text x="346.10" y="198.95" font-size="16.8" text-anchor="end" fill="#000">0</text>
<line x1="347.40" y1="148.17" x2="356.90" y2="148.17" stroke="#000" stroke-width="2.1" stroke-linecap="butt"/>
<text x="346.10" y="154.27" font-size="16.8" text-anchor="end" fill="#000">20</text>
<line x1="347.40" y1="103.48" x2="356.90" y2="103.48" stroke="#000" stroke-width="2.1" stroke-linecap="butt"/>
<text x="346.10" y="109.58" font-size="16.8" text-anchor="end" fill="#000">40</text>
<line x1="347.40" y1="58.80" x2="356.90" y2="58.80" stroke="#000" stroke-width="2.1" stroke-linecap="butt"/>
<text x="346.10" y="64.90" font-size="16.8" text-anchor="end" fill="#000">60</text>
<line x1="365.40" y1="192.85" x2="365.40" y2="199.35" stroke="#000" stroke-width="2.1" stroke-linecap="butt"/>
<text x="365.40" y="216.20" font-size="16.8" text-anchor="middle" fill="#000">0</text>
<line x1="418.73" y1="192.85" x2="418.73" y2="199.35" stroke="#000" stroke-width="2.1" stroke-linecap="butt"/>
<text x="418.73" y="216.20" font-size="16.8" text-anchor="middle" fill="#000">20</text>
<line x1="472.07" y1="192.85" x2="472.07" y2="199.35" stroke="#000" stroke-width="2.1" stroke-linecap="butt"/>
<text x="472.07" y="216.20" font-size="16.8" text-anchor="middle" fill="#000">40</text>
<line x1="525.40" y1="192.85" x2="525.40" y2="199.35" stroke="#000" stroke-width="2.1" stroke-linecap="butt"/>
<text x="525.40" y="216.20" font-size="16.8" text-anchor="middle" fill="#000">60</text>
<text x="446.20" y="233.70" font-size="16.3" text-anchor="middle" fill="#000">Time (min)</text>
<text x="0" y="0" font-size="16.6" text-anchor="middle" transform="translate(317.60,125.50) rotate(-90)">PI<tspan font-size="11.0" dy="-6.5">+</tspan><tspan dy="6.5"> cells (%)/well</tspan></text>
<polyline points="365.40,191.73 418.73,164.92 472.07,100.80 525.40,82.26" fill="none" stroke="#000" stroke-width="2.0" stroke-linejoin="round"/>
<line x1="418.73" y1="156.21" x2="418.73" y2="173.64" stroke="#000" stroke-width="1.9" stroke-linecap="butt"/>
<line x1="414.33" y1="156.21" x2="423.13" y2="156.21" stroke="#000" stroke-width="1.9" stroke-linecap="butt"/>
<line x1="414.33" y1="173.64" x2="423.13" y2="173.64" stroke="#000" stroke-width="1.9" stroke-linecap="butt"/>
<line x1="472.07" y1="89.85" x2="472.07" y2="111.75" stroke="#000" stroke-width="1.9" stroke-linecap="butt"/>
<line x1="467.67" y1="89.85" x2="476.47" y2="89.85" stroke="#000" stroke-width="1.9" stroke-linecap="butt"/>
<line x1="467.67" y1="111.75" x2="476.47" y2="111.75" stroke="#000" stroke-width="1.9" stroke-linecap="butt"/>
<line x1="525.40" y1="71.76" x2="525.40" y2="92.76" stroke="#000" stroke-width="1.9" stroke-linecap="butt"/>
<line x1="521.00" y1="71.76" x2="529.80" y2="71.76" stroke="#000" stroke-width="1.9" stroke-linecap="butt"/>
<line x1="521.00" y1="92.76" x2="529.80" y2="92.76" stroke="#000" stroke-width="1.9" stroke-linecap="butt"/>
<circle cx="365.40" cy="191.73" r="2.9" fill="#000"/>
<circle cx="418.73" cy="164.92" r="2.9" fill="#000"/>
<circle cx="472.07" cy="100.80" r="2.9" fill="#000"/>
<circle cx="525.40" cy="82.26" r="2.9" fill="#000"/>
<polyline points="365.40,191.73 418.73,165.59 472.07,107.95 525.40,93.43" fill="none" stroke="#b01a0c" stroke-width="2.0" stroke-linejoin="round"/>
<line x1="418.73" y1="158.89" x2="418.73" y2="172.30" stroke="#b01a0c" stroke-width="1.9" stroke-linecap="butt"/>
<line x1="414.33" y1="158.89" x2="423.13" y2="158.89" stroke="#b01a0c" stroke-width="1.9" stroke-linecap="butt"/>
<line x1="414.33" y1="172.30" x2="423.13" y2="172.30" stroke="#b01a0c" stroke-width="1.9" stroke-linecap="butt"/>
<line x1="472.07" y1="99.91" x2="472.07" y2="115.99" stroke="#b01a0c" stroke-width="1.9" stroke-linecap="butt"/>
<line x1="467.67" y1="99.91" x2="476.47" y2="99.91" stroke="#b01a0c" stroke-width="1.9" stroke-linecap="butt"/>
<line x1="467.67" y1="115.99" x2="476.47" y2="115.99" stroke="#b01a0c" stroke-width="1.9" stroke-linecap="butt"/>
<line x1="525.40" y1="82.26" x2="525.40" y2="104.60" stroke="#b01a0c" stroke-width="1.9" stroke-linecap="butt"/>
<line x1="521.00" y1="82.26" x2="529.80" y2="82.26" stroke="#b01a0c" stroke-width="1.9" stroke-linecap="butt"/>
<line x1="521.00" y1="104.60" x2="529.80" y2="104.60" stroke="#b01a0c" stroke-width="1.9" stroke-linecap="butt"/>
<circle cx="365.40" cy="191.73" r="2.9" fill="#b01a0c"/>
<circle cx="418.73" cy="165.59" r="2.9" fill="#b01a0c"/>
<circle cx="472.07" cy="107.95" r="2.9" fill="#b01a0c"/>
<circle cx="525.40" cy="93.43" r="2.9" fill="#b01a0c"/>
<polyline points="365.40,191.06 418.73,190.84 472.07,190.84 525.40,190.84" fill="none" stroke="#fdd64a" stroke-width="2.0" stroke-linejoin="round"/>
<circle cx="365.40" cy="191.06" r="3.6" fill="#fdd64a"/>
<circle cx="418.73" cy="190.84" r="3.6" fill="#fdd64a"/>
<circle cx="472.07" cy="190.84" r="3.6" fill="#fdd64a"/>
<circle cx="525.40" cy="190.84" r="3.6" fill="#fdd64a"/>
<rect x="363.30" y="57.90" width="11.80" height="11.10" fill="#000" stroke="#000" stroke-width="2"/>
<text x="378.60" y="69.80" font-size="16.8">WT</text>
<rect x="363.30" y="76.10" width="11.80" height="11.10" fill="#b01a0c" stroke="#000" stroke-width="2"/>
<text x="378.60" y="88.00" font-size="16.8"><tspan font-style="italic">Irf1</tspan><tspan font-style="italic" font-size="11.8" dy="-6.05">–/–</tspan></text>
<rect x="363.30" y="94.30" width="11.80" height="11.10" fill="#fdd84a" stroke="#000" stroke-width="2"/>
<text x="378.60" y="106.20" font-size="16.8"><tspan font-style="italic">Nlrp3</tspan><tspan font-style="italic" font-size="11.8" dy="-6.05">–/–</tspan></text>
<text x="303.00" y="282.70" font-size="22.4" font-weight="bold" fill="#000">E</text>
<text x="434.60" y="282.60" font-size="16.8" text-anchor="middle" fill="#000">LPS transfection</text>
<line x1="347.40" y1="289.40" x2="529.80" y2="289.40" stroke="#000" stroke-width="1.6" stroke-linecap="butt"/>
<line x1="357.70" y1="317.10" x2="357.70" y2="453.00" stroke="#000" stroke-width="2.1" stroke-linecap="butt"/>
<line x1="356.70" y1="452.00" x2="536.20" y2="452.00" stroke="#000" stroke-width="2.1" stroke-linecap="butt"/>
<line x1="348.20" y1="452.00" x2="357.70" y2="452.00" stroke="#000" stroke-width="2.1" stroke-linecap="butt"/>
<text x="346.90" y="458.10" font-size="16.8" text-anchor="end" fill="#000">0</text>
<line x1="348.20" y1="407.30" x2="357.70" y2="407.30" stroke="#000" stroke-width="2.1" stroke-linecap="butt"/>
<text x="346.90" y="413.40" font-size="16.8" text-anchor="end" fill="#000">40</text>
<line x1="348.20" y1="362.60" x2="357.70" y2="362.60" stroke="#000" stroke-width="2.1" stroke-linecap="butt"/>
<text x="346.90" y="368.70" font-size="16.8" text-anchor="end" fill="#000">80</text>
<line x1="348.20" y1="317.90" x2="357.70" y2="317.90" stroke="#000" stroke-width="2.1" stroke-linecap="butt"/>
<text x="346.90" y="324.00" font-size="16.8" text-anchor="end" fill="#000">120</text>
<line x1="364.20" y1="452.00" x2="364.20" y2="458.50" stroke="#000" stroke-width="2.1" stroke-linecap="butt"/>
<text x="364.20" y="475.60" font-size="16.8" text-anchor="middle" fill="#000">0</text>
<line x1="391.68" y1="452.00" x2="391.68" y2="458.50" stroke="#000" stroke-width="2.1" stroke-linecap="butt"/>
<text x="391.68" y="475.60" font-size="16.8" text-anchor="middle" fill="#000">1</text>
<line x1="419.16" y1="452.00" x2="419.16" y2="458.50" stroke="#000" stroke-width="2.1" stroke-linecap="butt"/>
<text x="419.16" y="475.60" font-size="16.8" text-anchor="middle" fill="#000">2</text>
<line x1="446.64" y1="452.00" x2="446.64" y2="458.50" stroke="#000" stroke-width="2.1" stroke-linecap="butt"/>
<text x="446.64" y="475.60" font-size="16.8" text-anchor="middle" fill="#000">3</text>
<line x1="474.12" y1="452.00" x2="474.12" y2="458.50" stroke="#000" stroke-width="2.1" stroke-linecap="butt"/>
<text x="474.12" y="475.60" font-size="16.8" text-anchor="middle" fill="#000">4</text>
<line x1="501.60" y1="452.00" x2="501.60" y2="458.50" stroke="#000" stroke-width="2.1" stroke-linecap="butt"/>
<text x="501.60" y="475.60" font-size="16.8" text-anchor="middle" fill="#000">5</text>
<line x1="529.08" y1="452.00" x2="529.08" y2="458.50" stroke="#000" stroke-width="2.1" stroke-linecap="butt"/>
<text x="529.08" y="475.60" font-size="16.8" text-anchor="middle" fill="#000">6</text>
<text x="447.20" y="495.40" font-size="16.3" text-anchor="middle" fill="#000">Time (h)</text>
<text x="0" y="0" font-size="16.6" text-anchor="middle" transform="translate(313.90,385.70) rotate(-90)">PI<tspan font-size="11.0" dy="-6.5">+</tspan><tspan dy="6.5"> cells (%)/well</tspan></text>
<polyline points="364.20,452.00 391.68,436.91 419.16,389.87 446.64,368.63 474.12,362.94 501.60,357.57 529.08,354.89" fill="none" stroke="#000" stroke-width="2.0" stroke-linejoin="round"/>
<line x1="391.68" y1="431.33" x2="391.68" y2="442.50" stroke="#000" stroke-width="1.9" stroke-linecap="butt"/>
<line x1="387.28" y1="431.33" x2="396.08" y2="431.33" stroke="#000" stroke-width="1.9" stroke-linecap="butt"/>
<line x1="387.28" y1="442.50" x2="396.08" y2="442.50" stroke="#000" stroke-width="1.9" stroke-linecap="butt"/>
<line x1="419.16" y1="377.57" x2="419.16" y2="402.16" stroke="#000" stroke-width="1.9" stroke-linecap="butt"/>
<line x1="414.76" y1="377.57" x2="423.56" y2="377.57" stroke="#000" stroke-width="1.9" stroke-linecap="butt"/>
<line x1="414.76" y1="402.16" x2="423.56" y2="402.16" stroke="#000" stroke-width="1.9" stroke-linecap="butt"/>
<line x1="446.64" y1="357.46" x2="446.64" y2="379.81" stroke="#000" stroke-width="1.9" stroke-linecap="butt"/>
<line x1="442.24" y1="357.46" x2="451.04" y2="357.46" stroke="#000" stroke-width="1.9" stroke-linecap="butt"/>
<line x1="442.24" y1="379.81" x2="451.04" y2="379.81" stroke="#000" stroke-width="1.9" stroke-linecap="butt"/>
<line x1="474.12" y1="350.64" x2="474.12" y2="375.23" stroke="#000" stroke-width="1.9" stroke-linecap="butt"/>
<line x1="469.72" y1="350.64" x2="478.52" y2="350.64" stroke="#000" stroke-width="1.9" stroke-linecap="butt"/>
<line x1="469.72" y1="375.23" x2="478.52" y2="375.23" stroke="#000" stroke-width="1.9" stroke-linecap="butt"/>
<line x1="501.60" y1="345.28" x2="501.60" y2="369.86" stroke="#000" stroke-width="1.9" stroke-linecap="butt"/>
<line x1="497.20" y1="345.28" x2="506.00" y2="345.28" stroke="#000" stroke-width="1.9" stroke-linecap="butt"/>
<line x1="497.20" y1="369.86" x2="506.00" y2="369.86" stroke="#000" stroke-width="1.9" stroke-linecap="butt"/>
<line x1="529.08" y1="341.48" x2="529.08" y2="368.30" stroke="#000" stroke-width="1.9" stroke-linecap="butt"/>
<line x1="524.68" y1="341.48" x2="533.48" y2="341.48" stroke="#000" stroke-width="1.9" stroke-linecap="butt"/>
<line x1="524.68" y1="368.30" x2="533.48" y2="368.30" stroke="#000" stroke-width="1.9" stroke-linecap="butt"/>
<circle cx="364.20" cy="452.00" r="2.9" fill="#000"/>
<circle cx="391.68" cy="436.91" r="2.9" fill="#000"/>
<circle cx="419.16" cy="389.87" r="2.9" fill="#000"/>
<circle cx="446.64" cy="368.63" r="2.9" fill="#000"/>
<circle cx="474.12" cy="362.94" r="2.9" fill="#000"/>
<circle cx="501.60" cy="357.57" r="2.9" fill="#000"/>
<circle cx="529.08" cy="354.89" r="2.9" fill="#000"/>
<polyline points="364.20,452.00 391.68,438.59 419.16,402.94 446.64,379.36 474.12,369.98 501.60,361.93 529.08,357.79" fill="none" stroke="#b01a0c" stroke-width="2.0" stroke-linejoin="round"/>
<line x1="391.68" y1="431.88" x2="391.68" y2="445.30" stroke="#b01a0c" stroke-width="1.9" stroke-linecap="butt"/>
<line x1="387.28" y1="431.88" x2="396.08" y2="431.88" stroke="#b01a0c" stroke-width="1.9" stroke-linecap="butt"/>
<line x1="387.28" y1="445.30" x2="396.08" y2="445.30" stroke="#b01a0c" stroke-width="1.9" stroke-linecap="butt"/>
<line x1="419.16" y1="381.71" x2="419.16" y2="424.17" stroke="#b01a0c" stroke-width="1.9" stroke-linecap="butt"/>
<line x1="414.76" y1="381.71" x2="423.56" y2="381.71" stroke="#b01a0c" stroke-width="1.9" stroke-linecap="butt"/>
<line x1="414.76" y1="424.17" x2="423.56" y2="424.17" stroke="#b01a0c" stroke-width="1.9" stroke-linecap="butt"/>
<line x1="446.64" y1="362.60" x2="446.64" y2="396.12" stroke="#b01a0c" stroke-width="1.9" stroke-linecap="butt"/>
<line x1="442.24" y1="362.60" x2="451.04" y2="362.60" stroke="#b01a0c" stroke-width="1.9" stroke-linecap="butt"/>
<line x1="442.24" y1="396.12" x2="451.04" y2="396.12" stroke="#b01a0c" stroke-width="1.9" stroke-linecap="butt"/>
<line x1="474.12" y1="361.04" x2="474.12" y2="378.92" stroke="#b01a0c" stroke-width="1.9" stroke-linecap="butt"/>
<line x1="469.72" y1="361.04" x2="478.52" y2="361.04" stroke="#b01a0c" stroke-width="1.9" stroke-linecap="butt"/>
<line x1="469.72" y1="378.92" x2="478.52" y2="378.92" stroke="#b01a0c" stroke-width="1.9" stroke-linecap="butt"/>
<line x1="501.60" y1="354.11" x2="501.60" y2="369.75" stroke="#b01a0c" stroke-width="1.9" stroke-linecap="butt"/>
<line x1="497.20" y1="354.11" x2="506.00" y2="354.11" stroke="#b01a0c" stroke-width="1.9" stroke-linecap="butt"/>
<line x1="497.20" y1="369.75" x2="506.00" y2="369.75" stroke="#b01a0c" stroke-width="1.9" stroke-linecap="butt"/>
<line x1="529.08" y1="348.85" x2="529.08" y2="366.73" stroke="#b01a0c" stroke-width="1.9" stroke-linecap="butt"/>
<line x1="524.68" y1="348.85" x2="533.48" y2="348.85" stroke="#b01a0c" stroke-width="1.9" stroke-linecap="butt"/>
<line x1="524.68" y1="366.73" x2="533.48" y2="366.73" stroke="#b01a0c" stroke-width="1.9" stroke-linecap="butt"/>
<circle cx="364.20" cy="452.00" r="2.9" fill="#b01a0c"/>
<circle cx="391.68" cy="438.59" r="2.9" fill="#b01a0c"/>
<circle cx="419.16" cy="402.94" r="2.9" fill="#b01a0c"/>
<circle cx="446.64" cy="379.36" r="2.9" fill="#b01a0c"/>
<circle cx="474.12" cy="369.98" r="2.9" fill="#b01a0c"/>
<circle cx="501.60" cy="361.93" r="2.9" fill="#b01a0c"/>
<circle cx="529.08" cy="357.79" r="2.9" fill="#b01a0c"/>
<polyline points="364.20,452.00 391.68,449.21 419.16,448.65 446.64,448.65 474.12,448.65 501.60,448.42 529.08,448.42" fill="none" stroke="#fdd64a" stroke-width="2.0" stroke-linejoin="round"/>
<circle cx="364.20" cy="452.00" r="3.6" fill="#fdd64a"/>
<circle cx="391.68" cy="449.21" r="3.6" fill="#fdd64a"/>
<circle cx="419.16" cy="448.65" r="3.6" fill="#fdd64a"/>
<circle cx="446.64" cy="448.65" r="3.6" fill="#fdd64a"/>
<circle cx="474.12" cy="448.65" r="3.6" fill="#fdd64a"/>
<circle cx="501.60" cy="448.42" r="3.6" fill="#fdd64a"/>
<circle cx="529.08" cy="448.42" r="3.6" fill="#fdd64a"/>
<rect x="366.00" y="307.50" width="11.80" height="11.10" fill="#000" stroke="#000" stroke-width="2"/>
<text x="381.30" y="319.40" font-size="16.8">WT</text>
<rect x="366.00" y="323.85" width="11.80" height="11.10" fill="#b01a0c" stroke="#000" stroke-width="2"/>
<text x="381.30" y="335.75" font-size="16.8"><tspan font-style="italic">Irf1</tspan><tspan font-style="italic" font-size="11.8" dy="-6.05">–/–</tspan></text>
<rect x="366.00" y="340.20" width="11.80" height="11.10" fill="#fdd84a" stroke="#000" stroke-width="2"/>
<text x="381.30" y="352.10" font-size="16.8"><tspan font-style="italic">Casp11</tspan><tspan font-style="italic" font-size="11.8" dy="-6.05">–/–</tspan></text>
<text x="303.80" y="552.00" font-size="22.4" font-weight="bold" fill="#000">H</text>
<text x="439.00" y="550.60" font-size="16.9" text-anchor="middle" fill="#000">Poly(dA:dT) transfection</text>
<line x1="347.00" y1="559.00" x2="530.00" y2="559.00" stroke="#000" stroke-width="1.6" stroke-linecap="butt"/>
<line x1="358.40" y1="581.20" x2="358.40" y2="717.20" stroke="#000" stroke-width="2.1" stroke-linecap="butt"/>
<line x1="357.40" y1="716.20" x2="536.90" y2="716.20" stroke="#000" stroke-width="2.1" stroke-linecap="butt"/>
<line x1="348.90" y1="716.20" x2="358.40" y2="716.20" stroke="#000" stroke-width="2.1" stroke-linecap="butt"/>
<text x="347.60" y="722.30" font-size="16.8" text-anchor="end" fill="#000">0</text>
<line x1="348.90" y1="671.47" x2="358.40" y2="671.47" stroke="#000" stroke-width="2.1" stroke-linecap="butt"/>
<text x="347.60" y="677.57" font-size="16.8" text-anchor="end" fill="#000">20</text>
<line x1="348.90" y1="626.73" x2="358.40" y2="626.73" stroke="#000" stroke-width="2.1" stroke-linecap="butt"/>
<text x="347.60" y="632.83" font-size="16.8" text-anchor="end" fill="#000">40</text>
<line x1="348.90" y1="582.00" x2="358.40" y2="582.00" stroke="#000" stroke-width="2.1" stroke-linecap="butt"/>
<text x="347.60" y="588.10" font-size="16.8" text-anchor="end" fill="#000">60</text>
<line x1="365.40" y1="716.20" x2="365.40" y2="722.70" stroke="#000" stroke-width="2.1" stroke-linecap="butt"/>
<text x="365.40" y="739.60" font-size="16.8" text-anchor="middle" fill="#000">0</text>
<line x1="392.83" y1="716.20" x2="392.83" y2="722.70" stroke="#000" stroke-width="2.1" stroke-linecap="butt"/>
<text x="392.83" y="739.60" font-size="16.8" text-anchor="middle" fill="#000">1</text>
<line x1="420.26" y1="716.20" x2="420.26" y2="722.70" stroke="#000" stroke-width="2.1" stroke-linecap="butt"/>
<text x="420.26" y="739.60" font-size="16.8" text-anchor="middle" fill="#000">2</text>
<line x1="447.69" y1="716.20" x2="447.69" y2="722.70" stroke="#000" stroke-width="2.1" stroke-linecap="butt"/>
<text x="447.69" y="739.60" font-size="16.8" text-anchor="middle" fill="#000">3</text>
<line x1="475.12" y1="716.20" x2="475.12" y2="722.70" stroke="#000" stroke-width="2.1" stroke-linecap="butt"/>
<text x="475.12" y="739.60" font-size="16.8" text-anchor="middle" fill="#000">4</text>
<line x1="502.55" y1="716.20" x2="502.55" y2="722.70" stroke="#000" stroke-width="2.1" stroke-linecap="butt"/>
<text x="502.55" y="739.60" font-size="16.8" text-anchor="middle" fill="#000">5</text>
<line x1="529.98" y1="716.20" x2="529.98" y2="722.70" stroke="#000" stroke-width="2.1" stroke-linecap="butt"/>
<text x="529.98" y="739.60" font-size="16.8" text-anchor="middle" fill="#000">6</text>
<text x="447.90" y="756.60" font-size="16.3" text-anchor="middle" fill="#000">Time (h)</text>
<text x="0" y="0" font-size="16.6" text-anchor="middle" transform="translate(319.40,649.30) rotate(-90)">PI<tspan font-size="11.0" dy="-6.5">+</tspan><tspan dy="6.5"> cells (%)/well</tspan></text>
<polyline points="365.40,716.20 392.83,691.82 420.26,662.07 447.69,641.27 475.12,625.39 502.55,616.00 529.98,611.97" fill="none" stroke="#000" stroke-width="2.0" stroke-linejoin="round"/>
<line x1="392.83" y1="686.23" x2="392.83" y2="697.41" stroke="#000" stroke-width="1.9" stroke-linecap="butt"/>
<line x1="388.43" y1="686.23" x2="397.23" y2="686.23" stroke="#000" stroke-width="1.9" stroke-linecap="butt"/>
<line x1="388.43" y1="697.41" x2="397.23" y2="697.41" stroke="#000" stroke-width="1.9" stroke-linecap="butt"/>
<line x1="420.26" y1="656.48" x2="420.26" y2="667.66" stroke="#000" stroke-width="1.9" stroke-linecap="butt"/>
<line x1="415.86" y1="656.48" x2="424.66" y2="656.48" stroke="#000" stroke-width="1.9" stroke-linecap="butt"/>
<line x1="415.86" y1="667.66" x2="424.66" y2="667.66" stroke="#000" stroke-width="1.9" stroke-linecap="butt"/>
<line x1="447.69" y1="635.68" x2="447.69" y2="646.86" stroke="#000" stroke-width="1.9" stroke-linecap="butt"/>
<line x1="443.29" y1="635.68" x2="452.09" y2="635.68" stroke="#000" stroke-width="1.9" stroke-linecap="butt"/>
<line x1="443.29" y1="646.86" x2="452.09" y2="646.86" stroke="#000" stroke-width="1.9" stroke-linecap="butt"/>
<line x1="475.12" y1="619.13" x2="475.12" y2="631.65" stroke="#000" stroke-width="1.9" stroke-linecap="butt"/>
<line x1="470.72" y1="619.13" x2="479.52" y2="619.13" stroke="#000" stroke-width="1.9" stroke-linecap="butt"/>
<line x1="470.72" y1="631.65" x2="479.52" y2="631.65" stroke="#000" stroke-width="1.9" stroke-linecap="butt"/>
<line x1="502.55" y1="610.41" x2="502.55" y2="621.59" stroke="#000" stroke-width="1.9" stroke-linecap="butt"/>
<line x1="498.15" y1="610.41" x2="506.95" y2="610.41" stroke="#000" stroke-width="1.9" stroke-linecap="butt"/>
<line x1="498.15" y1="621.59" x2="506.95" y2="621.59" stroke="#000" stroke-width="1.9" stroke-linecap="butt"/>
<line x1="529.98" y1="606.38" x2="529.98" y2="617.56" stroke="#000" stroke-width="1.9" stroke-linecap="butt"/>
<line x1="525.58" y1="606.38" x2="534.38" y2="606.38" stroke="#000" stroke-width="1.9" stroke-linecap="butt"/>
<line x1="525.58" y1="617.56" x2="534.38" y2="617.56" stroke="#000" stroke-width="1.9" stroke-linecap="butt"/>
<circle cx="365.40" cy="716.20" r="2.9" fill="#000"/>
<circle cx="392.83" cy="691.82" r="2.9" fill="#000"/>
<circle cx="420.26" cy="662.07" r="2.9" fill="#000"/>
<circle cx="447.69" cy="641.27" r="2.9" fill="#000"/>
<circle cx="475.12" cy="625.39" r="2.9" fill="#000"/>
<circle cx="502.55" cy="616.00" r="2.9" fill="#000"/>
<circle cx="529.98" cy="611.97" r="2.9" fill="#000"/>
<polyline points="365.40,716.20 392.83,698.75 420.26,667.44 447.69,639.48 475.12,612.20 502.55,608.39 529.98,605.04" fill="none" stroke="#b01a0c" stroke-width="2.0" stroke-linejoin="round"/>
<line x1="392.83" y1="695.40" x2="392.83" y2="702.11" stroke="#b01a0c" stroke-width="1.9" stroke-linecap="butt"/>
<line x1="388.43" y1="695.40" x2="397.23" y2="695.40" stroke="#b01a0c" stroke-width="1.9" stroke-linecap="butt"/>
<line x1="388.43" y1="702.11" x2="397.23" y2="702.11" stroke="#b01a0c" stroke-width="1.9" stroke-linecap="butt"/>
<line x1="420.26" y1="661.85" x2="420.26" y2="673.03" stroke="#b01a0c" stroke-width="1.9" stroke-linecap="butt"/>
<line x1="415.86" y1="661.85" x2="424.66" y2="661.85" stroke="#b01a0c" stroke-width="1.9" stroke-linecap="butt"/>
<line x1="415.86" y1="673.03" x2="424.66" y2="673.03" stroke="#b01a0c" stroke-width="1.9" stroke-linecap="butt"/>
<line x1="447.69" y1="631.65" x2="447.69" y2="647.31" stroke="#b01a0c" stroke-width="1.9" stroke-linecap="butt"/>
<line x1="443.29" y1="631.65" x2="452.09" y2="631.65" stroke="#b01a0c" stroke-width="1.9" stroke-linecap="butt"/>
<line x1="443.29" y1="647.31" x2="452.09" y2="647.31" stroke="#b01a0c" stroke-width="1.9" stroke-linecap="butt"/>
<line x1="475.12" y1="603.70" x2="475.12" y2="620.69" stroke="#b01a0c" stroke-width="1.9" stroke-linecap="butt"/>
<line x1="470.72" y1="603.70" x2="479.52" y2="603.70" stroke="#b01a0c" stroke-width="1.9" stroke-linecap="butt"/>
<line x1="470.72" y1="620.69" x2="479.52" y2="620.69" stroke="#b01a0c" stroke-width="1.9" stroke-linecap="butt"/>
<line x1="502.55" y1="599.00" x2="502.55" y2="617.79" stroke="#b01a0c" stroke-width="1.9" stroke-linecap="butt"/>
<line x1="498.15" y1="599.00" x2="506.95" y2="599.00" stroke="#b01a0c" stroke-width="1.9" stroke-linecap="butt"/>
<line x1="498.15" y1="617.79" x2="506.95" y2="617.79" stroke="#b01a0c" stroke-width="1.9" stroke-linecap="butt"/>
<line x1="529.98" y1="594.97" x2="529.98" y2="615.10" stroke="#b01a0c" stroke-width="1.9" stroke-linecap="butt"/>
<line x1="525.58" y1="594.97" x2="534.38" y2="594.97" stroke="#b01a0c" stroke-width="1.9" stroke-linecap="butt"/>
<line x1="525.58" y1="615.10" x2="534.38" y2="615.10" stroke="#b01a0c" stroke-width="1.9" stroke-linecap="butt"/>
<circle cx="365.40" cy="716.20" r="2.9" fill="#b01a0c"/>
<circle cx="392.83" cy="698.75" r="2.9" fill="#b01a0c"/>
<circle cx="420.26" cy="667.44" r="2.9" fill="#b01a0c"/>
<circle cx="447.69" cy="639.48" r="2.9" fill="#b01a0c"/>
<circle cx="475.12" cy="612.20" r="2.9" fill="#b01a0c"/>
<circle cx="502.55" cy="608.39" r="2.9" fill="#b01a0c"/>
<circle cx="529.98" cy="605.04" r="2.9" fill="#b01a0c"/>
<polyline points="365.40,715.53 392.83,715.08 420.26,715.08 447.69,714.41 475.12,713.29 502.55,713.07 529.98,712.85" fill="none" stroke="#fdd64a" stroke-width="2.0" stroke-linejoin="round"/>
<circle cx="365.40" cy="715.53" r="3.6" fill="#fdd64a"/>
<circle cx="392.83" cy="715.08" r="3.6" fill="#fdd64a"/>
<circle cx="420.26" cy="715.08" r="3.6" fill="#fdd64a"/>
<circle cx="447.69" cy="714.41" r="3.6" fill="#fdd64a"/>
<circle cx="475.12" cy="713.29" r="3.6" fill="#fdd64a"/>
<circle cx="502.55" cy="713.07" r="3.6" fill="#fdd64a"/>
<circle cx="529.98" cy="712.85" r="3.6" fill="#fdd64a"/>
<rect x="365.10" y="578.10" width="11.80" height="11.10" fill="#000" stroke="#000" stroke-width="2"/>
<text x="380.40" y="590.00" font-size="16.8">WT</text>
<rect x="365.10" y="596.10" width="11.80" height="11.10" fill="#b01a0c" stroke="#000" stroke-width="2"/>
<text x="380.40" y="608.00" font-size="16.8"><tspan font-style="italic">Irf1</tspan><tspan font-style="italic" font-size="11.8" dy="-6.05">–/–</tspan></text>
<rect x="365.10" y="614.10" width="11.80" height="11.10" fill="#fdd84a" stroke="#000" stroke-width="2"/>
<text x="380.40" y="626.00" font-size="16.8"><tspan font-style="italic">Aim2</tspan><tspan font-style="italic" font-size="11.8" dy="-6.05">–/–</tspan></text>
<text x="303.00" y="819.40" font-size="22.4" font-weight="bold" fill="#000">K</text>
<text x="443.40" y="822.40" font-size="16.95" text-anchor="middle" fill="#000">Flagellin transfection</text>
<line x1="356.50" y1="829.80" x2="540.00" y2="829.80" stroke="#000" stroke-width="1.6" stroke-linecap="butt"/>
<line x1="368.10" y1="851.60" x2="368.10" y2="987.00" stroke="#000" stroke-width="2.1" stroke-linecap="butt"/>
<line x1="367.10" y1="986.00" x2="546.00" y2="986.00" stroke="#000" stroke-width="2.1" stroke-linecap="butt"/>
<line x1="358.60" y1="986.00" x2="368.10" y2="986.00" stroke="#000" stroke-width="2.1" stroke-linecap="butt"/>
<text x="357.30" y="992.10" font-size="16.8" text-anchor="end" fill="#000">0</text>
<line x1="358.60" y1="941.47" x2="368.10" y2="941.47" stroke="#000" stroke-width="2.1" stroke-linecap="butt"/>
<text x="357.30" y="947.57" font-size="16.8" text-anchor="end" fill="#000">10</text>
<line x1="358.60" y1="896.93" x2="368.10" y2="896.93" stroke="#000" stroke-width="2.1" stroke-linecap="butt"/>
<text x="357.30" y="903.03" font-size="16.8" text-anchor="end" fill="#000">20</text>
<line x1="358.60" y1="852.40" x2="368.10" y2="852.40" stroke="#000" stroke-width="2.1" stroke-linecap="butt"/>
<text x="357.30" y="858.50" font-size="16.8" text-anchor="end" fill="#000">30</text>
<line x1="374.80" y1="986.00" x2="374.80" y2="992.50" stroke="#000" stroke-width="2.1" stroke-linecap="butt"/>
<text x="374.80" y="1009.40" font-size="16.8" text-anchor="middle" fill="#000">0</text>
<line x1="402.25" y1="986.00" x2="402.25" y2="992.50" stroke="#000" stroke-width="2.1" stroke-linecap="butt"/>
<text x="402.25" y="1009.40" font-size="16.8" text-anchor="middle" fill="#000">1</text>
<line x1="429.70" y1="986.00" x2="429.70" y2="992.50" stroke="#000" stroke-width="2.1" stroke-linecap="butt"/>
<text x="429.70" y="1009.40" font-size="16.8" text-anchor="middle" fill="#000">2</text>
<line x1="457.15" y1="986.00" x2="457.15" y2="992.50" stroke="#000" stroke-width="2.1" stroke-linecap="butt"/>
<text x="457.15" y="1009.40" font-size="16.8" text-anchor="middle" fill="#000">3</text>
<line x1="484.60" y1="986.00" x2="484.60" y2="992.50" stroke="#000" stroke-width="2.1" stroke-linecap="butt"/>
<text x="484.60" y="1009.40" font-size="16.8" text-anchor="middle" fill="#000">4</text>
<line x1="512.05" y1="986.00" x2="512.05" y2="992.50" stroke="#000" stroke-width="2.1" stroke-linecap="butt"/>
<text x="512.05" y="1009.40" font-size="16.8" text-anchor="middle" fill="#000">5</text>
<line x1="539.50" y1="986.00" x2="539.50" y2="992.50" stroke="#000" stroke-width="2.1" stroke-linecap="butt"/>
<text x="539.50" y="1009.40" font-size="16.8" text-anchor="middle" fill="#000">6</text>
<text x="457.20" y="1026.30" font-size="16.3" text-anchor="middle" fill="#000">Time (h)</text>
<text x="0" y="0" font-size="16.6" text-anchor="middle" transform="translate(331.60,919.00) rotate(-90)">PI<tspan font-size="11.0" dy="-6.5">+</tspan><tspan dy="6.5"> cells (%)/well</tspan></text>
<polyline points="374.80,985.11 402.25,952.60 429.70,928.11 457.15,906.73 484.60,890.25 512.05,882.24 539.50,876.00" fill="none" stroke="#000" stroke-width="2.0" stroke-linejoin="round"/>
<line x1="402.25" y1="950.37" x2="402.25" y2="954.83" stroke="#000" stroke-width="1.9" stroke-linecap="butt"/>
<line x1="397.85" y1="950.37" x2="406.65" y2="950.37" stroke="#000" stroke-width="1.9" stroke-linecap="butt"/>
<line x1="397.85" y1="954.83" x2="406.65" y2="954.83" stroke="#000" stroke-width="1.9" stroke-linecap="butt"/>
<line x1="429.70" y1="925.43" x2="429.70" y2="930.78" stroke="#000" stroke-width="1.9" stroke-linecap="butt"/>
<line x1="425.30" y1="925.43" x2="434.10" y2="925.43" stroke="#000" stroke-width="1.9" stroke-linecap="butt"/>
<line x1="425.30" y1="930.78" x2="434.10" y2="930.78" stroke="#000" stroke-width="1.9" stroke-linecap="butt"/>
<line x1="457.15" y1="903.17" x2="457.15" y2="910.29" stroke="#000" stroke-width="1.9" stroke-linecap="butt"/>
<line x1="452.75" y1="903.17" x2="461.55" y2="903.17" stroke="#000" stroke-width="1.9" stroke-linecap="butt"/>
<line x1="452.75" y1="910.29" x2="461.55" y2="910.29" stroke="#000" stroke-width="1.9" stroke-linecap="butt"/>
<line x1="484.60" y1="888.03" x2="484.60" y2="892.48" stroke="#000" stroke-width="1.9" stroke-linecap="butt"/>
<line x1="480.20" y1="888.03" x2="489.00" y2="888.03" stroke="#000" stroke-width="1.9" stroke-linecap="butt"/>
<line x1="480.20" y1="892.48" x2="489.00" y2="892.48" stroke="#000" stroke-width="1.9" stroke-linecap="butt"/>
<line x1="512.05" y1="878.67" x2="512.05" y2="885.80" stroke="#000" stroke-width="1.9" stroke-linecap="butt"/>
<line x1="507.65" y1="878.67" x2="516.45" y2="878.67" stroke="#000" stroke-width="1.9" stroke-linecap="butt"/>
<line x1="507.65" y1="885.80" x2="516.45" y2="885.80" stroke="#000" stroke-width="1.9" stroke-linecap="butt"/>
<line x1="539.50" y1="871.55" x2="539.50" y2="880.46" stroke="#000" stroke-width="1.9" stroke-linecap="butt"/>
<line x1="535.10" y1="871.55" x2="543.90" y2="871.55" stroke="#000" stroke-width="1.9" stroke-linecap="butt"/>
<line x1="535.10" y1="880.46" x2="543.90" y2="880.46" stroke="#000" stroke-width="1.9" stroke-linecap="butt"/>
<circle cx="374.80" cy="985.11" r="2.9" fill="#000"/>
<circle cx="402.25" cy="952.60" r="2.9" fill="#000"/>
<circle cx="429.70" cy="928.11" r="2.9" fill="#000"/>
<circle cx="457.15" cy="906.73" r="2.9" fill="#000"/>
<circle cx="484.60" cy="890.25" r="2.9" fill="#000"/>
<circle cx="512.05" cy="882.24" r="2.9" fill="#000"/>
<circle cx="539.50" cy="876.00" r="2.9" fill="#000"/>
<polyline points="374.80,985.11 402.25,959.28 429.70,934.79 457.15,910.29 484.60,889.36 512.05,879.12 539.50,873.33" fill="none" stroke="#b01a0c" stroke-width="2.0" stroke-linejoin="round"/>
<line x1="402.25" y1="955.27" x2="402.25" y2="963.29" stroke="#b01a0c" stroke-width="1.9" stroke-linecap="butt"/>
<line x1="397.85" y1="955.27" x2="406.65" y2="955.27" stroke="#b01a0c" stroke-width="1.9" stroke-linecap="butt"/>
<line x1="397.85" y1="963.29" x2="406.65" y2="963.29" stroke="#b01a0c" stroke-width="1.9" stroke-linecap="butt"/>
<line x1="429.70" y1="929.00" x2="429.70" y2="940.58" stroke="#b01a0c" stroke-width="1.9" stroke-linecap="butt"/>
<line x1="425.30" y1="929.00" x2="434.10" y2="929.00" stroke="#b01a0c" stroke-width="1.9" stroke-linecap="butt"/>
<line x1="425.30" y1="940.58" x2="434.10" y2="940.58" stroke="#b01a0c" stroke-width="1.9" stroke-linecap="butt"/>
<line x1="457.15" y1="904.95" x2="457.15" y2="915.64" stroke="#b01a0c" stroke-width="1.9" stroke-linecap="butt"/>
<line x1="452.75" y1="904.95" x2="461.55" y2="904.95" stroke="#b01a0c" stroke-width="1.9" stroke-linecap="butt"/>
<line x1="452.75" y1="915.64" x2="461.55" y2="915.64" stroke="#b01a0c" stroke-width="1.9" stroke-linecap="butt"/>
<line x1="484.60" y1="887.14" x2="484.60" y2="891.59" stroke="#b01a0c" stroke-width="1.9" stroke-linecap="butt"/>
<line x1="480.20" y1="887.14" x2="489.00" y2="887.14" stroke="#b01a0c" stroke-width="1.9" stroke-linecap="butt"/>
<line x1="480.20" y1="891.59" x2="489.00" y2="891.59" stroke="#b01a0c" stroke-width="1.9" stroke-linecap="butt"/>
<line x1="512.05" y1="874.67" x2="512.05" y2="883.57" stroke="#b01a0c" stroke-width="1.9" stroke-linecap="butt"/>
<line x1="507.65" y1="874.67" x2="516.45" y2="874.67" stroke="#b01a0c" stroke-width="1.9" stroke-linecap="butt"/>
<line x1="507.65" y1="883.57" x2="516.45" y2="883.57" stroke="#b01a0c" stroke-width="1.9" stroke-linecap="butt"/>
<line x1="539.50" y1="867.99" x2="539.50" y2="878.67" stroke="#b01a0c" stroke-width="1.9" stroke-linecap="butt"/>
<line x1="535.10" y1="867.99" x2="543.90" y2="867.99" stroke="#b01a0c" stroke-width="1.9" stroke-linecap="butt"/>
<line x1="535.10" y1="878.67" x2="543.90" y2="878.67" stroke="#b01a0c" stroke-width="1.9" stroke-linecap="butt"/>
<circle cx="374.80" cy="985.11" r="2.9" fill="#b01a0c"/>
<circle cx="402.25" cy="959.28" r="2.9" fill="#b01a0c"/>
<circle cx="429.70" cy="934.79" r="2.9" fill="#b01a0c"/>
<circle cx="457.15" cy="910.29" r="2.9" fill="#b01a0c"/>
<circle cx="484.60" cy="889.36" r="2.9" fill="#b01a0c"/>
<circle cx="512.05" cy="879.12" r="2.9" fill="#b01a0c"/>
<circle cx="539.50" cy="873.33" r="2.9" fill="#b01a0c"/>
<polyline points="374.80,985.11 402.25,984.66 429.70,985.11 457.15,981.99 484.60,980.21 512.05,981.99 539.50,981.55" fill="none" stroke="#fdd64a" stroke-width="2.0" stroke-linejoin="round"/>
<circle cx="374.80" cy="985.11" r="3.6" fill="#fdd64a"/>
<circle cx="402.25" cy="984.66" r="3.6" fill="#fdd64a"/>
<circle cx="429.70" cy="985.11" r="3.6" fill="#fdd64a"/>
<circle cx="457.15" cy="981.99" r="3.6" fill="#fdd64a"/>
<circle cx="484.60" cy="980.21" r="3.6" fill="#fdd64a"/>
<circle cx="512.05" cy="981.99" r="3.6" fill="#fdd64a"/>
<circle cx="539.50" cy="981.55" r="3.6" fill="#fdd64a"/>
<rect x="375.00" y="851.40" width="11.80" height="11.10" fill="#000" stroke="#000" stroke-width="2"/>
<text x="390.30" y="863.30" font-size="16.8">WT</text>
<rect x="375.00" y="869.40" width="11.80" height="11.10" fill="#b01a0c" stroke="#000" stroke-width="2"/>
<text x="390.30" y="881.30" font-size="16.8"><tspan font-style="italic">Irf1</tspan><tspan font-style="italic" font-size="11.8" dy="-6.05">–/–</tspan></text>
<rect x="375.00" y="887.40" width="11.80" height="11.10" fill="#fdd84a" stroke="#000" stroke-width="2"/>
<text x="390.30" y="899.30" font-size="16.8"><tspan font-style="italic">Nlrc4</tspan><tspan font-style="italic" font-size="11.8" dy="-6.05">–/–</tspan></text>
<text x="567.00" y="18.20" font-size="22.4" font-weight="bold" fill="#000">C</text>
<text x="690.00" y="20.80" font-size="17.4" text-anchor="middle" fill="#000">LPS + ATP</text>
<line x1="606.00" y1="28.60" x2="774.00" y2="28.60" stroke="#000" stroke-width="1.6" stroke-linecap="butt"/>
<line x1="637.20" y1="55.00" x2="637.20" y2="191.00" stroke="#000" stroke-width="2.1" stroke-linecap="butt"/>
<line x1="627.70" y1="190.00" x2="637.20" y2="190.00" stroke="#000" stroke-width="2.1" stroke-linecap="butt"/>
<text x="626.40" y="196.10" font-size="16.8" text-anchor="end" fill="#000">0</text>
<line x1="627.70" y1="145.27" x2="637.20" y2="145.27" stroke="#000" stroke-width="2.1" stroke-linecap="butt"/>
<text x="626.40" y="151.37" font-size="16.8" text-anchor="end" fill="#000">1000</text>
<line x1="627.70" y1="100.53" x2="637.20" y2="100.53" stroke="#000" stroke-width="2.1" stroke-linecap="butt"/>
<text x="626.40" y="106.63" font-size="16.8" text-anchor="end" fill="#000">2000</text>
<line x1="627.70" y1="55.80" x2="637.20" y2="55.80" stroke="#000" stroke-width="2.1" stroke-linecap="butt"/>
<text x="626.40" y="61.90" font-size="16.8" text-anchor="end" fill="#000">3000</text>
<text x="0" y="0" font-size="17.7" text-anchor="middle" transform="translate(578.40,122.00) rotate(-90)">IL-18 (pg/ml)</text>
<rect x="649.30" y="106.21" width="19.60" height="83.79" fill="#fff" stroke="#000" stroke-width="1.8"/>
<rect x="682.90" y="98.03" width="19.60" height="91.97" fill="#fff" stroke="#000" stroke-width="1.8"/>
<line x1="636.20" y1="190.00" x2="748.20" y2="190.00" stroke="#000" stroke-width="2.1" stroke-linecap="butt"/>
<circle cx="659.50" cy="78.17" r="4.3" fill="#000"/>
<circle cx="666.20" cy="100.98" r="4.3" fill="#000"/>
<circle cx="652.60" cy="105.01" r="4.3" fill="#000"/>
<circle cx="652.60" cy="123.79" r="4.3" fill="#000"/>
<circle cx="665.30" cy="118.87" r="4.3" fill="#000"/>
<line x1="659.10" y1="88.54" x2="659.10" y2="123.88" stroke="#000" stroke-width="1.8" stroke-linecap="butt"/>
<line x1="652.80" y1="88.54" x2="665.40" y2="88.54" stroke="#000" stroke-width="1.8" stroke-linecap="butt"/>
<line x1="652.80" y1="123.88" x2="665.40" y2="123.88" stroke="#000" stroke-width="1.8" stroke-linecap="butt"/>
<circle cx="692.60" cy="82.19" r="4.3" fill="#b01a0c"/>
<circle cx="699.30" cy="92.03" r="4.3" fill="#b01a0c"/>
<circle cx="685.90" cy="96.28" r="4.3" fill="#b01a0c"/>
<circle cx="699.30" cy="105.23" r="4.3" fill="#b01a0c"/>
<circle cx="685.90" cy="109.70" r="4.3" fill="#b01a0c"/>
<line x1="692.70" y1="87.29" x2="692.70" y2="108.76" stroke="#000" stroke-width="1.8" stroke-linecap="butt"/>
<line x1="686.40" y1="87.29" x2="699.00" y2="87.29" stroke="#000" stroke-width="1.8" stroke-linecap="butt"/>
<line x1="686.40" y1="108.76" x2="699.00" y2="108.76" stroke="#000" stroke-width="1.8" stroke-linecap="butt"/>
<circle cx="719.30" cy="188.88" r="4.3" fill="#fdd84a"/>
<circle cx="722.80" cy="185.75" r="4.3" fill="#fdd84a"/>
<circle cx="728.60" cy="188.88" r="4.3" fill="#fdd84a"/>
<circle cx="732.60" cy="189.33" r="4.3" fill="#fdd84a"/>
<circle cx="726.30" cy="189.11" r="4.3" fill="#fdd84a"/>
<text x="674.30" y="47.50" font-size="16" text-anchor="middle" fill="#000">ns</text>
<line x1="652.00" y1="55.40" x2="694.00" y2="55.40" stroke="#000" stroke-width="2" stroke-linecap="butt"/>
<text x="0" y="0" font-size="16.4" text-anchor="end" transform="translate(663.60,205.50) rotate(-45)">WT</text>
<text x="0" y="0" font-size="16.4" text-anchor="end" transform="translate(699.70,205.50) rotate(-45)"><tspan font-style="italic">Irf1</tspan><tspan font-style="italic" font-size="11.5" dy="-5.90">–/–</tspan></text>
<text x="0" y="0" font-size="16.4" text-anchor="end" transform="translate(730.30,205.50) rotate(-45)"><tspan font-style="italic">Nlrp3</tspan><tspan font-style="italic" font-size="11.5" dy="-5.90">–/–</tspan></text>
<text x="567.60" y="282.70" font-size="22.4" font-weight="bold" fill="#000">F</text>
<text x="690.00" y="282.80" font-size="16.8" text-anchor="middle" fill="#000">LPS transfection</text>
<line x1="606.00" y1="289.80" x2="774.00" y2="289.80" stroke="#000" stroke-width="1.6" stroke-linecap="butt"/>
<line x1="635.20" y1="319.30" x2="635.20" y2="454.30" stroke="#000" stroke-width="2.1" stroke-linecap="butt"/>
<line x1="625.70" y1="453.30" x2="635.20" y2="453.30" stroke="#000" stroke-width="2.1" stroke-linecap="butt"/>
<text x="624.40" y="459.40" font-size="16.8" text-anchor="end" fill="#000">0</text>
<line x1="625.70" y1="420.00" x2="635.20" y2="420.00" stroke="#000" stroke-width="2.1" stroke-linecap="butt"/>
<text x="624.40" y="426.10" font-size="16.8" text-anchor="end" fill="#000">500</text>
<line x1="625.70" y1="386.70" x2="635.20" y2="386.70" stroke="#000" stroke-width="2.1" stroke-linecap="butt"/>
<text x="624.40" y="392.80" font-size="16.8" text-anchor="end" fill="#000">1000</text>
<line x1="625.70" y1="353.40" x2="635.20" y2="353.40" stroke="#000" stroke-width="2.1" stroke-linecap="butt"/>
<text x="624.40" y="359.50" font-size="16.8" text-anchor="end" fill="#000">1500</text>
<line x1="625.70" y1="320.10" x2="635.20" y2="320.10" stroke="#000" stroke-width="2.1" stroke-linecap="butt"/>
<text x="624.40" y="326.20" font-size="16.8" text-anchor="end" fill="#000">2000</text>
<text x="0" y="0" font-size="17.7" text-anchor="middle" transform="translate(578.40,387.00) rotate(-90)">IL-18 (pg/ml)</text>
<rect x="647.30" y="382.50" width="19.80" height="70.80" fill="#fff" stroke="#000" stroke-width="1.8"/>
<rect x="680.80" y="376.71" width="19.80" height="76.59" fill="#fff" stroke="#000" stroke-width="1.8"/>
<line x1="634.20" y1="453.30" x2="745.50" y2="453.30" stroke="#000" stroke-width="2.1" stroke-linecap="butt"/>
<circle cx="650.80" cy="366.92" r="4.3" fill="#000"/>
<circle cx="657.70" cy="373.78" r="4.3" fill="#000"/>
<circle cx="658.00" cy="387.63" r="4.3" fill="#000"/>
<circle cx="663.50" cy="387.03" r="4.3" fill="#000"/>
<circle cx="651.10" cy="393.43" r="4.3" fill="#000"/>
<line x1="657.20" y1="371.05" x2="657.20" y2="393.96" stroke="#000" stroke-width="1.8" stroke-linecap="butt"/>
<line x1="650.90" y1="371.05" x2="663.50" y2="371.05" stroke="#000" stroke-width="1.8" stroke-linecap="butt"/>
<line x1="650.90" y1="393.96" x2="663.50" y2="393.96" stroke="#000" stroke-width="1.8" stroke-linecap="butt"/>
<circle cx="690.60" cy="353.27" r="4.3" fill="#b01a0c"/>
<circle cx="690.60" cy="366.92" r="4.3" fill="#b01a0c"/>
<circle cx="684.20" cy="386.90" r="4.3" fill="#b01a0c"/>
<circle cx="697.50" cy="386.90" r="4.3" fill="#b01a0c"/>
<circle cx="690.70" cy="386.03" r="4.3" fill="#b01a0c"/>
<line x1="690.70" y1="360.59" x2="690.70" y2="392.83" stroke="#b01a0c" stroke-width="1.8" stroke-linecap="butt"/>
<line x1="684.40" y1="360.59" x2="697.00" y2="360.59" stroke="#b01a0c" stroke-width="1.8" stroke-linecap="butt"/>
<line x1="684.40" y1="392.83" x2="697.00" y2="392.83" stroke="#b01a0c" stroke-width="1.8" stroke-linecap="butt"/>
<circle cx="718.10" cy="452.30" r="4.3" fill="#fdd84a"/>
<circle cx="722.10" cy="451.63" r="4.3" fill="#fdd84a"/>
<circle cx="726.10" cy="452.30" r="4.3" fill="#fdd84a"/>
<circle cx="730.10" cy="452.63" r="4.3" fill="#fdd84a"/>
<circle cx="724.10" cy="451.97" r="4.3" fill="#fdd84a"/>
<text x="673.30" y="311.80" font-size="16" text-anchor="middle" fill="#000">ns</text>
<line x1="651.40" y1="318.00" x2="693.00" y2="318.00" stroke="#000" stroke-width="2" stroke-linecap="butt"/>
<text x="0" y="0" font-size="16.4" text-anchor="end" transform="translate(661.70,469.00) rotate(-45)">WT</text>
<text x="0" y="0" font-size="16.4" text-anchor="end" transform="translate(697.70,469.00) rotate(-45)"><tspan font-style="italic">Irf1</tspan><tspan font-style="italic" font-size="11.5" dy="-5.90">–/–</tspan></text>
<text x="0" y="0" font-size="16.4" text-anchor="end" transform="translate(728.10,469.00) rotate(-45)"><tspan font-style="italic">Casp11</tspan><tspan font-style="italic" font-size="11.5" dy="-5.90">–/–</tspan></text>
<text x="567.40" y="551.60" font-size="22.4" font-weight="bold" fill="#000">I</text>
<text x="690.00" y="550.80" font-size="16.9" text-anchor="middle" fill="#000">Poly(dA:dT) transfection</text>
<line x1="606.00" y1="558.80" x2="774.00" y2="558.80" stroke="#000" stroke-width="1.6" stroke-linecap="butt"/>
<line x1="637.80" y1="585.70" x2="637.80" y2="720.80" stroke="#000" stroke-width="2.1" stroke-linecap="butt"/>
<line x1="628.30" y1="719.80" x2="637.80" y2="719.80" stroke="#000" stroke-width="2.1" stroke-linecap="butt"/>
<text x="627.00" y="725.90" font-size="16.8" text-anchor="end" fill="#000">0</text>
<line x1="628.30" y1="675.37" x2="637.80" y2="675.37" stroke="#000" stroke-width="2.1" stroke-linecap="butt"/>
<text x="627.00" y="681.47" font-size="16.8" text-anchor="end" fill="#000">1000</text>
<line x1="628.30" y1="630.93" x2="637.80" y2="630.93" stroke="#000" stroke-width="2.1" stroke-linecap="butt"/>
<text x="627.00" y="637.03" font-size="16.8" text-anchor="end" fill="#000">2000</text>
<line x1="628.30" y1="586.50" x2="637.80" y2="586.50" stroke="#000" stroke-width="2.1" stroke-linecap="butt"/>
<text x="627.00" y="592.60" font-size="16.8" text-anchor="end" fill="#000">3000</text>
<text x="0" y="0" font-size="17.7" text-anchor="middle" transform="translate(578.40,653.00) rotate(-90)">IL-18 (pg/ml)</text>
<rect x="650.00" y="624.71" width="19.60" height="95.09" fill="#fff" stroke="#000" stroke-width="1.8"/>
<rect x="683.40" y="629.20" width="19.60" height="90.60" fill="#fff" stroke="#000" stroke-width="1.8"/>
<rect x="716.60" y="716.25" width="19.60" height="3.55" fill="#fff" stroke="#000" stroke-width="1.8"/>
<line x1="636.80" y1="719.80" x2="748.20" y2="719.80" stroke="#000" stroke-width="2.1" stroke-linecap="butt"/>
<circle cx="659.80" cy="612.58" r="4.3" fill="#000"/>
<circle cx="666.90" cy="617.51" r="4.3" fill="#000"/>
<circle cx="659.30" cy="621.51" r="4.3" fill="#000"/>
<circle cx="663.30" cy="631.38" r="4.3" fill="#000"/>
<circle cx="656.60" cy="635.51" r="4.3" fill="#000"/>
<line x1="659.80" y1="614.80" x2="659.80" y2="634.62" stroke="#000" stroke-width="1.8" stroke-linecap="butt"/>
<line x1="653.50" y1="614.80" x2="666.10" y2="614.80" stroke="#000" stroke-width="1.8" stroke-linecap="butt"/>
<line x1="653.50" y1="634.62" x2="666.10" y2="634.62" stroke="#000" stroke-width="1.8" stroke-linecap="butt"/>
<circle cx="693.40" cy="608.49" r="4.3" fill="#b01a0c"/>
<circle cx="693.40" cy="618.00" r="4.3" fill="#b01a0c"/>
<circle cx="693.00" cy="635.51" r="4.3" fill="#b01a0c"/>
<circle cx="700.10" cy="635.91" r="4.3" fill="#b01a0c"/>
<circle cx="686.70" cy="642.17" r="4.3" fill="#b01a0c"/>
<line x1="693.20" y1="614.18" x2="693.20" y2="644.22" stroke="#b01a0c" stroke-width="1.8" stroke-linecap="butt"/>
<line x1="686.90" y1="614.18" x2="699.50" y2="614.18" stroke="#b01a0c" stroke-width="1.8" stroke-linecap="butt"/>
<line x1="686.90" y1="644.22" x2="699.50" y2="644.22" stroke="#b01a0c" stroke-width="1.8" stroke-linecap="butt"/>
<circle cx="726.40" cy="705.18" r="4.3" fill="#fdd84a"/>
<circle cx="719.40" cy="719.13" r="4.3" fill="#fdd84a"/>
<circle cx="723.90" cy="718.69" r="4.3" fill="#fdd84a"/>
<circle cx="728.90" cy="718.69" r="4.3" fill="#fdd84a"/>
<circle cx="733.40" cy="719.13" r="4.3" fill="#fdd84a"/>
<line x1="726.40" y1="710.02" x2="726.40" y2="719.80" stroke="#fdd84a" stroke-width="1.8" stroke-linecap="butt"/>
<line x1="720.10" y1="710.02" x2="732.70" y2="710.02" stroke="#fdd84a" stroke-width="1.8" stroke-linecap="butt"/>
<line x1="720.10" y1="719.80" x2="732.70" y2="719.80" stroke="#fdd84a" stroke-width="1.8" stroke-linecap="butt"/>
<text x="675.00" y="575.80" font-size="16" text-anchor="middle" fill="#000">ns</text>
<line x1="654.00" y1="582.50" x2="695.40" y2="582.50" stroke="#000" stroke-width="2" stroke-linecap="butt"/>
<text x="0" y="0" font-size="16.4" text-anchor="end" transform="translate(664.30,735.50) rotate(-45)">WT</text>
<text x="0" y="0" font-size="16.4" text-anchor="end" transform="translate(700.20,735.50) rotate(-45)"><tspan font-style="italic">Irf1</tspan><tspan font-style="italic" font-size="11.5" dy="-5.90">–/–</tspan></text>
<text x="0" y="0" font-size="16.4" text-anchor="end" transform="translate(730.40,735.50) rotate(-45)"><tspan font-style="italic">Aim2</tspan><tspan font-style="italic" font-size="11.5" dy="-5.90">–/–</tspan></text>
<text x="567.60" y="818.80" font-size="22.4" font-weight="bold" fill="#000">L</text>
<text x="690.00" y="822.40" font-size="16.95" text-anchor="middle" fill="#000">Flagellin transfection</text>
<line x1="605.50" y1="829.40" x2="774.00" y2="829.40" stroke="#000" stroke-width="1.6" stroke-linecap="butt"/>
<line x1="636.30" y1="854.40" x2="636.30" y2="989.50" stroke="#000" stroke-width="2.1" stroke-linecap="butt"/>
<line x1="626.80" y1="988.50" x2="636.30" y2="988.50" stroke="#000" stroke-width="2.1" stroke-linecap="butt"/>
<text x="625.50" y="994.60" font-size="16.8" text-anchor="end" fill="#000">0</text>
<line x1="626.80" y1="944.07" x2="636.30" y2="944.07" stroke="#000" stroke-width="2.1" stroke-linecap="butt"/>
<text x="625.50" y="950.17" font-size="16.8" text-anchor="end" fill="#000">500</text>
<line x1="626.80" y1="899.63" x2="636.30" y2="899.63" stroke="#000" stroke-width="2.1" stroke-linecap="butt"/>
<text x="625.50" y="905.73" font-size="16.8" text-anchor="end" fill="#000">1000</text>
<line x1="626.80" y1="855.20" x2="636.30" y2="855.20" stroke="#000" stroke-width="2.1" stroke-linecap="butt"/>
<text x="625.50" y="861.30" font-size="16.8" text-anchor="end" fill="#000">1500</text>
<text x="0" y="0" font-size="17.7" text-anchor="middle" transform="translate(578.40,921.00) rotate(-90)">IL-18 (pg/ml)</text>
<rect x="648.40" y="895.99" width="19.60" height="92.51" fill="#fff" stroke="#000" stroke-width="1.8"/>
<rect x="682.00" y="895.63" width="19.60" height="92.87" fill="#fff" stroke="#000" stroke-width="1.8"/>
<line x1="635.30" y1="988.50" x2="747.50" y2="988.50" stroke="#000" stroke-width="2.1" stroke-linecap="butt"/>
<circle cx="658.40" cy="881.24" r="4.3" fill="#000"/>
<circle cx="665.10" cy="890.57" r="4.3" fill="#000"/>
<circle cx="651.70" cy="895.10" r="4.3" fill="#000"/>
<circle cx="664.70" cy="899.63" r="4.3" fill="#000"/>
<circle cx="658.40" cy="908.96" r="4.3" fill="#000"/>
<line x1="658.20" y1="886.21" x2="658.20" y2="905.77" stroke="#000" stroke-width="1.8" stroke-linecap="butt"/>
<line x1="651.90" y1="886.21" x2="664.50" y2="886.21" stroke="#000" stroke-width="1.8" stroke-linecap="butt"/>
<line x1="651.90" y1="905.77" x2="664.50" y2="905.77" stroke="#000" stroke-width="1.8" stroke-linecap="butt"/>
<circle cx="691.80" cy="872.71" r="4.3" fill="#b01a0c"/>
<circle cx="691.80" cy="881.68" r="4.3" fill="#b01a0c"/>
<circle cx="685.10" cy="901.41" r="4.3" fill="#b01a0c"/>
<circle cx="698.50" cy="904.61" r="4.3" fill="#b01a0c"/>
<circle cx="691.80" cy="914.03" r="4.3" fill="#b01a0c"/>
<line x1="691.80" y1="879.02" x2="691.80" y2="912.25" stroke="#b01a0c" stroke-width="1.8" stroke-linecap="butt"/>
<line x1="685.50" y1="879.02" x2="698.10" y2="879.02" stroke="#b01a0c" stroke-width="1.8" stroke-linecap="butt"/>
<line x1="685.50" y1="912.25" x2="698.10" y2="912.25" stroke="#b01a0c" stroke-width="1.8" stroke-linecap="butt"/>
<circle cx="719.40" cy="987.17" r="4.3" fill="#fdd84a"/>
<circle cx="723.40" cy="986.28" r="4.3" fill="#fdd84a"/>
<circle cx="727.40" cy="987.17" r="4.3" fill="#fdd84a"/>
<circle cx="731.40" cy="987.61" r="4.3" fill="#fdd84a"/>
<circle cx="725.40" cy="986.72" r="4.3" fill="#fdd84a"/>
<text x="673.30" y="847.50" font-size="16" text-anchor="middle" fill="#000">ns</text>
<line x1="652.30" y1="852.50" x2="693.80" y2="852.50" stroke="#000" stroke-width="2" stroke-linecap="butt"/>
<text x="0" y="0" font-size="16.4" text-anchor="end" transform="translate(662.70,1004.00) rotate(-45)">WT</text>
<text x="0" y="0" font-size="16.4" text-anchor="end" transform="translate(698.80,1004.00) rotate(-45)"><tspan font-style="italic">Irf1</tspan><tspan font-style="italic" font-size="11.5" dy="-5.90">–/–</tspan></text>
<text x="0" y="0" font-size="16.4" text-anchor="end" transform="translate(729.40,1004.00) rotate(-45)"><tspan font-style="italic">Nlrc4</tspan><tspan font-style="italic" font-size="11.5" dy="-5.90">–/–</tspan></text>
</svg></body></html>
